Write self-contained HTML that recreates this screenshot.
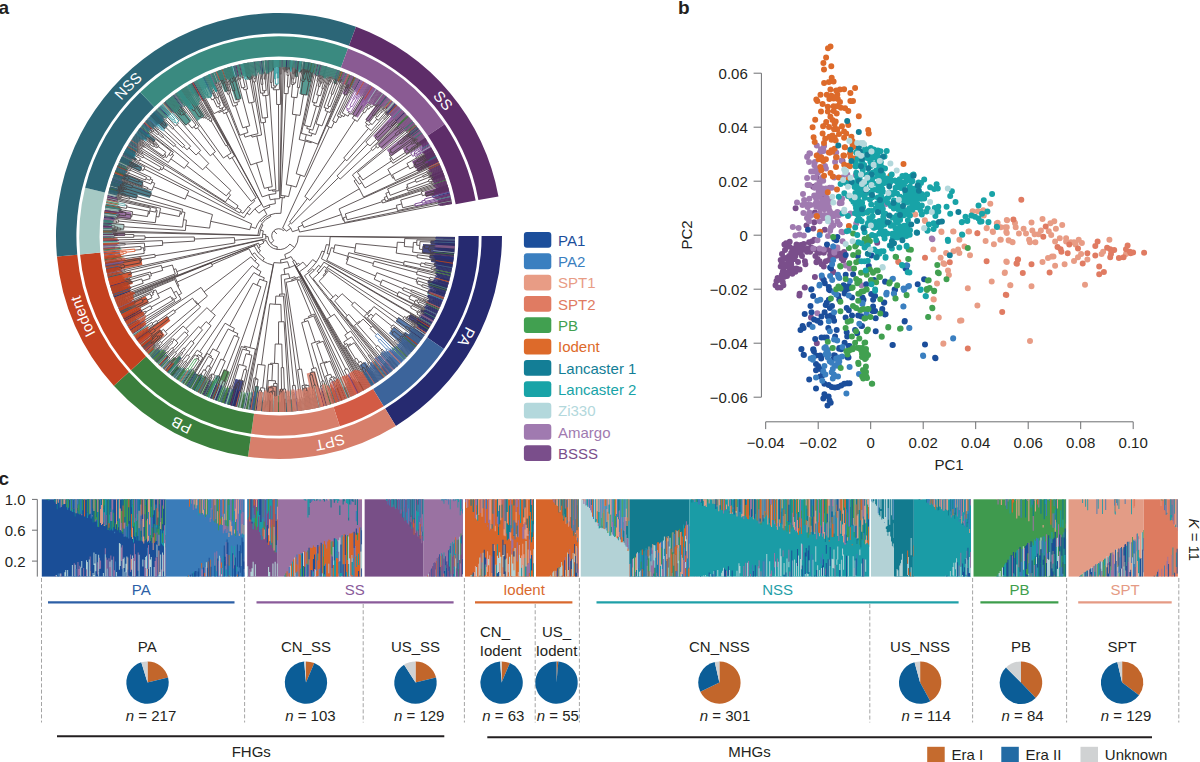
<!DOCTYPE html><html><head><meta charset="utf-8"><style>html,body{margin:0;padding:0;background:#fff;}svg{display:block;font-family:"Liberation Sans", sans-serif;}</style></head><body>
<svg width="1200" height="762" viewBox="0 0 1200 762">
<rect width="1200" height="762" fill="#fff"/>
<g font-weight="bold" font-size="19" fill="#231f20">
<text x="-1.5" y="13.8">a</text><text x="678" y="13.8">b</text><text x="-1.5" y="484.7">c</text></g>
<path d="M502 236A223 223 0 0 1 395.85 425.94L385.16 408.56A202.6 202.6 0 0 0 481.6 236Z" fill="#262a70"/>
<path d="M395.85 425.94A223 223 0 0 1 247.96 456.83L250.8 436.63A202.6 202.6 0 0 0 385.16 408.56Z" fill="#d77f6b"/>
<path d="M247.96 456.83A223 223 0 0 1 113.8 385.79L128.91 372.09A202.6 202.6 0 0 0 250.8 436.63Z" fill="#3b7f3d"/>
<path d="M113.8 385.79A223 223 0 0 1 56.95 256.6L77.27 254.71A202.6 202.6 0 0 0 128.91 372.09Z" fill="#c4411f"/>
<path d="M56.95 256.6A223 223 0 0 1 356 26.72L348.96 45.86A202.6 202.6 0 0 0 77.27 254.71Z" fill="#2c6677"/>
<path d="M356 26.72A223 223 0 0 1 498.48 196.51L478.4 200.12A202.6 202.6 0 0 0 348.96 45.86Z" fill="#5e2d69"/>
<path d="M478.8 236A199.8 199.8 0 0 1 443.86 348.88L427.11 337.41A179.5 179.5 0 0 0 458.5 236Z" fill="#262a70"/>
<path d="M443.86 348.88A199.8 199.8 0 0 1 383.69 406.18L373.06 388.88A179.5 179.5 0 0 0 427.11 337.41Z" fill="#3c649b"/>
<path d="M383.69 406.18A199.8 199.8 0 0 1 339.75 426.34L333.57 407A179.5 179.5 0 0 0 373.06 388.88Z" fill="#d35b45"/>
<path d="M339.75 426.34A199.8 199.8 0 0 1 251.19 433.86L254.02 413.75A179.5 179.5 0 0 0 333.57 407Z" fill="#d77f6b"/>
<path d="M251.19 433.86A199.8 199.8 0 0 1 130.99 370.21L146.03 356.57A179.5 179.5 0 0 0 254.02 413.75Z" fill="#3b7f3d"/>
<path d="M130.99 370.21A199.8 199.8 0 0 1 80.05 254.46L100.27 252.58A179.5 179.5 0 0 0 146.03 356.57Z" fill="#c4411f"/>
<path d="M80.05 254.46A199.8 199.8 0 0 1 85.13 187.66L104.83 192.58A179.5 179.5 0 0 0 100.27 252.58Z" fill="#a6c9c4"/>
<path d="M85.13 187.66A199.8 199.8 0 0 1 140.21 92.28L154.31 106.88A179.5 179.5 0 0 0 104.83 192.58Z" fill="#2c6677"/>
<path d="M140.21 92.28A199.8 199.8 0 0 1 347.99 48.49L340.98 67.54A179.5 179.5 0 0 0 154.31 106.88Z" fill="#3a8a80"/>
<path d="M347.99 48.49A199.8 199.8 0 0 1 444.64 124.27L427.81 135.62A179.5 179.5 0 0 0 340.98 67.54Z" fill="#8a5b93"/>
<path d="M444.64 124.27A199.8 199.8 0 0 1 475.64 200.62L455.66 204.21A179.5 179.5 0 0 0 427.81 135.62Z" fill="#5e2d69"/>
<defs><path id="circ" d="M486.6 236A207.6 207.6 0 1 1 71.4 236A207.6 207.6 0 1 1 486.6 236"/></defs>
<text font-size="15" fill="#fff" text-anchor="middle"><textPath href="#circ" startOffset="814.52">NSS</textPath></text>
<text font-size="15" fill="#fff" text-anchor="middle"><textPath href="#circ" startOffset="1160.91">SS</textPath></text>
<text font-size="15" fill="#fff" text-anchor="middle"><textPath href="#circ" startOffset="102.54">PA</textPath></text>
<text font-size="15" fill="#fff" text-anchor="middle"><textPath href="#circ" startOffset="275.73">SPT</textPath></text>
<text font-size="15" fill="#fff" text-anchor="middle"><textPath href="#circ" startOffset="425.01">PB</textPath></text>
<text font-size="15" fill="#fff" text-anchor="middle"><textPath href="#circ" startOffset="571.39">Iodent</textPath></text>
<path d="M454.9 241.4A176 176 0 0 1 454.7 245.9L430.6 244.5A151.8 151.8 0 0 0 430.8 240.7ZM454.8 244.1A176 176 0 0 1 454.7 245.9L441.7 245.2A162.9 162.9 0 0 0 441.8 243.5ZM454.7 245.9A176 176 0 0 1 453.8 256.6L422.3 252.9A144.3 144.3 0 0 0 423 244.1ZM454.6 247.7A176 176 0 0 1 453.9 255.7L428.4 252.9A150.4 150.4 0 0 0 429 246ZM454.6 247.7A176 176 0 0 1 454.5 249.5L440.1 248.4A161.6 161.6 0 0 0 440.3 246.7ZM454.5 249.5A176 176 0 0 1 454.2 253.1L438.3 251.5A160 160 0 0 0 438.6 248.3ZM453.7 257.5A176 176 0 0 1 453.1 262L429.5 258.4A152.1 152.1 0 0 0 430 254.6ZM453.7 257.5A176 176 0 0 1 453.5 259.3L441.2 257.7A163.6 163.6 0 0 0 441.4 256ZM453.1 262A176 176 0 0 1 452.5 265.5L431 261.9A154.2 154.2 0 0 0 431.5 258.7ZM452.9 262.8A176 176 0 0 1 452.5 265.5L435.1 262.5A158.3 158.3 0 0 0 435.5 260.2ZM452.5 265.5A176 176 0 0 1 451.9 269L433.9 265.6A157.7 157.7 0 0 0 434.5 262.4ZM452.5 265.5A176 176 0 0 1 452 268.2L441.3 266.2A165 165 0 0 0 441.7 263.7ZM449.5 279.6A176 176 0 0 1 449.1 281.3L440.3 279A166.9 166.9 0 0 0 440.8 277.3ZM448.6 283A176 176 0 0 1 448.1 284.7L438 281.8A165.4 165.4 0 0 0 438.4 280.2ZM447.9 285.6A176 176 0 0 1 446.8 289L427.5 282.9A155.7 155.7 0 0 0 428.4 279.9ZM447.6 286.5A176 176 0 0 1 446.8 289L433.6 284.9A162.1 162.1 0 0 0 434.3 282.5ZM446.8 289A176 176 0 0 1 446 291.6L428.1 285.6A157.1 157.1 0 0 0 428.8 283.4ZM445.4 293.3A176 176 0 0 1 444.8 295L435.8 291.8A166.5 166.5 0 0 0 436.4 290.2ZM444.5 295.8A176 176 0 0 1 443.3 299.2L427.6 293.2A159.2 159.2 0 0 0 428.7 290.1ZM444.5 295.8A176 176 0 0 1 443.6 298.4L432.1 294A163.7 163.7 0 0 0 432.9 291.7ZM435.6 316.4A176 176 0 0 1 434.3 318.8L420.4 311.4A160.2 160.2 0 0 0 421.5 309.2ZM435.1 317.2A176 176 0 0 1 434.3 318.8L424 313.3A164.3 164.3 0 0 0 424.8 311.8ZM433.9 319.6A176 176 0 0 1 433 321.2L421.6 314.8A162.9 162.9 0 0 0 422.4 313.4ZM430.3 325.8A176 176 0 0 1 427 331.2L407.9 318.8A153.2 153.2 0 0 0 410.7 314.2ZM237.2 407A176 176 0 0 1 227.7 404.3L235.5 378.7A149.2 149.2 0 0 0 243.6 380.9ZM235.4 406.5A176 176 0 0 1 232.8 405.8L235.8 395A164.8 164.8 0 0 0 238.2 395.7ZM219.1 401.5A176 176 0 0 1 217.5 400.9L221.8 389.3A163.7 163.7 0 0 0 223.3 389.9ZM211.6 398.6A176 176 0 0 1 210 397.9L215.3 385.3A162.3 162.3 0 0 0 216.9 386ZM195.4 390.9A176 176 0 0 1 193 389.6L199.1 378.8A163.6 163.6 0 0 0 201.3 380ZM175.7 378.5A176 176 0 0 1 174.2 377.4L180.7 368.7A165.1 165.1 0 0 0 182 369.7ZM169.2 373.6A176 176 0 0 1 166.5 371.3L179.2 355.9A156 156 0 0 0 181.7 357.9Z" fill="#262a70" opacity="0.85"/>
<path d="M424.6 334.9A176 176 0 0 1 420.9 340.1L395.7 321.5A144.7 144.7 0 0 0 398.7 317.3ZM420.9 340.1A176 176 0 0 1 419.3 342.2L409.4 334.7A163.6 163.6 0 0 0 410.9 332.7ZM419.3 342.2A176 176 0 0 1 417.1 345.1L403.4 334.2A158.5 158.5 0 0 0 405.4 331.7ZM417.1 345.1A176 176 0 0 1 410.8 352.6L388.9 333.2A146.7 146.7 0 0 0 394.1 326.9ZM416.6 345.8A176 176 0 0 1 410.8 352.6L390.9 335A149.4 149.4 0 0 0 395.8 329.2ZM416.6 345.8A176 176 0 0 1 413.2 349.9L399.3 338.2A157.8 157.8 0 0 0 402.4 334.4ZM414.3 348.5A176 176 0 0 1 413.2 349.9L405 343A165.2 165.2 0 0 0 406 341.7ZM413.2 349.9A176 176 0 0 1 410.8 352.6L397.1 340.5A157.7 157.7 0 0 0 399.2 338.1ZM412 351.3A176 176 0 0 1 410.8 352.6L401.5 344.4A163.6 163.6 0 0 0 402.6 343.1ZM398.2 365.4A176 176 0 0 1 396.9 366.7L388.5 357.3A163.4 163.4 0 0 0 389.7 356.2ZM395.6 367.8A176 176 0 0 1 394.2 369L386.3 359.8A163.8 163.8 0 0 0 387.5 358.7ZM391.5 371.4A176 176 0 0 1 390.1 372.5L383.2 364.1A165.1 165.1 0 0 0 384.5 363ZM389.4 373.1A176 176 0 0 1 388 374.2L381.8 366.3A166 166 0 0 0 383.1 365.3ZM388 374.2A176 176 0 0 1 386.6 375.3L381.1 368.1A167 167 0 0 0 382.4 367.1ZM384.4 376.9A176 176 0 0 1 382.3 378.5L373 365.7A160.2 160.2 0 0 0 375 364.3ZM383.7 377.4A176 176 0 0 1 382.3 378.5L374.1 367.2A162 162 0 0 0 375.4 366.2ZM378.6 381.1A176 176 0 0 1 371.9 385.5L359.4 365.5A152.5 152.5 0 0 0 365.3 361.7ZM378.6 381.1A176 176 0 0 1 375.6 383.1L365.3 367.3A157.1 157.1 0 0 0 367.9 365.5ZM377.1 382.1A176 176 0 0 1 375.6 383.1L368.4 372.2A162.9 162.9 0 0 0 369.8 371.2ZM375.6 383.1A176 176 0 0 1 372.6 385L364.1 371.5A160 160 0 0 0 366.8 369.7ZM225.1 403.5A176 176 0 0 1 223.4 403L226.8 392.7A165.2 165.2 0 0 0 228.4 393.3ZM177.1 379.5A176 176 0 0 1 175.7 378.5L183.4 367.9A162.9 162.9 0 0 0 184.7 368.8ZM156.4 362.3A176 176 0 0 1 155.2 361.1L161.9 354.3A166.5 166.5 0 0 0 163.1 355.5ZM152.6 358.5A176 176 0 0 1 151.4 357.2L158.9 350.1A165.7 165.7 0 0 0 160.1 351.3Z" fill="#3c649b" opacity="0.85"/>
<path d="M364.1 390.1A176 176 0 0 1 362.5 390.9L357.9 382.3A166.2 166.2 0 0 0 359.4 381.5ZM360.9 391.8A176 176 0 0 1 358.6 393L352.2 380.5A162 162 0 0 0 354.4 379.3ZM358.6 393A176 176 0 0 1 355.3 394.6L347.5 378.3A157.9 157.9 0 0 0 350.4 376.9ZM350.4 396.8A176 176 0 0 1 348 397.9L343.6 387.7A164.9 164.9 0 0 0 346 386.7ZM343 400A176 176 0 0 1 341.3 400.6L336.7 388.4A162.9 162.9 0 0 0 338.2 387.8ZM338.8 401.5A176 176 0 0 1 335.4 402.7L330.7 388.7A161.2 161.2 0 0 0 333.8 387.6Z" fill="#d35b45" opacity="0.85"/>
<path d="M331.1 404.1A176 176 0 0 1 329.4 404.6L325.7 392.1A162.9 162.9 0 0 0 327.3 391.6ZM326.8 405.4A176 176 0 0 1 324.2 406.1L320.4 391.8A161.2 161.2 0 0 0 322.8 391.2ZM324.2 406.1A176 176 0 0 1 313.7 408.5L306.7 373.5A140.3 140.3 0 0 0 315.1 371.6ZM321.6 406.8A176 176 0 0 1 319.9 407.2L317.8 398.4A167 167 0 0 0 319.4 398ZM318.1 407.6A176 176 0 0 1 313.7 408.5L310.2 390.8A157.9 157.9 0 0 0 314.1 390ZM317.3 407.8A176 176 0 0 1 313.7 408.5L311 394.7A161.9 161.9 0 0 0 314.2 394ZM312.9 408.7A176 176 0 0 1 306.7 409.8L303.2 388.2A154.1 154.1 0 0 0 308.7 387.3ZM306.7 409.8A176 176 0 0 1 304.9 410.1L303.2 398.4A164.2 164.2 0 0 0 304.8 398.2ZM302.2 410.5A176 176 0 0 1 299.6 410.8L298.2 399.4A164.6 164.6 0 0 0 300.7 399.1ZM299.6 410.8A176 176 0 0 1 297.8 411L296.8 402A166.9 166.9 0 0 0 298.5 401.8ZM293.3 411.4A176 176 0 0 1 290.6 411.6L289.8 399.8A164.2 164.2 0 0 0 292.4 399.6ZM283.5 411.9A176 176 0 0 1 279 412L279 389.2A153.2 153.2 0 0 0 282.9 389.1ZM282.6 412A176 176 0 0 1 280.8 412L280.7 401.4A165.4 165.4 0 0 0 282.3 401.4ZM276.3 412A176 176 0 0 1 266.4 411.5L268.2 386A150.4 150.4 0 0 0 276.7 386.4ZM265.5 411.5A176 176 0 0 1 263.7 411.3L264.6 401.2A165.9 165.9 0 0 0 266.3 401.4ZM262.8 411.3A176 176 0 0 1 261 411.1L262 401.8A166.7 166.7 0 0 0 263.7 402ZM255.7 410.5A176 176 0 0 1 253.9 410.2L255.8 397.3A163 163 0 0 0 257.4 397.6Z" fill="#d77f6b" opacity="0.85"/>
<path d="M255.7 410.5A176 176 0 0 1 251.3 409.8L255.1 386A151.9 151.9 0 0 0 258.9 386.5ZM253.9 410.2A176 176 0 0 1 251.3 409.8L253.4 396.1A162.1 162.1 0 0 0 255.9 396.5ZM230.2 405.1A176 176 0 0 1 227.7 404.3L231.8 390.8A161.8 161.8 0 0 0 234.2 391.5ZM211.6 398.6A176 176 0 0 1 206.7 396.5L216.4 375A152.4 152.4 0 0 0 220.6 376.8ZM201 393.8A176 176 0 0 1 199.4 393L205.3 381.2A162.9 162.9 0 0 0 206.8 382ZM195.4 390.9A176 176 0 0 1 191.5 388.7L200.1 373.7A158.7 158.7 0 0 0 203.6 375.7ZM189.9 387.8A176 176 0 0 1 188.4 386.9L194.3 377A164.4 164.4 0 0 0 195.8 377.8ZM103.6 221.6A176 176 0 0 1 103.7 219.8L111.4 220.5A168.3 168.3 0 0 0 111.3 222.2ZM105.2 208.2A176 176 0 0 1 105.6 205.6L121.4 208.4A160 160 0 0 0 121 210.8ZM163.8 103A176 176 0 0 1 165.1 101.8L172.9 110.9A164 164 0 0 0 171.6 112ZM165.1 101.8A176 176 0 0 1 172.8 95.6L191.6 120.5A144.8 144.8 0 0 0 185.3 125.6ZM165.1 101.8A176 176 0 0 1 166.5 100.6L175.4 111.3A162.2 162.2 0 0 0 174.1 112.3ZM166.5 100.6A176 176 0 0 1 172.1 96.2L184.8 112.7A155.2 155.2 0 0 0 179.8 116.6ZM166.5 100.6A176 176 0 0 1 168.6 98.9L176 108.1A164.2 164.2 0 0 0 174 109.7ZM167.2 100.1A176 176 0 0 1 168.6 98.9L175.3 107.2A165.3 165.3 0 0 0 174 108.3ZM169.3 98.4A176 176 0 0 1 171.4 96.7L179.6 107.3A162.6 162.6 0 0 0 177.6 108.8ZM170 97.8A176 176 0 0 1 171.4 96.7L178.4 105.8A164.5 164.5 0 0 0 177.1 106.8ZM175 94A176 176 0 0 1 176.5 93L183.4 102.7A164 164 0 0 0 182.1 103.7ZM177.2 92.4A176 176 0 0 1 186.2 86.5L204.5 116.1A141.2 141.2 0 0 0 197.3 120.9ZM177.2 92.4A176 176 0 0 1 183.1 88.4L196.3 108.7A151.8 151.8 0 0 0 191.2 112.2ZM180.9 89.9A176 176 0 0 1 183.1 88.4L190.1 99.1A163.3 163.3 0 0 0 188 100.4ZM180.9 89.9A176 176 0 0 1 182.4 88.9L188 97.4A165.8 165.8 0 0 0 186.5 98.3ZM184.6 87.4A176 176 0 0 1 186.2 86.5L191.1 94.4A166.7 166.7 0 0 0 189.6 95.3ZM187.7 85.5A176 176 0 0 1 189.2 84.6L194.5 93.4A165.8 165.8 0 0 0 193 94.3ZM190 84.2A176 176 0 0 1 192.3 82.8L199.6 95.6A161.3 161.3 0 0 0 197.5 96.9ZM207.6 75.1A176 176 0 0 1 210 74.1L217.3 91A157.6 157.6 0 0 0 215.1 92ZM211.7 73.4A176 176 0 0 1 213.4 72.7L217.6 83.2A164.6 164.6 0 0 0 216 83.9ZM216.7 71.4A176 176 0 0 1 220.9 69.9L228.2 90.8A153.8 153.8 0 0 0 224.6 92.2ZM216.7 71.4A176 176 0 0 1 219.2 70.5L223.9 83.3A162.3 162.3 0 0 0 221.5 84.2ZM223.5 69A176 176 0 0 1 225.2 68.4L228.3 78.1A165.8 165.8 0 0 0 226.7 78.6ZM225.2 68.4A176 176 0 0 1 232.9 66.1L241.7 98.6A142.4 142.4 0 0 0 235.4 100.4ZM226 68.2A176 176 0 0 1 230.3 66.9L234.5 81.3A161 161 0 0 0 230.5 82.4ZM232.9 66.1A176 176 0 0 1 234.7 65.7L237.5 76.6A164.7 164.7 0 0 0 235.9 77.1ZM243.4 63.6A176 176 0 0 1 248.7 62.6L251.6 79.1A159.3 159.3 0 0 0 246.8 80ZM243.4 63.6A176 176 0 0 1 246 63.1L248.4 75.8A163.1 163.1 0 0 0 246 76.3ZM264.7 60.6A176 176 0 0 1 266.5 60.4L267.2 70.2A166.2 166.2 0 0 0 265.5 70.4ZM268.3 60.3A176 176 0 0 1 270.1 60.2L270.5 69.5A166.7 166.7 0 0 0 268.9 69.6ZM271.9 60.1A176 176 0 0 1 273.7 60.1L274 70.3A165.7 165.7 0 0 0 272.3 70.4ZM286.2 60.1A176 176 0 0 1 288 60.2L287.5 70.3A165.9 165.9 0 0 0 285.8 70.2ZM288.9 60.3A176 176 0 0 1 290.7 60.4L290.1 69.3A167.1 167.1 0 0 0 288.4 69.2ZM296.1 60.8A176 176 0 0 1 299.6 61.2L297.8 77A160.1 160.1 0 0 0 294.5 76.6ZM301.4 61.4A176 176 0 0 1 303.2 61.7L301.7 72.3A165.3 165.3 0 0 0 300.1 72.1ZM304.1 61.8A176 176 0 0 1 314.7 63.7L308.1 95.4A143.6 143.6 0 0 0 299.5 93.9ZM304.1 61.8A176 176 0 0 1 309.4 62.6L306 81.9A156.5 156.5 0 0 0 301.3 81.1ZM306.8 62.2A176 176 0 0 1 308.5 62.5L306.9 72.2A166.2 166.2 0 0 0 305.2 71.9ZM309.4 62.6A176 176 0 0 1 314.7 63.7L311 81.8A157.5 157.5 0 0 0 306.2 80.9ZM320 64.8A176 176 0 0 1 321.7 65.3L318.9 76.5A164.4 164.4 0 0 0 317.3 76.1ZM325.2 66.2A176 176 0 0 1 326.9 66.6L323.8 77.6A164.6 164.6 0 0 0 322.2 77.2ZM338 70.2A176 176 0 0 1 340.6 71.1L335.8 84A162.3 162.3 0 0 0 333.4 83.1Z" fill="#3a8a80" opacity="0.85"/>
<path d="M243.3 408.3A176 176 0 0 1 241.6 408L243.6 398.5A166.3 166.3 0 0 0 245.3 398.8ZM227.7 404.3A176 176 0 0 1 225.9 403.8L229.6 392.3A163.9 163.9 0 0 0 231.2 392.8ZM219.1 401.5A176 176 0 0 1 211.6 398.6L223.7 369.5A144.6 144.6 0 0 0 229.8 371.9ZM205 395.7A176 176 0 0 1 203.4 394.9L207.9 385.5A165.5 165.5 0 0 0 209.5 386.2ZM198.6 392.6A176 176 0 0 1 196.2 391.3L204.2 376.2A158.9 158.9 0 0 0 206.4 377.4ZM191.5 388.7A176 176 0 0 1 187.6 386.4L195.6 373.3A160.6 160.6 0 0 0 199.1 375.4ZM190.7 388.3A176 176 0 0 1 188.4 386.9L195.1 375.7A162.9 162.9 0 0 0 197.3 376.9ZM172.8 376.3A176 176 0 0 1 171.4 375.2L177.6 367.1A165.7 165.7 0 0 0 179 368.1ZM171.4 375.2A176 176 0 0 1 169.9 374.1L176.1 366.3A166 166 0 0 0 177.4 367.4ZM165.8 370.7A176 176 0 0 1 163.7 369L174 357.2A160.4 160.4 0 0 0 175.8 358.8ZM159.7 365.4A176 176 0 0 1 158.4 364.2L167 355A163.4 163.4 0 0 0 168.2 356.1Z" fill="#3b7f3d" opacity="0.85"/>
<path d="M241.6 408A176 176 0 0 1 238.9 407.4L242 394A162.3 162.3 0 0 0 244.5 394.6ZM219.1 401.5A176 176 0 0 1 213.3 399.3L221 380A155.2 155.2 0 0 0 226.2 382ZM197.8 392.1A176 176 0 0 1 196.2 391.3L201.6 381.1A164.4 164.4 0 0 0 203.1 381.9ZM185.3 385A176 176 0 0 1 183.8 384L191.3 372.4A162.1 162.1 0 0 0 192.7 373.2ZM165.1 370.2A176 176 0 0 1 163.7 369L171.8 359.7A163.6 163.6 0 0 0 173.1 360.7ZM156.4 362.3A176 176 0 0 1 154.5 360.4L163.2 351.7A163.7 163.7 0 0 0 165 353.5ZM103.2 244A176 176 0 0 1 103.1 241.3L118 240.9A161 161 0 0 0 118.1 243.4ZM103 238.7A176 176 0 0 1 103 236L113.9 236A165.1 165.1 0 0 0 113.9 238.5ZM103.1 231.5A176 176 0 0 1 103.1 229.7L117 230.2A162.1 162.1 0 0 0 116.9 231.8ZM103.1 229.7A176 176 0 0 1 103.5 222.5L124 224.1A155.4 155.4 0 0 0 123.7 230.4ZM103.2 227A176 176 0 0 1 103.5 223.4L111.7 224A167.7 167.7 0 0 0 111.5 227.4ZM103.2 227A176 176 0 0 1 103.3 225.2L108.4 225.5A170.9 170.9 0 0 0 108.3 227.2Z" fill="#a6c9c4" opacity="0.85"/>
<path d="M146 351.2A176 176 0 0 1 140.3 344.3L159.7 329.2A151.4 151.4 0 0 0 164.6 335.1ZM146 351.2A176 176 0 0 1 141.4 345.7L159.7 331.1A152.6 152.6 0 0 0 163.7 335.9ZM145.4 350.5A176 176 0 0 1 141.9 346.4L157.1 334.2A156.5 156.5 0 0 0 160.2 337.9ZM140.3 344.3A176 176 0 0 1 136 338.5L167 316.3A137.8 137.8 0 0 0 170.4 320.8ZM140.3 344.3A176 176 0 0 1 136.5 339.3L152.9 327.4A155.7 155.7 0 0 0 156.3 331.8ZM140.3 344.3A176 176 0 0 1 138.1 341.4L150.5 332.1A160.5 160.5 0 0 0 152.5 334.7ZM139.7 343.6A176 176 0 0 1 138.1 341.4L148.6 333.6A162.9 162.9 0 0 0 150.1 335.6ZM130.4 330.4A176 176 0 0 1 129 328.1L139.3 321.8A163.9 163.9 0 0 0 140.6 323.9ZM129 328.1A176 176 0 0 1 127.6 325.8L138.2 319.5A163.7 163.7 0 0 0 139.5 321.6ZM125.4 321.9A176 176 0 0 1 122.8 317.1L140.2 308.1A156.4 156.4 0 0 0 142.5 312.3ZM125.4 321.9A176 176 0 0 1 124.5 320.3L134.7 314.7A164.4 164.4 0 0 0 135.5 316.2ZM124.5 320.3A176 176 0 0 1 123.7 318.7L134.6 312.9A163.6 163.6 0 0 0 135.4 314.4ZM123.7 318.7A176 176 0 0 1 122.8 317.1L133.5 311.6A164 164 0 0 0 134.3 313.1ZM122.4 316.3A176 176 0 0 1 118.5 308.3L145.5 296.1A146.4 146.4 0 0 0 148.7 302.8ZM120 311.5A176 176 0 0 1 118.5 308.3L134.4 301.1A158.6 158.6 0 0 0 135.8 304ZM120 311.5A176 176 0 0 1 119.3 309.9L128.1 305.8A166.3 166.3 0 0 0 128.8 307.4ZM114.1 297.5A176 176 0 0 1 113.2 294.9L129.6 289.1A158.5 158.5 0 0 0 130.5 291.4ZM113.2 294.9A176 176 0 0 1 111.7 290.7L129.7 284.8A157.1 157.1 0 0 0 131 288.6ZM111.7 290.7A176 176 0 0 1 110.6 287.3L131.9 280.8A153.8 153.8 0 0 0 132.8 283.8ZM111.7 290.7A176 176 0 0 1 111.2 289L121.9 285.6A164.8 164.8 0 0 0 122.4 287.2ZM110.6 287.3A176 176 0 0 1 109.6 283.8L129.9 278.1A155 155 0 0 0 130.7 281.1ZM110.6 287.3A176 176 0 0 1 110.1 285.5L119.9 282.7A165.8 165.8 0 0 0 120.3 284.3ZM109.4 283A176 176 0 0 1 107.8 276.9L130.8 271.4A152.4 152.4 0 0 0 132.2 276.6ZM109.4 283A176 176 0 0 1 108 277.7L127.3 273A156.2 156.2 0 0 0 128.5 277.7ZM106.8 272.5A176 176 0 0 1 105 262.8L141 257.3A139.7 139.7 0 0 0 142.4 265ZM106.6 271.6A176 176 0 0 1 106.1 269L117.8 266.8A164.2 164.2 0 0 0 118.2 269.2ZM106 268.1A176 176 0 0 1 105.6 266.3L117.9 264.2A163.5 163.5 0 0 0 118.2 265.8ZM105.6 266.3A176 176 0 0 1 105.3 264.6L118.3 262.4A162.9 162.9 0 0 0 118.5 264.1Z" fill="#c4411f" opacity="0.85"/>
<path d="M103.5 249.4A176 176 0 0 1 103.4 247.6L115 246.8A164.4 164.4 0 0 0 115.1 248.5ZM104.4 213.6A176 176 0 0 1 104.8 210.9L115.8 212.5A164.9 164.9 0 0 0 115.4 215ZM104.8 210.9A176 176 0 0 1 105.2 208.2L122.9 211.1A158 158 0 0 0 122.6 213.5ZM425.1 137.9A176 176 0 0 1 426.1 139.4L417.4 145.1A165.5 165.5 0 0 0 416.4 143.7ZM431.3 147.8A176 176 0 0 1 432.2 149.3L424.3 153.8A166.9 166.9 0 0 0 423.5 152.3ZM432.6 150.1A176 176 0 0 1 436.8 158.1L415.7 168.5A152.4 152.4 0 0 0 412.1 161.6ZM432.6 150.1A176 176 0 0 1 433.9 152.5L420.5 159.7A160.7 160.7 0 0 0 419.3 157.6ZM432.6 150.1A176 176 0 0 1 433.5 151.7L422.7 157.6A163.7 163.7 0 0 0 421.9 156.1ZM434.8 154.1A176 176 0 0 1 435.6 155.7L424.6 161.3A163.7 163.7 0 0 0 423.9 159.8ZM436.8 158.1A176 176 0 0 1 438.7 162.1L418.1 171.7A153.2 153.2 0 0 0 416.4 168.2ZM436.8 158.1A176 176 0 0 1 437.6 159.7L425.6 165.5A162.7 162.7 0 0 0 424.9 164ZM439.1 162.9A176 176 0 0 1 439.9 164.6L429 169.4A164.1 164.1 0 0 0 428.3 167.9ZM442.3 170.4A176 176 0 0 1 443 172L430.3 177A162.4 162.4 0 0 0 429.7 175.4ZM443.3 172.9A176 176 0 0 1 444.5 176.2L432.2 180.7A162.9 162.9 0 0 0 431.1 177.6ZM443.6 173.7A176 176 0 0 1 444.2 175.4L434.4 179A165.5 165.5 0 0 0 433.8 177.4ZM447.4 184.8A176 176 0 0 1 449.1 190.8L426.1 196.9A152.2 152.2 0 0 0 424.6 191.7ZM447.4 184.8A176 176 0 0 1 448.4 188.2L434.1 192.2A161.2 161.2 0 0 0 433.2 189.1ZM448.4 188.2A176 176 0 0 1 448.9 189.9L438.7 192.7A165.5 165.5 0 0 0 438.3 191Z" fill="#5e2d69" opacity="0.85"/>
<path d="M103 236A176 176 0 0 1 103 232.4L124.9 232.8A154.1 154.1 0 0 0 124.9 236ZM104.1 216.3A176 176 0 0 1 105.2 208.2L131.5 212.4A149.4 149.4 0 0 0 130.6 219.2ZM343.1 72.1A176 176 0 0 1 344.7 72.7L340.7 82.9A165.1 165.1 0 0 0 339.1 82.3ZM350.5 75.2A176 176 0 0 1 355.4 77.5L346.7 95.5A155.9 155.9 0 0 0 342.4 93.5ZM352.2 75.9A176 176 0 0 1 353.8 76.7L348.1 88.8A162.6 162.6 0 0 0 346.6 88.1ZM353.8 76.7A176 176 0 0 1 355.4 77.5L351.5 85.5A167 167 0 0 0 350 84.8ZM369.6 85.1A176 176 0 0 1 376.5 89.4L357.6 117.7A142 142 0 0 0 352.1 114.3ZM369.6 85.1A176 176 0 0 1 371.2 86.1L364.6 96.7A163.5 163.5 0 0 0 363.2 95.8ZM376.5 89.4A176 176 0 0 1 377.9 90.4L371.9 99.4A165.2 165.2 0 0 0 370.5 98.4ZM380.2 92A176 176 0 0 1 383.8 94.6L375.4 106A161.8 161.8 0 0 0 372 103.6ZM380.2 92A176 176 0 0 1 382.3 93.5L375.8 102.5A164.9 164.9 0 0 0 373.8 101.1ZM380.9 92.5A176 176 0 0 1 382.3 93.5L377.9 99.7A168.4 168.4 0 0 0 376.5 98.7ZM383.8 94.6A176 176 0 0 1 388.1 97.9L369 122.1A145.2 145.2 0 0 0 365.4 119.4ZM383.8 94.6A176 176 0 0 1 385.2 95.7L376.5 107.2A161.5 161.5 0 0 0 375.2 106.2ZM385.2 95.7A176 176 0 0 1 388.1 97.9L373.9 115.9A153.1 153.1 0 0 0 371.4 114ZM391.6 100.7A176 176 0 0 1 392.9 101.9L386.7 109.2A166.4 166.4 0 0 0 385.4 108.1ZM394.3 103A176 176 0 0 1 395.6 104.2L386.7 114.3A162.5 162.5 0 0 0 385.4 113.3ZM395.6 104.2A176 176 0 0 1 397 105.4L387.8 115.6A162.2 162.2 0 0 0 386.5 114.5ZM397.7 106A176 176 0 0 1 399.6 107.8L391.7 116.3A164.4 164.4 0 0 0 389.8 114.6ZM399.6 107.8A176 176 0 0 1 406 114.2L378 141A137.2 137.2 0 0 0 373.1 136.1ZM402.9 111A176 176 0 0 1 404.8 112.9L396.3 121.1A164.2 164.2 0 0 0 394.5 119.4ZM402.9 111A176 176 0 0 1 404.1 112.2L396.6 119.6A165.4 165.4 0 0 0 395.4 118.5ZM407.9 116.1A176 176 0 0 1 413.8 122.8L382.4 149.2A135 135 0 0 0 377.9 144ZM409.7 118.1A176 176 0 0 1 410.9 119.4L404 125.5A166.8 166.8 0 0 0 402.9 124.3ZM411.5 120.1A176 176 0 0 1 413.8 122.8L400.8 133.8A159 159 0 0 0 398.7 131.3ZM411.5 120.1A176 176 0 0 1 413.2 122.2L404.6 129.5A164.6 164.6 0 0 0 402.9 127.6ZM413.8 122.8A176 176 0 0 1 414.9 124.2L406.3 131.3A164.8 164.8 0 0 0 405.2 130ZM415.5 124.9A176 176 0 0 1 416.6 126.3L409.8 131.8A167.3 167.3 0 0 0 408.7 130.4ZM416.6 126.3A176 176 0 0 1 422.6 134.2L391.5 156.2A137.9 137.9 0 0 0 386.8 150.1ZM416.6 126.3A176 176 0 0 1 421.5 132.7L392.6 153.7A140.3 140.3 0 0 0 388.7 148.6ZM418.3 128.4A176 176 0 0 1 420.5 131.3L402.3 144.7A153.4 153.4 0 0 0 400.4 142.2ZM419.4 129.9A176 176 0 0 1 420.5 131.3L413.3 136.6A167.1 167.1 0 0 0 412.3 135.2ZM421.5 132.7A176 176 0 0 1 422.6 134.2L413.1 140.9A164.4 164.4 0 0 0 412.1 139.6ZM422.6 134.2A176 176 0 0 1 427.1 140.9L406.5 154.1A151.5 151.5 0 0 0 402.6 148.4ZM422.6 134.2A176 176 0 0 1 426.6 140.1L408.9 151.6A154.9 154.9 0 0 0 405.4 146.4ZM423.1 134.9A176 176 0 0 1 425.1 137.9L415.4 144.4A164.3 164.3 0 0 0 413.5 141.7ZM423.6 135.7A176 176 0 0 1 425.1 137.9L416.3 143.8A165.4 165.4 0 0 0 414.9 141.7ZM423.6 135.7A176 176 0 0 1 424.6 137.2L418 141.7A167.9 167.9 0 0 0 417 140.3Z" fill="#8a5b93" opacity="0.85"/>
<path d="M108.7 191.6A176 176 0 0 1 110.1 186.4L137.6 194.4A147.4 147.4 0 0 0 136.4 198.8ZM108.7 191.6A176 176 0 0 1 109.4 189L125.6 193.5A159.2 159.2 0 0 0 125 195.8ZM108.9 190.7A176 176 0 0 1 109.4 189L118.9 191.6A166.1 166.1 0 0 0 118.5 193.2ZM110.1 186.4A176 176 0 0 1 112.9 177.8L151.9 191.5A134.7 134.7 0 0 0 149.8 198ZM110.1 186.4A176 176 0 0 1 111.2 182.9L126.7 187.8A159.7 159.7 0 0 0 125.7 191ZM110.1 186.4A176 176 0 0 1 110.9 183.8L124.4 188A161.9 161.9 0 0 0 123.7 190.4ZM110.1 186.4A176 176 0 0 1 110.7 184.7L122.2 188.2A163.9 163.9 0 0 0 121.7 189.8ZM111.2 182.9A176 176 0 0 1 112 180.4L124.3 184.5A163 163 0 0 0 123.6 186.9ZM111.2 182.9A176 176 0 0 1 111.7 181.2L121.4 184.4A165.8 165.8 0 0 0 120.9 186ZM113.5 176.1A176 176 0 0 1 115.7 170.3L143.4 181.4A146.2 146.2 0 0 0 141.5 186.3ZM114.7 172.8A176 176 0 0 1 115.4 171.1L126.9 175.7A163.6 163.6 0 0 0 126.3 177.2ZM117.1 167A176 176 0 0 1 117.8 165.3L126.8 169.3A166.2 166.2 0 0 0 126.2 170.8ZM119.3 162A176 176 0 0 1 122 156.4L142.3 166.7A153.3 153.3 0 0 0 139.9 171.6ZM120.1 160.4A176 176 0 0 1 121.2 158L136 165.3A159.5 159.5 0 0 0 134.9 167.5ZM123.3 154A176 176 0 0 1 124.6 151.6L136.7 158.2A162.2 162.2 0 0 0 135.5 160.4ZM123.7 153.2A176 176 0 0 1 124.6 151.6L133 156.2A166.4 166.4 0 0 0 132.2 157.7ZM124.6 151.6A176 176 0 0 1 125.9 149.3L135.6 154.8A164.8 164.8 0 0 0 134.4 157ZM126.3 148.5A176 176 0 0 1 127.2 146.9L135.6 151.9A166.2 166.2 0 0 0 134.8 153.3ZM138.1 130.5A176 176 0 0 1 140.3 127.6L155.7 139.7A156.5 156.5 0 0 0 153.8 142.2ZM150.2 116A176 176 0 0 1 154.6 111.5L168.2 125.1A156.7 156.7 0 0 0 164.3 129.2Z" fill="#2c6677" opacity="0.85"/>
<path d="M298.4 236.2L455 237.4M330.2 236.7L455 238.3M443.6 239L455 239.2M443.5 239.8L455 240.1M443.6 239A164.6 164.6 0 0 1 443.5 239.8M404.7 238.6L443.6 239.4M416.9 239.9L454.9 241M430.8 241.1L454.9 241.9M445.1 242.4L454.9 242.8M445.1 243.2L454.8 243.7M445.1 242.4A166.3 166.3 0 0 1 445.1 243.2M438.3 242.5L445.1 242.8M441.7 243.9L454.8 244.5M441.7 244.7L454.7 245.4M441.7 243.9A162.9 162.9 0 0 1 441.7 244.7M438.2 244.2L441.7 244.3M438.3 242.5A159.5 159.5 0 0 1 438.2 244.2M430.7 243L438.3 243.3M430.8 241.1A151.8 151.8 0 0 1 430.7 243M420 241.6L430.7 242M442.7 245.6L454.7 246.3M442.6 246.5L454.6 247.2M442.7 245.6A164 164 0 0 1 442.6 246.5M424.8 245L442.6 246.1M440.2 247.1L454.6 248.1M440.2 248L454.5 249M440.2 247.1A161.6 161.6 0 0 1 440.2 248M429 246.7L440.2 247.6M438.5 248.7L454.4 249.9M445.9 250.1L454.4 250.8M445.8 251L454.3 251.7M445.9 250.1A167.5 167.5 0 0 1 445.8 251M442.9 250.3L445.9 250.5M442.8 251.5L454.2 252.6M442.9 250.3A164.6 164.6 0 0 1 442.8 251.5M438.4 250.5L442.9 250.9M438.5 248.7A160 160 0 0 1 438.4 250.5M430.5 248.9L438.5 249.6M442.3 252.3L454.1 253.5M442.3 253.2L454 254.4M442.3 252.3A164.2 164.2 0 0 1 442.3 253.2M439.9 252.5L442.3 252.7M439.8 253.7L453.9 255.3M439.9 252.5A161.8 161.8 0 0 1 439.8 253.7M430.2 252.1L439.9 253.1M430.5 248.9A152.1 152.1 0 0 1 430.2 252.1M428.7 250.3L430.4 250.5M429 246.7A150.4 150.4 0 0 1 428.7 250.3M424.6 248.2L428.8 248.5M424.8 245A146.1 146.1 0 0 1 424.6 248.2M422.9 246.4L424.7 246.6M422.3 252.5L453.8 256.2M422.9 246.4A144.3 144.3 0 0 1 422.3 252.5M419.5 249.2L422.6 249.5M420 241.6A141.1 141.1 0 0 1 419.5 249.2M416.7 245.2L419.8 245.4M416.9 239.9A138 138 0 0 1 416.7 245.2M413.4 242.4L416.8 242.5M412.6 252.1L453.7 257.1M413.4 242.4A134.5 134.5 0 0 1 412.6 252.1M404.3 246.5L413.1 247.2M404.7 238.6A125.8 125.8 0 0 1 404.3 246.5M397.3 242.2L404.6 242.6M429.9 255.4L441.3 256.8M440.9 258L453.4 259.7M440.7 258.9L453.3 260.6M440.9 258A163.4 163.4 0 0 1 440.7 258.9M437.2 257.9L440.8 258.4M437 259.2L453.1 261.5M437.2 257.9A159.7 159.7 0 0 1 437 259.2M429.6 257.5L437.1 258.5M429.9 255.4A152.1 152.1 0 0 1 429.6 257.5M417.4 254.8L429.7 256.4M431.5 259.1L453 262.4M435.4 260.6L452.9 263.3M442.8 262.6L452.7 264.2M442.6 263.4L452.6 265.1M442.8 262.6A165.9 165.9 0 0 1 442.6 263.4M435.2 261.7L442.7 263M435.4 260.6A158.3 158.3 0 0 1 435.2 261.7M431.3 260.5L435.3 261.1M431.5 259.1A154.2 154.2 0 0 1 431.3 260.5M417 257.6L431.4 259.8M417.4 254.8A139.7 139.7 0 0 1 417 257.6M396.2 253.1L417.2 256.2M397.3 242.2A118.4 118.4 0 0 1 396.2 253.1M355.9 243.6L396.9 247.6M441.6 264.1L452.4 265.9M444.1 265.4L452.3 266.8M444 266.2L452.1 267.7M444.1 265.4A167.7 167.7 0 0 1 444 266.2M441.4 265.3L444.1 265.8M441.6 264.1A165 165 0 0 1 441.4 265.3M434.3 263.4L441.5 264.7M434 265.2L452 268.6M434.3 263.4A157.7 157.7 0 0 1 434 265.2M425.1 262.7L434.2 264.3M438 266.8L451.8 269.5M437.9 267.6L451.6 270.4M438 266.8A162 162 0 0 1 437.9 267.6M424.7 264.6L438 267.2M425.1 262.7A148.5 148.5 0 0 1 424.7 264.6M421 262.9L424.9 263.6M437.5 268.4L451.4 271.2M437.3 269.2L451.3 272.1M437.5 268.4A161.8 161.8 0 0 1 437.3 269.2M431.5 267.6L437.4 268.8M434 269.3L451.1 273M439.2 271.3L450.9 273.9M439.1 272.1L450.7 274.8M439.2 271.3A164.1 164.1 0 0 1 439.1 272.1M433.8 270.5L439.1 271.7M434 269.3A158.6 158.6 0 0 1 433.8 270.5M431.2 269.3L433.9 269.9M431.5 267.6A155.8 155.8 0 0 1 431.2 269.3M420.3 266.1L431.4 268.5M421 262.9A144.5 144.5 0 0 1 420.3 266.1M404.3 261.2L420.6 264.5M403.5 264.8L450.5 275.6M404.3 261.2A127.8 127.8 0 0 1 403.5 264.8M354.5 252.3L403.9 263M355.9 243.6A77.3 77.3 0 0 1 354.5 252.3M334.9 244.8L355.3 248M436.6 273.3L450.3 276.5M436.4 274.1L450.1 277.4M436.6 273.3A161.9 161.9 0 0 1 436.4 274.1M348.8 252.7L436.5 273.7M435.8 274.8L449.9 278.2M438.7 276.3L449.6 279.1M440.6 277.7L449.4 280M440.4 278.5L449.2 280.9M440.6 277.7A166.9 166.9 0 0 1 440.4 278.5M438.4 277.6L440.5 278.1M438.7 276.3A164.7 164.7 0 0 1 438.4 277.6M435.5 276.2L438.5 277M435.8 274.8A161.5 161.5 0 0 1 435.5 276.2M417.4 270.9L435.6 275.5M438.1 278.8L449 281.7M437.9 279.6L448.7 282.6M438.1 278.8A164.8 164.8 0 0 1 437.9 279.6M430 277L438 279.2M438.3 280.6L448.5 283.5M438.1 281.4L448.2 284.3M438.3 280.6A165.4 165.4 0 0 1 438.1 281.4M436.9 280.7L438.2 281M436.6 281.9L448 285.2M436.9 280.7A164.1 164.1 0 0 1 436.6 281.9M429.4 279.1L436.8 281.3M430 277A156.4 156.4 0 0 1 429.4 279.1M416.5 274.4L429.7 278.1M417.4 270.9A142.7 142.7 0 0 1 416.5 274.4M374.1 261.2L416.9 272.6M428.3 280.3L447.7 286M434.2 282.9L447.5 286.9M436.4 284.4L447.2 287.8M436.1 285.2L447 288.6M436.4 284.4A164.6 164.6 0 0 1 436.1 285.2M433.8 284.1L436.2 284.8M434.2 282.9A162.1 162.1 0 0 1 433.8 284.1M427.9 281.6L434 283.5M428.3 280.3A155.7 155.7 0 0 1 427.9 281.6M417.5 277.7L428.1 280.9M428.7 283.7L446.7 289.5M432.9 285.9L446.4 290.3M432.6 286.7L446.1 291.2M432.9 285.9A161.8 161.8 0 0 1 432.6 286.7M428.3 284.9L432.8 286.3M428.7 283.7A157.1 157.1 0 0 1 428.3 284.9M418 280.9L428.5 284.3M434 288.1L445.8 292M433.8 288.9L445.6 292.9M434 288.1A163.5 163.5 0 0 1 433.8 288.9M422.5 284.6L433.9 288.5M436.3 290.6L445.3 293.7M436 291.4L445 294.6M436.3 290.6A166.5 166.5 0 0 1 436 291.4M431.2 289.3L436.1 291M430.8 290.4L444.7 295.4M431.2 289.3A161.3 161.3 0 0 1 430.8 290.4M421.8 286.6L431 289.9M422.5 284.6A151.5 151.5 0 0 1 421.8 286.6M417 283.8L422.2 285.6M418 280.9A146.1 146.1 0 0 1 417 283.8M416.1 281.9L417.5 282.4M417.5 277.7A144.6 144.6 0 0 1 416.1 281.9M372.7 265.8L416.8 279.8M374.1 261.2A98.4 98.4 0 0 1 372.7 265.8M348.8 256.4L373.4 263.5M432.8 292L444.4 296.3M435.7 294L444.1 297.1M435.4 294.8L443.7 298M435.7 294A167 167 0 0 1 435.4 294.8M432.3 293.2L435.5 294.4M432.8 292A163.7 163.7 0 0 1 432.3 293.2M428.4 291.1L432.6 292.6M427.7 292.8L443.4 298.8M428.4 291.1A159.2 159.2 0 0 1 427.7 292.8M376.9 272.7L428.1 292M429.2 295.3L430.9 296M428.6 296.7L442.1 302.1M429.2 295.3A161.5 161.5 0 0 1 428.6 296.7M428 295.7L428.9 296M427.5 297.1L441.8 303M428 295.7A160.5 160.5 0 0 1 427.5 297.1M411.6 289.8L427.7 296.4M433 300.3L441.4 303.8M432.6 301L441.1 304.6M433 300.3A166.8 166.8 0 0 1 432.6 301M410.9 291.5L432.8 300.7M411.6 289.8A143.1 143.1 0 0 1 410.9 291.5M403.7 287.5L411.3 290.6M428.3 300.1L440.7 305.4M428 300.9L440.4 306.3M428.3 300.1A162.5 162.5 0 0 1 428 300.9M423.9 298.7L428.2 300.5M423.4 299.8L440 307.1M423.9 298.7A157.9 157.9 0 0 1 423.4 299.8M402.6 290L423.7 299.2M403.7 287.5A134.9 134.9 0 0 1 402.6 290M382.3 279.9L403.2 288.8M410.8 295L439.6 307.9M426.5 302.9L439.3 308.7M426.2 303.7L438.9 309.5M426.5 302.9A162 162 0 0 1 426.2 303.7M418 299.5L426.3 303.3M429.9 306.3L438.5 310.4M429.5 307.1L438.1 311.2M429.9 306.3A166.5 166.5 0 0 1 429.5 307.1M419.2 301.8L429.7 306.7M427.9 307.3L437.8 312M427.5 308L437.4 312.8M427.9 307.3A165.1 165.1 0 0 1 427.5 308M424 305.8L427.7 307.6M423.4 306.9L437 313.6M424 305.8A160.9 160.9 0 0 1 423.4 306.9M418.3 303.8L423.7 306.4M419.2 301.8A154.9 154.9 0 0 1 418.3 303.8M416.9 301.9L418.8 302.8M418 299.5A152.9 152.9 0 0 1 416.9 301.9M415.8 299.9L417.5 300.7M414.2 303.2L436.6 314.4M415.8 299.9A151 151 0 0 1 414.2 303.2M409.1 298.8L415 301.6M410.8 295A144.4 144.4 0 0 1 409.1 298.8M398.8 291.7L410 296.9M397 295.5L436.2 315.2M398.8 291.7A132.1 132.1 0 0 1 397 295.5M380 284.9L397.9 293.6M382.3 279.9A112.2 112.2 0 0 1 380 284.9M374.2 279.2L381.2 282.4M376.9 272.7A104.6 104.6 0 0 1 374.2 279.2M346.2 263.8L375.6 276M348.8 256.4A72.7 72.7 0 0 1 346.2 263.8M346.7 259.8L347.6 260.1M348.8 252.7A71.8 71.8 0 0 1 346.7 259.8M333.3 252L347.9 256.3M334.9 244.8A56.6 56.6 0 0 1 333.3 252M331.2 247.7L334.2 248.4M326.7 260.3L435.8 316M331.2 247.7A53.5 53.5 0 0 1 326.7 260.3M327.1 253.4L329.3 254.2M330.2 236.7A51.2 51.2 0 0 1 327.1 253.4M326.3 244.6L329.4 245.1M421.4 309.6L435.4 316.8M424.6 312.2L434.9 317.6M424.2 312.9L434.5 318.4M424.6 312.2A164.3 164.3 0 0 1 424.2 312.9M420.8 310.7L424.4 312.5M421.4 309.6A160.2 160.2 0 0 1 420.8 310.7M412 305.4L421.1 310.1M418 310.6L434.1 319.2M422.2 313.7L433.7 320M421.8 314.5L433.2 320.8M422.2 313.7A162.9 162.9 0 0 1 421.8 314.5M418.3 312.1L422 314.1M421.4 315.2L432.8 321.6M421 315.9L432.4 322.3M421.4 315.2A163 163 0 0 1 421 315.9M420.2 315L421.2 315.6M423.3 318.2L431.9 323.1M422.9 318.9L431.5 323.9M423.3 318.2A166.1 166.1 0 0 1 422.9 318.9M419.3 316.4L423.1 318.6M420.2 315A161.7 161.7 0 0 1 419.3 316.4M417.1 314.2L419.7 315.7M418.3 312.1A158.8 158.8 0 0 1 417.1 314.2M416.8 312.7L417.7 313.2M418 310.6A157.7 157.7 0 0 1 416.8 312.7M410.7 307.9L417.4 311.6M412 305.4A150 150 0 0 1 410.7 307.9M321.4 258.7L411.3 306.7M326.3 244.6A48.1 48.1 0 0 1 321.4 258.7M322 251L324.4 251.8M323.9 262.2L431 324.7M328.8 265.4L430.6 325.4M410.5 314.5L430.1 326.2M420.4 321.4L429.7 327M419.9 322.1L429.2 327.8M420.4 321.4A165.2 165.2 0 0 1 419.9 322.1M417.8 320.3L420.2 321.7M417.2 321.4L428.7 328.5M417.8 320.3A162.4 162.4 0 0 1 417.2 321.4M410.4 316.5L417.5 320.9M417.3 322.4L428.2 329.3M416.9 323.1L427.8 330M417.3 322.4A163.1 163.1 0 0 1 416.9 323.1M413 320.2L417.1 322.8M412.4 321.3L427.3 330.8M413 320.2A158.3 158.3 0 0 1 412.4 321.3M409.1 318.5L412.7 320.7M410.4 316.5A154.1 154.1 0 0 1 409.1 318.5M409 317L409.8 317.5M410.5 314.5A153.2 153.2 0 0 1 409 317M409 315.3L409.8 315.8M406.8 318.6L426.8 331.6M409 315.3A152.2 152.2 0 0 1 406.8 318.6M407.2 316.5L407.9 317M405.7 318.8L426.3 332.3M407.2 316.5A151.4 151.4 0 0 1 405.7 318.8M404.5 316.4L406.4 317.7M411.8 323.8L425.8 333.1M413.8 326.1L425.3 333.8M413.3 326.8L424.8 334.5M413.8 326.1A162.1 162.1 0 0 1 413.3 326.8M411.1 324.8L413.5 326.4M411.8 323.8A159.2 159.2 0 0 1 411.1 324.8M403 318.7L411.5 324.3M404.5 316.4A149.1 149.1 0 0 1 403 318.7M328.5 268.4L403.8 317.6M398.5 317.6L424.3 335.3M415.2 330.1L423.8 336M414.8 330.8L423.3 336.8M415.2 330.1A165.6 165.6 0 0 1 414.8 330.8M413 329L415 330.5M412.3 330.1L422.8 337.5M413 329A163.1 163.1 0 0 1 412.3 330.1M409.8 327.6L412.6 329.6M412.9 331.5L422.3 338.2M412.4 332.2L421.7 339M412.9 331.5A164.4 164.4 0 0 1 412.4 332.2M408.8 329.1L412.6 331.9M409.8 327.6A159.7 159.7 0 0 1 408.8 329.1M406.6 326.4L409.3 328.4M405.4 328.1L421.2 339.7M406.6 326.4A156.4 156.4 0 0 1 405.4 328.1M396.5 320.5L406 327.3M398.5 317.6A144.7 144.7 0 0 1 396.5 320.5M328.5 270.7L397.5 319.1M410.7 333L420.7 340.4M411.9 335L420.1 341.1M411.4 335.7L419.6 341.9M411.9 335A165.7 165.7 0 0 1 411.4 335.7M409.9 334.1L411.6 335.3M410.7 333A163.6 163.6 0 0 1 409.9 334.1M373.9 306.5L410.3 333.6M410.3 335.9L419.1 342.6M409.8 336.6L418.5 343.3M410.3 335.9A165 165 0 0 1 409.8 336.6M407.8 334.5L410.1 336.2M407 335.5L418 344M407.8 334.5A162.1 162.1 0 0 1 407 335.5M404.6 332.8L407.4 335M403.7 333.9L417.4 344.7M404.6 332.8A158.5 158.5 0 0 1 403.7 333.9M393.1 324.8L404.1 333.4M393.9 327.2L416.9 345.4M405.9 337.8L416.3 346.1M405.4 338.4L415.7 346.8M405.9 337.8A162.7 162.7 0 0 1 405.4 338.4M402.8 335.8L405.6 338.1M407.5 341.2L415.2 347.5M406.9 341.9L414.6 348.2M407.5 341.2A166.1 166.1 0 0 1 406.9 341.9M401.8 337.1L407.2 341.5M402.8 335.8A159 159 0 0 1 401.8 337.1M401.4 335.7L402.3 336.4M405.8 342L414 348.9M405.2 342.6L413.5 349.6M405.8 342A165.2 165.2 0 0 1 405.2 342.6M399.8 337.5L405.5 342.3M401.4 335.7A157.8 157.8 0 0 1 399.8 337.5M394.1 331.2L400.6 336.6M403.9 342.6L412.9 350.3M403.4 343.2L412.3 350.9M403.9 342.6A164.2 164.2 0 0 1 403.4 343.2M398.7 338.7L403.6 342.9M402.3 343.5L411.7 351.6M401.8 344.1L411.1 352.3M402.3 343.5A163.6 163.6 0 0 1 401.8 344.1M397.6 339.9L402.1 343.8M398.7 338.7A157.7 157.7 0 0 1 397.6 339.9M391.9 333.9L398.2 339.3M394.1 331.2A149.4 149.4 0 0 1 391.9 333.9M390.9 330.8L393 332.6M393.9 327.2A146.7 146.7 0 0 1 390.9 330.8M390.8 327.7L392.4 329M393.1 324.8A144.6 144.6 0 0 1 390.8 327.7M375.8 313.3L392 326.3M403.3 346.6L410.5 353M402.7 347.2L409.9 353.6M403.3 346.6A166.4 166.4 0 0 1 402.7 347.2M395.4 340L403 346.9M401.6 347.3L409.3 354.3M401.1 348L408.7 355M401.6 347.3A165.6 165.6 0 0 1 401.1 348M394.3 341.2L401.4 347.6M395.4 340A156.1 156.1 0 0 1 394.3 341.2M370.9 319L394.8 340.6M375.8 313.3A123.8 123.8 0 0 1 370.9 319M370.9 314.1L373.4 316.2M367.4 317.9L408.1 355.6M370.9 314.1A120.6 120.6 0 0 1 367.4 317.9M367.5 314.5L369.2 316M373.9 306.5A118.3 118.3 0 0 1 367.5 314.5M370 309.9L370.8 310.6M400.5 349.7L407.5 356.3M399.9 350.4L406.9 356.9M400.5 349.7A166.4 166.4 0 0 1 399.9 350.4M364.4 316.3L400.2 350.1M370 309.9A117.2 117.2 0 0 1 364.4 316.3M354.4 302L367.2 313.2M351.5 305.2L406.3 357.6M354.4 302A100.2 100.2 0 0 1 351.5 305.2M342.1 293.7L353 303.6M372.4 326.1L405.6 358.2M370.2 328.4L376.4 334.7M372.4 326.1A129.8 129.8 0 0 1 370.2 328.4M363.1 319.1L371.3 327.3M389.4 356.5L397.9 365.7M388.8 357.1L397.3 366.4M389.4 356.5A163.4 163.4 0 0 1 388.8 357.1M382.1 349.1L389.1 356.8M390.2 359.8L396.6 367M389.5 360.4L395.9 367.6M390.2 359.8A166.4 166.4 0 0 1 389.5 360.4M380.9 350.1L389.9 360.1M382.1 349.1A153 153 0 0 1 380.9 350.1M377.8 345.4L381.5 349.6M387.2 359L395.2 368.1M386.6 359.5L394.6 368.7M387.2 359A163.8 163.8 0 0 1 386.6 359.5M381.6 353.2L386.9 359.3M386.3 360.5L393.9 369.3M385.6 361L393.2 369.9M386.3 360.5A164.3 164.3 0 0 1 385.6 361M380.4 354.3L385.9 360.7M381.6 353.2A155.8 155.8 0 0 1 380.4 354.3M375.5 347.4L381 353.7M377.8 345.4A147.4 147.4 0 0 1 375.5 347.4M357.3 324.6L376.6 346.4M363.1 319.1A118.2 118.2 0 0 1 357.3 324.6M359.4 321.1L360.2 321.9M385.7 362.4L392.5 370.5M385.1 363L391.8 371.1M385.7 362.4A165.5 165.5 0 0 1 385.1 363M354.3 325.6L385.4 362.7M359.4 321.1A117.1 117.1 0 0 1 354.3 325.6M348.8 314.3L356.9 323.4M384.2 363.3L391.2 371.6M383.6 363.8L390.5 372.2M384.2 363.3A165.1 165.1 0 0 1 383.6 363.8M345.6 317L383.9 363.5M348.8 314.3A104.8 104.8 0 0 1 345.6 317M334.6 300.9L347.2 315.6M342.1 293.7A85.4 85.4 0 0 1 334.6 300.9M335.8 294.7L338.4 297.4M330.4 299.4L389.8 372.8M335.8 294.7A81.6 81.6 0 0 1 330.4 299.4M319.1 281.2L333.1 297.1M328.5 270.7A60.4 60.4 0 0 1 319.1 281.2M323.2 275.4L324.1 276.2M328.5 268.4A59.2 59.2 0 0 1 323.2 275.4M324.9 271.1L326 272M328.8 265.4A57.8 57.8 0 0 1 324.9 271.1M324.2 266.5L326.9 268.3M382.8 365.5L389.1 373.3M382.1 366.1L388.4 373.9M382.8 365.5A166 166 0 0 1 382.1 366.1M313 278.6L382.5 365.8M324.2 266.5A54.5 54.5 0 0 1 313 278.6M317.2 271.2L319 273M323.9 262.2A51.9 51.9 0 0 1 317.2 271.2M318.6 265.3L320.8 266.9M382.1 367.3L387.7 374.5M381.4 367.9L386.9 375M382.1 367.3A167 167 0 0 1 381.4 367.9M380.1 365.5L381.7 367.6M379.1 366.3L386.2 375.6M380.1 365.5A164.3 164.3 0 0 1 379.1 366.3M309.2 274.9L379.6 365.9M318.6 265.3A49.3 49.3 0 0 1 309.2 274.9M312.7 269L314.2 270.4M369.4 354.9L385.5 376.1M374.4 362.8L384.8 376.6M374.7 364.5L384.1 377.2M375.1 366.5L383.4 377.7M374.4 367L382.6 378.2M375.1 366.5A162 162 0 0 1 374.4 367M373.7 365.2L374.8 366.7M374.7 364.5A160.2 160.2 0 0 1 373.7 365.2M373.3 363.7L374.2 364.9M374.4 362.8A158.7 158.7 0 0 1 373.3 363.7M368.2 355.7L373.9 363.3M369.4 354.9A149.3 149.3 0 0 1 368.2 355.7M350.5 331L368.8 355.3M351.6 336.8L381.9 378.8M369.2 362.5L381.2 379.3M374.8 371.9L380.5 379.8M374.2 372.4L379.7 380.3M374.8 371.9A166.3 166.3 0 0 1 374.2 372.4M371.5 367.9L374.5 372.1M370.5 368.6L379 380.8M371.5 367.9A161.1 161.1 0 0 1 370.5 368.6M367.7 363.5L371 368.3M369.2 362.5A155.3 155.3 0 0 1 367.7 363.5M354.2 342.7L368.5 363M371.7 371.7L378.2 381.4M371 372.2L377.5 381.9M371.7 371.7A164.4 164.4 0 0 1 371 372.2M367.3 366L371.3 372M369.5 371.5L376.8 382.4M368.8 371.9L376 382.9M369.5 371.5A162.9 162.9 0 0 1 368.8 371.9M365.9 366.9L369.1 371.7M367.3 366A157.1 157.1 0 0 1 365.9 366.9M364 362.6L366.6 366.4M366.5 369.9L375.3 383.3M365.3 370.7L366.2 372.1M366.5 369.9A160 160 0 0 1 365.3 370.7M364 367.4L365.9 370.3M361.9 368.8L372.2 385.3M364 367.4A156.5 156.5 0 0 1 361.9 368.8M360.8 364.7L363 368.1M364 362.6A152.5 152.5 0 0 1 360.8 364.7M360.9 361.3L362.4 363.6M357.6 363.3L371.5 385.8M360.9 361.3A149.6 149.6 0 0 1 357.6 363.3M356.7 358.3L359.2 362.3M354.5 359.7L370.7 386.2M356.7 358.3A144.9 144.9 0 0 1 354.5 359.7M348 346.8L355.6 359M354.2 342.7A130.5 130.5 0 0 1 348 346.8M350.4 343.7L351.1 344.8M362.8 374.8L369.9 386.7M362 375.2L369.2 387.1M362.8 374.8A162.1 162.1 0 0 1 362 375.2M345.5 346.9L362.4 375M350.4 343.7A129.3 129.3 0 0 1 345.5 346.9M346.8 343.5L348 345.3M343.6 345.5L368.4 387.6M346.8 343.5A127.1 127.1 0 0 1 343.6 345.5M343.7 342L345.2 344.5M351.6 336.8A124.2 124.2 0 0 1 343.7 342M344.8 335.1L347.7 339.5M350.5 331A118.9 118.9 0 0 1 344.8 335.1M334.3 314.2L347.7 333.1M327.3 318.8L367.6 388.1M334.3 314.2A95.8 95.8 0 0 1 327.3 318.8M304.5 275.7L330.8 316.6M312.7 269A47.2 47.2 0 0 1 304.5 275.7M307.8 271.3L308.8 272.6M322 251A45.5 45.5 0 0 1 307.8 271.3M312.7 259.6L316.3 262.1M360.2 377L366.8 388.5M359.5 377.4L366.1 389M360.2 377A162.7 162.7 0 0 1 359.5 377.4M299.5 271.7L359.8 377.2M312.7 259.6A41.2 41.2 0 0 1 299.5 271.7M302.9 262.1L306.8 266.4M296.4 266.9L365.3 389.4M302.9 262.1A35.4 35.4 0 0 1 296.4 266.9M298.7 263.2L299.7 264.7M295.3 265.3L364.5 389.8M298.7 263.2A33.5 33.5 0 0 1 295.3 265.3M294.4 260.2L297 264.3M359 381.7L363.7 390.3M358.3 382.1L362.9 390.7M359 381.7A166.2 166.2 0 0 1 358.3 382.1M292.7 261.2L358.6 381.9M294.4 260.2A28.7 28.7 0 0 1 292.7 261.2M291.1 256.6L293.6 260.7M357.2 381.9L362.1 391.1M356.5 382.3L361.3 391.5M357.2 381.9A165.6 165.6 0 0 1 356.5 382.3M294.7 265.4L356.8 382.1M355.2 381.7L360.6 392M354.4 382.1L359.8 392.4M355.2 381.7A164.4 164.4 0 0 1 354.4 382.1M353.7 379.7L354.8 381.9M352.6 380.3L359 392.8M353.7 379.7A162 162 0 0 1 352.6 380.3M347.2 368.6L353.1 380M348.3 375.6L349.2 377.5M346.2 376.6L354.9 394.8M348.3 375.6A155.8 155.8 0 0 1 346.2 376.6M344.3 370L347.2 376.1M347.2 368.6A149.1 149.1 0 0 1 344.3 370M299.4 276.6L345.8 369.3M348.1 382.4L354.1 395.2M347.3 382.7L353.3 395.5M348.1 382.4A161.8 161.8 0 0 1 347.3 382.7M299.5 279.7L347.7 382.5M348.2 386.5L352.5 395.9M347.4 386.9L351.7 396.3M348.2 386.5A165.7 165.7 0 0 1 347.4 386.9M346.4 383.7L347.8 386.7M345.3 384.2L350.9 396.7M346.4 383.7A162.4 162.4 0 0 1 345.3 384.2M314.2 314L345.9 384M346.1 388.1L350 397M345.3 388.4L349.2 397.4M346.1 388.1A166.2 166.2 0 0 1 345.3 388.4M345.2 387.1L345.7 388.3M344 387.6L348.4 397.7M345.2 387.1A164.9 164.9 0 0 1 344 387.6M313.7 315.9L344.6 387.3M343.1 387.5L347.6 398.1M342.3 387.8L346.7 398.4M343.1 387.5A164.4 164.4 0 0 1 342.3 387.8M323.2 341.2L342.7 387.6M340.6 385.9L345.9 398.8M339.9 386.3L345.1 399.1M340.6 385.9A162.1 162.1 0 0 1 339.9 386.3M330 361.1L340.2 386.1M335.5 377.7L344.2 399.5M337.4 384.6L343.4 399.8M337.9 387.9L342.6 400.1M337.1 388.2L341.7 400.4M337.9 387.9A162.9 162.9 0 0 1 337.1 388.2M336.3 385.1L337.5 388.1M337.4 384.6A159.7 159.7 0 0 1 336.3 385.1M335.3 380.8L336.9 384.8M333.6 381.4L340.9 400.8M335.3 380.8A155.3 155.3 0 0 1 333.6 381.4M333.5 378.5L334.5 381.1M335.5 377.7A152.5 152.5 0 0 1 333.5 378.5M333.9 376.6L334.5 378.1M335.7 389.3L340.1 401.1M334.9 389.6L339.2 401.4M335.7 389.3A163.5 163.5 0 0 1 334.9 389.6M331.6 379.4L335.3 389.5M334.5 390.9L338.4 401.7M334.8 394.3L337.5 402M334 394.6L336.7 402.3M334.8 394.3A167.8 167.8 0 0 1 334 394.6M333.3 391.3L334.4 394.4M334.5 390.9A164.5 164.5 0 0 1 333.3 391.3M332.8 387.9L333.9 391.1M331 388.5L335.8 402.6M332.8 387.9A161.2 161.2 0 0 1 331 388.5M329.2 380.3L331.9 388.2M331.6 379.4A152.8 152.8 0 0 1 329.2 380.3M329.8 378.2L330.4 379.9M333.9 376.6A151 151 0 0 1 329.8 378.2M330.7 374.2L331.9 377.4M331.6 392.9L335 402.9M330.8 393.2L334.1 403.1M331.6 392.9A165.5 165.5 0 0 1 330.8 393.2M325.6 376L331.2 393M330.7 374.2A147.6 147.6 0 0 1 325.6 376M324 363.4L328.1 375.1M330 361.1A135.1 135.1 0 0 1 324 363.4M326.7 361.5L327 362.3M330.5 394.8L333.3 403.4M329.7 395.1L332.4 403.7M330.5 394.8A167 167 0 0 1 329.7 395.1M320.1 363.8L330.1 395M326.7 361.5A134.3 134.3 0 0 1 320.1 363.8M316.7 343.7L323.4 362.7M323.2 341.2A114.1 114.1 0 0 1 316.7 343.7M319.3 340.8L320 342.5M326.7 388.4L331.6 404M326.9 391.8L330.7 404.2M326.1 392L329.8 404.5M326.9 391.8A162.9 162.9 0 0 1 326.1 392M325.5 388.8L326.5 391.9M326.7 388.4A159.7 159.7 0 0 1 325.5 388.8M323.7 380.8L326.1 388.6M325.5 393.2L329 404.8M324.7 393.4L328.1 405M325.5 393.2A163.9 163.9 0 0 1 324.7 393.4M321.7 381.4L325.1 393.3M323.7 380.8A151.5 151.5 0 0 1 321.7 381.4M311.4 343.5L322.7 381.1M319.3 340.8A112.3 112.3 0 0 1 311.4 343.5M308 320.7L315.4 342.2M321.6 385.5L327.3 405.3M322.4 391.3L326.4 405.5M322.3 394L325.5 405.7M321.5 394.2L324.7 406M322.3 394A163.8 163.8 0 0 1 321.5 394.2M321.2 391.6L321.9 394.1M322.4 391.3A161.2 161.2 0 0 1 321.2 391.6M320.3 385.9L321.8 391.5M321.6 385.5A155.4 155.4 0 0 1 320.3 385.9M315.9 367.7L321 385.7M314.2 371.8L320.3 395.3M319 398.1L321.2 406.9M318.2 398.3L320.3 407.1M319 398.1A167 167 0 0 1 318.2 398.3M315.3 384.8L318.6 398.2M316.5 395L319.4 407.3M315.7 395.2L318.6 407.5M316.5 395A163.4 163.4 0 0 1 315.7 395.2M313.8 385.1L316.1 395.1M315.3 384.8A153.1 153.1 0 0 1 313.8 385.1M312.1 374.6L314.6 384.9M313.7 390.1L317.7 407.7M313.8 394.1L316.8 407.9M313.9 398.4L315.9 408.1M313 398.6L315.1 408.3M313.9 398.4A166.1 166.1 0 0 1 313 398.6M313.2 397.5L313.5 398.5M312 397.7L314.2 408.4M313.2 397.5A165.1 165.1 0 0 1 312 397.7M312 394.5L312.6 397.6M313.8 394.1A161.9 161.9 0 0 1 312 394.5M312.1 390.4L312.9 394.3M313.7 390.1A157.9 157.9 0 0 1 312.1 390.4M309.6 375.2L312.9 390.3M312.1 374.6A142.5 142.5 0 0 1 309.6 375.2M310.3 372.7L310.8 374.9M314.2 371.8A140.3 140.3 0 0 1 310.3 372.7M311.4 368.9L312.3 372.3M315.9 367.7A136.8 136.8 0 0 1 311.4 368.9M301.7 322.6L313.7 368.3M308 320.7A89.5 89.5 0 0 1 301.7 322.6M304.2 319.4L304.9 321.7M313.7 315.9A87.1 87.1 0 0 1 304.2 319.4M308.4 316.4L309 317.8M314.2 314A85.6 85.6 0 0 1 308.4 316.4M297.2 280.7L311.4 315.2M299.5 279.7A48.3 48.3 0 0 1 297.2 280.7M297.8 278.9L298.4 280.2M308.7 385.2L313.3 408.6M310.2 397.5L312.4 408.8M309.4 397.6L311.5 409M310.2 397.5A164.5 164.5 0 0 1 309.4 397.6M308.6 391.1L309.8 397.6M307.4 391.3L310.7 409.1M308.6 391.1A157.9 157.9 0 0 1 307.4 391.3M307.8 390.3L308 391.2M306.9 393.3L309.8 409.3M306.6 396L308.9 409.4M305.8 396.1L308 409.6M306.6 396A162.4 162.4 0 0 1 305.8 396.1M305.7 393.5L306.2 396.1M306.9 393.3A159.7 159.7 0 0 1 305.7 393.5M305.9 390.6L306.3 393.4M307.8 390.3A156.9 156.9 0 0 1 305.9 390.6M306.3 387.7L306.8 390.5M303.6 388.2L307.1 409.7M306.3 387.7A154.1 154.1 0 0 1 303.6 388.2M304.7 386L305 387.9M308.7 385.2A152.2 152.2 0 0 1 304.7 386M306.5 384.8L306.7 385.6M304.4 398.3L306.2 409.9M303.6 398.4L305.3 410M304.4 398.3A164.2 164.2 0 0 1 303.6 398.4M302 385.6L304 398.3M306.5 384.8A151.3 151.3 0 0 1 302 385.6M301.5 369L304.3 385.2M303.1 400.8L304.5 410.1M302.2 400.9L303.6 410.3M303.1 400.8A166.5 166.5 0 0 1 302.2 400.9M302.2 397.5L302.7 400.8M300.9 397.6L302.7 410.4M302.2 397.5A163.1 163.1 0 0 1 300.9 397.6M297.7 369.6L301.6 397.6M301.5 369A134.9 134.9 0 0 1 297.7 369.6M286.2 282.3L299.6 369.3M297.8 278.9A46.8 46.8 0 0 1 286.2 282.3M291.7 279.6L292.1 281M299.4 276.6A45.4 45.4 0 0 1 291.7 279.6M294.9 276.7L295.6 278.3M300.3 399.2L301.8 410.5M299.8 402.2L300.9 410.6M299 402.3L300 410.7M299.8 402.2A167.5 167.5 0 0 1 299 402.3M299.1 399.3L299.4 402.3M300.3 399.2A164.6 164.6 0 0 1 299.1 399.3M284.5 279.3L299.7 399.2M294.9 276.7A43.7 43.7 0 0 1 284.5 279.3M288.6 273.7L289.8 278.3M298.1 401.8L299.1 410.8M297.2 401.9L298.2 410.9M298.1 401.8A166.9 166.9 0 0 1 297.2 401.9M297.3 398.5L297.7 401.9M296 398.7L297.3 411M297.3 398.5A163.6 163.6 0 0 1 296 398.7M295.2 385.3L296.7 398.6M294.7 393.8L296.4 411.1M294.4 398.8L295.5 411.2M293.5 398.9L294.7 411.3M294.4 398.8A163.5 163.5 0 0 1 293.5 398.9M293.5 394L294 398.9M294.7 393.8A158.6 158.6 0 0 1 293.5 394M294 392.6L294.1 393.9M292.2 392.7L293.8 411.4M294 392.6A157.3 157.3 0 0 1 292.2 392.7M292.5 385.6L293.1 392.7M295.2 385.3A150.2 150.2 0 0 1 292.5 385.6M284.7 293.9L293.8 385.5M292 401.1L292.9 411.5M291.2 401.1L292 411.5M292 401.1A165.6 165.6 0 0 1 291.2 401.1M291.5 399.7L291.6 401.1M290.3 399.8L291.1 411.6M291.5 399.7A164.2 164.2 0 0 1 290.3 399.8M283.4 296L290.9 399.8M289.2 396.1L290.2 411.6M288.6 399.8L289.3 411.7M287.7 399.8L288.4 411.7M288.6 399.8A164 164 0 0 1 287.7 399.8M288 396.1L288.2 399.8M289.2 396.1A160.4 160.4 0 0 1 288 396.1M284.1 321.7L288.6 396.1M286.6 392.4L287.5 411.8M286.2 403L286.6 411.8M285.4 403L285.7 411.9M286.2 403A167.1 167.1 0 0 1 285.4 403M285.6 399.2L285.8 403M284.4 399.3L284.8 411.9M285.6 399.2A163.4 163.4 0 0 1 284.4 399.3M284.8 392.5L285 399.3M286.6 392.4A156.6 156.6 0 0 1 284.8 392.5M285.5 389L285.7 392.4M283.3 389L283.9 411.9M285.5 389A153.1 153.1 0 0 1 283.3 389M283.6 367.6L284.4 389M282.5 389.1L283 412M281.9 401.4L282.1 412M281.1 401.4L281.2 412M281.9 401.4A165.4 165.4 0 0 1 281.1 401.4M281.3 391L281.5 401.4M280.2 402.6L280.3 412M279.4 402.6L279.4 412M280.2 402.6A166.6 166.6 0 0 1 279.4 402.6M279.8 391L279.8 402.6M281.3 391A155 155 0 0 1 279.8 391M280.5 389.2L280.6 391M282.5 389.1A153.2 153.2 0 0 1 280.5 389.2M281.2 367.7L281.5 389.2M283.6 367.6A131.7 131.7 0 0 1 281.2 367.7M281.8 344.1L282.4 367.7M278.5 402.4L278.5 412M277.7 402.3L277.6 412M278.5 402.4A166.4 166.4 0 0 1 277.7 402.3M278.3 363.5L278.1 402.3M277.1 383.5L276.7 412M276.3 386.4L275.8 412M275.2 398.2L274.9 412M274.3 401.2L274 411.9M273.5 401.2L273.1 411.9M274.3 401.2A165.3 165.3 0 0 1 273.5 401.2M274 398.2L273.9 401.2M275.2 398.2A162.3 162.3 0 0 1 274 398.2M274.8 391.2L274.6 398.2M272.7 400.2L272.2 411.9M271.8 401.7L271.3 411.8M270.9 401.7L270.4 411.8M271.8 401.7A165.9 165.9 0 0 1 270.9 401.7M271.4 400.1L271.4 401.7M272.7 400.2A164.3 164.3 0 0 1 271.4 400.1M272.4 392.1L272.1 400.1M270.1 400.8L269.5 411.7M269.3 400.7L268.7 411.7M270.1 400.8A165 165 0 0 1 269.3 400.7M270 394.8L269.7 400.8M268.8 394.8L267.8 411.6M270 394.8A159.1 159.1 0 0 1 268.8 394.8M269.6 391.9L269.4 394.8M272.4 392.1A156.2 156.2 0 0 1 269.6 391.9M271.1 391.1L271 392M274.8 391.2A155.3 155.3 0 0 1 271.1 391.1M273.1 387.9L272.9 391.2M268.5 387.7L266.9 411.6M273.1 387.9A152.1 152.1 0 0 1 268.5 387.7M270.9 386.2L270.8 387.8M276.3 386.4A150.4 150.4 0 0 1 270.9 386.2M273.7 383.4L273.6 386.3M277.1 383.5A147.5 147.5 0 0 1 273.7 383.4M275.5 380.8L275.4 383.5M268.3 380.4L266 411.5M275.5 380.8A144.8 144.8 0 0 1 268.3 380.4M272.7 364.5L271.9 380.6M265.9 401.3L265.1 411.4M265 401.3L264.2 411.4M265.9 401.3A165.9 165.9 0 0 1 265 401.3M268.5 364.3L265.4 401.3M272.7 364.5A128.7 128.7 0 0 1 268.5 364.3M270.6 363.2L270.6 364.4M278.3 363.5A127.5 127.5 0 0 1 270.6 363.2M275.2 344L274.5 363.4M281.8 344.1A108.1 108.1 0 0 1 275.2 344M278.6 321.8L278.5 344.1M284.1 321.7A85.8 85.8 0 0 1 278.6 321.8M280.9 304.4L281.4 321.8M264.3 400.4L263.3 411.3M263.3 401.9L262.4 411.2M262.4 401.8L261.5 411.1M263.3 401.9A166.7 166.7 0 0 1 262.4 401.8M263 400.3L262.8 401.9M264.3 400.4A165.1 165.1 0 0 1 263 400.3M264.8 388.2L263.6 400.4M262 397.3L260.6 411M261.2 397.2L259.7 410.9M262 397.3A162.2 162.2 0 0 1 261.2 397.2M262.2 392.3L261.6 397.3M259.9 401.2L258.8 410.8M259.1 401.1L257.9 410.7M259.9 401.2A166.3 166.3 0 0 1 259.1 401.1M260.6 392.1L259.5 401.1M262.2 392.3A157.2 157.2 0 0 1 260.6 392.1M261.6 390.5L261.4 392.2M258.3 400.7L257 410.6M257.4 400.6L256.1 410.5M258.3 400.7A166 166 0 0 1 257.4 400.6M259.2 390.2L257.9 400.6M261.6 390.5A155.4 155.4 0 0 1 259.2 390.2M260.7 387.7L260.4 390.3M264.8 388.2A152.8 152.8 0 0 1 260.7 387.7M265.2 365.3L262.7 387.9M257 397.5L255.3 410.4M256.2 397.4L254.4 410.3M257 397.5A163 163 0 0 1 256.2 397.4M258.1 386.4L256.6 397.4M255.2 398.6L253.5 410.1M254.3 398.5L252.6 410M255.2 398.6A164.4 164.4 0 0 1 254.3 398.5M255.1 396.3L254.7 398.6M253.9 396.1L251.7 409.9M255.1 396.3A162.1 162.1 0 0 1 253.9 396.1M256 386.1L254.5 396.2M258.1 386.4A151.9 151.9 0 0 1 256 386.1M258.1 379.4L257.1 386.3M253 396.2L250.8 409.7M252.2 396.1L249.9 409.6M253 396.2A162.3 162.3 0 0 1 252.2 396.1M255.4 379L252.6 396.2M258.1 379.4A144.9 144.9 0 0 1 255.4 379M256.9 378.4L256.7 379.2M250.9 398.8L249 409.4M250 398.7L248.2 409.3M250.9 398.8A165.2 165.2 0 0 1 250 398.7M254.1 377.9L250.5 398.8M256.9 378.4A144.1 144.1 0 0 1 254.1 377.9M257.8 364.3L255.5 378.2M265.2 365.3A130 130 0 0 1 257.8 364.3M269.8 303.8L261.5 364.8M280.9 304.4A68.4 68.4 0 0 1 269.8 303.8M275.8 296.1L275.3 304.3M283.4 296A60.2 60.2 0 0 1 275.8 296.1M279.5 294.2L279.6 296.2M284.7 293.9A58.2 58.2 0 0 1 279.5 294.2M281.1 274.9L282.1 294.1M288.6 273.7A38.9 38.9 0 0 1 281.1 274.9M284 268.9L284.9 274.5M294.7 265.4A33.3 33.3 0 0 1 284 268.9M287.5 261.7L289.5 267.6M249.1 399.3L247.3 409.1M248.2 399.2L246.4 409M249.1 399.3A166.1 166.1 0 0 1 248.2 399.2M249 397.6L248.7 399.3M247.7 397.3L245.5 408.8M249 397.6A164.3 164.3 0 0 1 247.7 397.3M273.9 262.6L248.3 397.5M287.5 261.7A27.1 27.1 0 0 1 273.9 262.6M280.6 259.8L280.8 263M291.1 256.6A23.9 23.9 0 0 1 280.6 259.8M284.7 254.6L286.1 258.8M298.4 236.2A19.4 19.4 0 0 1 284.7 254.6M289.9 244.1L294.6 247.6M273.2 265.1L244.6 408.6M246.4 395.7L243.8 408.4M244.9 398.7L242.9 408.3M244 398.5L242 408.1M244.9 398.7A166.3 166.3 0 0 1 244 398.5M245.1 395.4L244.5 398.6M246.4 395.7A163 163 0 0 1 245.1 395.4M255.5 349L245.8 395.5M243.6 396.6L241.1 407.9M242.8 396.4L240.2 407.7M243.6 396.6A164.4 164.4 0 0 1 242.8 396.4M243.7 394.4L243.2 396.5M242.5 394.1L239.4 407.5M243.7 394.4A162.3 162.3 0 0 1 242.5 394.1M251.9 355.2L243.1 394.3M241.3 395.4L238.5 407.3M240.5 395.2L237.6 407.1M241.3 395.4A163.8 163.8 0 0 1 240.5 395.2M246.9 370L240.9 395.3M243.2 380.8L236.7 406.9M239 394.1L235.9 406.6M237.5 396.9L235 406.4M236.6 396.7L234.1 406.2M237.5 396.9A166.2 166.2 0 0 1 236.6 396.7M237.4 395.5L237 396.8M236.2 395.1L233.3 406M237.4 395.5A164.8 164.8 0 0 1 236.2 395.1M237.2 393.7L236.8 395.3M239 394.1A163.1 163.1 0 0 1 237.2 393.7M238.6 392.2L238.1 393.9M236.3 391.6L232.4 405.7M238.6 392.2A161.4 161.4 0 0 1 236.3 391.6M239.8 383L237.4 391.9M237.3 384.9L231.5 405.5M235.8 387.3L230.7 405.2M233.8 391.4L229.8 405M232.4 393L229 404.7M231.6 392.7L228.1 404.5M232.4 393A163.7 163.7 0 0 1 231.6 392.7M232.6 391L232 392.9M233.8 391.4A161.8 161.8 0 0 1 232.6 391M234.4 386.9L233.2 391.2M235.8 387.3A157.3 157.3 0 0 1 234.4 386.9M235.9 384.4L235.1 387.1M237.3 384.9A154.6 154.6 0 0 1 235.9 384.4M237.3 382.3L236.6 384.7M239.8 383A152.2 152.2 0 0 1 237.3 382.3M239.3 379.8L238.5 382.7M243.2 380.8A149.2 149.2 0 0 1 239.3 379.8M244.1 369.3L241.2 380.3M246.9 370A137.8 137.8 0 0 1 244.1 369.3M246.3 366.4L245.5 369.7M239.1 364.4L230.4 392.6M246.3 366.4A134.5 134.5 0 0 1 239.1 364.4M246 353.7L242.7 365.5M251.9 355.2A122.2 122.2 0 0 1 246 353.7M249.8 351.1L249 354.5M231.1 386L225.5 403.7M228 393.1L224.7 403.4M227.2 392.9L223.8 403.1M228 393.1A165.2 165.2 0 0 1 227.2 392.9M230 385.7L227.6 393M231.1 386A157.5 157.5 0 0 1 230 385.7M242.5 349L230.6 385.9M249.8 351.1A118.8 118.8 0 0 1 242.5 349M246.7 348.2L246.1 350.1M227 390.7L223 402.8M225.3 393.1L222.1 402.6M224.5 392.8L221.3 402.3M225.3 393.1A166 166 0 0 1 224.5 392.8M225.8 390.3L224.9 392.9M227 390.7A163.2 163.2 0 0 1 225.8 390.3M241.4 346.5L226.4 390.5M246.7 348.2A116.8 116.8 0 0 1 241.4 346.5M244.4 346.1L244 347.4M255.5 349A115.4 115.4 0 0 1 244.4 346.1M267.1 281.7L249.9 347.7M224.4 390.7L220.4 402M223.6 390.4L219.6 401.7M224.4 390.7A164.1 164.1 0 0 1 223.6 390.4M260.9 286.7L224 390.6M225.5 381.7L222.6 389.6M220.9 390.5L217 400.7M220.1 390.2L216.2 400.4M220.9 390.5A165.1 165.1 0 0 1 220.1 390.2M222 386.4L220.5 390.4M220 388.1L215.4 400.1M218.1 390.8L214.5 399.8M217.3 390.4L213.7 399.4M218.1 390.8A166.3 166.3 0 0 1 217.3 390.4M218.9 387.6L217.7 390.6M220 388.1A163.1 163.1 0 0 1 218.9 387.6M220.3 385.8L219.4 387.9M222 386.4A160.9 160.9 0 0 1 220.3 385.8M223.2 380.8L221.1 386.1M225.5 381.7A155.2 155.2 0 0 1 223.2 380.8M228.1 371.3L224.3 381.3M217.7 387.1L212.9 399.1M217 386.8L212 398.8M217.7 387.1A163 163 0 0 1 217 386.8M224.3 369.8L217.4 386.9M228.1 371.3A144.6 144.6 0 0 1 224.3 369.8M239.2 337.5L226.2 370.6M216.5 385.8L211.2 398.4M215.7 385.5L210.4 398.1M216.5 385.8A162.3 162.3 0 0 1 215.7 385.5M219.9 376.5L216.1 385.6M217.8 375.6L216.1 379.5M219.9 376.5A152.4 152.4 0 0 1 217.8 375.6M225.3 361L218.8 376.1M212.1 383.4L206.3 396.3M211.4 383.1L205.4 395.9M212.1 383.4A161.9 161.9 0 0 1 211.4 383.1M215.3 375.5L211.7 383.2M209.1 386L204.6 395.5M208.3 385.6L203.8 395.1M209.1 386A165.5 165.5 0 0 1 208.3 385.6M211.1 380.6L208.7 385.8M210 380.1L203 394.7M211.1 380.6A159.7 159.7 0 0 1 210 380.1M212.1 377.2L210.6 380.3M210.8 376.6L202.2 394.4M212.1 377.2A156.2 156.2 0 0 1 210.8 376.6M212 375.7L211.5 376.9M209.4 377.6L201.4 394M206.4 381.8L200.6 393.6M205.7 381.4L199.8 393.2M206.4 381.8A162.9 162.9 0 0 1 205.7 381.4M208.3 377.1L206.1 381.6M209.4 377.6A157.8 157.8 0 0 1 208.3 377.1M210.1 374.8L208.9 377.4M212 375.7A154.9 154.9 0 0 1 210.1 374.8M211.8 373.8L211.1 375.3M215.3 375.5A153.3 153.3 0 0 1 211.8 373.8M220.9 359L213.5 374.7M225.3 361A136.1 136.1 0 0 1 220.9 359M234.2 335.4L223.1 360.1M239.2 337.5A109.1 109.1 0 0 1 234.2 335.4M237.9 333.6L236.7 336.5M219.6 352.4L199 392.8M206 377.2L198.2 392.3M202.7 381.7L197.4 391.9M202 381.3L196.6 391.5M202.7 381.7A164.4 164.4 0 0 1 202 381.3M204.9 376.6L202.4 381.5M206 377.2A158.9 158.9 0 0 1 204.9 376.6M210.6 367L205.5 376.9M206.5 371.1L195.8 391.1M200.5 379.6L199.4 381.7M199.4 379L193.4 389.8M200.5 379.6A163.6 163.6 0 0 1 199.4 379M201.1 377.3L200 379.3M199.8 376.6L192.7 389.4M201.1 377.3A161.4 161.4 0 0 1 199.8 376.6M201.7 374.7L200.5 377M200.4 373.9L191.9 388.9M201.7 374.7A158.7 158.7 0 0 1 200.4 373.9M203.7 369.6L201.1 374.3M206.5 371.1A153.3 153.3 0 0 1 203.7 369.6M207.8 365.5L205.1 370.4M210.6 367A147.8 147.8 0 0 1 207.8 365.5M213.2 358.9L209.2 366.3M198.8 375.2L191.1 388.5M196.9 376.7L190.3 388M195.4 377.6L189.5 387.6M194.7 377.2L188.8 387.1M195.4 377.6A164.4 164.4 0 0 1 194.7 377.2M195.8 376.1L195.1 377.4M196.9 376.7A162.9 162.9 0 0 1 195.8 376.1M197.1 375.1L196.4 376.4M195.5 374.2L188 386.7M197.1 375.1A161.4 161.4 0 0 1 195.5 374.2M196.7 374L196.3 374.7M198.8 375.2A160.6 160.6 0 0 1 196.7 374M208.5 356.3L197.7 374.6M213.2 358.9A139.4 139.4 0 0 1 208.5 356.3M211.6 356.2L210.8 357.6M207.2 353.5L187.2 386.2M211.6 356.2A137.8 137.8 0 0 1 207.2 353.5M212.9 348.8L209.4 354.9M219.6 352.4A130.7 130.7 0 0 1 212.9 348.8M228.2 328.9L216.2 350.7M237.9 333.6A105.9 105.9 0 0 1 228.2 328.9M234.4 328.4L233 331.3M225.1 323.2L186.5 385.7M234.4 328.4A102.6 102.6 0 0 1 225.1 323.2M253.1 283.2L229.7 325.9M260.9 286.7A53.8 53.8 0 0 1 253.1 283.2M259.7 279.1L257 285.1M267.1 281.7A47.2 47.2 0 0 1 259.7 279.1M264.3 277.8L263.3 280.6M202.9 357.7L185.7 385.2M192.4 373L185 384.8M191.7 372.6L184.2 384.3M192.4 373A162.1 162.1 0 0 1 191.7 372.6M194 369.7L192 372.8M190.3 373.2L183.4 383.8M189.6 372.8L182.7 383.3M190.3 373.2A163.4 163.4 0 0 1 189.6 372.8M192.7 368.8L189.9 373M194 369.7A158.4 158.4 0 0 1 192.7 368.8M199.3 360L193.3 369.2M196.6 358.2L195.8 359.4M199.3 360A147.4 147.4 0 0 1 196.6 358.2M199 357.5L197.9 359.1M195.1 354.8L177.5 379.8M199 357.5A145.5 145.5 0 0 1 195.1 354.8M198.1 354.6L197 356.2M202.9 357.7A143.5 143.5 0 0 1 198.1 354.6M202.2 353.5L200.5 356.2M184.4 368.6L176.8 379.3M183.7 368.1L176 378.7M184.4 368.6A162.9 162.9 0 0 1 183.7 368.1M197.2 350.1L184 368.3M202.2 353.5A140.4 140.4 0 0 1 197.2 350.1M253.9 272.6L199.7 351.8M264.3 277.8A44.3 44.3 0 0 1 253.9 272.6M261 271.6L258.9 275.5M181.7 369.4L175.3 378.2M181 368.9L174.6 377.7M181.7 369.4A165.1 165.1 0 0 1 181 368.9M186.6 362.1L181.4 369.2M180.4 368.4L173.9 377.1M179.7 367.9L173.1 376.6M180.4 368.4A165.1 165.1 0 0 1 179.7 367.9M185.3 361.1L180 368.1M186.6 362.1A156.3 156.3 0 0 1 185.3 361.1M189.6 356.6L185.9 361.6M178.7 367.9L172.4 376.1M178 367.4L171.7 375.5M178.7 367.9A165.7 165.7 0 0 1 178 367.4M183 361.5L178.3 367.6M181.7 360.5L176.8 366.8M183 361.5A158 158 0 0 1 181.7 360.5M187.2 354.8L182.4 361M189.6 356.6A150.2 150.2 0 0 1 187.2 354.8M211.1 325.7L188.4 355.7M194.1 343L169.6 373.9M182.8 353.3L180.1 356.6M181.7 352.3L166.1 371M182.8 353.3A151.6 151.6 0 0 1 181.7 352.3M185.3 349.1L182.3 352.8M175.5 358.5L165.4 370.4M172.8 360.5L164.7 369.9M172.1 359.9L164.1 369.3M172.8 360.5A163.6 163.6 0 0 1 172.1 359.9M174.6 357.7L172.4 360.2M175.5 358.5A160.4 160.4 0 0 1 174.6 357.7M183.8 347.8L175 358.1M185.3 349.1A146.9 146.9 0 0 1 183.8 347.8M191.2 340.6L184.6 348.5M194.1 343A136.6 136.6 0 0 1 191.2 340.6M202.5 329.8L192.6 341.8M170.2 360.9L163.4 368.7M169.5 360.3L162.7 368.1M170.2 360.9A165.7 165.7 0 0 1 169.5 360.3M176.5 353.1L169.9 360.6M167.8 361.1L162 367.5M167.1 360.5L161.4 366.9M167.8 361.1A167.4 167.4 0 0 1 167.1 360.5M169.5 358.4L167.4 360.8M168.6 357.6L160.7 366.3M169.5 358.4A164.2 164.2 0 0 1 168.6 357.6M174.8 351.6L169.1 358M176.5 353.1A155.6 155.6 0 0 1 174.8 351.6M198.6 326.5L175.7 352.3M202.5 329.8A121 121 0 0 1 198.6 326.5M206.1 321.6L200.5 328.1M211.1 325.7A112.5 112.5 0 0 1 206.1 321.6M215.3 315.2L208.6 323.7M188.2 335L160 365.7M167.9 355.9L159.4 365.1M167.3 355.3L158.7 364.5M167.9 355.9A163.4 163.4 0 0 1 167.3 355.3M173.7 349.1L167.6 355.6M164.2 357.4L158.1 363.9M163.6 356.8L157.4 363.2M164.2 357.4A167.1 167.1 0 0 1 163.6 356.8M168.2 352.5L163.9 357.1M167.3 351.7L156.8 362.6M168.2 352.5A160.8 160.8 0 0 1 167.3 351.7M172.1 347.6L167.8 352.1M173.7 349.1A154.5 154.5 0 0 1 172.1 347.6M178 342.9L172.9 348.3M162.8 355.2L156.1 362M162.2 354.6L155.5 361.4M162.8 355.2A166.5 166.5 0 0 1 162.2 354.6M164.4 352.9L162.5 354.9M163.5 352L154.8 360.7M164.4 352.9A163.7 163.7 0 0 1 163.5 352M168.7 347.7L164 352.5M167.7 346.7L154.2 360.1M168.7 347.7A156.9 156.9 0 0 1 167.7 346.7M173 342.4L168.2 347.2M160 353.1L153.6 359.5M159.4 352.5L152.9 358.8M160 353.1A167 167 0 0 1 159.4 352.5M171.7 341.1L159.7 352.8M173 342.4A150.2 150.2 0 0 1 171.7 341.1M173.8 340.3L172.4 341.7M159.8 351L152.3 358.2M159.2 350.4L151.7 357.5M159.8 351A165.7 165.7 0 0 1 159.2 350.4M172.1 338.6L159.5 350.7M173.8 340.3A148.1 148.1 0 0 1 172.1 338.6M173.8 338.7L173 339.4M178 342.9A147 147 0 0 1 173.8 338.7M184.7 331.8L175.9 340.8M188.2 335A134.4 134.4 0 0 1 184.7 331.8M188.5 331.3L186.4 333.4M160.3 348.1L151.1 356.9M159.8 347.5L150.5 356.2M160.3 348.1A163.2 163.2 0 0 1 159.8 347.5M183.2 326L160.1 347.8M188.5 331.3A131.5 131.5 0 0 1 183.2 326M206.9 307.7L185.8 328.7M215.3 315.2A101.6 101.6 0 0 1 206.9 307.7M252.3 265.7L211 311.6M261 271.6A39.9 39.9 0 0 1 252.3 265.7M259.2 264.9L256.4 268.9M160.1 346.1L149.9 355.6M156.3 348.5L149.2 354.9M155.7 347.8L148.6 354.2M156.3 348.5A166.5 166.5 0 0 1 155.7 347.8M159.2 345.2L156 348.2M160.1 346.1A162.1 162.1 0 0 1 159.2 345.2M162.3 343.2L159.7 345.6M158.6 344.1L148 353.6M158.1 343.5L147.4 352.9M158.6 344.1A161.8 161.8 0 0 1 158.1 343.5M160.8 341.6L158.3 343.8M162.3 343.2A158.5 158.5 0 0 1 160.8 341.6M200.6 307L161.6 342.4M155.1 345L146.8 352.2M154.6 344.3L146.3 351.6M155.1 345A165 165 0 0 1 154.6 344.3M167.2 333.8L154.8 344.7M161.9 336.9L145.7 350.9M159.9 337.6L145.1 350.2M153.6 341.8L144.5 349.5M152 342.1L143.9 348.8M151.4 341.5L143.4 348.1M152 342.1A165.5 165.5 0 0 1 151.4 341.5M152.8 340.9L151.7 341.8M153.6 341.8A164.1 164.1 0 0 1 152.8 340.9M158 337.3L153.2 341.3M153.7 338.5L142.8 347.4M153.2 337.9L142.2 346.8M153.7 338.5A161.9 161.9 0 0 1 153.2 337.9M156.6 335.6L153.4 338.2M158 337.3A157.8 157.8 0 0 1 156.6 335.6M158.3 335.6L157.3 336.5M159.9 337.6A156.5 156.5 0 0 1 158.3 335.6M160.6 335.4L159.1 336.6M161.9 336.9A154.6 154.6 0 0 1 160.6 335.4M162.8 334.8L161.2 336.1M159.9 331.4L141.7 346.1M162.8 334.8A152.6 152.6 0 0 1 159.9 331.4M162.3 332.4L161.3 333.1M148.5 339.4L141.1 345.4M148 338.8L140.5 344.6M148.5 339.4A166.5 166.5 0 0 1 148 338.8M160.1 329.8L148.3 339.1M162.3 332.4A151.4 151.4 0 0 1 160.1 329.8M163.4 329.3L161.2 331.1M167.2 333.8A148.6 148.6 0 0 1 163.4 329.3M197.4 304.6L165.3 331.6M152.2 334.4L140 343.9M151.1 333L149.2 334.4M152.2 334.4A160.5 160.5 0 0 1 151.1 333M155.5 330.8L151.7 333.7M150.6 331.5L137.8 341.1M147.6 332.7L137.3 340.4M147.1 332.1L136.7 339.6M147.6 332.7A163.1 163.1 0 0 1 147.1 332.1M149.9 330.6L147.4 332.4M150.6 331.5A160 160 0 0 1 149.9 330.6M153.7 328.5L150.3 331M155.5 330.8A155.7 155.7 0 0 1 153.7 328.5M168.9 318.8L154.6 329.6M167.2 316.5L136.2 338.9M168.9 318.8A137.8 137.8 0 0 1 167.2 316.5M175.5 312.3L168.1 317.7M157.8 322.4L135.7 338.2M146.4 329.5L135.2 337.4M145.7 328.5L143.8 329.8M146.4 329.5A162.3 162.3 0 0 1 145.7 328.5M153 324.2L146.1 329M143.2 328.7L133.6 335.2M142.7 328L133.1 334.5M143.2 328.7A164.4 164.4 0 0 1 142.7 328M151.8 322.4L143 328.4M153 324.2A153.8 153.8 0 0 1 151.8 322.4M156.4 320.5L152.4 323.3M157.8 322.4A148.9 148.9 0 0 1 156.4 320.5M173.7 309.8L157.1 321.5M175.5 312.3A128.6 128.6 0 0 1 173.7 309.8M192.5 298.2L174.6 311M197.4 304.6A106.6 106.6 0 0 1 192.5 298.2M195.5 300.9L194.9 301.4M200.6 307A105.7 105.7 0 0 1 195.5 300.9M207.4 296.1L198 304M141.8 327.7L132.6 333.7M141.3 327L132.1 333M141.8 327.7A165 165 0 0 1 141.3 327M143.8 325.8L141.5 327.3M143.1 324.8L131.7 332.2M143.8 325.8A162.3 162.3 0 0 1 143.1 324.8M201 287.4L143.4 325.3M207.4 296.1A93.4 93.4 0 0 1 201 287.4M250.9 256.9L204.1 291.8M259.2 264.9A35 35 0 0 1 250.9 256.9M256.4 259.6L254.7 261.3M143.2 323.7L131.2 331.5M142.7 323L130.7 330.7M143.2 323.7A161.7 161.7 0 0 1 142.7 323M181 299L143 323.4M174.8 301.3L140.1 323M139.3 321.3L128.8 327.7M136.1 322.2L128.3 326.9M135.6 321.5L127.8 326.2M136.1 322.2A166.9 166.9 0 0 1 135.6 321.5M138.7 320.2L135.9 321.9M139.3 321.3A163.7 163.7 0 0 1 138.7 320.2M172.8 300.3L139 320.7M136.4 320.1L127.4 325.4M136 319.3L126.9 324.6M136.4 320.1A165.5 165.5 0 0 1 136 319.3M144.3 315L136.2 319.7M135.5 318.7L126.5 323.8M135 317.9L126 323.1M135.5 318.7A165.6 165.6 0 0 1 135 317.9M143.5 313.6L135.3 318.3M144.3 315A156.2 156.2 0 0 1 143.5 313.6M146.2 312.9L143.8 314.3M145.3 311.2L125.6 322.3M146.2 312.9A153.4 153.4 0 0 1 145.3 311.2M152 308.5L145.7 312.1M135.3 315.8L125.2 321.5M134.9 315.1L124.7 320.7M135.3 315.8A164.4 164.4 0 0 1 134.9 315.1M142.1 311.6L135.1 315.5M135.2 314L124.3 319.9M134.8 313.3L123.9 319.1M135.2 314A163.6 163.6 0 0 1 134.8 313.3M137.6 312.3L135 313.7M134.1 312.7L123.4 318.3M133.7 312L123 317.5M134.1 312.7A164 164 0 0 1 133.7 312M136.8 310.8L133.9 312.3M137.6 312.3A160.7 160.7 0 0 1 136.8 310.8M141 309.5L137.2 311.5M142.1 311.6A156.4 156.4 0 0 1 141 309.5M150.4 305.7L141.5 310.6M152 308.5A146.3 146.3 0 0 1 150.4 305.7M170.5 296.4L151.2 307.1M172.8 300.3A124.2 124.2 0 0 1 170.5 296.4M172.6 297.8L171.6 298.3M174.8 301.3A123 123 0 0 1 172.6 297.8M176.6 297.8L173.7 299.5M159.4 297.7L122.6 316.7M148.2 301.7L135 308.3M131.7 308.3L121 313.5M129.1 308.6L120.6 312.7M128.7 307.9L120.2 311.9M129.1 308.6A166.6 166.6 0 0 1 128.7 307.9M131.1 307.2L128.9 308.2M131.7 308.3A164.1 164.1 0 0 1 131.1 307.2M143.2 302L131.4 307.7M128.6 307L119.8 311.1M128.2 306.2L119.5 310.3M128.6 307A166.3 166.3 0 0 1 128.2 306.2M133.2 304.3L128.4 306.6M132.7 303.2L119.1 309.5M133.2 304.3A161 161 0 0 1 132.7 303.2M135.2 302.8L133 303.8M134.6 301.5L118.7 308.7M135.2 302.8A158.6 158.6 0 0 1 134.6 301.5M141.8 298.9L134.9 302.1M143.2 302A151 151 0 0 1 141.8 298.9M146.6 298.5L142.5 300.5M148.2 301.7A146.4 146.4 0 0 1 146.6 298.5M152 297.8L147.4 300.1M150.1 293.7L118.3 307.8M152 297.8A141.2 141.2 0 0 1 150.1 293.7M153.3 294.7L151 295.8M131.1 301.2L118 307M128 301.7L117.6 306.2M127.6 300.9L117.3 305.4M128 301.7A164.7 164.7 0 0 1 127.6 300.9M130.6 300.1L127.8 301.3M131.1 301.2A161.6 161.6 0 0 1 130.6 300.1M151.9 291.5L130.9 300.7M153.3 294.7A138.7 138.7 0 0 1 151.9 291.5M154 292.4L152.6 293.1M152.7 289.4L116.9 304.6M154 292.4A137.1 137.1 0 0 1 152.7 289.4M155.7 289.9L153.4 290.9M159.4 297.7A134.6 134.6 0 0 1 155.7 289.9M171 287.4L157.5 293.9M176.6 297.8A119.6 119.6 0 0 1 171 287.4M176.4 291.2L173.7 292.7M181 299A116.5 116.5 0 0 1 176.4 291.2M181.6 293.4L178.6 295.1M174.7 279.5L116.6 303.7M181.6 293.4A113 113 0 0 1 174.7 279.5M179 286L177.9 286.5M124.8 299.4L116.2 302.9M124.5 298.6L115.9 302.1M124.8 299.4A166.7 166.7 0 0 1 124.5 298.6M175.5 278.2L124.6 299M179 286A111.8 111.8 0 0 1 175.5 278.2M212.5 266.1L177.2 282.1M211.2 263L115.5 301.2M212.5 266.1A73 73 0 0 1 211.2 263M248.9 248.8L211.9 264.6M256.4 259.6A32.7 32.7 0 0 1 248.9 248.8M254.6 252.8L252.1 254.6M273.2 265.1A29.6 29.6 0 0 1 254.6 252.8M264.3 258.3L262.7 260.8M254.2 245.8L115.2 300.4M264.3 258.3A26.7 26.7 0 0 1 254.2 245.8M260.5 251L258.3 252.8M256.8 244.6L114.9 299.6M260.5 251A23.8 23.8 0 0 1 256.8 244.6M260.2 246.9L258.4 247.9M125.3 294.6L114.6 298.7M125 293.8L114.2 297.9M125.3 294.6A164.5 164.5 0 0 1 125 293.8M177.8 274.3L125.2 294.2M130.3 291L113.9 297M123.2 292.7L113.6 296.2M122.9 291.9L113.3 295.4M123.2 292.7A165.8 165.8 0 0 1 122.9 291.9M129.9 289.8L123 292.3M130.3 291A158.5 158.5 0 0 1 129.9 289.8M175.3 273.9L130.1 290.4M130.9 288.2L113 294.5M127.7 288.5L112.7 293.7M124.6 288.7L112.4 292.8M122.4 288.5L112.1 292M122.2 287.7L111.9 291.1M122.4 288.5A165.1 165.1 0 0 1 122.2 287.7M124.2 287.5L122.3 288.1M124.6 288.7A163.1 163.1 0 0 1 124.2 287.5M127.3 287.1L124.4 288.1M127.7 288.5A160.1 160.1 0 0 1 127.3 287.1M130.4 286.8L127.5 287.8M130.9 288.2A157.1 157.1 0 0 1 130.4 286.8M143.2 283.2L130.6 287.5M122.3 286.8L111.6 290.3M122 286L111.3 289.4M122.3 286.8A164.8 164.8 0 0 1 122 286M127.9 284.5L122.1 286.4M127.6 283.4L111 288.6M127.9 284.5A158.7 158.7 0 0 1 127.6 283.4M132.4 282.5L127.7 284M132 281.2L110.8 287.7M132.4 282.5A153.8 153.8 0 0 1 132 281.2M141.7 278.9L132.2 281.8M143.2 283.2A143.8 143.8 0 0 1 141.7 278.9M150.1 278.5L142.4 281M120.2 283.9L110.5 286.8M120 283.1L110.2 286M120.2 283.9A165.8 165.8 0 0 1 120 283.1M130.5 280.4L120.1 283.5M130.1 278.9L120.6 281.6M130.5 280.4A155 155 0 0 1 130.1 278.9M148.7 274.2L130.3 279.6M150.1 278.5A135.7 135.7 0 0 1 148.7 274.2M151.5 275.7L149.4 276.4M150.3 272L109.5 283.4M151.5 275.7A133.6 133.6 0 0 1 150.3 272M162.7 270.4L150.9 273.8M131.5 274L127.8 275M130.9 271.8L107.9 277.3M131.5 274A152.4 152.4 0 0 1 130.9 271.8M161.3 265.4L131.2 272.9M162.7 270.4A121.3 121.3 0 0 1 161.3 265.4M172.4 265L161.9 267.9M175.3 273.9A110.4 110.4 0 0 1 172.4 265M175.9 268.8L173.8 269.5M177.8 274.3A108.2 108.2 0 0 1 175.9 268.8M258.5 243.1L176.8 271.6M260.2 246.9A21.7 21.7 0 0 1 258.5 243.1M263.7 243L259.3 245.1M119.3 273.7L107.7 276.4M119.1 272.9L107.5 275.6M119.3 273.7A164.1 164.1 0 0 1 119.1 272.9M125.2 271.9L119.2 273.3M124.9 270.7L107.3 274.7M125.2 271.9A157.9 157.9 0 0 1 124.9 270.7M262.6 239.8L125.1 271.3M263.7 243A16.8 16.8 0 0 1 262.6 239.8M266.2 240.4L263 241.4M289.9 244.1A13.6 13.6 0 0 1 266.2 240.4M277.3 246.9L276.9 249.4M116.6 271.7L107.1 273.8M116.4 270.9L106.9 272.9M116.6 271.7A166.3 166.3 0 0 1 116.4 270.9M266 238.8L116.5 271.3M121.6 268.9L106.7 272.1M117.2 269L106.6 271.2M117 268.2L106.4 270.3M117.2 269A165.2 165.2 0 0 1 117 268.2M118.1 268.4L117.1 268.6M117.8 267.2L106.2 269.4M118.1 268.4A164.2 164.2 0 0 1 117.8 267.2M121.2 267.1L118 267.8M121.6 268.9A160.8 160.8 0 0 1 121.2 267.1M124.6 267.4L121.4 268M121 265.7L106 268.5M118.2 265.4L105.9 267.7M118 264.6L105.7 266.8M118.2 265.4A163.5 163.5 0 0 1 118 264.6M120.7 264.5L118.1 265M121 265.7A160.8 160.8 0 0 1 120.7 264.5M124 264.5L120.8 265.1M124.6 267.4A157.6 157.6 0 0 1 124 264.5M140.4 262.9L124.3 266M118.5 263.7L105.6 265.9M118.3 262.8L105.4 265M118.5 263.7A162.9 162.9 0 0 1 118.3 262.8M139.8 259.6L118.4 263.3M140.4 262.9A141.2 141.2 0 0 1 139.8 259.6M141.6 261L140.1 261.2M117.7 262.1L105.3 264.1M117.6 261.3L105.1 263.2M117.7 262.1A163.4 163.4 0 0 1 117.6 261.3M141.1 258L117.6 261.7M141.6 261A139.7 139.7 0 0 1 141.1 258M155.3 257.1L141.3 259.5M121.6 259.8L105 262.3M116.1 259.8L104.8 261.5M116 259L104.7 260.6M116.1 259.8A164.6 164.6 0 0 1 116 259M121.4 258.6L116.1 259.4M121.6 259.8A159.2 159.2 0 0 1 121.4 258.6M154.8 254.3L121.5 259.2M155.3 257.1A125.5 125.5 0 0 1 154.8 254.3M234.9 243L155.1 255.7M117.1 258L104.6 259.7M117 257.1L104.5 258.8M117.1 258A163.4 163.4 0 0 1 117 257.1M120.6 257.1L117.1 257.6M120.5 255.9L104.4 257.9M120.6 257.1A159.8 159.8 0 0 1 120.5 255.9M144.2 253.4L120.6 256.5M141.1 249.5L134.8 250.2M119.8 248.6L103.5 249.9M115.1 248.1L103.5 249M115 247.3L103.4 248.1M115.1 248.1A164.4 164.4 0 0 1 115 247.3M119.8 247.4L115.1 247.7M119.8 248.6A159.7 159.7 0 0 1 119.8 247.4M140.9 246.4L119.8 248M141.1 249.5A138.5 138.5 0 0 1 140.9 246.4M143.6 247.7L141 248M144.2 253.4A135.9 135.9 0 0 1 143.6 247.7M145 250.5L143.9 250.6M115.4 246.4L103.4 247.2M115.4 245.6L103.3 246.3M115.4 246.4A163.9 163.9 0 0 1 115.4 245.6M117.2 245.9L115.4 246M117.1 244.6L103.3 245.4M117.2 245.9A162.1 162.1 0 0 1 117.1 244.6M125.2 244.8L117.2 245.3M125.1 243.4L103.2 244.5M125.2 244.8A154.1 154.1 0 0 1 125.1 243.4M144.4 243.1L125.1 244.1M145 250.5A134.8 134.8 0 0 1 144.4 243.1M162.7 245.3L144.7 246.8M162.4 240.6L118.1 242.3M162.7 245.3A116.7 116.7 0 0 1 162.4 240.6M194.5 241.1L162.5 243M116.8 240.5L103.1 240.9M115.4 239.7L103 240M115.4 238.9L103 239.1M115.4 239.7A163.7 163.7 0 0 1 115.4 238.9M116.8 239.3L115.4 239.3M116.8 240.5A162.3 162.3 0 0 1 116.8 239.3M145 239.2L116.8 239.9M113.9 238.1L103 238.2M111 237.2L103 237.3M111 236.4L103 236.4M111 237.2A168 168 0 0 1 111 236.4M113.9 236.8L111 236.8M113.9 238.1A165.1 165.1 0 0 1 113.9 236.8M133.8 237.3L113.9 237.4M117.5 235.5L103 235.5M117.5 234.7L103 234.6M117.5 235.5A161.5 161.5 0 0 1 117.5 234.7M124.9 235.2L117.5 235.1M115.9 233.9L103 233.7M115.9 233L103 232.8M115.9 233.9A163.1 163.1 0 0 1 115.9 233M124.9 233.6L115.9 233.5M124.9 235.2A154.1 154.1 0 0 1 124.9 233.6M133.8 234.5L124.9 234.4M133.8 237.3A145.2 145.2 0 0 1 133.8 234.5M145 235.9L133.8 235.9M145 239.2A134 134 0 0 1 145 235.9M194.3 237L145 237.5M194.5 241.1A84.7 84.7 0 0 1 194.3 237M234.4 237.6L194.4 239M234.9 243A44.6 44.6 0 0 1 234.4 237.6M262.6 237.6L234.6 240.3M259.5 235.5L103 231.9M116.9 231.4L103.1 231M117 230.6L103.1 230.1M116.9 231.4A162.1 162.1 0 0 1 117 230.6M257.9 235.3L116.9 231M120.6 229.9L103.1 229.2M117.6 229L103.2 228.3M114.9 228L103.2 227.4M108.3 226.8L103.3 226.5M108.4 225.9L103.3 225.6M108.3 226.8A170.9 170.9 0 0 1 108.4 225.9M111.5 226.6L108.4 226.4M109.3 225.1L103.4 224.7M109.4 224.3L103.4 223.8M109.3 225.1A170 170 0 0 1 109.4 224.3M111.6 224.8L109.3 224.7M111.5 226.6A167.7 167.7 0 0 1 111.6 224.8M115 225.9L111.6 225.7M114.9 228A164.3 164.3 0 0 1 115 225.9M117.7 227.1L115 227M117.6 229A161.5 161.5 0 0 1 117.7 227.1M120.7 228.2L117.7 228M120.6 229.9A158.5 158.5 0 0 1 120.7 228.2M123.7 229.2L120.6 229M124 224.5L103.5 223M123.7 229.2A155.4 155.4 0 0 1 124 224.5M185.4 230.5L123.9 226.8M116.4 223.1L103.6 222.1M111.3 221.8L103.6 221.2M111.4 221L103.7 220.3M111.3 221.8A168.3 168.3 0 0 1 111.4 221M113.3 221.6L111.3 221.4M113.4 220.3L103.8 219.4M113.3 221.6A166.3 166.3 0 0 1 113.4 220.3M116.6 221.2L113.4 220.9M116.4 223.1A163.1 163.1 0 0 1 116.6 221.2M118.5 222.3L116.5 222.1M118.7 220L103.9 218.5M118.5 222.3A161.1 161.1 0 0 1 118.7 220M182.5 227.1L118.6 221.1M113.1 218.6L104 217.6M113.2 217.7L104.1 216.7M113.1 218.6A166.8 166.8 0 0 1 113.2 217.7M155.3 222.7L113.1 218.1M117.6 217.4L104.2 215.8M117.7 216.5L104.3 214.9M117.6 217.4A162.4 162.4 0 0 1 117.7 216.5M130.7 218.5L117.7 217M119.1 215.9L104.4 214M114.4 214.4L104.5 213.1M114.5 213.6L104.6 212.2M114.4 214.4A166 166 0 0 1 114.5 213.6M115.5 214.2L114.4 214M115.7 212.9L104.7 211.4M115.5 214.2A164.9 164.9 0 0 1 115.7 212.9M119.3 214L115.6 213.5M119.1 215.9A161.2 161.2 0 0 1 119.3 214M125.5 215.8L119.2 215M116.9 212.2L104.9 210.5M117 211.4L105 209.6M116.9 212.2A163.8 163.8 0 0 1 117 211.4M122.7 212.7L117 211.8M122.9 211.5L105.1 208.7M122.7 212.7A158 158 0 0 1 122.9 211.5M126 212.6L122.8 212.1M125.5 215.8A154.8 154.8 0 0 1 126 212.6M131.1 214.9L125.7 214.2M130.7 218.5A149.4 149.4 0 0 1 131.1 214.9M131.8 216.8L130.9 216.7M121.1 210.4L105.3 207.8M118.7 209.1L105.4 206.9M118.8 208.3L105.6 206M118.7 209.1A162.6 162.6 0 0 1 118.8 208.3M121.3 209.2L118.7 208.7M121.1 210.4A160 160 0 0 1 121.3 209.2M132.6 211.7L121.2 209.8M131.8 216.8A148.4 148.4 0 0 1 132.6 211.7M147.5 216.5L132.2 214.2M119.7 207.6L105.7 205.1M119.8 206.8L105.9 204.3M119.7 207.6A161.8 161.8 0 0 1 119.8 206.8M126.4 208.4L119.8 207.2M127 205.4L125 205M126.4 208.4A155.1 155.1 0 0 1 127 205.4M148.5 211.1L126.7 206.9M147.5 216.5A132.9 132.9 0 0 1 148.5 211.1M149.2 214L148 213.8M117.1 201.2L106.9 199M117.3 200.4L107.1 198.1M117.1 201.2A165.6 165.6 0 0 1 117.3 200.4M150.4 208L117.2 200.8M149.2 214A131.7 131.7 0 0 1 150.4 208M155.6 212.1L149.7 211M156.4 208.3L107.3 197.2M155.6 212.1A125.6 125.6 0 0 1 156.4 208.3M157.2 210.5L156 210.2M155.3 222.7A124.5 124.5 0 0 1 157.2 210.5M158.9 217L156.1 216.5M120.3 199.3L107.5 196.4M120.5 198.5L107.7 195.5M120.3 199.3A162.9 162.9 0 0 1 120.5 198.5M160.6 208.3L120.4 198.9M158.9 217A121.6 121.6 0 0 1 160.6 208.3M179.3 216.5L159.7 212.6M121.5 197.9L107.9 194.6M118.9 196.4L108.1 193.7M119.1 195.6L108.4 192.9M118.9 196.4A164.9 164.9 0 0 1 119.1 195.6M121.8 196.7L119 196M121.5 197.9A162 162 0 0 1 121.8 196.7M129.4 199.2L121.6 197.3M129.8 197.5L108.6 192M129.4 199.2A154.1 154.1 0 0 1 129.8 197.5M180.5 211.2L129.6 198.3M179.3 216.5A101.5 101.5 0 0 1 180.5 211.2M181.4 214.2L179.9 213.8M125.1 195.4L108.8 191.1M118.6 192.8L109 190.3M118.8 192L109.3 189.4M118.6 192.8A166.1 166.1 0 0 1 118.8 192M125.4 194.2L118.7 192.4M125.1 195.4A159.2 159.2 0 0 1 125.4 194.2M136.6 197.9L125.3 194.8M120.1 191.5L109.5 188.5M120.3 190.7L109.8 187.7M120.1 191.5A165 165 0 0 1 120.3 190.7M123.6 192L120.2 191.1M123.9 190.9L110 186.8M123.6 192A161.5 161.5 0 0 1 123.9 190.9M137.3 195.3L123.8 191.4M136.6 197.9A147.4 147.4 0 0 1 137.3 195.3M182.6 209.3L137 196.6M181.4 214.2A100 100 0 0 1 182.6 209.3M185 212.5L182 211.7M182.5 227.1A96.9 96.9 0 0 1 185 212.5M186.5 220.2L183.5 219.7M185.4 230.5A93.8 93.8 0 0 1 186.5 220.2M209.6 228.1L185.8 225.3M121.8 189.4L110.3 185.9M122.1 188.6L110.5 185.1M121.8 189.4A163.9 163.9 0 0 1 122.1 188.6M123.9 189.6L121.9 189M124.3 188.4L110.8 184.2M123.9 189.6A161.9 161.9 0 0 1 124.3 188.4M126.2 189.6L124.1 189M126.6 188.2L111.1 183.4M126.2 189.6A159.7 159.7 0 0 1 126.6 188.2M150.3 196.3L126.4 188.9M121 185.6L111.3 182.5M121.3 184.8L111.6 181.7M121 185.6A165.8 165.8 0 0 1 121.3 184.8M123.8 186.1L121.2 185.2M124.2 184.9L111.9 180.8M123.8 186.1A163 163 0 0 1 124.2 184.9M131.8 188L124 185.5M123.1 183.6L112.2 180M123.3 182.8L112.5 179.1M123.1 183.6A164.5 164.5 0 0 1 123.3 182.8M126.6 184.4L123.2 183.2M127 183.2L112.7 178.3M126.6 184.4A160.9 160.9 0 0 1 127 183.2M132.6 185.8L126.8 183.8M131.8 188A154.8 154.8 0 0 1 132.6 185.8M151.3 193.3L132.2 186.9M150.3 196.3A134.7 134.7 0 0 1 151.3 193.3M212.5 214.6L150.8 194.8M209.6 228.1A69.9 69.9 0 0 1 212.5 214.6M249.8 229.7L210.7 221.3M147.2 189.4L113 177.4M142.2 186.9L113.3 176.6M141.7 185.9L113.6 175.7M125.1 179L114 174.9M122.7 177.2L114.3 174M123 176.4L114.6 173.2M122.7 177.2A167 167 0 0 1 123 176.4M125.5 177.8L122.8 176.8M125.1 179A164.2 164.2 0 0 1 125.5 177.8M128.2 179.5L125.3 178.4M126.5 176.8L114.9 172.4M126.8 176.1L115.2 171.5M126.5 176.8A163.6 163.6 0 0 1 126.8 176.1M129 177.4L126.6 176.5M128.2 179.5A161 161 0 0 1 129 177.4M138.4 182.2L128.6 178.4M139.2 180.1L115.6 170.7M138.4 182.2A150.6 150.6 0 0 1 139.2 180.1M142.9 182.7L138.8 181.2M141.7 185.9A146.2 146.2 0 0 1 142.9 182.7M143 184.6L142.3 184.3M142.2 186.9A145.3 145.3 0 0 1 143 184.6M147.8 187.7L142.6 185.8M147.2 189.4A139.8 139.8 0 0 1 147.8 187.7M152.1 190.2L147.5 188.6M150.9 184.1L115.9 169.9M126.1 173.1L116.2 169M126.5 172.3L116.6 168.2M126.1 173.1A165.3 165.3 0 0 1 126.5 172.3M128.8 173.7L126.3 172.7M129.3 172.6L116.9 167.4M128.8 173.7A162.6 162.6 0 0 1 129.3 172.6M145.4 180L129.1 173.2M126.3 170.4L117.3 166.5M126.7 169.6L117.6 165.7M126.3 170.4A166.2 166.2 0 0 1 126.7 169.6M127.3 170.4L126.5 170M127.8 169.2L118 164.9M127.3 170.4A165.2 165.2 0 0 1 127.8 169.2M130.2 170.9L127.6 169.8M130.8 169.6L118.4 164.1M130.2 170.9A162.4 162.4 0 0 1 130.8 169.6M146.5 177.4L130.5 170.3M145.4 180A144.9 144.9 0 0 1 146.5 177.4M149.7 180.3L146 178.7M128 167.5L118.7 163.3M128.4 166.7L119.1 162.4M128 167.5A165.8 165.8 0 0 1 128.4 166.7M151 177.5L128.2 167.1M149.7 180.3A140.8 140.8 0 0 1 151 177.5M152.7 179.9L150.3 178.9M150.9 184.1A138.2 138.2 0 0 1 152.7 179.9M154.8 183.3L151.8 182M152.1 190.2A134.9 134.9 0 0 1 154.8 183.3M185.2 199.2L153.4 186.7M132.1 167.5L119.5 161.6M132.5 166.8L119.9 160.8M132.1 167.5A162.1 162.1 0 0 1 132.5 166.8M140.3 170.9L132.3 167.1M128.4 163.9L120.3 160M128.7 163.1L120.6 159.2M128.4 163.9A167 167 0 0 1 128.7 163.1M135.3 166.7L128.5 163.5M135.8 165.6L121 158.4M135.3 166.7A159.5 159.5 0 0 1 135.8 165.6M137.1 166.9L135.5 166.2M132.8 163.2L121.4 157.6M133.2 162.5L121.8 156.8M132.8 163.2A163.3 163.3 0 0 1 133.2 162.5M137.9 165.3L133 162.9M137.1 166.9A157.8 157.8 0 0 1 137.9 165.3M141.6 168.1L137.5 166.1M140.3 170.9A153.3 153.3 0 0 1 141.6 168.1M143.2 170.6L140.9 169.5M131.3 160.6L122.2 156M131.7 159.9L122.7 155.2M131.3 160.6A165.8 165.8 0 0 1 131.7 159.9M144.9 167.1L131.5 160.2M143.2 170.6A150.8 150.8 0 0 1 144.9 167.1M188.8 191.1L144 168.9M185.2 199.2A100.8 100.8 0 0 1 188.8 191.1M251.7 223.9L186.9 195.1M249.8 229.7A29.8 29.8 0 0 1 251.7 223.9M255.7 228.4L250.6 226.8M244.1 217.7L123.1 154.4M135.7 160.1L123.5 153.6M132.4 157.4L123.9 152.8M132.8 156.6L124.3 152M132.4 157.4A166.4 166.4 0 0 1 132.8 156.6M136.3 159L132.6 157M135.7 160.1A162.2 162.2 0 0 1 136.3 159M139.1 161.2L136 159.5M140.5 158.7L135.1 155.7M139.1 161.2A158.6 158.6 0 0 1 140.5 158.7M159.4 170.6L139.8 159.9M138.3 155.8L126.1 148.9M135 153L126.5 148.1M135.4 152.2L127 147.3M135 153A166.2 166.2 0 0 1 135.4 152.2M138.9 154.8L135.2 152.6M138.3 155.8A161.9 161.9 0 0 1 138.9 154.8M142.9 157.8L138.6 155.3M143.8 156.2L127.4 146.5M142.9 157.8A157 157 0 0 1 143.8 156.2M161.2 167.4L143.3 157M159.4 170.6A136.3 136.3 0 0 1 161.2 167.4M162 170L160.3 169M139.3 152.6L127.9 145.8M139.7 151.9L128.4 145M139.3 152.6A162.7 162.7 0 0 1 139.7 151.9M142.3 153.9L139.5 152.2M143 152.9L128.8 144.2M142.3 153.9A159.4 159.4 0 0 1 143 152.9M164.1 166.4L142.6 153.4M162 170A134.3 134.3 0 0 1 164.1 166.4M239.7 213L163.1 168.2M139.2 149.6L129.3 143.5M139.6 148.9L129.8 142.7M139.2 149.6A164.4 164.4 0 0 1 139.6 148.9M235.9 209.2L139.4 149.2M141.5 149.1L130.2 141.9M139.2 146.6L130.7 141.2M139.7 145.9L131.2 140.4M139.2 146.6A165.9 165.9 0 0 1 139.7 145.9M142.2 148L139.5 146.3M141.5 149.1A162.6 162.6 0 0 1 142.2 148M225.5 201.9L141.9 148.6M143 147.1L131.7 139.7M143.5 146.4L132.2 138.9M143 147.1A162.5 162.5 0 0 1 143.5 146.4M144.3 147.4L143.2 146.7M145 146.4L132.7 138.2M144.3 147.4A161.2 161.2 0 0 1 145 146.4M168.3 162.6L144.6 146.9M142.8 143.9L133.2 137.4M143.3 143.2L133.7 136.7M142.8 143.9A164.4 164.4 0 0 1 143.3 143.2M163.9 157.8L143 143.6M163.2 156L134.2 136M142.8 140.8L134.7 135.2M143.3 140.2L135.2 134.5M142.8 140.8A166.2 166.2 0 0 1 143.3 140.2M149.7 145.2L143 140.5M150.7 143.9L146.1 140.6M149.7 145.2A158 158 0 0 1 150.7 143.9M153.3 146.7L150.2 144.6M154.4 145.1L136.8 132.3M153.3 146.7A154.2 154.2 0 0 1 154.4 145.1M156.3 147.7L153.8 145.9M157.3 146.3L137.3 131.6M156.3 147.7A151.1 151.1 0 0 1 157.3 146.3M157.7 147.6L156.8 147M156.3 144.5L137.9 130.8M154 141.9L138.4 130.1M154.9 140.8L149.3 136.5M154 141.9A156.5 156.5 0 0 1 154.9 140.8M157.1 143.4L154.4 141.3M156.3 144.5A153.1 153.1 0 0 1 157.1 143.4M159.1 145.8L156.7 144M157.7 147.6A150.1 150.1 0 0 1 159.1 145.8M165.9 152.3L158.4 146.7M163.2 156A140.7 140.7 0 0 1 165.9 152.3M165.8 155L164.5 154.1M163.9 157.8A139.1 139.1 0 0 1 165.8 155M166.5 157.6L164.9 156.4M171.2 151.3L140.6 127.3M166.5 157.6A137.1 137.1 0 0 1 171.2 151.3M170.6 155.8L168.8 154.4M173.4 152.2L141.1 126.6M170.6 155.8A134.8 134.8 0 0 1 173.4 152.2M173.6 155.1L172 153.9M168.3 162.6A132.9 132.9 0 0 1 173.6 155.1M184.3 168.4L170.8 158.8M151.3 133.1L148.7 130.9M152.1 132.1L142.8 124.5M151.3 133.1A164 164 0 0 1 152.1 132.1M188.7 162.6L151.7 132.6M184.3 168.4A116.4 116.4 0 0 1 188.7 162.6M226.3 195.9L186.4 165.5M153.2 131.9L143.4 123.8M151.2 129.1L144 123.1M151.7 128.4L144.6 122.4M151.2 129.1A166.7 166.7 0 0 1 151.7 128.4M154 130.9L151.4 128.8M153.2 131.9A163.3 163.3 0 0 1 154 130.9M157.4 134.6L153.6 131.4M158.6 133.2L145.1 121.7M157.4 134.6A158.3 158.3 0 0 1 158.6 133.2M162.3 137.5L158 133.9M163.3 136.2L145.7 121M162.3 137.5A152.7 152.7 0 0 1 163.3 136.2M174 146.5L162.8 136.9M153.6 126.7L146.3 120.4M154.2 126.1L146.9 119.7M153.6 126.7A166.3 166.3 0 0 1 154.2 126.1M157.8 129.8L153.9 126.4M158.6 128.9L147.5 119M157.8 129.8A161.1 161.1 0 0 1 158.6 128.9M175.6 144.7L158.2 129.4M174 146.5A138 138 0 0 1 175.6 144.7M202.7 169.8L174.8 145.6M182.8 147.6L163.8 130.2M158.5 123.2L150.5 115.7M159.1 122.6L151.1 115.1M158.5 123.2A165.1 165.1 0 0 1 159.1 122.6M164.9 128.6L158.8 122.9M162.2 124.3L151.8 114.4M159.1 120.3L152.4 113.8M159.7 119.7L153 113.1M159.1 120.3A166.6 166.6 0 0 1 159.7 119.7M163 123.4L159.4 120M162.2 124.3A161.6 161.6 0 0 1 163 123.4M164.4 125.6L162.6 123.9M165.9 124L162.4 120.5M164.4 125.6A159.2 159.2 0 0 1 165.9 124M166.9 126.5L165.1 124.8M164.9 128.6A156.7 156.7 0 0 1 166.9 126.5M184.7 145.6L165.9 127.5M182.8 147.6A130.7 130.7 0 0 1 184.7 145.6M187.1 149.8L183.7 146.6M172.8 129.2L154.9 111.2M165.1 120.3L155.5 110.6M163.1 117L156.2 109.9M163.7 116.5L156.8 109.3M163.1 117A166.1 166.1 0 0 1 163.7 116.5M164.1 117.5L163.4 116.7M165 116.6L157.5 108.7M164.1 117.5A165 165 0 0 1 165 116.6M166.4 119L164.6 117.1M165.1 120.3A162.4 162.4 0 0 1 166.4 119M174 128.1L165.7 119.6M172.8 129.2A150.6 150.6 0 0 1 174 128.1M190.6 146.2L173.4 128.6M187.1 149.8A126 126 0 0 1 190.6 146.2M196.1 155L188.9 148M164.7 115L158.1 108.1M165.3 114.4L158.8 107.5M164.7 115A166.5 166.5 0 0 1 165.3 114.4M175.5 126L165 114.7M178.5 123.3L177.5 122.2M175.5 126A151 151 0 0 1 178.5 123.3M200.7 150.5L177 124.6M196.1 155A115.9 115.9 0 0 1 200.7 150.5M208.8 163.5L198.4 152.7M202.7 169.8A101 101 0 0 1 208.8 163.5M230.9 190.5L205.7 166.6M226.3 195.9A66.2 66.2 0 0 1 230.9 190.5M230.6 194.9L228.6 193.1M225.5 201.9A63.5 63.5 0 0 1 230.6 194.9M238.1 205.8L227.9 198.3M235.9 209.2A50.8 50.8 0 0 1 238.1 205.8M241.3 210.4L237 207.5M239.7 213A45.5 45.5 0 0 1 241.3 210.4M243 213.3L240.5 211.7M171.9 111.7L164.1 102.7M172.6 111.2L164.8 102.1M171.9 111.7A164 164 0 0 1 172.6 111.2M210.3 155.8L172.3 111.5M174.4 112.1L165.5 101.5M175 111.5L166.2 100.9M174.4 112.1A162.2 162.2 0 0 1 175 111.5M185.9 125.1L174.7 111.8M174.4 109.4L166.9 100.3M174.3 108L167.6 99.8M175 107.5L168.3 99.2M174.3 108A165.3 165.3 0 0 1 175 107.5M175.3 108.6L174.6 107.8M174.4 109.4A164.2 164.2 0 0 1 175.3 108.6M179.3 114.4L174.9 109M180.7 113.3L169 98.6M179.3 114.4A157.2 157.2 0 0 1 180.7 113.3M181.3 115.4L180 113.8M178 108.6L169.7 98.1M177.5 106.6L170.4 97.5M178.1 106.1L171.1 97M177.5 106.6A164.5 164.5 0 0 1 178.1 106.1M178.9 107.8L177.8 106.3M178 108.6A162.6 162.6 0 0 1 178.9 107.8M181.1 111.6L178.4 108.2M182.5 110.4L171.8 96.4M181.1 111.6A158.3 158.3 0 0 1 182.5 110.4M183.7 113.5L181.8 111M181.3 115.4A155.2 155.2 0 0 1 183.7 113.5M183 115.1L182.5 114.4M185.6 113.1L172.5 95.9M183 115.1A154.4 154.4 0 0 1 185.6 113.1M190.1 121.6L184.3 114.1M185.9 125.1A144.8 144.8 0 0 1 190.1 121.6M192 128.2L188 123.3M178.8 102.8L173.2 95.3M179.5 102.3L173.9 94.8M178.8 102.8A166.6 166.6 0 0 1 179.5 102.3M196 125.1L179.2 102.6M192 128.2A138.5 138.5 0 0 1 196 125.1M195.8 129L194 126.7M183.5 106.3L174.6 94.3M182.4 103.4L175.4 93.7M183.1 102.9L176.1 93.2M182.4 103.4A164 164 0 0 1 183.1 102.9M184.5 105.6L182.7 103.2M183.5 106.3A161.1 161.1 0 0 1 184.5 105.6M199.1 126.5L184 105.9M195.8 129A135.5 135.5 0 0 1 199.1 126.5M215.4 151.7L197.4 127.8M210.3 155.8A105.6 105.6 0 0 1 215.4 151.7M251.2 201.4L212.8 153.7M223.4 158.1L176.8 92.7M193.3 110.8L191.8 108.6M186.9 98.1L181.3 89.6M187.6 97.6L182 89.1M186.9 98.1A165.8 165.8 0 0 1 187.6 97.6M188.7 100L187.3 97.8M189.7 99.3L182.8 88.6M188.7 100A163.3 163.3 0 0 1 189.7 99.3M195.5 109.2L189.2 99.6M193.3 110.8A151.8 151.8 0 0 1 195.5 109.2M199.1 117L194.4 110M188.7 96.1L183.5 88.2M189.4 95.7L184.3 87.7M188.7 96.1A166.5 166.5 0 0 1 189.4 95.7M201.5 115.4L189 95.9M199.1 117A143.3 143.3 0 0 1 201.5 115.4M201.5 118L200.3 116.2M190 95.1L185 87.2M190.7 94.6L185.8 86.7M190 95.1A166.7 166.7 0 0 1 190.7 94.6M203.9 116.5L190.3 94.8M201.5 118A141.2 141.2 0 0 1 203.9 116.5M203.3 118.1L202.7 117.2M192.5 95.9L186.5 86.2M193.3 95.5L187.3 85.8M192.5 95.9A164.6 164.6 0 0 1 193.3 95.5M205.7 116.6L192.9 95.7M203.3 118.1A140.1 140.1 0 0 1 205.7 116.6M205.1 118.3L204.5 117.3M207.5 116.8L193.7 93.8M205.1 118.3A139 139 0 0 1 207.5 116.8M207.6 119.6L206.3 117.5M209.7 118.4L189.6 84.4M207.6 119.6A136.5 136.5 0 0 1 209.7 118.4M210 121.4L208.6 119M197.8 96.7L190.4 83.9M196.9 93.4L191.2 83.5M197.6 92.9L192 83M196.9 93.4A164.6 164.6 0 0 1 197.6 92.9M198.9 96L197.2 93.2M197.8 96.7A161.3 161.3 0 0 1 198.9 96M212.1 120.2L198.3 96.4M210 121.4A133.8 133.8 0 0 1 212.1 120.2M225.9 145.9L211.1 120.8M227.8 144.9L192.7 82.6M225.9 145.9A104.5 104.5 0 0 1 227.8 144.9M231.2 153.1L226.8 145.4M223.4 158.1A95.7 95.7 0 0 1 231.2 153.1M229.6 159.1L227.3 155.5M234.6 156.1L193.5 82.2M229.6 159.1A91.4 91.4 0 0 1 234.6 156.1M256.2 197.9L232.1 157.6M251.2 201.4A44.4 44.4 0 0 1 256.2 197.9M254.7 201.1L253.6 199.6M243 213.3A42.5 42.5 0 0 1 254.7 201.1M250.5 208.8L248.3 206.6M244.1 217.7A39.4 39.4 0 0 1 250.5 208.8M249.5 214.8L247 213M261.5 204.1L194.3 81.7M249.5 214.8A36.3 36.3 0 0 1 261.5 204.1M258.8 213.2L254.9 208.8M263.5 207.3L195.1 81.3M201.2 90.7L195.9 80.9M201.9 90.3L196.7 80.4M201.2 90.7A164.8 164.8 0 0 1 201.9 90.3M213.9 113.7L201.5 90.5M211.8 99.9L210.3 96.8M214.9 98.4L204.7 76.4M211.8 99.9A151.8 151.8 0 0 1 214.9 98.4M217.2 107.1L213.3 99.1M218.3 104L205.5 76.1M211.3 86.7L206.3 75.7M212.1 86.4L207.2 75.3M211.3 86.7A163.9 163.9 0 0 1 212.1 86.4M216.9 98L211.7 86.5M218.8 97.2L216.3 91.4M216.9 98A151.3 151.3 0 0 1 218.8 97.2M220.3 103.1L217.9 97.6M218.3 104A145.3 145.3 0 0 1 220.3 103.1M220.3 105.7L219.3 103.5M217.2 107.1A142.9 142.9 0 0 1 220.3 105.7M219.9 108.9L218.7 106.4M224.4 106.9L210.5 73.9M219.9 108.9A140.1 140.1 0 0 1 224.4 106.9M222.8 109.4L222.2 107.9M213.9 113.7A138.5 138.5 0 0 1 222.8 109.4M218.9 112.6L218.3 111.5M226.2 109.3L211.3 73.6M218.9 112.6A137.2 137.2 0 0 1 226.2 109.3M223.8 113.7L222.5 110.9M216.4 83.7L212.1 73.2M217.2 83.4L212.9 72.9M216.4 83.7A164.6 164.6 0 0 1 217.2 83.4M228.3 111.8L216.8 83.6M223.8 113.7A134.2 134.2 0 0 1 228.3 111.8M262.2 196.9L226 112.7M250.7 165L213.8 72.5M220.9 88.2L214.6 72.2M218.8 80.4L215.4 71.9M219.5 80.1L216.3 71.6M218.8 80.4A166.8 166.8 0 0 1 219.5 80.1M222 87.8L219.2 80.3M220.9 88.2A158.8 158.8 0 0 1 222 87.8M239.9 135.3L221.5 88M220.7 80.9L217.1 71.2M221.5 80.6L218 70.9M220.7 80.9A165.7 165.7 0 0 1 221.5 80.6M222.3 83.9L221.1 80.7M223.5 83.4L218.8 70.6M222.3 83.9A162.3 162.3 0 0 1 223.5 83.4M225.8 91.7L222.9 83.7M223 79.5L219.6 70.3M223.8 79.3L220.5 70M223 79.5A166.2 166.2 0 0 1 223.8 79.3M227.5 91.1L223.4 79.4M225.8 91.7A153.8 153.8 0 0 1 227.5 91.1M227.7 94.3L226.7 91.4M229.6 93.7L221.3 69.7M227.7 94.3A150.6 150.6 0 0 1 229.6 93.7M233.1 106.3L228.7 94M229.5 90.9L222.2 69.4M228.3 84.9L223 69.1M227.1 78.5L223.9 68.8M227.9 78.2L224.7 68.6M227.1 78.5A165.8 165.8 0 0 1 227.9 78.2M229.5 84.5L227.5 78.4M228.3 84.9A159.4 159.4 0 0 1 229.5 84.5M230.8 90.5L228.9 84.7M229.5 90.9A153.3 153.3 0 0 1 230.8 90.5M234.3 103.1L230.2 90.7M232.9 91.1L225.6 68.3M229.1 76.6L226.5 68M229.9 76.3L227.3 67.8M229.1 76.6A167 167 0 0 1 229.9 76.3M231.3 82.2L229.5 76.4M230.7 75.9L228.2 67.5M231.5 75.7L229 67.2M230.7 75.9A167.2 167.2 0 0 1 231.5 75.7M231.9 78.6L231.1 75.8M233.2 78.2L229.9 67M231.9 78.6A164.3 164.3 0 0 1 233.2 78.2M233.5 81.6L232.6 78.4M231.3 82.2A161 161 0 0 1 233.5 81.6M235 90.4L232.4 81.9M232.9 91.1A152.1 152.1 0 0 1 235 90.4M236.8 100L233.9 90.7M235 81.6L230.8 66.7M236.2 81.3L234.8 76.1M235 81.6A160.5 160.5 0 0 1 236.2 81.3M240.5 98.9L235.6 81.4M236.8 100A142.4 142.4 0 0 1 240.5 98.9M239.3 101.5L238.6 99.4M234.3 103.1A140.2 140.2 0 0 1 239.3 101.5M237.6 104.8L236.8 102.3M233.1 106.3A137.6 137.6 0 0 1 237.6 104.8M242.8 127.9L235.3 105.5M236.3 77L233.4 66M237.1 76.7L234.2 65.8M236.3 77A164.7 164.7 0 0 1 237.1 76.7M249.7 125.8L236.7 76.8M242.8 127.9A114 114 0 0 1 249.7 125.8M248 132.5L246.2 126.8M239.9 135.3A108 108 0 0 1 248 132.5M245 137.2L243.9 133.9M238.8 80.1L235.1 65.6M239.3 78.7L236 65.3M238.9 73.6L236.8 65.1M239.8 73.4L237.7 64.9M238.9 73.6A167.2 167.2 0 0 1 239.8 73.4M239.8 75.4L239.3 73.5M241 75.1L238.6 64.7M239.8 75.4A165.3 165.3 0 0 1 241 75.1M241.1 78.2L240.4 75.2M239.3 78.7A162.3 162.3 0 0 1 241.1 78.2M240.5 79.6L240.2 78.4M238.8 80.1A161 161 0 0 1 240.5 79.6M241.7 88L239.7 79.9M242.6 78.1L239.4 64.5M243.4 77.9L240.3 64.3M242.6 78.1A162.1 162.1 0 0 1 243.4 77.9M245.1 87.2L243 78M241.7 88A152.6 152.6 0 0 1 245.1 87.2M243.9 89.8L243.4 87.6M247.6 89L245.6 79.1M243.9 89.8A150.3 150.3 0 0 1 247.6 89M248.9 103.1L245.8 89.4M246.1 74.7L243.8 63.5M246.9 74.5L244.7 63.4M246.1 74.7A164.6 164.6 0 0 1 246.9 74.5M246.8 76.1L246.5 74.6M248 75.9L245.6 63.2M246.8 76.1A163.1 163.1 0 0 1 248 75.9M247.8 78L247.4 76M248.5 73.8L246.5 63M249.3 73.7L247.4 62.9M248.5 73.8A165 165 0 0 1 249.3 73.7M249.6 77.6L248.9 73.7M247.8 78A161.1 161.1 0 0 1 249.6 77.6M249.1 79.5L248.7 77.8M251.2 79.2L248.2 62.7M249.1 79.5A159.3 159.3 0 0 1 251.2 79.2M254.3 102L250.1 79.3M248.9 103.1A136.3 136.3 0 0 1 254.3 102M258 133.7L251.6 102.5M245 137.2A104.5 104.5 0 0 1 258 133.7M252 137.1L251.4 135.2M261.6 135L249.1 62.6M252 137.1A102.5 102.5 0 0 1 261.6 135M262.4 161.3L256.8 135.9M250.7 165A76.5 76.5 0 0 1 262.4 161.3M264.3 188.4L256.5 162.9M253.3 82L250 62.4M253.1 75.9L250.9 62.3M253.5 72.8L251.8 62.1M254.3 72.6L252.7 62M253.5 72.8A165.2 165.2 0 0 1 254.3 72.6M254.3 75.7L253.9 72.7M253.1 75.9A162.1 162.1 0 0 1 254.3 75.7M254.1 78.5L253.7 75.8M255.9 78.2L253.6 61.8M254.1 78.5A159.5 159.5 0 0 1 255.9 78.2M255.5 81.7L255 78.3M253.3 82A156.1 156.1 0 0 1 255.5 81.7M261 122.9L254.4 81.9M262.4 118.1L254.4 61.7M256.5 70.1L255.3 61.6M257.3 70L256.2 61.5M256.5 70.1A167.4 167.4 0 0 1 257.3 70M257.2 72.3L256.9 70.1M258.5 72.2L257.1 61.4M257.2 72.3A165.1 165.1 0 0 1 258.5 72.2M260.6 93.2L257.8 72.2M259.1 70.5L258 61.3M260 70.4L258.9 61.2M259.1 70.5A166.7 166.7 0 0 1 260 70.4M261.2 84.4L259.5 70.4M261.8 79.2L259.8 61.1M262.1 74.6L260.7 61M262.9 74.6L261.6 60.9M262.1 74.6A162.2 162.2 0 0 1 262.9 74.6M263 79.1L262.5 74.6M261.8 79.2A157.7 157.7 0 0 1 263 79.1M262.9 84.3L262.4 79.1M261.2 84.4A152.6 152.6 0 0 1 262.9 84.3M262.8 90.9L262.1 84.3M263.7 73.4L262.5 60.8M264.5 73.3L263.4 60.7M263.7 73.4A163.3 163.3 0 0 1 264.5 73.3M264.6 79.3L264.1 73.3M265.8 79.2L264.3 60.6M264.6 79.3A157.3 157.3 0 0 1 265.8 79.2M266.2 90.5L265.2 79.3M262.8 90.9A146 146 0 0 1 266.2 90.5M264.7 92.8L264.5 90.7M260.6 93.2A143.9 143.9 0 0 1 264.7 92.8M262.9 95.8L262.6 93M265.9 70.3L265.2 60.5M266.8 70.3L266 60.5M265.9 70.3A166.2 166.2 0 0 1 266.8 70.3M268.3 95.3L266.3 70.3M262.9 95.8A141.1 141.1 0 0 1 268.3 95.3M267.7 117.5L265.6 95.5M262.4 118.1A119 119 0 0 1 267.7 117.5M265.6 122.3L265 117.8M261 122.9A114.5 114.5 0 0 1 265.6 122.3M272.2 186.7L263.3 122.6M264.3 188.4A49.8 49.8 0 0 1 272.2 186.7M268.9 190.6L268.2 187.4M267.9 74.1L266.9 60.4M268.7 74.1L267.8 60.4M267.9 74.1A162.2 162.2 0 0 1 268.7 74.1M275.9 189.6L268.3 74.1M268.9 190.6A46.6 46.6 0 0 1 275.9 189.6M272.6 191.2L272.4 189.9M269.3 69.6L268.7 60.3M270.1 69.5L269.6 60.2M269.3 69.6A166.7 166.7 0 0 1 270.1 69.5M270.4 82.6L269.7 69.5M271.1 72.2L270.5 60.2M271.9 72.1L271.4 60.2M271.1 72.2A164 164 0 0 1 271.9 72.1M272 82.5L271.5 72.2M270.4 82.6A153.6 153.6 0 0 1 272 82.5M271.5 87.9L271.2 82.6M272.7 70.4L272.3 60.1M273.6 70.3L273.2 60.1M272.7 70.4A165.7 165.7 0 0 1 273.6 70.3M273.7 86.1L273.1 70.4M276.7 86L276.7 84.1M273.7 86.1A150 150 0 0 1 276.7 86M275.3 87.8L275.2 86M271.5 87.9A148.3 148.3 0 0 1 275.3 87.8M273.4 89.8L273.4 87.8M279.4 89.7L279.5 60M273.4 89.8A146.3 146.3 0 0 1 279.4 89.7M276.7 104.5L276.4 89.7M280.3 74.2L280.4 60M281.1 74.2L281.3 60M280.3 74.2A161.8 161.8 0 0 1 281.1 74.2M280.4 104.5L280.7 74.2M276.7 104.5A131.5 131.5 0 0 1 280.4 104.5M278.8 190.8L278.5 104.5M272.6 191.2A45.2 45.2 0 0 1 278.8 190.8M275.9 193.6L275.7 190.9M262.2 196.9A42.5 42.5 0 0 1 275.9 193.6M270.2 199.8L268.9 194.7M279.7 198.7L282.2 60M270.2 199.8A37.3 37.3 0 0 1 279.7 198.7M275.4 203.6L274.9 198.9M263.5 207.3A32.6 32.6 0 0 1 275.4 203.6M269.9 206.9L269.2 204.9M258.8 213.2A30.5 30.5 0 0 1 269.9 206.9M266.9 214.6L264 209.4M255.7 228.4A24.6 24.6 0 0 1 266.9 214.6M261.4 221.6L260 220.4M282.9 69.3L283.1 60M283.7 69.3L284 60.1M282.9 69.3A166.7 166.7 0 0 1 283.7 69.3M280 197.5L283.3 69.3M284.5 71.8L284.9 60.1M285.3 71.8L285.8 60.1M284.5 71.8A164.3 164.3 0 0 1 285.3 71.8M284.1 93.5L284.9 71.8M286.2 70.3L286.7 60.2M287.1 70.3L287.6 60.2M286.2 70.3A165.9 165.9 0 0 1 287.1 70.3M286.6 72.4L286.7 70.3M287.8 72.5L288.5 60.3M286.6 72.4A163.7 163.7 0 0 1 287.8 72.5M287 75.3L287.2 72.5M288.8 69.2L289.4 60.3M289.7 69.2L290.3 60.4M288.8 69.2A167.1 167.1 0 0 1 289.7 69.2M288.9 75.4L289.3 69.2M287 75.3A160.9 160.9 0 0 1 288.9 75.4M287.3 86.9L288 75.3M289.7 87L290.8 71.5M287.3 86.9A149.4 149.4 0 0 1 289.7 87M288.1 93.7L288.5 86.9M284.1 93.5A142.6 142.6 0 0 1 288.1 93.7M281 195.5L286.1 93.6M291.1 84.2L293 60.6M292.7 73.7L293.8 60.6M293.6 73.8L294.7 60.7M292.7 73.7A162.9 162.9 0 0 1 293.6 73.8M292.7 78.8L293.2 73.7M293.9 78.9L295.6 60.8M292.7 78.8A157.8 157.8 0 0 1 293.9 78.9M292.9 82.9L293.3 78.8M295.3 73.1L296.5 60.9M296.1 73.2L297.4 61M295.3 73.1A163.7 163.7 0 0 1 296.1 73.2M295.4 76.7L295.7 73.1M297.2 71.3L298.3 61.1M298 71.4L299.2 61.2M297.2 71.3A165.7 165.7 0 0 1 298 71.4M297 76.9L297.6 71.4M295.4 76.7A160.1 160.1 0 0 1 297 76.9M295.5 83.1L296.2 76.8M292.9 82.9A153.8 153.8 0 0 1 295.5 83.1M294.1 84.5L294.2 83M291.1 84.2A152.3 152.3 0 0 1 294.1 84.5M291.4 97.1L292.6 84.3M297.3 87.4L299.3 71.6M300.5 72.1L301.9 61.5M301.3 72.3L302.8 61.6M300.5 72.1A165.3 165.3 0 0 1 301.3 72.3M300.8 73.1L300.9 72.2M302 73.3L303.7 61.7M300.8 73.1A164.4 164.4 0 0 1 302 73.3M299.4 87.7L301.4 73.2M297.3 87.4A149.7 149.7 0 0 1 299.4 87.7M297 97.7L298.4 87.5M291.4 97.1A139.5 139.5 0 0 1 297 97.7M292.4 114.3L294.2 97.3M301.7 81.2L304.5 61.9M303.6 74.2L305.4 62M304.4 74.3L306.3 62.1M303.6 74.2A163.7 163.7 0 0 1 304.4 74.3M303.3 79L304 74.2M305.6 72L307.2 62.3M306.5 72.1L308.1 62.4M305.6 72A166.2 166.2 0 0 1 306.5 72.1M305.9 73.1L306 72.1M307.1 73.4L309 62.6M305.9 73.1A165.1 165.1 0 0 1 307.1 73.4M305.5 79.3L306.5 73.2M303.3 79A158.9 158.9 0 0 1 305.5 79.3M304 81.6L304.4 79.1M301.7 81.2A156.5 156.5 0 0 1 304 81.6M300.9 94.1L302.8 81.4M308.2 72L309.9 62.7M309 72.1L310.7 62.9M308.2 72A166.6 166.6 0 0 1 309 72.1M307.2 79.7L308.6 72.1M309.8 72.5L311.6 63.1M310.7 72.7L312.5 63.2M309.8 72.5A166.4 166.4 0 0 1 310.7 72.7M308.8 80L310.3 72.6M307.2 79.7A158.8 158.8 0 0 1 308.8 80M307.8 81.2L308 79.9M310.8 76.5L313.4 63.4M311.6 76.7L314.3 63.6M310.8 76.5A162.6 162.6 0 0 1 311.6 76.7M310.2 81.6L311.2 76.6M307.8 81.2A157.5 157.5 0 0 1 310.2 81.6M306.3 95.1L309 81.4M300.9 94.1A143.6 143.6 0 0 1 306.3 95.1M300 115.4L303.6 94.6M292.4 114.3A122.4 122.4 0 0 1 300 115.4M286.3 184.7L296.2 114.8M299.2 139.5L315.1 63.8M314 73.3L316 63.9M314.8 73.5L316.9 64.1M314 73.3A166.4 166.4 0 0 1 314.8 73.5M301.4 133.4L314.4 73.4M315.2 75.7L317.8 64.3M316.6 73.3L318.7 64.5M317.5 73.5L319.5 64.7M316.6 73.3A167 167 0 0 1 317.5 73.5M316.4 76L317 73.4M315.2 75.7A164.4 164.4 0 0 1 316.4 76M304.4 125.4L315.8 75.8M317.7 76.2L320.4 64.9M318.5 76.4L321.3 65.2M317.7 76.2A164.4 164.4 0 0 1 318.5 76.4M316.9 81.2L318.1 76.3M318.1 81.5L322.1 65.4M316.9 81.2A159.4 159.4 0 0 1 318.1 81.5M312.3 102.1L317.5 81.4M319.6 78.8L323 65.6M320.4 79L323.9 65.8M319.6 78.8A162.4 162.4 0 0 1 320.4 79M318.1 86.1L320 78.9M320.1 83.5L324.7 66M322.6 77.3L325.6 66.3M323.4 77.5L326.5 66.5M322.6 77.3A164.6 164.6 0 0 1 323.4 77.5M321.2 83.8L323 77.4M320.1 83.5A158 158 0 0 1 321.2 83.8M319.8 86.6L320.6 83.6M318.1 86.1A154.9 154.9 0 0 1 319.8 86.6M316.7 94.8L319 86.3M322.8 82.6L327.3 66.8M325.4 76.5L328.2 67M326.3 76.7L329.1 67.3M325.4 76.5A166.1 166.1 0 0 1 326.3 76.7M324 82.9L325.8 76.6M322.8 82.6A159.6 159.6 0 0 1 324 82.9M321.8 88.4L323.4 82.7M323.5 88.9L329.9 67.5M321.8 88.4A153.7 153.7 0 0 1 323.5 88.9M320.5 95.8L322.6 88.6M316.7 94.8A146.2 146.2 0 0 1 320.5 95.8M316.4 103.1L318.6 95.3M312.3 102.1A138 138 0 0 1 316.4 103.1M313.7 105.3L314.4 102.6M327.6 78.3L330.8 67.8M328.4 78.5L331.6 68.1M327.6 78.3A165 165 0 0 1 328.4 78.5M319.1 106.9L328 78.4M313.7 105.3A135.2 135.2 0 0 1 319.1 106.9M310.4 126.9L316.4 106M304.4 125.4A113.5 113.5 0 0 1 310.4 126.9M306.8 128.5L307.4 126.1M312.7 130.2L332.5 68.3M306.8 128.5A111 111 0 0 1 312.7 130.2M308.9 132.4L309.8 129.3M328.3 84.2L333.4 68.6M329.9 82L334.2 68.9M331.8 78.9L335.1 69.2M332.6 79.1L335.9 69.5M331.8 78.9A165.8 165.8 0 0 1 332.6 79.1M331 82.4L332.2 79M329.9 82A162.2 162.2 0 0 1 331 82.4M329.6 84.7L330.5 82.2M328.3 84.2A159.6 159.6 0 0 1 329.6 84.7M316 123.8L329 84.4M333.6 79L336.8 69.7M334.4 79.3L337.6 70M333.6 79A166.2 166.2 0 0 1 334.4 79.3M324 107.4L334 79.1M334.9 80.2L338.4 70.3M335.7 80.5L339.3 70.6M334.9 80.2A165.5 165.5 0 0 1 335.7 80.5M334.2 83.4L335.3 80.4M335.4 83.8L340.1 71M334.2 83.4A162.3 162.3 0 0 1 335.4 83.8M331.1 93.8L334.8 83.6M336.2 83.9L341 71.3M338.4 80.6L341.8 71.6M339.2 80.9L342.7 71.9M338.4 80.6A166.4 166.4 0 0 1 339.2 80.9M337.4 84.4L338.8 80.7M336.2 83.9A162.5 162.5 0 0 1 337.4 84.4M332.9 94.4L336.8 84.2M331.1 93.8A151.5 151.5 0 0 1 332.9 94.4M327.6 105.8L332 94.1M339.5 82.4L343.5 72.2M340.3 82.7L344.3 72.6M339.5 82.4A165.1 165.1 0 0 1 340.3 82.7M330.2 106.8L339.9 82.6M327.6 105.8A139 139 0 0 1 330.2 106.8M328 108.8L328.9 106.3M324 107.4A136.3 136.3 0 0 1 328 108.8M325.1 110.6L326 108.1M341.7 81.5L345.2 72.9M342.4 81.8L346 73.2M341.7 81.5A166.7 166.7 0 0 1 342.4 81.8M339.6 87.8L342.1 81.7M340.7 88.3L346.8 73.6M339.6 87.8A160.1 160.1 0 0 1 340.7 88.3M330 112.5L340.1 88M325.1 110.6A133.6 133.6 0 0 1 330 112.5M322 125.9L327.6 111.6M316 123.8A118.2 118.2 0 0 1 322 125.9M315.5 134.5L319 124.8M308.9 132.4A107.8 107.8 0 0 1 315.5 134.5M311.3 136.1L312.2 133.4M301.4 133.4A105 105 0 0 1 311.3 136.1M305 139.8L306.4 134.6M317.9 144.2L347.6 73.9M305 139.8A99.7 99.7 0 0 1 317.9 144.2M311.2 142.8L311.5 141.8M299.2 139.5A98.6 98.6 0 0 1 311.2 142.8M296.2 173.7L305.3 141M304.5 176.6L348.5 74.3M296.2 173.7A64.6 64.6 0 0 1 304.5 176.6M296.2 187.1L300.4 175M286.3 184.7A51.9 51.9 0 0 1 296.2 187.1M288.6 196.6L291.3 185.6M281 195.5A40.6 40.6 0 0 1 288.6 196.6M284.5 197.9L284.8 195.8M280 197.5A38.5 38.5 0 0 1 284.5 197.9M280.9 213.3L282.3 197.7M261.4 221.6A22.8 22.8 0 0 1 280.9 213.3M270.8 216.5L270.1 215M257.9 235.3A21.1 21.1 0 0 1 270.8 216.5M262.9 225L261.6 224.1M259.5 235.5A19.5 19.5 0 0 1 262.9 225M263.3 230.9L260.5 230M262.6 237.6A16.5 16.5 0 0 1 263.3 230.9M265.8 234.6L262.6 234.2M266 238.8A13.3 13.3 0 0 1 265.8 234.6M268 236.6L265.7 236.7M277.3 246.9A11 11 0 0 1 268 236.6M273.8 240.7L270.8 243.4M345.2 84.1L349.3 74.6M345.9 84.4L350.1 75M345.2 84.1A165.7 165.7 0 0 1 345.9 84.4M327.2 126.1L345.6 84.3M345.2 88.1L350.9 75.4M346 88.4L351.8 75.7M345.2 88.1A162.1 162.1 0 0 1 346 88.4M344.5 90.8L345.6 88.2M347 88.3L352.6 76.1M347.7 88.6L353.4 76.5M347 88.3A162.6 162.6 0 0 1 347.7 88.6M345.9 91.5L347.3 88.5M344.5 90.8A159.2 159.2 0 0 1 345.9 91.5M343.8 94.2L345.2 91.2M350.4 85L354.2 76.9M351.1 85.4L355 77.3M350.4 85A167 167 0 0 1 351.1 85.4M346 95.2L350.7 85.2M343.8 94.2A155.9 155.9 0 0 1 346 95.2M332.6 121L344.9 94.7M337.3 115.9L355.8 77.6M352.2 87L356.6 78M353 87.4L357.4 78.4M352.2 87A166 166 0 0 1 353 87.4M349.7 93L352.6 87.2M350.8 93.5L358.2 78.8M349.7 93A159.5 159.5 0 0 1 350.8 93.5M339.7 114.5L350.3 93.3M354.2 88.6L359 79.2M355 89L359.8 79.7M354.2 88.6A165.4 165.4 0 0 1 355 89M342.2 113L354.6 88.8M348.1 112.5L348.8 111.2M363.7 92.5L368.5 84.4M364.4 93L369.2 84.9M363.7 92.5A166.6 166.6 0 0 1 364.4 93M351.2 114.3L364 92.8M348.1 112.5A141.5 141.5 0 0 1 351.2 114.3M348.1 116.2L349.7 113.4M342.2 113A138.3 138.3 0 0 1 348.1 116.2M344 116.7L345.1 114.6M339.7 114.5A135.8 135.8 0 0 1 344 116.7M340.8 117.6L341.8 115.6M337.3 115.9A133.5 133.5 0 0 1 340.8 117.6M336 122.7L339 116.7M332.6 121A126.9 126.9 0 0 1 336 122.7M331.4 128L334.3 121.8M327.2 126.1A120 120 0 0 1 331.4 128M282.6 228.1L329.3 127M363.6 96L370 85.4M364.3 96.5L370.8 85.8M363.6 96A163.5 163.5 0 0 1 364.3 96.5M352.7 114.6L363.9 96.3M355.4 116.3L362.5 105.2M352.7 114.6A142 142 0 0 1 355.4 116.3M352.3 118.2L354.1 115.5M370.8 98.7L376.8 89.7M371.5 99.1L377.6 90.2M370.8 98.7A165.2 165.2 0 0 1 371.5 99.1M362.7 111.5L371.2 98.9M366.7 107.7L378.3 90.7M373.9 98.7L379.1 91.2M374.6 99.2L379.8 91.7M373.9 98.7A166.9 166.9 0 0 1 374.6 99.2M369.6 105.6L374.2 98.9M374.1 101.3L380.5 92.2M376.8 99L381.3 92.8M377.5 99.5L382 93.3M376.8 99A168.4 168.4 0 0 1 377.5 99.5M375.2 102L377.2 99.2M374.1 101.3A164.9 164.9 0 0 1 375.2 102M372.9 104.2L374.6 101.7M375.9 103.1L382.7 93.8M376.6 103.6L383.4 94.3M375.9 103.1A164.4 164.4 0 0 1 376.6 103.6M374.7 105.5L376.2 103.4M372.9 104.2A161.8 161.8 0 0 1 374.7 105.5M372 107.3L373.8 104.8M369.6 105.6A158.8 158.8 0 0 1 372 107.3M368.8 109.2L370.8 106.5M366.7 107.7A155.3 155.3 0 0 1 368.8 109.2M364.7 112.9L367.7 108.5M362.7 111.5A150 150 0 0 1 364.7 112.9M357.3 121.5L363.7 112.2M352.3 118.2A138.7 138.7 0 0 1 357.3 121.5M304.8 196.5L354.9 119.8M375.5 106.5L384.2 94.9M376.2 107L384.9 95.4M375.5 106.5A161.5 161.5 0 0 1 376.2 107M366 119.8L375.8 106.7M378.6 105.2L385.6 95.9M380.5 104.1L386.3 96.5M381.1 104.6L387 97M380.5 104.1A166.4 166.4 0 0 1 381.1 104.6M379.6 105.9L380.8 104.3M378.6 105.2A164.4 164.4 0 0 1 379.6 105.9M372.2 114.5L379.1 105.5M373.6 115.6L387.7 97.6M372.2 114.5A153.1 153.1 0 0 1 373.6 115.6M368 121.3L372.9 115.1M366 119.8A145.2 145.2 0 0 1 368 121.3M365.4 122.7L367 120.6M369.2 122.3L388.4 98.2M381.7 107.9L389.1 98.7M382.4 108.5L389.8 99.3M381.7 107.9A164.2 164.2 0 0 1 382.4 108.5M375.9 115.8L382.1 108.2M380.9 111.6L390.5 99.8M383.4 109.9L391.2 100.4M385.8 108.3L391.9 101M386.4 108.9L392.6 101.6M385.8 108.3A166.4 166.4 0 0 1 386.4 108.9M384.3 110.7L386.1 108.6M383.4 109.9A163.7 163.7 0 0 1 384.3 110.7M382 112.5L383.8 110.3M380.9 111.6A160.8 160.8 0 0 1 382 112.5M377.4 117L381.5 112M375.9 115.8A154.4 154.4 0 0 1 377.4 117M375.4 117.9L376.6 116.4M384.6 112.3L393.3 102.1M385.2 112.8L394 102.7M384.6 112.3A162.7 162.7 0 0 1 385.2 112.8M378.3 120.3L384.9 112.6M375.4 117.9A152.4 152.4 0 0 1 378.3 120.3M372.1 124.7L376.8 119.1M369.2 122.3A145.1 145.1 0 0 1 372.1 124.7M369 125.5L370.7 123.5M365.4 122.7A142.5 142.5 0 0 1 369 125.5M365.7 126.1L367.2 124.1M385.7 113.5L394.6 103.3M386.4 114.1L395.3 103.9M385.7 113.5A162.5 162.5 0 0 1 386.4 114.1M371.2 130.7L386.1 113.8M365.7 126.1A140 140 0 0 1 371.2 130.7M343.7 158.1L368.5 128.4M386.8 114.8L396 104.5M387.4 115.3L396.7 105.1M386.8 114.8A162.2 162.2 0 0 1 387.4 115.3M383.8 118.8L387.1 115.1M384.7 119.6L397.3 105.7M383.8 118.8A157.3 157.3 0 0 1 384.7 119.6M346.8 160.8L384.3 119.2M343.7 158.1A101.3 101.3 0 0 1 346.8 160.8M309.8 200.4L345.3 159.4M304.8 196.5A47.1 47.1 0 0 1 309.8 200.4M289.6 222L307.4 198.4M390.2 114.8L398 106.3M391.5 114.6L398.6 106.9M392.1 115.2L399.3 107.5M391.5 114.6A165.5 165.5 0 0 1 392.1 115.2M391.1 115.7L391.8 114.9M390.2 114.8A164.4 164.4 0 0 1 391.1 115.7M365.8 142.1L390.6 115.3M375.6 135.5L388.6 121.9M387.9 125.5L402.5 110.6M395.7 118.8L403.2 111.3M396.3 119.3L403.8 111.9M395.7 118.8A165.4 165.4 0 0 1 396.3 119.3M395.1 119.9L396 119.1M396 120.8L404.4 112.5M395.1 119.9A164.2 164.2 0 0 1 396 120.8M391 124.9L395.6 120.4M392 125.9L405.1 113.2M391 124.9A157.8 157.8 0 0 1 392 125.9M389.6 127.3L391.5 125.4M387.9 125.5A155.1 155.1 0 0 1 389.6 127.3M377.6 137.5L388.7 126.4M375.6 135.5A139.4 139.4 0 0 1 377.6 137.5M375.1 138L376.6 136.5M377.8 140.7L405.7 113.8M375.1 138A137.2 137.2 0 0 1 377.8 140.7M369.8 146L376.4 139.4M365.8 142.1A127.9 127.9 0 0 1 369.8 146M337 175.9L367.8 144M397.1 123.3L406.3 114.5M397.7 123.9L406.9 115.1M397.1 123.3A163.3 163.3 0 0 1 397.7 123.9M370.9 148.7L397.4 123.6M375.5 145.8L407.5 115.8M394.6 129L408.2 116.4M397.1 127.8L408.8 117.1M400 126.2L409.4 117.8M403.1 124.6L410 118.4M403.7 125.2L410.6 119.1M403.1 124.6A166.8 166.8 0 0 1 403.7 125.2M400.9 127.2L403.4 124.9M400 126.2A163.4 163.4 0 0 1 400.9 127.2M398.1 128.8L400.4 126.7M397.1 127.8A160.2 160.2 0 0 1 398.1 128.8M395.6 130.1L397.6 128.3M394.6 129A157.5 157.5 0 0 1 395.6 130.1M378.5 144.8L395.1 129.6M395.2 133.8L411.2 119.8M403.2 127.9L411.8 120.4M405.3 127.2L412.3 121.1M405.9 127.8L412.9 121.8M405.3 127.2A166.7 166.7 0 0 1 405.9 127.8M404 128.9L405.6 127.5M403.2 127.9A164.6 164.6 0 0 1 404 128.9M399.3 132.1L403.6 128.4M400.5 133.4L413.5 122.5M399.3 132.1A159 159 0 0 1 400.5 133.4M396.7 135.5L399.9 132.8M395.2 133.8A154.8 154.8 0 0 1 396.7 135.5M381 147.6L396 134.6M378.5 144.8A135 135 0 0 1 381 147.6M377.6 148.1L379.8 146.2M375.5 145.8A132.1 132.1 0 0 1 377.6 148.1M372.6 150.5L376.5 146.9M370.9 148.7A126.8 126.8 0 0 1 372.6 150.5M340.2 179.1L371.8 149.6M337 175.9A83.6 83.6 0 0 1 340.2 179.1M291.5 223.7L338.6 177.5M289.6 222A17.5 17.5 0 0 1 291.5 223.7M288.3 225.4L290.6 222.8M405.5 130.4L414.1 123.2M406 131L414.7 123.9M405.5 130.4A164.8 164.8 0 0 1 406 131M352.4 175L405.8 130.7M406.7 131.6L415.2 124.6M409 130.8L415.8 125.3M409.5 131.4L416.4 126M409 130.8A167.3 167.3 0 0 1 409.5 131.4M407.5 132.5L409.3 131.1M406.7 131.6A164.9 164.9 0 0 1 407.5 132.5M357.4 172.4L407.1 132.1M402.5 138.1L416.9 126.7M406.6 135.9L417.5 127.4M407.2 136.5L418 128.1M406.6 135.9A162.2 162.2 0 0 1 407.2 136.5M403.2 139.1L406.9 136.2M402.5 138.1A157.6 157.6 0 0 1 403.2 139.1M397.7 142.6L402.8 138.6M400.7 142.5L418.6 128.8M409.2 137L419.1 129.5M412.6 135.5L419.7 130.2M413.1 136.2L420.2 130.9M412.6 135.5A167.1 167.1 0 0 1 413.1 136.2M409.9 138L412.8 135.9M409.2 137A163.5 163.5 0 0 1 409.9 138M401.5 143.6L409.6 137.5M400.7 142.5A153.4 153.4 0 0 1 401.5 143.6M399.2 144.5L401.1 143.1M397.7 142.6A151.1 151.1 0 0 1 399.2 144.5M390 150.1L398.5 143.6M411.4 138.5L420.7 131.7M411.9 139.2L421.3 132.4M411.4 138.5A164.4 164.4 0 0 1 411.9 139.2M392.2 153.1L411.7 138.8M390 150.1A140.3 140.3 0 0 1 392.2 153.1M389.2 153.1L391.1 151.6M412.4 139.9L421.8 133.1M412.9 140.6L422.3 133.8M412.4 139.9A164.4 164.4 0 0 1 412.9 140.6M391.1 155.7L412.6 140.2M389.2 153.1A137.9 137.9 0 0 1 391.1 155.7M389.4 154.9L390.1 154.4M410.9 143L422.8 134.6M413.7 142L423.3 135.3M417.2 140.6L423.9 136M417.7 141.3L424.4 136.8M417.2 140.6A167.9 167.9 0 0 1 417.7 141.3M415.4 142.4L417.5 141M416.1 143.5L424.9 137.5M415.4 142.4A165.4 165.4 0 0 1 416.1 143.5M414.8 143.6L415.7 142.9M413.7 142A164.3 164.3 0 0 1 414.8 143.6M411.9 144.4L414.2 142.8M410.9 143A161.4 161.4 0 0 1 411.9 144.4M406.1 147.4L411.4 143.7M416.7 144.1L425.4 138.3M417.1 144.8L425.9 139M416.7 144.1A165.5 165.5 0 0 1 417.1 144.8M411.1 148.2L416.9 144.4M411.8 149.3L426.4 139.8M411.1 148.2A158.6 158.6 0 0 1 411.8 149.3M408.4 150.8L411.5 148.8M406.1 147.4A154.9 154.9 0 0 1 408.4 150.8M404.4 151L407.3 149.1M406.3 153.8L426.8 140.5M404.4 151A151.5 151.5 0 0 1 406.3 153.8M393.2 160.4L405.4 152.4M389.4 154.9A137 137 0 0 1 393.2 160.4M389.8 158.7L391.4 157.6M392.9 163.3L427.3 141.3M389.8 158.7A135.1 135.1 0 0 1 392.9 163.3M362.9 180L391.3 161M357.4 172.4A100.9 100.9 0 0 1 362.9 180M358.3 177.5L360.2 176.1M387.8 169.3L411.7 154.6M423.7 152.7L431.5 148.2M424.1 153.4L432 149M423.7 152.7A166.9 166.9 0 0 1 424.1 153.4M415.9 157.7L423.9 153.1M416.5 158.7L432.4 149.7M415.9 157.7A157.7 157.7 0 0 1 416.5 158.7M406.9 163.5L416.2 158.2M422.1 156.5L432.8 150.5M422.5 157.2L433.3 151.3M422.1 156.5A163.7 163.7 0 0 1 422.5 157.2M419.7 158.3L422.3 156.9M420.3 159.4L433.7 152.1M419.7 158.3A160.7 160.7 0 0 1 420.3 159.4M417.3 160.3L420 158.8M425.5 157.5L434.1 152.9M425.9 158.3L434.6 153.7M425.5 157.5A166.2 166.2 0 0 1 425.9 158.3M418.2 161.9L425.7 157.9M417.3 160.3A157.7 157.7 0 0 1 418.2 161.9M414.7 162.7L417.8 161.1M424 160.2L435 154.5M424.4 160.9L435.4 155.3M424 160.2A163.7 163.7 0 0 1 424.4 160.9M422.6 161.4L424.2 160.6M423.2 162.5L435.8 156.1M422.6 161.4A161.8 161.8 0 0 1 423.2 162.5M416.1 165.4L422.9 162M414.7 162.7A154.2 154.2 0 0 1 416.1 165.4M413.8 164.9L415.4 164.1M415.3 167.8L425.6 162.7M413.8 164.9A152.4 152.4 0 0 1 415.3 167.8M409.8 168.8L414.6 166.4M406.9 163.5A147 147 0 0 1 409.8 168.8M392.4 174.7L408.4 166.1M425.1 164.3L437 158.5M425.4 165.1L437.4 159.3M425.1 164.3A162.7 162.7 0 0 1 425.4 165.1M420.5 167L425.2 164.7M421 168.1L437.8 160.1M420.5 167A157.4 157.4 0 0 1 421 168.1M417 169.4L420.8 167.6M427.3 166.1L438.2 160.9M427.6 166.8L438.6 161.7M427.3 166.1A163.9 163.9 0 0 1 427.6 166.8M417.7 171L427.4 166.4M417 169.4A153.2 153.2 0 0 1 417.7 171M395.4 180.6L417.3 170.2M392.4 174.7A128.9 128.9 0 0 1 395.4 180.6M392.8 178.3L394 177.7M387.8 169.3A127.6 127.6 0 0 1 392.8 178.3M365 187.9L390.4 173.7M358.3 177.5A98.5 98.5 0 0 1 365 187.9M359.2 184.3L361.8 182.6M352.4 175A95.4 95.4 0 0 1 359.2 184.3M354.1 180.9L355.9 179.6M363.6 197.1L438.9 162.5M354.1 180.9A93.1 93.1 0 0 1 363.6 197.1M301.6 222.7L359.3 188.8M428.5 168.3L439.3 163.3M428.8 169L439.7 164.2M428.5 168.3A164.1 164.1 0 0 1 428.8 169M339.1 208.9L428.6 168.6M430.1 169.4L440 165M430.4 170.1L440.4 165.8M430.1 169.4A165.1 165.1 0 0 1 430.4 170.1M426.5 171.4L430.3 169.8M427 172.5L440.8 166.6M426.5 171.4A161 161 0 0 1 427 172.5M387.6 188.9L426.7 172M427.8 173.1L441.1 167.5M428.1 173.9L441.5 168.3M427.8 173.1A161.5 161.5 0 0 1 428.1 173.9M422.5 175.8L427.9 173.5M428.6 174.5L441.8 169.1M428.9 175.3L442.1 169.9M428.6 174.5A161.8 161.8 0 0 1 428.9 175.3M423.1 177.2L428.8 174.9M422.5 175.8A155.6 155.6 0 0 1 423.1 177.2M415.2 179.6L422.8 176.5M429.9 175.8L442.5 170.8M430.2 176.6L442.8 171.6M429.9 175.8A162.4 162.4 0 0 1 430.2 176.6M428.5 176.8L430 176.2M428.9 177.9L443.1 172.5M428.5 176.8A160.8 160.8 0 0 1 428.9 177.9M416.2 182.3L428.7 177.4M415.2 179.6A147.4 147.4 0 0 1 416.2 182.3M406.9 184.5L415.7 180.9M431.2 178L443.4 173.3M434 177.8L443.8 174.1M434.2 178.6L444.1 175M434 177.8A165.5 165.5 0 0 1 434.2 178.6M433.2 178.6L434.1 178.2M433.6 179.7L444.4 175.8M433.2 178.6A164.5 164.5 0 0 1 433.6 179.7M431.9 179.7L433.4 179.1M431.2 178A162.9 162.9 0 0 1 431.9 179.7M428.4 180L431.5 178.8M429.2 182.2L444.7 176.7M428.4 180A159.6 159.6 0 0 1 429.2 182.2M408.4 188.6L428.8 181.1M406.9 184.5A137.8 137.8 0 0 1 408.4 188.6M406.5 187L407.6 186.5M431.1 182.4L445 177.5M436.3 181.5L445.3 178.4M436.6 182.3L445.6 179.2M436.3 181.5A166.5 166.5 0 0 1 436.6 182.3M431.5 183.6L436.4 181.9M431.1 182.4A161.3 161.3 0 0 1 431.5 183.6M408 191.1L431.3 183M406.5 187A136.6 136.6 0 0 1 408 191.1M390.2 195.3L407.2 189M387.6 188.9A118.4 118.4 0 0 1 390.2 195.3M385.8 193.3L389 192.1M388.1 199.4L445.9 180M385.8 193.3A115 115 0 0 1 388.1 199.4M384.3 197.4L387 196.4M436.4 184.1L446.2 180.9M436.6 184.9L446.4 181.8M436.4 184.1A165.7 165.7 0 0 1 436.6 184.9M385.6 201.2L436.5 184.5M384.3 197.4A112.1 112.1 0 0 1 385.6 201.2M381.7 200.4L384.9 199.3M382.6 203L446.7 182.6M381.7 200.4A108.7 108.7 0 0 1 382.6 203M345.3 213.9L382.1 201.7M438.2 186.2L447 183.5M438.4 187L447.2 184.3M438.2 186.2A166.8 166.8 0 0 1 438.4 187M421.3 191.9L438.3 186.6M438.9 187.8L447.5 185.2M439.1 188.6L447.8 186M438.9 187.8A167 167 0 0 1 439.1 188.6M436.7 188.9L439 188.2M437.1 190.1L448 186.9M436.7 188.9A164.6 164.6 0 0 1 437.1 190.1M433.6 190.5L436.9 189.5M434 191.8L448.3 187.8M433.6 190.5A161.2 161.2 0 0 1 434 191.8M425.1 193.6L433.8 191.1M438.4 191.5L448.5 188.6M438.6 192.3L448.7 189.5M438.4 191.5A165.5 165.5 0 0 1 438.6 192.3M430.5 194.1L438.5 191.9M430.8 195.2L449 190.4M430.5 194.1A157.2 157.2 0 0 1 430.8 195.2M425.8 196L430.7 194.7M425.1 193.6A152.2 152.2 0 0 1 425.8 196M422.4 195.7L425.5 194.8M421.3 191.9A149 149 0 0 1 422.4 195.7M400.7 200L421.9 193.8M402.7 207.8L415.1 204.9M400.7 200A126.9 126.9 0 0 1 402.7 207.8M396.4 205.3L401.8 203.9M397.6 210.6L451.1 199.1M396.4 205.3A121.3 121.3 0 0 1 397.6 210.6M347 219.8L397 207.9M345.3 213.9A69.9 69.9 0 0 1 347 219.8M343.4 217.7L346.2 216.9M437.8 202.8L451.3 200M438 203.6L451.5 200.8M437.8 202.8A162.3 162.3 0 0 1 438 203.6M344.6 222.5L437.9 203.2M343.4 217.7A67 67 0 0 1 344.6 222.5M343.1 220.3L344 220.1M339.1 208.9A66 66 0 0 1 343.1 220.3M303.8 227.5L341.4 214.5M301.6 222.7A26.2 26.2 0 0 1 303.8 227.5M298 227.2L302.8 225M440.3 204L451.6 201.7M441.9 204.5L451.8 202.6M442.1 205.3L452 203.5M441.9 204.5A166 166 0 0 1 442.1 205.3M440.5 205.2L442 204.9M440.3 204A164.4 164.4 0 0 1 440.5 205.2M299.5 232L440.4 204.6M298 227.2A20.9 20.9 0 0 1 299.5 232M292.4 231.7L298.9 229.6M288.3 225.4A14.1 14.1 0 0 1 292.4 231.7M286.3 231.2L290.8 228.3M282.6 228.1A8.7 8.7 0 0 1 286.3 231.2M283.6 230.7L284.7 229.4M273.8 240.7A7 7 0 0 1 283.6 230.7M276.9 233.9L274 231.1" fill="none" stroke="#473d3e" stroke-width="0.85"/>
<path d="M441.4 256.4L453.6 258M441.3 257.2L453.5 258.8M441.4 256.4A163.6 163.6 0 0 1 441.3 257.2M433.6 295.9L443.1 299.6M433.3 296.7L442.8 300.5M433.6 295.9A165.8 165.8 0 0 1 433.3 296.7M431.1 295.4L433.4 296.3M430.7 296.6L442.4 301.3M431.1 295.4A163.3 163.3 0 0 1 430.7 296.6" fill="none" stroke="#2b3a9a" stroke-width="0.85"/>
<path d="M396.2 350.3L405 358.9M395.6 350.9L404.4 359.5M396.2 350.3A163.7 163.7 0 0 1 395.6 350.9M394.5 349.2L395.9 350.6M395.7 352.1L403.7 360.2M395.1 352.7L403.1 360.8M395.7 352.1A164.6 164.6 0 0 1 395.1 352.7M393.4 350.4L395.4 352.4M394.5 349.2A161.7 161.7 0 0 1 393.4 350.4M377.6 333.6L393.9 349.8M392.5 351.3L402.5 361.4M391.9 351.9L401.8 362M392.5 351.3A161.8 161.8 0 0 1 391.9 351.9M379.8 338.9L392.2 351.6M393.3 354.5L401.2 362.7M392.7 355.1L400.5 363.3M393.3 354.5A164.7 164.7 0 0 1 392.7 355.1M387.2 348.7L393 354.8M388.1 351.4L399.9 363.9M392.2 357L399.2 364.5M391.6 357.6L398.6 365.1M392.2 357A165.8 165.8 0 0 1 391.6 357.6M387.2 352.2L391.9 357.3M388.1 351.4A158.8 158.8 0 0 1 387.2 352.2M385.9 349.9L387.6 351.8M387.2 348.7A156.2 156.2 0 0 1 385.9 349.9M378.2 340.5L386.5 349.3M379.8 338.9A144.1 144.1 0 0 1 378.2 340.5M375.3 335.9L379 339.7M377.6 333.6A138.7 138.7 0 0 1 375.3 335.9M366.7 371.7L374.5 383.8M366.9 373.6L373.7 384.3M366.2 374.1L373 384.8M366.9 373.6A163.3 163.3 0 0 1 366.2 374.1M365.7 372.4L366.6 373.9M366.7 371.7A161.6 161.6 0 0 1 365.7 372.4" fill="none" stroke="#3a6fb0" stroke-width="0.85"/>
<path d="M350 377.1L358.2 393.2M351.7 382.2L357.4 393.6M351 382.6L356.5 394M351.7 382.2A163.3 163.3 0 0 1 351 382.6M349.9 379.5L351.3 382.4M348.8 380.1L355.7 394.4M349.9 379.5A160.1 160.1 0 0 1 348.8 380.1M348.4 377.9L349.3 379.8M350 377.1A157.9 157.9 0 0 1 348.4 377.9M320.9 395.1L323.8 406.2M320.4 396.6L322.9 406.4M319.6 396.9L322.1 406.7M320.4 396.6A165.9 165.9 0 0 1 319.6 396.9M319.7 395.4L320 396.8M320.9 395.1A164.5 164.5 0 0 1 319.7 395.4" fill="none" stroke="#d8553c" stroke-width="0.85"/>
<path d="M230.8 392.7L227.2 404.2M230 392.4L226.4 403.9M230.8 392.7A163.9 163.9 0 0 1 230 392.4M223 389.8L218.7 401.4M222.2 389.5L217.9 401M223 389.8A163.7 163.7 0 0 1 222.2 389.5M213.9 387.5L209.5 397.7M213.2 387.2L208.7 397.4M213.9 387.5A164.9 164.9 0 0 1 213.2 387.2M216.8 379.8L213.6 387.3M212.9 385.6L207.9 397M212.2 385.3L207.1 396.6M212.9 385.6A163.5 163.5 0 0 1 212.2 385.3M215.3 379.2L212.6 385.4M216.8 379.8A156.7 156.7 0 0 1 215.3 379.2M199.8 381.9L195 390.7M199 381.5L194.2 390.2M199.8 381.9A166 166 0 0 1 199 381.5M189.2 371.8L181.9 382.8M188.5 371.3L181.2 382.3M189.2 371.8A162.8 162.8 0 0 1 188.5 371.3M196.6 359.9L188.9 371.6M188.9 369.4L180.4 381.8M185.1 373.5L179.7 381.3M184.4 373L179 380.8M185.1 373.5A166.5 166.5 0 0 1 184.4 373M185.8 371.7L184.7 373.2M184.7 371L178.2 380.3M185.8 371.7A164.7 164.7 0 0 1 184.7 371M187.3 368.3L185.2 371.3M188.9 369.4A161 161 0 0 1 187.3 368.3M194.9 358.8L188.1 368.8M196.6 359.9A148.8 148.8 0 0 1 194.9 358.8M177.1 367.1L171 375M176.4 366.6L170.3 374.4M177.1 367.1A166 166 0 0 1 176.4 366.6M177.4 362.7L168.9 373.3M176.7 362.2L168.2 372.7M177.4 362.7A162.4 162.4 0 0 1 176.7 362.2M178.7 360.4L177.1 362.4M177.8 359.6L167.5 372.2M178.7 360.4A159.8 159.8 0 0 1 177.8 359.6M180.6 357.1L178.2 360M179.5 356.2L166.8 371.6M180.6 357.1A156 156 0 0 1 179.5 356.2" fill="none" stroke="#3f9a4e" stroke-width="0.85"/>
<path d="M147.9 336.7L139.4 343.2M147.4 336L138.9 342.5M147.9 336.7A165.3 165.3 0 0 1 147.4 336M149.6 334.9L147.7 336.4M148.8 333.9L138.4 341.8M149.6 334.9A162.9 162.9 0 0 1 148.8 333.9M144.1 330.2L134.7 336.7M143.6 329.5L134.2 336M144.1 330.2A164.5 164.5 0 0 1 143.6 329.5M140.4 323.5L130.2 330M137.2 324.5L129.7 329.2M136.8 323.8L129.2 328.5M137.2 324.5A167.1 167.1 0 0 1 136.8 323.8M139.7 322.5L137 324.2M140.4 323.5A163.9 163.9 0 0 1 139.7 322.5M133.1 310.4L122.2 315.9M132.8 309.6L121.8 315.1M133.1 310.4A163.7 163.7 0 0 1 132.8 309.6M135.2 308.8L132.9 310M134.7 307.7L121.4 314.3M135.2 308.8A161.2 161.2 0 0 1 134.7 307.7M120.7 282L110 285.1M120.5 281.2L109.7 284.3M120.7 282A164.9 164.9 0 0 1 120.5 281.2M119.9 279.6L109.3 282.5M119.7 278.8L109 281.7M119.9 279.6A164.9 164.9 0 0 1 119.7 278.8M123.1 278.3L119.8 279.2M121 277.6L108.8 280.8M120.8 276.8L108.6 279.9M121 277.6A163.4 163.4 0 0 1 120.8 276.8M122.7 276.7L120.9 277.2M123.1 278.3A161.6 161.6 0 0 1 122.7 276.7M128.1 276.1L122.9 277.5M117.7 276.7L108.3 279.1M117.5 275.9L108.1 278.2M117.7 276.7A166.3 166.3 0 0 1 117.5 275.9M127.5 273.8L117.6 276.3M128.1 276.1A156.2 156.2 0 0 1 127.5 273.8M114.9 255.7L104.3 257M114.8 254.9L104.2 256.1M114.9 255.7A165.3 165.3 0 0 1 114.8 254.9M123.5 254.3L114.8 255.3M115.1 254L104.1 255.2M115 253.2L104 254.3M115.1 254A164.9 164.9 0 0 1 115 253.2M123.3 252.7L115 253.6M123.5 254.3A156.6 156.6 0 0 1 123.3 252.7M126.3 253.2L123.4 253.5M126.1 251.2L103.9 253.4M126.3 253.2A153.7 153.7 0 0 1 126.1 251.2M135 251.3L126.2 252.2M115.4 251.4L103.8 252.5M113.1 250.8L103.7 251.6M113.1 250L103.6 250.8M113.1 250.8A166.5 166.5 0 0 1 113.1 250M115.3 250.2L113.1 250.4M115.4 251.4A164.4 164.4 0 0 1 115.3 250.2M134.7 249.1L115.3 250.8M135 251.3A144.9 144.9 0 0 1 134.7 249.1" fill="none" stroke="#d8552a" stroke-width="0.85"/>
<path d="M118.1 242.9L103.2 243.6M113 242.3L103.1 242.7M112.9 241.5L103.1 241.8M113 242.3A166.2 166.2 0 0 1 112.9 241.5M118.1 241.7L112.9 241.9M118.1 242.9A161 161 0 0 1 118.1 241.7M115.2 205.1L106 203.4M115.4 204.3L106.2 202.5M115.2 205.1A166.6 166.6 0 0 1 115.4 204.3M118.2 205.3L115.3 204.7M118.5 204L106.4 201.6M118.2 205.3A163.7 163.7 0 0 1 118.5 204M124.8 205.9L118.3 204.6M118.1 203.1L106.6 200.7M118.2 202.3L106.7 199.9M118.1 203.1A164.3 164.3 0 0 1 118.2 202.3M125.1 204.1L118.2 202.7M124.8 205.9A157.1 157.1 0 0 1 125.1 204.1" fill="none" stroke="#5fa8a8" stroke-width="0.85"/>
<path d="M132.6 155.6L124.8 151.2M133.1 154.8L125.2 150.4M132.6 155.6A167 167 0 0 1 133.1 154.8M134.8 156.3L132.9 155.2M135.4 155.2L125.6 149.6M134.8 156.3A164.8 164.8 0 0 1 135.4 155.2M145.8 140.9L135.7 133.8M146.3 140.3L136.3 133M145.8 140.9A163.6 163.6 0 0 1 146.3 140.3M148.9 137L138.9 129.4M148.4 135.5L139.5 128.7M148.9 134.9L140 128M148.4 135.5A164.8 164.8 0 0 1 148.9 134.9M149.7 136L148.6 135.2M148.9 137A163.4 163.4 0 0 1 149.7 136M148.4 131.3L141.7 125.9M149 130.6L142.3 125.2M148.4 131.3A167.4 167.4 0 0 1 149 130.6M157.3 126.6L148.1 118.4M157.8 126L148.7 117.7M157.3 126.6A163.7 163.7 0 0 1 157.8 126M161.4 129.8L157.5 126.3M162.2 128.9L149.3 117M161.4 129.8A158.5 158.5 0 0 1 162.2 128.9M163.3 130.7L161.8 129.3M164.3 129.7L149.9 116.4M163.3 130.7A156.4 156.4 0 0 1 164.3 129.7M162.1 120.8L153.6 112.5M162.7 120.2L154.3 111.8M162.1 120.8A164.1 164.1 0 0 1 162.7 120.2" fill="none" stroke="#137e96" stroke-width="0.85"/>
<path d="M174 122.6L159.4 106.8M166.6 113.4L160.1 106.2M167.2 112.8L160.8 105.6M166.6 113.4A166.3 166.3 0 0 1 167.2 112.8M173.3 120L166.9 113.1M169.8 114.4L161.4 105M169.1 112.3L162.1 104.4M169.7 111.7L162.8 103.8M169.1 112.3A165.5 165.5 0 0 1 169.7 111.7M170.8 113.6L169.4 112M169.8 114.4A163.4 163.4 0 0 1 170.8 113.6M174.6 118.8L170.3 114M173.3 120A157 157 0 0 1 174.6 118.8M175.5 121.2L173.9 119.4M174 122.6A154.6 154.6 0 0 1 175.5 121.2M176.2 123.4L174.8 121.9M178.9 121L163.4 103.3M176.2 123.4A152.5 152.5 0 0 1 178.9 121M183.3 100.3L177.6 92.2M184 99.8L178.3 91.7M183.3 100.3A166.1 166.1 0 0 1 184 99.8M189.7 108.8L183.6 100.1M186.8 102.4L179 91.1M187.5 101.9L179.8 90.6M186.8 102.4A162.3 162.3 0 0 1 187.5 101.9M191 107.9L187.1 102.1M189.7 108.8A155.4 155.4 0 0 1 191 107.9M191 109.1L190.4 108.3M192.6 108L180.5 90.1M191 109.1A154.4 154.4 0 0 1 192.6 108M193.4 94.1L188.1 85.3M194.1 93.6L188.8 84.8M193.4 94.1A165.8 165.8 0 0 1 194.1 93.6M204.5 93.5L197.5 80M203.2 89.1L198.3 79.6M203.9 88.7L199.1 79.2M203.2 89.1A165.3 165.3 0 0 1 203.9 88.7M205.6 92.9L203.5 88.9M204.5 93.5A160.8 160.8 0 0 1 205.6 92.9M206.1 95.2L205 93.2M204.8 88.5L199.9 78.8M205.1 87.3L200.7 78.4M205.8 86.9L201.5 78M205.1 87.3A166.1 166.1 0 0 1 205.8 86.9M205.9 88L205.5 87.1M204.8 88.5A165.1 165.1 0 0 1 205.9 88M208.2 94.1L205.3 88.2M206.1 95.2A158.6 158.6 0 0 1 208.2 94.1M208.7 97.6L207.2 94.6M207.3 88.1L202.3 77.6M207.3 86.1L203.1 77.2M208.1 85.7L203.9 76.8M207.3 86.1A166.2 166.2 0 0 1 208.1 85.7M208.5 87.5L207.7 85.9M207.3 88.1A164.4 164.4 0 0 1 208.5 87.5M211.9 96L207.9 87.8M208.7 97.6A155.3 155.3 0 0 1 211.9 96M213.3 87.1L208 75M214.1 86.8L208.8 74.6M213.3 87.1A162.7 162.7 0 0 1 214.1 86.8M215.8 91.7L213.7 87M216.9 91.2L209.6 74.2M215.8 91.7A157.6 157.6 0 0 1 216.9 91.2M234.4 76.3L231.6 66.5M235.2 76L232.5 66.3M234.4 76.3A165.9 165.9 0 0 1 235.2 76M243.4 74L241.2 64.1M244.2 73.9L242.1 63.9M243.4 74A165.8 165.8 0 0 1 244.2 73.9M245 79.3L243.8 74M246.2 79L243 63.7M245 79.3A160.4 160.4 0 0 1 246.2 79M274.6 78.8L274.1 60.1M275.3 73.7L275 60M276.1 73.7L275.9 60M275.3 73.7A162.3 162.3 0 0 1 276.1 73.7M275.8 78.8L275.7 73.7M274.6 78.8A157.2 157.2 0 0 1 275.8 78.8M275.4 84.1L275.2 78.8M277 73.1L276.8 60M277.8 73.1L277.7 60M277 73.1A162.9 162.9 0 0 1 277.8 73.1M277.4 77.9L277.4 73.1M278.6 77.9L278.6 60M277.4 77.9A158.1 158.1 0 0 1 278.6 77.9M278.1 84.1L278 77.9M275.4 84.1A151.9 151.9 0 0 1 278.1 84.1M290.4 71.4L291.2 60.4M291.2 71.5L292.1 60.5M290.4 71.4A165 165 0 0 1 291.2 71.5M298.9 71.6L300.1 61.3M299.7 71.7L301 61.4M298.9 71.6A165.6 165.6 0 0 1 299.7 71.7" fill="none" stroke="#168f94" stroke-width="0.85"/>
<path d="M346.1 107.8L360.6 80.1M357 88.9L361.4 80.5M357.7 89.3L362.2 80.9M357 88.9A166.5 166.5 0 0 1 357.7 89.3M356.6 90.5L357.3 89.1M357.7 91.1L363 81.3M356.6 90.5A164.9 164.9 0 0 1 357.7 91.1M352.7 99.1L357.2 90.8M353.9 99.7L363.8 81.8M352.7 99.1A155.5 155.5 0 0 1 353.9 99.7M349.9 105.6L353.3 99.4M359.7 90.9L364.6 82.2M360.5 91.3L365.4 82.6M359.7 90.9A166 166 0 0 1 360.5 91.3M356.2 98.1L360.1 91.1M357.2 98.7L366.1 83.1M356.2 98.1A158 158 0 0 1 357.2 98.7M352 106.8L356.7 98.4M349.9 105.6A148.4 148.4 0 0 1 352 106.8M349.2 109.4L351 106.2M346.1 107.8A144.7 144.7 0 0 1 349.2 109.4M346.8 110.1L347.7 108.6M361.6 92.8L366.9 83.5M362.3 93.2L367.7 84M361.6 92.8A165.3 165.3 0 0 1 362.3 93.2M350.7 112.3L361.9 93M346.8 110.1A143 143 0 0 1 350.7 112.3M362.2 101.5L371.5 86.3M365.1 98.4L372.3 86.8M365.8 98.8L373.1 87.2M365.1 98.4A162.3 162.3 0 0 1 365.8 98.8M363.2 102.1L365.4 98.6M362.2 101.5A158.2 158.2 0 0 1 363.2 102.1M361.1 104.3L362.7 101.8M367.2 98.1L373.8 87.7M369.8 95.7L374.6 88.2M370.5 96.1L375.3 88.7M369.8 95.7A167.1 167.1 0 0 1 370.5 96.1M368.3 98.8L370.1 95.9M367.2 98.1A163.7 163.7 0 0 1 368.3 98.8M364.7 103.1L367.7 98.4M366.2 104.1L376.1 89.2M364.7 103.1A158.1 158.1 0 0 1 366.2 104.1M363.9 106.1L365.4 103.6M361.1 104.3A155.2 155.2 0 0 1 363.9 106.1M390.3 118.4L400 108.1M390.9 119L400.6 108.8M390.3 118.4A161.9 161.9 0 0 1 390.9 119M388 121.4L390.6 118.7M393.2 117.8L401.3 109.4M393.8 118.4L401.9 110M393.2 117.8A164.4 164.4 0 0 1 393.8 118.4M389.1 122.5L393.5 118.1M388 121.4A158.2 158.2 0 0 1 389.1 122.5" fill="none" stroke="#8a52a0" stroke-width="0.85"/>
<path d="M410.7 152.9L427.8 142M420.1 147.9L428.3 142.8M420.5 148.7L428.8 143.6M420.1 147.9A166.3 166.3 0 0 1 420.5 148.7M414.3 152L420.3 148.3M418.3 151L429.2 144.3M421.1 150.3L429.7 145.1M421.5 151L430.2 145.9M421.1 150.3A166 166 0 0 1 421.5 151M418.9 152.1L421.3 150.6M418.3 151A163.2 163.2 0 0 1 418.9 152.1M416.4 152.9L418.6 151.5M417.3 154.5L430.6 146.6M416.4 152.9A160.6 160.6 0 0 1 417.3 154.5M415.8 154.3L416.9 153.7M414.3 152A159.3 159.3 0 0 1 415.8 154.3M413.9 153.8L415.1 153.2M415.5 156.5L431.1 147.4M413.9 153.8A158 158 0 0 1 415.5 156.5M412.8 156.3L414.7 155.2M410.7 152.9A155.7 155.7 0 0 1 412.8 156.3M425.4 162.3L436.2 156.9M425.8 163.1L436.6 157.7M425.4 162.3A163.9 163.9 0 0 1 425.8 163.1M440.2 193.6L449.2 191.2M440.4 194.4L449.4 192.1M440.2 193.6A166.7 166.7 0 0 1 440.4 194.4M432.5 196L440.3 194M438.1 195.9L449.7 193M440.8 196.1L449.9 193.8M441 196.9L450.1 194.7M440.8 196.1A166.6 166.6 0 0 1 441 196.9M438.4 197.1L440.9 196.5M438.1 195.9A164.1 164.1 0 0 1 438.4 197.1M433 197.8L438.2 196.5M432.5 196A158.6 158.6 0 0 1 433 197.8M424.6 199L432.7 196.9M425.2 201.5L450.3 195.6M424.6 199A150.2 150.2 0 0 1 425.2 201.5M421.8 201L424.9 200.2M441.1 198.6L450.5 196.5M441.3 199.5L450.7 197.3M441.1 198.6A166.3 166.3 0 0 1 441.3 199.5M422.4 203.3L441.2 199M421.8 201A147.1 147.1 0 0 1 422.4 203.3M414.9 203.9L422.1 202.2M415.3 206L450.9 198.2M414.9 203.9A139.6 139.6 0 0 1 415.3 206" fill="none" stroke="#6a3585" stroke-width="0.85"/>
<g opacity="0.8">
<path d="M455 236.9A176 176 0 0 1 455 237.8L436 237.6A157 157 0 0 0 436 236.8ZM455 237.8A176 176 0 0 1 455 238.7L435 238.4A156 156 0 0 0 435 237.6ZM455 238.7A176 176 0 0 1 455 239.6L436 239.2A157 157 0 0 0 436 238.4ZM454.9 240.5A176 176 0 0 1 454.9 241.4L434.9 240.8A156 156 0 0 0 434.9 240ZM454.9 241.4A176 176 0 0 1 454.9 242.3L433.9 241.6A155 155 0 0 0 433.9 240.8ZM454.9 243.2A176 176 0 0 1 454.8 244.1L435.8 243.2A157 157 0 0 0 435.9 242.4ZM454.8 244.1A176 176 0 0 1 454.7 245.9L434.8 244.8A156 156 0 0 0 434.8 243.2ZM454.5 248.6A176 176 0 0 1 454.4 250.4L434.5 248.7A156 156 0 0 0 434.6 247.2ZM454.4 250.4A176 176 0 0 1 454.3 251.3L436.4 249.7A158 158 0 0 0 436.5 248.9ZM454.3 251.3A176 176 0 0 1 454.3 252.2L434.3 250.3A156 156 0 0 0 434.4 249.5ZM454.2 253.1A176 176 0 0 1 454.1 253.9L433.2 251.8A155 155 0 0 0 433.3 251ZM454 254.8A176 176 0 0 1 453.9 255.7L435 253.6A157 157 0 0 0 435.1 252.8ZM453.8 256.6A176 176 0 0 1 453.7 257.5L434.8 255.2A157 157 0 0 0 434.9 254.4ZM453.7 257.5A176 176 0 0 1 453.6 258.4L432.7 255.7A155 155 0 0 0 432.8 254.9ZM453.6 258.4A176 176 0 0 1 453.3 260.2L433.5 257.4A156 156 0 0 0 433.7 255.9ZM453.3 260.2A176 176 0 0 1 453.2 261.1L434.4 258.4A157 157 0 0 0 434.5 257.6ZM453.2 261.1A176 176 0 0 1 452.9 262.8L435.2 260.1A158 158 0 0 0 435.4 258.5ZM452.8 263.7A176 176 0 0 1 452.5 265.5L435.7 262.7A159 159 0 0 0 436 261.1ZM452.5 265.5A176 176 0 0 1 452.2 267.3L436.5 264.4A160 160 0 0 0 436.7 262.8ZM452 268.2A176 176 0 0 1 451.9 269L436.2 266A160 160 0 0 0 436.3 265.2ZM451.9 269A176 176 0 0 1 451.7 269.9L435 266.6A159 159 0 0 0 435.2 265.8ZM451.7 269.9A176 176 0 0 1 451.2 272.6L435.5 269.2A160 160 0 0 0 436 266.8ZM451 273.4A176 176 0 0 1 450.8 274.3L435.2 270.8A160 160 0 0 0 435.3 270ZM450.8 274.3A176 176 0 0 1 450.6 275.2L436 271.8A161 161 0 0 0 436.1 271ZM450.4 276.1A176 176 0 0 1 450.2 276.9L435.6 273.4A161 161 0 0 0 435.8 272.6ZM450.2 276.9A176 176 0 0 1 449.7 278.7L436.2 275.3A162 162 0 0 0 436.6 273.7ZM449.7 278.7A176 176 0 0 1 449.5 279.6L436.9 276.3A163 163 0 0 0 437.1 275.5ZM449.5 279.6A176 176 0 0 1 449.3 280.4L435.8 276.9A162 162 0 0 0 436 276.1ZM449.3 280.4A176 176 0 0 1 449.1 281.3L434.6 277.4A161 161 0 0 0 434.8 276.6ZM448.8 282.2A176 176 0 0 1 448.4 283.9L433.9 279.8A161 161 0 0 0 434.4 278.2ZM448.4 283.9A176 176 0 0 1 448.1 284.7L432.7 280.3A160 160 0 0 0 433 279.5ZM448.1 284.7A176 176 0 0 1 447.9 285.6L433.5 281.4A161 161 0 0 0 433.7 280.6ZM447.9 285.6A176 176 0 0 1 447.3 287.3L432 282.7A160 160 0 0 0 432.5 281.1ZM447.3 287.3A176 176 0 0 1 447.1 288.2L430.8 283.1A159 159 0 0 0 431.1 282.4ZM446.8 289A176 176 0 0 1 446.5 289.9L430.4 284.7A159 159 0 0 0 430.6 283.9ZM446.3 290.8A176 176 0 0 1 446 291.6L429.9 286.2A159 159 0 0 0 430.1 285.5ZM446 291.6A176 176 0 0 1 445.7 292.5L428.7 286.7A158 158 0 0 0 428.9 285.9ZM445.7 292.5A176 176 0 0 1 445.4 293.3L427.4 287.1A157 157 0 0 0 427.7 286.4ZM445.4 293.3A176 176 0 0 1 445.1 294.2L429.1 288.5A159 159 0 0 0 429.3 287.8ZM445.1 294.2A176 176 0 0 1 444.5 295.8L429.5 290.4A160 160 0 0 0 430 288.9ZM444.5 295.8A176 176 0 0 1 444.2 296.7L428.2 290.8A159 159 0 0 0 428.5 290.1ZM442.9 300A176 176 0 0 1 441.9 302.5L427.1 296.5A160 160 0 0 0 428 294.2ZM441.9 302.5A176 176 0 0 1 441.6 303.4L427.7 297.6A161 161 0 0 0 428 296.9ZM441.6 303.4A176 176 0 0 1 441.2 304.2L428.3 298.8A162 162 0 0 0 428.7 298ZM441.2 304.2A176 176 0 0 1 440.5 305.9L428.6 300.7A163 163 0 0 0 429.3 299.2ZM440.5 305.9A176 176 0 0 1 440.2 306.7L427.4 301.1A162 162 0 0 0 427.7 300.3ZM440.2 306.7A176 176 0 0 1 439.8 307.5L427.9 302.2A163 163 0 0 0 428.3 301.5ZM439.5 308.3A176 176 0 0 1 439.1 309.1L425.4 302.9A161 161 0 0 0 425.8 302.2ZM438.7 310A176 176 0 0 1 437.9 311.6L425.3 305.6A162 162 0 0 0 426 304.1ZM437.9 311.6A176 176 0 0 1 437.6 312.4L425.8 306.7A163 163 0 0 0 426.2 306ZM437.6 312.4A176 176 0 0 1 436.8 314L424.2 307.8A162 162 0 0 0 424.9 306.3ZM436.4 314.8A176 176 0 0 1 436 315.6L425.3 310.2A164 164 0 0 0 425.6 309.4ZM436 315.6A176 176 0 0 1 435.1 317.2L423.6 311.2A163 163 0 0 0 424.4 309.7ZM434.7 318A176 176 0 0 1 434.3 318.8L423.7 313.1A164 164 0 0 0 424.1 312.4ZM434.3 318.8A176 176 0 0 1 433.9 319.6L424.2 314.4A165 165 0 0 0 424.6 313.6ZM433.9 319.6A176 176 0 0 1 433.5 320.4L422.9 314.6A164 164 0 0 0 423.3 313.9ZM432.6 321.9A176 176 0 0 1 431.7 323.5L420.4 317A163 163 0 0 0 421.2 315.6ZM431.7 323.5A176 176 0 0 1 431.3 324.3L419.1 317.3A162 162 0 0 0 419.6 316.5ZM430.3 325.8A176 176 0 0 1 429.9 326.6L417.9 319.4A162 162 0 0 0 418.3 318.7ZM429.4 327.4A176 176 0 0 1 429 328.1L417 320.8A162 162 0 0 0 417.5 320.1ZM429 328.1A176 176 0 0 1 428.5 328.9L417.4 322A163 163 0 0 0 417.9 321.3ZM428 329.7A176 176 0 0 1 427 331.2L417 324.7A164 164 0 0 0 417.8 323.3ZM427 331.2A176 176 0 0 1 426.1 332.7L417.7 327.2A166 166 0 0 0 418.6 325.8ZM425.6 333.4A176 176 0 0 1 425.1 334.2L415.1 327.5A164 164 0 0 0 415.6 326.8ZM424.6 334.9A176 176 0 0 1 424.1 335.7L415 329.4A165 165 0 0 0 415.5 328.7ZM422 338.6A176 176 0 0 1 421.5 339.3L410.1 331.1A162 162 0 0 0 410.6 330.4ZM401.5 362.4A176 176 0 0 1 400.9 363L389.1 350.7A159 159 0 0 0 389.7 350.2ZM256.6 410.6A176 176 0 0 1 255.7 410.5L258.2 391.6A157 157 0 0 0 259 391.7ZM250.4 409.7A176 176 0 0 1 249.5 409.5L252.5 391.8A158 158 0 0 0 253.3 391.9ZM245.1 408.7A176 176 0 0 1 244.2 408.5L247.4 392.8A160 160 0 0 0 248.2 393ZM235.4 406.5A176 176 0 0 1 234.6 406.3L238.9 389.9A159 159 0 0 0 239.6 390.1ZM234.6 406.3A176 176 0 0 1 233.7 406.1L237.8 390.6A160 160 0 0 0 238.6 390.8ZM233.7 406.1A176 176 0 0 1 232.8 405.8L237.3 389.4A159 159 0 0 0 238.1 389.6ZM232 405.6A176 176 0 0 1 231.1 405.4L236 388A158 158 0 0 0 236.8 388.3ZM230.2 405.1A176 176 0 0 1 229.4 404.9L233.9 389.5A160 160 0 0 0 234.7 389.7ZM225.1 403.5A176 176 0 0 1 224.2 403.3L229.2 388.1A160 160 0 0 0 230 388.3ZM216.6 400.6A176 176 0 0 1 214.9 399.9L220.8 385A160 160 0 0 0 222.3 385.6ZM214.1 399.6A176 176 0 0 1 213.3 399.3L219.6 383.5A159 159 0 0 0 220.4 383.8ZM210.8 398.2A176 176 0 0 1 210 397.9L216.2 383.2A160 160 0 0 0 217 383.5ZM205.9 396.1A176 176 0 0 1 205 395.7L211.8 381.2A160 160 0 0 0 212.5 381.5ZM203.4 394.9A176 176 0 0 1 202.6 394.6L209.5 380.1A160 160 0 0 0 210.3 380.5ZM194.6 390.5A176 176 0 0 1 193.8 390L201.1 376.9A161 161 0 0 0 201.8 377.3ZM187.6 386.4A176 176 0 0 1 186.9 386L195.2 372.3A160 160 0 0 0 195.9 372.7ZM183.1 383.6A176 176 0 0 1 182.3 383.1L191.7 368.9A159 159 0 0 0 192.3 369.3ZM172.1 375.8A176 176 0 0 1 171.4 375.2L178.1 366.5A165 165 0 0 0 178.7 367.1ZM170.6 374.7A176 176 0 0 1 169.9 374.1L177.4 364.7A164 164 0 0 0 178 365.2ZM167.8 372.5A176 176 0 0 1 167.1 371.9L174.1 363.4A165 165 0 0 0 174.8 363.9ZM160.4 366A176 176 0 0 1 159.7 365.4L167.2 357.3A165 165 0 0 0 167.8 357.9ZM157.1 362.9A176 176 0 0 1 156.4 362.3L165.5 353A163 163 0 0 0 166.1 353.6ZM155.2 361.1A176 176 0 0 1 154.5 360.4L165.1 349.8A161 161 0 0 0 165.7 350.4ZM130.4 330.4A176 176 0 0 1 130 329.6L144.4 320.6A159 159 0 0 0 144.8 321.2ZM124.9 321.1A176 176 0 0 1 124.5 320.3L142.1 310.7A156 156 0 0 0 142.4 311.4ZM124.1 319.5A176 176 0 0 1 123.7 318.7L140.4 309.8A157 157 0 0 0 140.8 310.5ZM114.1 297.5A176 176 0 0 1 113.8 296.6L129.7 290.8A159 159 0 0 0 130 291.5ZM103.9 218A176 176 0 0 1 104 217.1L114.9 218.3A165 165 0 0 0 114.9 219.2ZM107.6 195.9A176 176 0 0 1 107.8 195L116.6 197.1A167 167 0 0 0 116.4 198ZM159.1 107.2A176 176 0 0 1 159.8 106.5L167.9 115.4A164 164 0 0 0 167.3 115.9ZM172.8 95.6A176 176 0 0 1 173.6 95.1L182.6 107.1A161 161 0 0 0 181.9 107.6ZM193.1 82.4A176 176 0 0 1 193.9 81.9L204.1 100.3A155 155 0 0 0 203.4 100.7ZM261.1 60.9A176 176 0 0 1 262 60.8L263.3 73.8A163 163 0 0 0 262.4 73.8ZM281.7 60A176 176 0 0 1 282.6 60L282.5 67A169 169 0 0 0 281.6 67ZM286.2 60.1A176 176 0 0 1 287.1 60.2L286.8 67.2A169 169 0 0 0 285.9 67.1ZM359.4 79.5A176 176 0 0 1 360.2 79.9L354.7 90.5A164 164 0 0 0 353.9 90.1ZM395 103.6A176 176 0 0 1 395.6 104.2L387.7 113.2A164 164 0 0 0 387.1 112.6ZM404.1 112.2A176 176 0 0 1 404.8 112.9L396.2 121.3A164 164 0 0 0 395.6 120.7ZM449.5 192.5A176 176 0 0 1 449.8 193.4L433.3 197.5A159 159 0 0 0 433.1 196.7Z" fill="#262a70"/>
<path d="M455 239.6A176 176 0 0 1 454.9 240.5L435.9 240A157 157 0 0 0 436 239.2ZM454.9 242.3A176 176 0 0 1 454.9 243.2L433.9 242.3A155 155 0 0 0 433.9 241.6ZM452.2 267.3A176 176 0 0 1 452 268.2L436.3 265.2A160 160 0 0 0 436.5 264.4ZM436.8 314A176 176 0 0 1 436.4 314.8L424.7 309A163 163 0 0 0 425.1 308.2ZM424.1 335.7A176 176 0 0 1 423.6 336.4L412.9 329A163 163 0 0 0 413.3 328.3ZM423.6 336.4A176 176 0 0 1 423 337.1L411.6 329.1A162 162 0 0 0 412.1 328.4ZM423 337.1A176 176 0 0 1 422.5 337.9L410.3 329.2A161 161 0 0 0 410.8 328.5ZM422.5 337.9A176 176 0 0 1 422 338.6L410.6 330.4A162 162 0 0 0 411.1 329.8ZM421.5 339.3A176 176 0 0 1 420.9 340.1L409.7 331.8A162 162 0 0 0 410.1 331.1ZM420.9 340.1A176 176 0 0 1 420.4 340.8L410 333A163 163 0 0 0 410.5 332.4ZM420.4 340.8A176 176 0 0 1 419.9 341.5L408.7 333.1A162 162 0 0 0 409.2 332.4ZM419.9 341.5A176 176 0 0 1 418.8 342.9L408.5 335A163 163 0 0 0 409.5 333.7ZM418.8 342.9A176 176 0 0 1 417.7 344.3L406.7 335.7A162 162 0 0 0 407.7 334.4ZM417.1 345.1A176 176 0 0 1 416.6 345.8L405.6 337A162 162 0 0 0 406.2 336.4ZM416.6 345.8A176 176 0 0 1 416 346.5L404.3 337A161 161 0 0 0 404.9 336.4ZM415.5 347.2A176 176 0 0 1 414.9 347.8L403.3 338.3A161 161 0 0 0 403.8 337.7ZM414.9 347.8A176 176 0 0 1 413.7 349.2L401.5 338.9A160 160 0 0 0 402.5 337.7ZM413.7 349.2A176 176 0 0 1 412.6 350.6L401.2 340.8A161 161 0 0 0 402.3 339.6ZM412.6 350.6A176 176 0 0 1 411.4 352L400.9 342.7A162 162 0 0 0 402 341.5ZM411.4 352A176 176 0 0 1 410.8 352.6L398.8 342A160 160 0 0 0 399.4 341.4ZM410.8 352.6A176 176 0 0 1 409 354.6L397.9 344.5A161 161 0 0 0 399.6 342.7ZM409 354.6A176 176 0 0 1 408.4 355.3L396.6 344.4A160 160 0 0 0 397.2 343.8ZM408.4 355.3A176 176 0 0 1 407.8 356L397.5 346.4A162 162 0 0 0 398.1 345.8ZM407.8 356A176 176 0 0 1 407.2 356.6L396.3 346.3A161 161 0 0 0 396.8 345.7ZM405.9 357.9A176 176 0 0 1 404.7 359.2L393.3 348A160 160 0 0 0 394.4 346.8ZM404.1 359.8A176 176 0 0 1 403.4 360.5L391.4 348.4A159 159 0 0 0 392 347.9ZM403.4 360.5A176 176 0 0 1 402.8 361.1L391.5 349.7A160 160 0 0 0 392.1 349.2ZM402.8 361.1A176 176 0 0 1 402.2 361.7L389.6 348.9A158 158 0 0 0 390.1 348.3ZM402.2 361.7A176 176 0 0 1 401.5 362.4L389.7 350.2A159 159 0 0 0 390.3 349.6ZM400.2 363.6A176 176 0 0 1 399.6 364.2L387.9 351.8A159 159 0 0 0 388.5 351.3ZM399.6 364.2A176 176 0 0 1 398.9 364.8L386.6 351.7A158 158 0 0 0 387.2 351.1ZM398.9 364.8A176 176 0 0 1 398.2 365.4L385.4 351.5A157 157 0 0 0 386 350.9ZM398.2 365.4A176 176 0 0 1 397.6 366L384.1 351.3A156 156 0 0 0 384.7 350.7ZM397.6 366A176 176 0 0 1 396.9 366.7L382.9 351.1A155 155 0 0 0 383.4 350.5ZM396.9 366.7A176 176 0 0 1 396.3 367.3L383.6 353.1A157 157 0 0 0 384.2 352.5ZM396.3 367.3A176 176 0 0 1 394.9 368.4L381.1 352.6A155 155 0 0 0 382.3 351.6ZM394.9 368.4A176 176 0 0 1 393.6 369.6L380.5 354.4A156 156 0 0 0 381.7 353.4ZM392.9 370.2A176 176 0 0 1 392.2 370.8L380 356.2A157 157 0 0 0 380.6 355.7ZM392.2 370.8A176 176 0 0 1 391.5 371.4L378.7 356A156 156 0 0 0 379.3 355.5ZM391.5 371.4A176 176 0 0 1 390.8 371.9L377.5 355.7A155 155 0 0 0 378.1 355.2ZM390.8 371.9A176 176 0 0 1 389.4 373.1L376.9 357.5A156 156 0 0 0 378.1 356.5ZM388.7 373.6A176 176 0 0 1 387.3 374.7L374.4 358.2A155 155 0 0 0 375.6 357.2ZM386.6 375.3A176 176 0 0 1 385.9 375.8L374.3 360.7A157 157 0 0 0 375 360.2ZM385.9 375.8A176 176 0 0 1 385.2 376.4L374.3 362A158 158 0 0 0 375 361.5ZM383.7 377.4A176 176 0 0 1 382.3 378.5L370.5 362.3A156 156 0 0 0 371.8 361.4ZM382.3 378.5A176 176 0 0 1 380.8 379.6L369.8 364.1A157 157 0 0 0 371.1 363.1ZM380.8 379.6A176 176 0 0 1 380.1 380.1L369.7 365.3A158 158 0 0 0 370.4 364.9ZM380.1 380.1A176 176 0 0 1 378.6 381.1L369 367.1A159 159 0 0 0 370.3 366.2ZM378.6 381.1A176 176 0 0 1 377.1 382.1L368.2 368.8A160 160 0 0 0 369.6 367.9ZM377.1 382.1A176 176 0 0 1 376.4 382.6L368.1 370.1A161 161 0 0 0 368.8 369.7ZM376.4 382.6A176 176 0 0 1 374.9 383.6L366.2 370.2A160 160 0 0 0 367.5 369.3ZM374.1 384.1A176 176 0 0 1 373.4 384.6L365.3 371.9A161 161 0 0 0 366 371.5ZM372.6 385A176 176 0 0 1 371.9 385.5L364.5 373.6A162 162 0 0 0 365.2 373.2ZM371.9 385.5A176 176 0 0 1 371.1 386L363.2 373.2A161 161 0 0 0 363.9 372.8ZM253.9 410.2A176 176 0 0 1 252.1 409.9L254.9 392.1A158 158 0 0 0 256.5 392.4ZM252.1 409.9A176 176 0 0 1 251.3 409.8L254.3 391A157 157 0 0 0 255 391.2ZM237.2 407A176 176 0 0 1 236.3 406.7L239.9 392.2A161 161 0 0 0 240.7 392.4ZM232.8 405.8A176 176 0 0 1 232 405.6L236.8 388.3A158 158 0 0 0 237.6 388.5ZM227.7 404.3A176 176 0 0 1 226.8 404.1L231.3 389.8A161 161 0 0 0 232 390ZM225.9 403.8A176 176 0 0 1 225.1 403.5L230 388.3A160 160 0 0 0 230.8 388.6ZM192.3 389.1A176 176 0 0 1 191.5 388.7L198.9 375.7A161 161 0 0 0 199.7 376.1ZM189.2 387.3A176 176 0 0 1 188.4 386.9L196.1 374A161 161 0 0 0 196.8 374.4ZM181.6 382.6A176 176 0 0 1 180.8 382.1L189.2 369.6A161 161 0 0 0 189.9 370.1ZM180.1 381.6A176 176 0 0 1 179.3 381.1L186.7 370.3A163 163 0 0 0 187.4 370.8ZM173.5 376.9A176 176 0 0 1 172.8 376.3L179.4 367.6A165 165 0 0 0 180.1 368.1ZM163 368.4A176 176 0 0 1 162.4 367.8L169.7 359.6A165 165 0 0 0 170.3 360.1ZM150.8 356.6A176 176 0 0 1 150.2 355.9L157.5 349.1A166 166 0 0 0 158.1 349.7ZM144.2 349.2A176 176 0 0 1 143.6 348.5L150.6 342.7A167 167 0 0 0 151.1 343.4ZM127.6 325.8A176 176 0 0 1 127.2 325L144.4 314.9A156 156 0 0 0 144.8 315.6ZM113.8 296.6A176 176 0 0 1 113.5 295.8L129.5 290A159 159 0 0 0 129.7 290.8ZM113.2 294.9A176 176 0 0 1 112.9 294.1L130.8 287.8A157 157 0 0 0 131.1 288.6ZM106.1 269A176 176 0 0 1 106 268.1L119.7 265.5A162 162 0 0 0 119.9 266.4ZM105.6 266.3A176 176 0 0 1 105.5 265.4L123.2 262.4A158 158 0 0 0 123.4 263.2ZM104.1 255.7A176 176 0 0 1 104 254.8L119.9 253.1A160 160 0 0 0 120 253.9ZM103.8 253A176 176 0 0 1 103.7 252.1L119.7 250.6A160 160 0 0 0 119.7 251.4ZM111.7 181.2A176 176 0 0 1 112 180.4L121.5 183.5A166 166 0 0 0 121.2 184.3ZM112.6 178.7A176 176 0 0 1 112.9 177.8L122.3 181.1A166 166 0 0 0 122.1 181.9ZM147.8 118.7A176 176 0 0 1 148.4 118L156.6 125.4A165 165 0 0 0 156 126ZM232.9 66.1A176 176 0 0 1 233.8 65.9L236.9 77.5A164 164 0 0 0 236.1 77.7ZM234.7 65.7A176 176 0 0 1 235.5 65.5L238 75.1A166 166 0 0 0 237.2 75.4ZM259.3 61.1A176 176 0 0 1 260.2 61L261.6 73.9A163 163 0 0 0 260.8 74ZM288 60.2A176 176 0 0 1 288.9 60.3L288.5 67.3A169 169 0 0 0 287.7 67.2ZM295.2 60.7A176 176 0 0 1 296.1 60.8L295.4 67.8A169 169 0 0 0 294.5 67.7ZM337.2 69.9A176 176 0 0 1 338 70.2L335 78.7A167 167 0 0 0 334.2 78.4ZM395.6 104.2A176 176 0 0 1 396.3 104.8L389 113A165 165 0 0 0 388.4 112.4ZM439.1 162.9A176 176 0 0 1 439.5 163.8L429.5 168.3A165 165 0 0 0 429.1 167.5ZM449.3 191.7A176 176 0 0 1 449.5 192.5L432.1 197A158 158 0 0 0 431.9 196.2Z" fill="#3c649b"/>
<path d="M454.7 245.9A176 176 0 0 1 454.7 246.8L434.7 245.6A156 156 0 0 0 434.8 244.8ZM454.7 246.8A176 176 0 0 1 454.6 247.7L435.7 246.4A157 157 0 0 0 435.7 245.6ZM454.6 247.7A176 176 0 0 1 454.5 248.6L434.6 247.2A156 156 0 0 0 434.7 246.4ZM444.2 296.7A176 176 0 0 1 443.9 297.5L428.9 291.9A160 160 0 0 0 429.2 291.2ZM433.5 320.4A176 176 0 0 1 433 321.2L421.6 314.9A163 163 0 0 0 422 314.1ZM433 321.2A176 176 0 0 1 432.6 321.9L419.5 314.6A161 161 0 0 0 419.9 313.9ZM393.6 369.6A176 176 0 0 1 392.9 370.2L380.6 355.7A157 157 0 0 0 381.2 355.2ZM389.4 373.1A176 176 0 0 1 388.7 373.6L375.6 357.2A155 155 0 0 0 376.2 356.7ZM357.8 393.4A176 176 0 0 1 356.9 393.8L347.6 375A155 155 0 0 0 348.4 374.6ZM339.6 401.2A176 176 0 0 1 338.8 401.5L331.3 380.8A154 154 0 0 0 332.1 380.6ZM297.8 411A176 176 0 0 1 296.9 411.1L294.7 389.2A154 154 0 0 0 295.4 389.1ZM200.2 393.4A176 176 0 0 1 199.4 393L206.6 378.7A160 160 0 0 0 207.4 379.1ZM139.7 343.6A176 176 0 0 1 139.2 342.9L150.3 334.4A162 162 0 0 0 150.8 335ZM118.5 308.3A176 176 0 0 1 118.2 307.4L133.7 300.5A159 159 0 0 0 134 301.3ZM107.2 274.2A176 176 0 0 1 107 273.4L122.6 270A160 160 0 0 0 122.8 270.8ZM105.5 265.4A176 176 0 0 1 105.3 264.6L123.1 261.6A158 158 0 0 0 123.2 262.4ZM105.3 264.6A176 176 0 0 1 105.2 263.7L124 260.7A157 157 0 0 0 124.1 261.5ZM103.4 248.5A176 176 0 0 1 103.4 247.6L120.3 246.5A159 159 0 0 0 120.4 247.3ZM103.3 246.7A176 176 0 0 1 103.3 245.8L119.2 244.9A160 160 0 0 0 119.3 245.7ZM103.3 245.8A176 176 0 0 1 103.2 244.9L117.2 244.2A162 162 0 0 0 117.3 245ZM103 239.5A176 176 0 0 1 103 238.7L118 238.4A161 161 0 0 0 118 239.2ZM103 236.9A176 176 0 0 1 103 236L115 236A164 164 0 0 0 115 236.8ZM103.1 230.6A176 176 0 0 1 103.1 229.7L111.1 230A168 168 0 0 0 111.1 230.8ZM103.2 227.9A176 176 0 0 1 103.2 227L111.2 227.4A168 168 0 0 0 111.2 228.3ZM103.7 219.8A176 176 0 0 1 103.8 218.9L113.8 219.9A166 166 0 0 0 113.7 220.7ZM103.8 218.9A176 176 0 0 1 103.9 218L114.9 219.2A165 165 0 0 0 114.8 220ZM104.7 211.8A176 176 0 0 1 104.8 210.9L118.7 212.9A162 162 0 0 0 118.5 213.7ZM107.4 196.8A176 176 0 0 1 107.6 195.9L117.4 198.2A166 166 0 0 0 117.2 199ZM161.1 105.3A176 176 0 0 1 161.8 104.7L170.4 114.4A163 163 0 0 0 169.8 115ZM174.3 94.5A176 176 0 0 1 175 94L183.3 105.3A162 162 0 0 0 182.6 105.8ZM210 74.1A176 176 0 0 1 210.9 73.7L215.5 84.8A164 164 0 0 0 214.7 85.1ZM320.8 65A176 176 0 0 1 321.7 65.3L319 75.9A165 165 0 0 0 318.2 75.7ZM339.7 70.8A176 176 0 0 1 340.6 71.1L337.1 80.5A166 166 0 0 0 336.3 80.2ZM343.1 72.1A176 176 0 0 1 343.9 72.4L341 79.8A168 168 0 0 0 340.2 79.5ZM343.9 72.4A176 176 0 0 1 344.7 72.7L342.1 79.2A169 169 0 0 0 341.3 78.9ZM344.7 72.7A176 176 0 0 1 345.6 73.1L342.5 80.5A168 168 0 0 0 341.8 80.2ZM346.4 73.4A176 176 0 0 1 347.2 73.8L343 83.9A165 165 0 0 0 342.2 83.6ZM347.2 73.8A176 176 0 0 1 348.1 74.1L343.3 85.2A164 164 0 0 0 342.6 84.8ZM348.9 74.5A176 176 0 0 1 349.7 74.8L345.7 84A166 166 0 0 0 344.9 83.6ZM350.5 75.2A176 176 0 0 1 351.3 75.6L347.2 84.7A166 166 0 0 0 346.5 84.3ZM351.3 75.6A176 176 0 0 1 353 76.3L349.2 84.5A167 167 0 0 0 347.6 83.8ZM353 76.3A176 176 0 0 1 353.8 76.7L349.5 85.7A166 166 0 0 0 348.8 85.4ZM356.2 77.8A176 176 0 0 1 357.8 78.6L352.9 88.5A165 165 0 0 0 351.4 87.7ZM357.8 78.6A176 176 0 0 1 358.6 79L352.7 90.6A163 163 0 0 0 352 90.3ZM358.6 79A176 176 0 0 1 359.4 79.5L354.4 89.2A165 165 0 0 0 353.7 88.9ZM360.2 79.9A176 176 0 0 1 361 80.3L355.4 90.9A164 164 0 0 0 354.7 90.5ZM361 80.3A176 176 0 0 1 362.6 81.1L356.4 92.6A163 163 0 0 0 355 91.8ZM362.6 81.1A176 176 0 0 1 363.4 81.6L356.7 93.8A162 162 0 0 0 356 93.4ZM364.2 82A176 176 0 0 1 365 82.4L357.6 95.5A161 161 0 0 0 356.9 95.1ZM365 82.4A176 176 0 0 1 366.5 83.3L360.1 94.6A163 163 0 0 0 358.6 93.8ZM366.5 83.3A176 176 0 0 1 367.3 83.8L360.3 95.9A162 162 0 0 0 359.6 95.5ZM367.3 83.8A176 176 0 0 1 368.1 84.2L360.5 97.1A161 161 0 0 0 359.8 96.7ZM368.1 84.2A176 176 0 0 1 368.9 84.7L361.7 96.7A162 162 0 0 0 361 96.3ZM368.9 84.7A176 176 0 0 1 369.6 85.1L362.9 96.3A163 163 0 0 0 362.2 95.8ZM369.6 85.1A176 176 0 0 1 370.4 85.6L364.2 95.8A164 164 0 0 0 363.4 95.4ZM370.4 85.6A176 176 0 0 1 371.2 86.1L364.4 97.1A163 163 0 0 0 363.6 96.7ZM371.2 86.1A176 176 0 0 1 371.9 86.5L364 99.3A161 161 0 0 0 363.3 98.8ZM372.7 87A176 176 0 0 1 374.2 88L365.5 101.4A160 160 0 0 0 364.2 100.6ZM374.2 88A176 176 0 0 1 375.7 88.9L368 100.6A162 162 0 0 0 366.6 99.7ZM376.5 89.4A176 176 0 0 1 379.4 91.5L370.3 104.6A160 160 0 0 0 367.6 102.8ZM379.4 91.5A176 176 0 0 1 380.2 92L371.5 104.3A161 161 0 0 0 370.9 103.8ZM380.2 92A176 176 0 0 1 380.9 92.5L371.6 105.5A160 160 0 0 0 371 105.1ZM380.9 92.5A176 176 0 0 1 381.6 93L372.9 105.2A161 161 0 0 0 372.2 104.7ZM381.6 93A176 176 0 0 1 382.3 93.5L374.1 104.9A162 162 0 0 0 373.5 104.4ZM383.1 94.1A176 176 0 0 1 383.8 94.6L376.1 105A163 163 0 0 0 375.4 104.6ZM383.8 94.6A176 176 0 0 1 384.5 95.1L377.3 104.7A164 164 0 0 0 376.7 104.2ZM384.5 95.1A176 176 0 0 1 385.9 96.2L379.3 105A165 165 0 0 0 377.9 103.9ZM386.7 96.8A176 176 0 0 1 387.4 97.3L380 106.8A164 164 0 0 0 379.3 106.3ZM387.4 97.3A176 176 0 0 1 388.1 97.9L381.3 106.5A165 165 0 0 0 380.6 106ZM388.1 97.9A176 176 0 0 1 389.5 99L383.2 106.8A166 166 0 0 0 381.9 105.7ZM389.5 99A176 176 0 0 1 390.2 99.6L383.2 108.1A165 165 0 0 0 382.6 107.6ZM391.6 100.7A176 176 0 0 1 392.2 101.3L387.1 107.4A168 168 0 0 0 386.4 106.9ZM392.2 101.3A176 176 0 0 1 392.9 101.9L387.1 108.7A167 167 0 0 0 386.5 108.2ZM394.3 103A176 176 0 0 1 395 103.6L387.7 111.9A165 165 0 0 0 387.1 111.3ZM397 105.4A176 176 0 0 1 397.7 106L389.6 114.9A164 164 0 0 0 388.9 114.3ZM397.7 106A176 176 0 0 1 398.3 106.6L390.9 114.7A165 165 0 0 0 390.2 114.1ZM398.3 106.6A176 176 0 0 1 399.6 107.8L391.4 116.6A164 164 0 0 0 390.2 115.4ZM399.6 107.8A176 176 0 0 1 400.3 108.5L391.3 117.9A163 163 0 0 0 390.7 117.3ZM400.3 108.5A176 176 0 0 1 400.9 109.1L391.2 119.2A162 162 0 0 0 390.6 118.6ZM401.6 109.7A176 176 0 0 1 402.2 110.3L393.8 118.9A164 164 0 0 0 393.2 118.3ZM402.2 110.3A176 176 0 0 1 402.9 111L393.7 120.2A163 163 0 0 0 393.1 119.6ZM402.9 111A176 176 0 0 1 403.5 111.6L395 120.1A164 164 0 0 0 394.4 119.5ZM403.5 111.6A176 176 0 0 1 404.1 112.2L396.3 120A165 165 0 0 0 395.7 119.4ZM404.8 112.9A176 176 0 0 1 407.2 115.5L398.5 123.7A164 164 0 0 0 396.2 121.3ZM408.5 116.8A176 176 0 0 1 409.1 117.4L398.7 126.9A162 162 0 0 0 398.2 126.3ZM409.1 117.4A176 176 0 0 1 409.7 118.1L400 126.8A163 163 0 0 0 399.5 126.2ZM409.7 118.1A176 176 0 0 1 410.3 118.8L399.8 128.1A162 162 0 0 0 399.3 127.5ZM410.3 118.8A176 176 0 0 1 411.5 120.1L402.4 128A164 164 0 0 0 401.3 126.8ZM411.5 120.1A176 176 0 0 1 412 120.8L403.7 128A165 165 0 0 0 403.2 127.4ZM412 120.8A176 176 0 0 1 412.6 121.5L403.5 129.3A164 164 0 0 0 403 128.6ZM413.2 122.2A176 176 0 0 1 413.8 122.8L404.6 130.6A164 164 0 0 0 404.1 129.9ZM413.8 122.8A176 176 0 0 1 414.4 123.5L405.9 130.6A165 165 0 0 0 405.4 129.9ZM414.4 123.5A176 176 0 0 1 414.9 124.2L405.7 131.8A164 164 0 0 0 405.1 131.2ZM415.5 124.9A176 176 0 0 1 416.1 125.6L407.5 132.5A165 165 0 0 0 407 131.9ZM417.2 127A176 176 0 0 1 417.7 127.7L410.7 133.3A167 167 0 0 0 410.1 132.6ZM418.8 129.1A176 176 0 0 1 419.4 129.9L411.4 135.9A166 166 0 0 0 410.9 135.2ZM419.9 130.6A176 176 0 0 1 420.5 131.3L413.2 136.6A167 167 0 0 0 412.7 136ZM420.5 131.3A176 176 0 0 1 421 132L412.9 137.9A166 166 0 0 0 412.4 137.2ZM421 132A176 176 0 0 1 421.5 132.7L414.2 138A167 167 0 0 0 413.7 137.3ZM422.1 133.5A176 176 0 0 1 422.6 134.2L416 138.8A168 168 0 0 0 415.5 138.1ZM422.6 134.2A176 176 0 0 1 423.6 135.7L417.9 139.7A169 169 0 0 0 416.9 138.2ZM423.6 135.7A176 176 0 0 1 424.1 136.4L417.5 140.9A168 168 0 0 0 417 140.2ZM424.1 136.4A176 176 0 0 1 424.6 137.2L417.2 142.2A167 167 0 0 0 416.7 141.5ZM424.6 137.2A176 176 0 0 1 425.1 137.9L418.5 142.4A168 168 0 0 0 418 141.6ZM429.9 145.5A176 176 0 0 1 430.4 146.2L421.8 151.3A166 166 0 0 0 421.4 150.6Z" fill="#8a5b93"/>
<path d="M454.3 252.2A176 176 0 0 1 454.2 253.1L433.3 251A155 155 0 0 0 433.3 250.2ZM425.1 334.2A176 176 0 0 1 424.6 334.9L414.6 328.2A164 164 0 0 0 415.1 327.5ZM350.4 396.8A176 176 0 0 1 349.6 397.2L340.8 377.1A154 154 0 0 0 341.5 376.7ZM348 397.9A176 176 0 0 1 347.2 398.3L339 378.9A155 155 0 0 0 339.7 378.6ZM319.9 407.2A176 176 0 0 1 319 407.4L314 386A154 154 0 0 0 314.8 385.8ZM273.6 411.9A176 176 0 0 1 272.7 411.9L273.3 394.9A159 159 0 0 0 274.1 394.9ZM248.6 409.4A176 176 0 0 1 247.7 409.2L250.9 391.5A158 158 0 0 0 251.7 391.6ZM246 408.9A176 176 0 0 1 245.1 408.7L248.3 392A159 159 0 0 0 249.1 392.2ZM244.2 408.5A176 176 0 0 1 243.3 408.3L246.8 391.7A159 159 0 0 0 247.6 391.9ZM240.7 407.8A176 176 0 0 1 238.9 407.4L242.6 391.8A160 160 0 0 0 244.2 392.2ZM238.1 407.2A176 176 0 0 1 237.2 407L240.7 392.4A161 161 0 0 0 241.5 392.6ZM226.8 404.1A176 176 0 0 1 225.9 403.8L230.8 388.6A160 160 0 0 0 231.5 388.8ZM219.1 401.5A176 176 0 0 1 218.3 401.2L223.8 386.2A160 160 0 0 0 224.6 386.5ZM214.9 399.9A176 176 0 0 1 214.1 399.6L220.4 383.8A159 159 0 0 0 221.1 384.1ZM210 397.9A176 176 0 0 1 209.1 397.5L215.5 382.9A160 160 0 0 0 216.2 383.2ZM201.8 394.2A176 176 0 0 1 201 393.8L208.1 379.4A160 160 0 0 0 208.8 379.8ZM191.5 388.7A176 176 0 0 1 190.7 388.3L197.7 376.1A162 162 0 0 0 198.4 376.6ZM184.6 384.5A176 176 0 0 1 183.8 384L193.6 368.9A158 158 0 0 0 194.2 369.3ZM175.7 378.5A176 176 0 0 1 174.9 377.9L182.6 367.5A163 163 0 0 0 183.3 367.9ZM169.9 374.1A176 176 0 0 1 169.2 373.6L176.1 365A165 165 0 0 0 176.8 365.5ZM165.1 370.2A176 176 0 0 1 164.4 369.6L170.3 362.7A167 167 0 0 0 170.9 363.3ZM162.4 367.8A176 176 0 0 1 161.7 367.2L169 359A165 165 0 0 0 169.7 359.6ZM159 364.8A176 176 0 0 1 158.4 364.2L165.9 356.2A165 165 0 0 0 166.5 356.7ZM140.8 345A176 176 0 0 1 140.3 344.3L150.5 336.3A163 163 0 0 0 151 336.9ZM133.4 334.9A176 176 0 0 1 132.9 334.1L147 324.6A159 159 0 0 0 147.5 325.3ZM103.4 247.6A176 176 0 0 1 103.3 246.7L120.3 245.7A159 159 0 0 0 120.3 246.5ZM103.1 243.1A176 176 0 0 1 103.1 242.2L118.1 241.7A161 161 0 0 0 118.1 242.5ZM103 236A176 176 0 0 1 103 235.1L114 235.1A165 165 0 0 0 114 236ZM103 234.2A176 176 0 0 1 103 233.3L113 233.4A166 166 0 0 0 113 234.3ZM103.1 229.7A176 176 0 0 1 103.1 228.8L112.1 229.1A167 167 0 0 0 112.1 230ZM104.2 215.4A176 176 0 0 1 104.3 214.5L117.2 216.1A163 163 0 0 0 117.1 216.9ZM104.3 214.5A176 176 0 0 1 104.4 213.6L116.3 215.1A164 164 0 0 0 116.2 215.9ZM104.9 210A176 176 0 0 1 105.1 209.1L118.9 211.3A162 162 0 0 0 118.8 212.1ZM105.1 209.1A176 176 0 0 1 105.2 208.2L118 210.3A163 163 0 0 0 117.9 211.1ZM105.2 208.2A176 176 0 0 1 105.3 207.4L119.2 209.6A162 162 0 0 0 119 210.5ZM106 203.8A176 176 0 0 1 106.1 202.9L116.9 205A165 165 0 0 0 116.8 205.8ZM106.5 201.2A176 176 0 0 1 106.7 200.3L119.4 202.9A163 163 0 0 0 119.2 203.8ZM107 198.5A176 176 0 0 1 107.2 197.7L117 199.8A166 166 0 0 0 116.8 200.7ZM107.8 195A176 176 0 0 1 108 194.2L115.8 196.1A168 168 0 0 0 115.6 196.9ZM108 194.2A176 176 0 0 1 108.3 193.3L117 195.5A167 167 0 0 0 116.8 196.3ZM110.1 186.4A176 176 0 0 1 110.4 185.5L118.1 187.8A168 168 0 0 0 117.8 188.6ZM118.9 162.8A176 176 0 0 1 119.3 162L127.5 165.8A167 167 0 0 0 127.1 166.6ZM162.4 104.1A176 176 0 0 1 163.1 103.5L171.7 113.3A163 163 0 0 0 171 113.9ZM213.4 72.7A176 176 0 0 1 214.2 72.4L218.2 82.6A165 165 0 0 0 217.5 82.9ZM232.1 66.4A176 176 0 0 1 232.9 66.1L235.8 76.8A165 165 0 0 0 235 77ZM263.8 60.7A176 176 0 0 1 264.7 60.6L265.7 72.5A164 164 0 0 0 264.8 72.6ZM302.3 61.6A176 176 0 0 1 303.2 61.7L302.1 69.6A168 168 0 0 0 301.3 69.5ZM375.7 88.9A176 176 0 0 1 376.5 89.4L368.1 101.9A161 161 0 0 0 367.5 101.5ZM382.3 93.5A176 176 0 0 1 383.1 94.1L375.4 104.6A163 163 0 0 0 374.7 104.1ZM392.9 101.9A176 176 0 0 1 393.6 102.4L387.1 110A166 166 0 0 0 386.5 109.5ZM393.6 102.4A176 176 0 0 1 394.3 103L387.1 111.3A165 165 0 0 0 386.5 110.8ZM430.4 146.2A176 176 0 0 1 430.8 147L421.4 152.6A165 165 0 0 0 420.9 151.9ZM451.4 200.4A176 176 0 0 1 451.5 201.3L436.8 204.2A161 161 0 0 0 436.7 203.4Z" fill="#a6c9c4"/>
<path d="M454.1 253.9A176 176 0 0 1 454 254.8L434.1 252.7A156 156 0 0 0 434.2 251.9ZM451.2 272.6A176 176 0 0 1 451 273.4L435.3 270A160 160 0 0 0 435.5 269.2ZM450.6 275.2A176 176 0 0 1 450.4 276.1L434.8 272.4A160 160 0 0 0 435 271.6ZM446.5 289.9A176 176 0 0 1 446.3 290.8L429.2 285.2A158 158 0 0 0 429.4 284.4ZM439.1 309.1A176 176 0 0 1 438.7 310L426 304.1A162 162 0 0 0 426.4 303.3ZM428.5 328.9A176 176 0 0 1 428 329.7L417.8 323.3A164 164 0 0 0 418.3 322.6ZM416 346.5A176 176 0 0 1 415.5 347.2L403.8 337.7A161 161 0 0 0 404.3 337ZM407.2 356.6A176 176 0 0 1 406.6 357.3L395.7 346.9A161 161 0 0 0 396.3 346.3ZM404.7 359.2A176 176 0 0 1 404.1 359.8L392 347.9A159 159 0 0 0 392.6 347.3ZM331.1 404.1A176 176 0 0 1 330.3 404.4L323.9 383.3A154 154 0 0 0 324.6 383.1ZM279 412A176 176 0 0 1 278.1 412L278.2 396A160 160 0 0 0 279 396ZM254.8 410.3A176 176 0 0 1 253.9 410.2L256.6 391.4A157 157 0 0 0 257.4 391.5ZM247.7 409.2A176 176 0 0 1 246 408.9L249.1 392.2A159 159 0 0 0 250.7 392.5ZM242.4 408.2A176 176 0 0 1 241.6 408L244.7 393.3A161 161 0 0 0 245.5 393.5ZM241.6 408A176 176 0 0 1 240.7 407.8L244.2 392.2A160 160 0 0 0 245 392.3ZM238.9 407.4A176 176 0 0 1 238.1 407.2L241.8 391.6A160 160 0 0 0 242.6 391.8ZM229.4 404.9A176 176 0 0 1 228.5 404.6L232.8 390.2A161 161 0 0 0 233.6 390.5ZM224.2 403.3A176 176 0 0 1 222.5 402.7L227.7 387.5A160 160 0 0 0 229.2 388.1ZM222.5 402.7A176 176 0 0 1 221.7 402.4L227.2 386.3A159 159 0 0 0 228 386.6ZM220 401.8A176 176 0 0 1 219.1 401.5L224.6 386.5A160 160 0 0 0 225.4 386.7ZM218.3 401.2A176 176 0 0 1 217.5 400.9L222.7 386.8A161 161 0 0 0 223.5 387.1ZM207.5 396.8A176 176 0 0 1 206.7 396.5L214.1 380A158 158 0 0 0 214.8 380.4ZM206.7 396.5A176 176 0 0 1 205.9 396.1L212.9 380.6A159 159 0 0 0 213.7 381ZM202.6 394.6A176 176 0 0 1 201.8 394.2L208.4 380.7A161 161 0 0 0 209.1 381ZM201 393.8A176 176 0 0 1 200.2 393.4L207.4 379.1A160 160 0 0 0 208.1 379.4ZM196.2 391.3A176 176 0 0 1 195.4 390.9L202.5 377.7A161 161 0 0 0 203.3 378.1ZM193.8 390A176 176 0 0 1 193 389.6L200.9 375.6A160 160 0 0 0 201.6 376ZM193 389.6A176 176 0 0 1 192.3 389.1L199.7 376.1A161 161 0 0 0 200.4 376.5ZM190.7 388.3A176 176 0 0 1 189.9 387.8L197 375.7A162 162 0 0 0 197.7 376.1ZM186.1 385.5A176 176 0 0 1 185.3 385L193.8 371.5A160 160 0 0 0 194.5 371.9ZM185.3 385A176 176 0 0 1 184.6 384.5L193.7 370.2A159 159 0 0 0 194.4 370.6ZM183.8 384A176 176 0 0 1 183.1 383.6L192.3 369.3A159 159 0 0 0 193 369.7ZM178.6 380.5A176 176 0 0 1 177.9 380L184.8 370.2A164 164 0 0 0 185.4 370.7ZM177.9 380A176 176 0 0 1 177.1 379.5L184.6 368.9A163 163 0 0 0 185.3 369.4ZM177.1 379.5A176 176 0 0 1 176.4 379L183.4 369.2A164 164 0 0 0 184.1 369.7ZM172.8 376.3A176 176 0 0 1 172.1 375.8L180 365.5A163 163 0 0 0 180.6 366ZM171.4 375.2A176 176 0 0 1 170.6 374.7L178 365.2A164 164 0 0 0 178.7 365.7ZM161.7 367.2A176 176 0 0 1 161 366.6L167.7 359.2A166 166 0 0 0 168.4 359.8ZM157.7 363.6A176 176 0 0 1 157.1 362.9L164.7 355A165 165 0 0 0 165.3 355.6ZM156.4 362.3A176 176 0 0 1 155.2 361.1L165 351.1A162 162 0 0 0 166.2 352.3ZM154.5 360.4A176 176 0 0 1 153.3 359.1L163.3 349.4A162 162 0 0 0 164.4 350.5ZM153.3 359.1A176 176 0 0 1 152.6 358.5L162 349.5A163 163 0 0 0 162.5 350.1ZM151.4 357.2A176 176 0 0 1 150.8 356.6L158.8 349A165 165 0 0 0 159.4 349.6ZM150.2 355.9A176 176 0 0 1 149.6 355.2L155.4 349.8A168 168 0 0 0 156 350.5ZM148.9 354.6A176 176 0 0 1 148.3 353.9L154.3 348.6A168 168 0 0 0 154.9 349.2ZM147.1 352.6A176 176 0 0 1 146.6 351.9L153.3 346A167 167 0 0 0 153.9 346.6ZM104.7 260.1A176 176 0 0 1 104.5 259.2L123.4 256.7A157 157 0 0 0 123.5 257.5ZM103.6 250.3A176 176 0 0 1 103.5 249.4L120.5 248.1A159 159 0 0 0 120.5 248.9ZM103.1 231.5A176 176 0 0 1 103.1 230.6L111.1 230.8A168 168 0 0 0 111.1 231.7ZM106.3 202.1A176 176 0 0 1 106.5 201.2L119.2 203.8A163 163 0 0 0 119.1 204.6ZM109.4 189A176 176 0 0 1 109.6 188.1L116.4 190A169 169 0 0 0 116.1 190.8ZM115.1 171.9A176 176 0 0 1 115.4 171.1L123.8 174.4A167 167 0 0 0 123.5 175.2ZM117.8 165.3A176 176 0 0 1 118.2 164.5L127.3 168.5A166 166 0 0 0 127 169.3ZM140.9 126.9A176 176 0 0 1 141.4 126.2L150 133.1A165 165 0 0 0 149.5 133.7ZM311.2 63A176 176 0 0 1 312.1 63.1L310.6 71A168 168 0 0 0 309.7 70.8ZM314.7 63.7A176 176 0 0 1 315.6 63.8L313.7 72.6A167 167 0 0 0 312.9 72.5ZM340.6 71.1A176 176 0 0 1 341.4 71.4L338.2 79.8A167 167 0 0 0 337.4 79.5ZM342.2 71.8A176 176 0 0 1 343.1 72.1L339.8 80.5A167 167 0 0 0 339 80.2ZM349.7 74.8A176 176 0 0 1 350.5 75.2L346.5 84.3A166 166 0 0 0 345.7 84ZM353.8 76.7A176 176 0 0 1 354.6 77.1L350.3 86.1A166 166 0 0 0 349.5 85.7ZM407.2 115.5A176 176 0 0 1 407.9 116.1L398.3 125A163 163 0 0 0 397.8 124.4ZM407.9 116.1A176 176 0 0 1 408.5 116.8L397.4 126.9A161 161 0 0 0 396.9 126.3ZM414.9 124.2A176 176 0 0 1 415.5 124.9L407 131.9A165 165 0 0 0 406.4 131.2ZM445.7 179.6A176 176 0 0 1 446 180.5L433.7 184.6A163 163 0 0 0 433.4 183.8Z" fill="#3b7f3d"/>
<path d="M453.9 255.7A176 176 0 0 1 453.8 256.6L433.9 254.3A156 156 0 0 0 434 253.5ZM430.8 325.1A176 176 0 0 1 430.3 325.8L417.4 318.2A161 161 0 0 0 417.9 317.5ZM358.6 393A176 176 0 0 1 357.8 393.4L347.9 373.7A154 154 0 0 0 348.6 373.4ZM326.8 405.4A176 176 0 0 1 326 405.6L321.2 388.3A158 158 0 0 0 321.9 388.1ZM324.2 406.1A176 176 0 0 1 323.4 406.3L318.6 387.9A157 157 0 0 0 319.3 387.7ZM231.1 405.4A176 176 0 0 1 230.2 405.1L234.7 389.7A160 160 0 0 0 235.5 390ZM211.6 398.6A176 176 0 0 1 210.8 398.2L216.6 384.4A161 161 0 0 0 217.4 384.7ZM204.2 395.3A176 176 0 0 1 203.4 394.9L209.9 381.4A161 161 0 0 0 210.6 381.7ZM165.8 370.7A176 176 0 0 1 165.1 370.2L171.6 362.5A166 166 0 0 0 172.2 363.1ZM146 351.2A176 176 0 0 1 145.4 350.5L153 344A166 166 0 0 0 153.5 344.7ZM137 340A176 176 0 0 1 136.5 339.3L148.6 330.5A161 161 0 0 0 149.1 331.1ZM132.9 334.1A176 176 0 0 1 132.4 333.4L145.7 324.5A160 160 0 0 0 146.2 325.2ZM110.4 286.4A176 176 0 0 1 110.1 285.5L125.5 281A160 160 0 0 0 125.7 281.8ZM103.1 241.3A176 176 0 0 1 103.1 240.4L119.1 240A160 160 0 0 0 119.1 240.9ZM103 235.1A176 176 0 0 1 103 234.2L113 234.3A166 166 0 0 0 113 235.1ZM103.2 227A176 176 0 0 1 103.3 226.1L112.3 226.6A167 167 0 0 0 112.2 227.4ZM103.3 226.1A176 176 0 0 1 103.3 225.2L111.3 225.7A168 168 0 0 0 111.3 226.5ZM103.5 223.4A176 176 0 0 1 103.5 222.5L112.5 223.2A167 167 0 0 0 112.4 224ZM104 217.1A176 176 0 0 1 104.1 216.3L114 217.4A166 166 0 0 0 114 218.2ZM104.8 210.9A176 176 0 0 1 104.9 210L119.8 212.2A161 161 0 0 0 119.6 213ZM106.8 199.4A176 176 0 0 1 107 198.5L117.8 200.9A165 165 0 0 0 117.6 201.7ZM107.2 197.7A176 176 0 0 1 107.4 196.8L117.2 199A166 166 0 0 0 117 199.8ZM122.4 155.6A176 176 0 0 1 122.9 154.8L131.7 159.4A166 166 0 0 0 131.3 160.1ZM129.1 143.8A176 176 0 0 1 129.5 143.1L137.2 147.8A167 167 0 0 0 136.7 148.6ZM139.8 128.3A176 176 0 0 1 140.3 127.6L148.2 133.8A166 166 0 0 0 147.7 134.5ZM143.7 123.4A176 176 0 0 1 144.3 122.8L151.9 129.2A166 166 0 0 0 151.4 129.8ZM164.5 102.4A176 176 0 0 1 165.1 101.8L174.2 112.5A162 162 0 0 0 173.6 113ZM191.6 83.3A176 176 0 0 1 192.3 82.8L202.2 100.2A156 156 0 0 0 201.5 100.6ZM235.5 65.5A176 176 0 0 1 236.4 65.2L239.1 75.9A165 165 0 0 0 238.2 76.1ZM239 64.6A176 176 0 0 1 239.9 64.4L242.3 75.1A165 165 0 0 0 241.5 75.3ZM297.9 61A176 176 0 0 1 298.8 61.1L297.7 70.1A167 167 0 0 0 296.9 70ZM317.3 64.2A176 176 0 0 1 318.2 64.4L315.8 75.1A165 165 0 0 0 314.9 75ZM418.3 128.4A176 176 0 0 1 418.8 129.1L410.9 135.2A166 166 0 0 0 410.4 134.5ZM425.1 137.9A176 176 0 0 1 425.6 138.6L419.8 142.5A169 169 0 0 0 419.3 141.8ZM425.6 138.6A176 176 0 0 1 426.1 139.4L419.4 143.8A168 168 0 0 0 419 143.1ZM426.1 139.4A176 176 0 0 1 429 143.9L423 147.6A169 169 0 0 0 420.3 143.2ZM429.5 144.7A176 176 0 0 1 429.9 145.5L422.2 150.1A167 167 0 0 0 421.8 149.4ZM430.8 147A176 176 0 0 1 431.7 148.6L423.1 153.5A166 166 0 0 0 422.2 152.1ZM431.7 148.6A176 176 0 0 1 433.9 152.5L426 156.8A167 167 0 0 0 423.9 153ZM433.9 152.5A176 176 0 0 1 434.4 153.3L425.5 158A166 166 0 0 0 425.1 157.2ZM434.4 153.3A176 176 0 0 1 434.8 154.1L426.8 158.3A167 167 0 0 0 426.4 157.5ZM434.8 154.1A176 176 0 0 1 435.2 154.9L426.3 159.5A166 166 0 0 0 425.9 158.7ZM435.2 154.9A176 176 0 0 1 435.6 155.7L427.6 159.8A167 167 0 0 0 427.2 159ZM436.4 157.3A176 176 0 0 1 437.2 158.9L428.2 163.3A166 166 0 0 0 427.5 161.7ZM437.2 158.9A176 176 0 0 1 437.6 159.7L427.7 164.5A165 165 0 0 0 427.3 163.7ZM437.6 159.7A176 176 0 0 1 438 160.5L428.9 164.8A166 166 0 0 0 428.6 164ZM438 160.5A176 176 0 0 1 438.4 161.3L427.5 166.4A164 164 0 0 0 427.1 165.6ZM438.4 161.3A176 176 0 0 1 438.7 162.1L428.8 166.7A165 165 0 0 0 428.4 166ZM439.9 164.6A176 176 0 0 1 440.2 165.4L428.3 170.6A163 163 0 0 0 428 169.9ZM440.2 165.4A176 176 0 0 1 440.6 166.2L429.6 171A164 164 0 0 0 429.2 170.2ZM440.6 166.2A176 176 0 0 1 440.9 167L429 172.1A163 163 0 0 0 428.6 171.4ZM440.9 167A176 176 0 0 1 441.3 167.9L430.2 172.5A164 164 0 0 0 429.9 171.7ZM441.3 167.9A176 176 0 0 1 441.6 168.7L432.4 172.5A166 166 0 0 0 432.1 171.7ZM441.6 168.7A176 176 0 0 1 442.3 170.4L432.1 174.5A165 165 0 0 0 431.5 172.9ZM442.3 170.4A176 176 0 0 1 442.6 171.2L430.5 176A163 163 0 0 0 430.2 175.2ZM442.6 171.2A176 176 0 0 1 443 172L432.7 176A165 165 0 0 0 432.4 175.2ZM443 172A176 176 0 0 1 443.3 172.9L432.1 177.2A164 164 0 0 0 431.8 176.4ZM443.3 172.9A176 176 0 0 1 443.6 173.7L433.3 177.6A165 165 0 0 0 433 176.8ZM443.6 173.7A176 176 0 0 1 443.9 174.5L434.6 178A166 166 0 0 0 434.3 177.2ZM443.9 174.5A176 176 0 0 1 444.8 177.1L433.5 181.1A164 164 0 0 0 432.7 178.7ZM444.8 177.1A176 176 0 0 1 445.1 177.9L432.9 182.2A163 163 0 0 0 432.6 181.4ZM445.1 177.9A176 176 0 0 1 445.4 178.8L434.1 182.7A164 164 0 0 0 433.8 181.9ZM445.4 178.8A176 176 0 0 1 445.7 179.6L433.4 183.8A163 163 0 0 0 433.1 183ZM446 180.5A176 176 0 0 1 446.3 181.3L433.9 185.4A163 163 0 0 0 433.7 184.6ZM446.3 181.3A176 176 0 0 1 446.6 182.2L433.2 186.5A162 162 0 0 0 433 185.7ZM446.6 182.2A176 176 0 0 1 446.8 183L434.4 186.9A163 163 0 0 0 434.2 186.2ZM446.8 183A176 176 0 0 1 447.6 185.6L436.1 189A164 164 0 0 0 435.4 186.6ZM447.6 185.6A176 176 0 0 1 447.9 186.5L435.4 190.1A163 163 0 0 0 435.2 189.3ZM447.9 186.5A176 176 0 0 1 448.1 187.3L434.7 191.2A162 162 0 0 0 434.5 190.4ZM448.1 187.3A176 176 0 0 1 448.9 189.9L434.4 193.9A161 161 0 0 0 433.7 191.5ZM448.9 189.9A176 176 0 0 1 449.1 190.8L432.7 195.2A159 159 0 0 0 432.5 194.4ZM449.1 190.8A176 176 0 0 1 449.3 191.7L431.9 196.2A158 158 0 0 0 431.7 195.4ZM449.8 193.4A176 176 0 0 1 450 194.3L433.5 198.3A159 159 0 0 0 433.3 197.5ZM450 194.3A176 176 0 0 1 450.2 195.1L434.6 198.9A160 160 0 0 0 434.4 198.1ZM450.2 195.1A176 176 0 0 1 450.4 196L435.8 199.4A161 161 0 0 0 435.6 198.6ZM450.6 196.9A176 176 0 0 1 450.8 197.8L438.1 200.6A163 163 0 0 0 437.9 199.8ZM450.8 197.8A176 176 0 0 1 451 198.6L437.3 201.6A162 162 0 0 0 437.1 200.8ZM451 198.6A176 176 0 0 1 451.2 199.5L438.5 202.2A163 163 0 0 0 438.3 201.4ZM451.2 199.5A176 176 0 0 1 451.4 200.4L437.7 203.2A162 162 0 0 0 437.5 202.4ZM451.5 201.3A176 176 0 0 1 451.7 202.2L438 204.9A162 162 0 0 0 437.8 204ZM451.7 202.2A176 176 0 0 1 451.9 203L439.1 205.5A163 163 0 0 0 439 204.7ZM451.9 203A176 176 0 0 1 452.1 203.9L440.3 206.1A164 164 0 0 0 440.1 205.3Z" fill="#5e2d69"/>
<path d="M452.9 262.8A176 176 0 0 1 452.8 263.7L436 261.1A159 159 0 0 0 436.1 260.3ZM449.1 281.3A176 176 0 0 1 448.8 282.2L435.3 278.5A162 162 0 0 0 435.5 277.7ZM443.6 298.4A176 176 0 0 1 443.3 299.2L428.3 293.5A160 160 0 0 0 428.6 292.7ZM429.9 326.6A176 176 0 0 1 429.4 327.4L416.6 319.6A161 161 0 0 0 417 318.9ZM417.7 344.3A176 176 0 0 1 417.1 345.1L406.2 336.4A162 162 0 0 0 406.7 335.7ZM364.1 390.1A176 176 0 0 1 363.3 390.5L352.8 371.2A154 154 0 0 0 353.5 370.8ZM345.5 399A176 176 0 0 1 344.7 399.3L336.5 378.9A154 154 0 0 0 337.2 378.6ZM342.2 400.3A176 176 0 0 1 341.3 400.6L334.2 381.9A156 156 0 0 0 335 381.6ZM213.3 399.3A176 176 0 0 1 212.4 398.9L218.5 384.1A160 160 0 0 0 219.3 384.4ZM198.6 392.6A176 176 0 0 1 197.8 392.1L205.2 377.9A160 160 0 0 0 205.9 378.3ZM167.1 371.9A176 176 0 0 1 166.5 371.3L173.5 362.9A165 165 0 0 0 174.1 363.4ZM166.5 371.3A176 176 0 0 1 165.8 370.7L172.2 363.1A166 166 0 0 0 172.8 363.6ZM164.4 369.6A176 176 0 0 1 163.7 369L170.3 361.4A166 166 0 0 0 170.9 362ZM159.7 365.4A176 176 0 0 1 159 364.8L166.5 356.7A165 165 0 0 0 167.2 357.3ZM148.3 353.9A176 176 0 0 1 147.7 353.2L153 348.6A169 169 0 0 0 153.5 349.2ZM147.7 353.2A176 176 0 0 1 147.1 352.6L153.1 347.3A168 168 0 0 0 153.7 347.9ZM144.8 349.9A176 176 0 0 1 144.2 349.2L151.1 343.4A167 167 0 0 0 151.7 344ZM143.6 348.5A176 176 0 0 1 143.1 347.8L151.6 340.8A165 165 0 0 0 152.1 341.5ZM142.5 347.1A176 176 0 0 1 141.4 345.7L151.5 337.6A163 163 0 0 0 152.6 338.9ZM141.4 345.7A176 176 0 0 1 140.8 345L151.8 336.3A162 162 0 0 0 152.3 337ZM140.3 344.3A176 176 0 0 1 139.7 343.6L150.8 335A162 162 0 0 0 151.3 335.7ZM139.2 342.9A176 176 0 0 1 138.1 341.4L150.1 332.5A161 161 0 0 0 151.1 333.8ZM138.1 341.4A176 176 0 0 1 137.5 340.7L148 333A163 163 0 0 0 148.5 333.7ZM137.5 340.7A176 176 0 0 1 137 340L148.3 331.7A162 162 0 0 0 148.8 332.4ZM136.5 339.3A176 176 0 0 1 136 338.5L149 329.2A160 160 0 0 0 149.4 329.9ZM136 338.5A176 176 0 0 1 135.4 337.8L147.7 329.1A161 161 0 0 0 148.2 329.8ZM135.4 337.8A176 176 0 0 1 134.9 337.1L148 327.9A160 160 0 0 0 148.5 328.6ZM134.9 337.1A176 176 0 0 1 133.9 335.6L147.9 326A159 159 0 0 0 148.8 327.3ZM132.4 333.4A176 176 0 0 1 130.9 331.1L145.2 321.9A159 159 0 0 0 146.6 324ZM130.9 331.1A176 176 0 0 1 130.4 330.4L145.6 320.7A158 158 0 0 0 146.1 321.4ZM130 329.6A176 176 0 0 1 129.5 328.8L144.8 319.3A158 158 0 0 0 145.2 320ZM129.5 328.8A176 176 0 0 1 129 328.1L145.2 318.1A157 157 0 0 0 145.6 318.8ZM129 328.1A176 176 0 0 1 128.5 327.3L145.6 316.9A156 156 0 0 0 146.1 317.6ZM128.1 326.5A176 176 0 0 1 127.6 325.8L145.7 315.1A155 155 0 0 0 146.1 315.7ZM127.2 325A176 176 0 0 1 126.7 324.2L144 314.2A156 156 0 0 0 144.4 314.9ZM126.7 324.2A176 176 0 0 1 126.3 323.4L144.5 313A155 155 0 0 0 144.9 313.7ZM126.3 323.4A176 176 0 0 1 125.8 322.7L143.2 312.8A156 156 0 0 0 143.6 313.5ZM125.8 322.7A176 176 0 0 1 125.4 321.9L143.7 311.6A155 155 0 0 0 144.1 312.3ZM125.4 321.9A176 176 0 0 1 124.9 321.1L142.4 311.4A156 156 0 0 0 142.8 312.1ZM124.5 320.3A176 176 0 0 1 124.1 319.5L140.8 310.5A157 157 0 0 0 141.2 311.2ZM123.7 318.7A176 176 0 0 1 122.8 317.1L140.6 307.9A156 156 0 0 0 141.3 309.3ZM122.8 317.1A176 176 0 0 1 122.4 316.3L139.3 307.7A157 157 0 0 0 139.7 308.4ZM122.4 316.3A176 176 0 0 1 122 315.5L138.1 307.4A158 158 0 0 0 138.4 308.1ZM122 315.5A176 176 0 0 1 121.6 314.7L136.8 307.1A159 159 0 0 0 137.2 307.9ZM121.6 314.7A176 176 0 0 1 121.2 313.9L135.5 306.9A160 160 0 0 0 135.9 307.6ZM120.8 313.1A176 176 0 0 1 120.4 312.3L135.7 305A159 159 0 0 0 136.1 305.7ZM120 311.5A176 176 0 0 1 119.6 310.7L135 303.5A159 159 0 0 0 135.4 304.2ZM119.6 310.7A176 176 0 0 1 118.9 309.1L133.4 302.4A160 160 0 0 0 134.1 303.9ZM118.9 309.1A176 176 0 0 1 118.5 308.3L134 301.3A159 159 0 0 0 134.4 302ZM118.2 307.4A176 176 0 0 1 117.8 306.6L131.5 300.6A161 161 0 0 0 131.9 301.4ZM117.8 306.6A176 176 0 0 1 117.4 305.8L133 299.1A159 159 0 0 0 133.4 299.8ZM117.4 305.8A176 176 0 0 1 116 302.5L132.7 295.7A158 158 0 0 0 134 298.7ZM116 302.5A176 176 0 0 1 115.7 301.7L133.3 294.6A157 157 0 0 0 133.6 295.3ZM115.7 301.7A176 176 0 0 1 115 300L134.6 292.3A155 155 0 0 0 135.2 293.8ZM115 300A176 176 0 0 1 114.7 299.1L133.4 292A156 156 0 0 0 133.7 292.7ZM114.7 299.1A176 176 0 0 1 114.4 298.3L132.2 291.6A157 157 0 0 0 132.5 292.3ZM114.4 298.3A176 176 0 0 1 114.1 297.5L130.9 291.2A158 158 0 0 0 131.2 291.9ZM113.5 295.8A176 176 0 0 1 113.2 294.9L130.1 288.9A158 158 0 0 0 130.4 289.7ZM112.9 294.1A176 176 0 0 1 112.6 293.2L131.5 286.7A156 156 0 0 0 131.7 287.5ZM112.6 293.2A176 176 0 0 1 112.3 292.4L129.3 286.6A158 158 0 0 0 129.6 287.4ZM112.3 292.4A176 176 0 0 1 111.4 289.8L127.6 284.6A159 159 0 0 0 128.4 286.9ZM111.4 289.8A176 176 0 0 1 111.2 289L128.3 283.6A158 158 0 0 0 128.6 284.3ZM111.2 289A176 176 0 0 1 110.9 288.1L129 282.5A157 157 0 0 0 129.3 283.3ZM110.9 288.1A176 176 0 0 1 110.6 287.3L127.9 282A158 158 0 0 0 128.1 282.8ZM110.6 287.3A176 176 0 0 1 110.4 286.4L125.7 281.8A160 160 0 0 0 125.9 282.6ZM110.1 285.5A176 176 0 0 1 109.4 283L124.8 278.7A160 160 0 0 0 125.5 281ZM109.4 283A176 176 0 0 1 109.1 282.1L123.6 278.2A161 161 0 0 0 123.8 279ZM109.1 282.1A176 176 0 0 1 108.9 281.2L124.4 277.1A160 160 0 0 0 124.6 277.9ZM108.9 281.2A176 176 0 0 1 108.7 280.4L122.2 276.8A162 162 0 0 0 122.4 277.6ZM108.7 280.4A176 176 0 0 1 108.5 279.5L123 275.8A161 161 0 0 0 123.2 276.6ZM108.5 279.5A176 176 0 0 1 108.2 278.6L121.8 275.2A162 162 0 0 0 122 276ZM108.2 278.6A176 176 0 0 1 108 277.7L122.6 274.2A161 161 0 0 0 122.8 275ZM107.8 276.9A176 176 0 0 1 107.6 276L123.2 272.4A160 160 0 0 0 123.4 273.2ZM107.6 276A176 176 0 0 1 107.4 275.1L122 271.8A161 161 0 0 0 122.2 272.6ZM107.4 275.1A176 176 0 0 1 107.2 274.2L120.9 271.2A162 162 0 0 0 121.1 272ZM107 273.4A176 176 0 0 1 106.8 272.5L121.5 269.4A161 161 0 0 0 121.7 270.2ZM106.8 272.5A176 176 0 0 1 106.5 270.7L120.2 268A162 162 0 0 0 120.5 269.6ZM106.5 270.7A176 176 0 0 1 106.3 269.9L119 267.4A163 163 0 0 0 119.2 268.2ZM106.3 269.9A176 176 0 0 1 106.1 269L119.9 266.4A162 162 0 0 0 120 267.2ZM105.8 267.2A176 176 0 0 1 105.6 266.3L122.4 263.4A159 159 0 0 0 122.5 264.2ZM105.2 263.7A176 176 0 0 1 105 262.8L124.8 259.7A156 156 0 0 0 124.9 260.5ZM105 262.8A176 176 0 0 1 104.9 261.9L125.7 258.8A155 155 0 0 0 125.8 259.6ZM104.8 261A176 176 0 0 1 104.7 260.1L124.5 257.4A156 156 0 0 0 124.6 258.2ZM104.5 259.2A176 176 0 0 1 104.4 258.3L122.3 256.1A158 158 0 0 0 122.4 256.9ZM104.4 258.3A176 176 0 0 1 104.2 256.6L121.1 254.6A159 159 0 0 0 121.3 256.2ZM104.2 256.6A176 176 0 0 1 104.1 255.7L120 253.9A160 160 0 0 0 120.1 254.7ZM104 254.8A176 176 0 0 1 103.8 253L119.7 251.4A160 160 0 0 0 119.9 253.1ZM103.2 244.9A176 176 0 0 1 103.1 243.1L119.1 242.5A160 160 0 0 0 119.2 244.1ZM103.1 240.4A176 176 0 0 1 103 239.5L118 239.2A161 161 0 0 0 118.1 240.1ZM103 238.7A176 176 0 0 1 103 237.8L117 237.6A162 162 0 0 0 117 238.4ZM103 232.4A176 176 0 0 1 103.1 231.5L112.1 231.7A167 167 0 0 0 112 232.6ZM104.6 212.7A176 176 0 0 1 104.7 211.8L116.6 213.4A164 164 0 0 0 116.4 214.3ZM105.6 205.6A176 176 0 0 1 105.8 204.7L119.6 207.2A162 162 0 0 0 119.4 208ZM106.1 202.9A176 176 0 0 1 106.3 202.1L118.1 204.4A164 164 0 0 0 117.9 205.2ZM106.7 200.3A176 176 0 0 1 106.8 199.4L118.6 201.9A164 164 0 0 0 118.4 202.7ZM114.7 172.8A176 176 0 0 1 115.1 171.9L123.5 175.2A167 167 0 0 0 123.1 176ZM117.1 167A176 176 0 0 1 117.5 166.1L127.6 170.5A165 165 0 0 0 127.2 171.3ZM127.2 146.9A176 176 0 0 1 127.7 146.2L136.3 151.3A166 166 0 0 0 135.8 152ZM144.3 122.8A176 176 0 0 1 144.8 122.1L152.5 128.5A166 166 0 0 0 151.9 129.2ZM192.3 82.8A176 176 0 0 1 193.1 82.4L203.4 100.7A155 155 0 0 0 202.7 101.1ZM221.8 69.6A176 176 0 0 1 222.6 69.3L226.1 79.7A165 165 0 0 0 225.3 80ZM341.4 71.4A176 176 0 0 1 342.2 71.8L338.6 81.1A166 166 0 0 0 337.9 80.8ZM354.6 77.1A176 176 0 0 1 355.4 77.5L350.2 88.3A164 164 0 0 0 349.4 87.9ZM363.4 81.6A176 176 0 0 1 364.2 82L356.9 95.1A161 161 0 0 0 356.2 94.7ZM371.9 86.5A176 176 0 0 1 372.7 87L364.7 99.7A161 161 0 0 0 364 99.3ZM396.3 104.8A176 176 0 0 1 397 105.4L389.6 113.6A165 165 0 0 0 389 113ZM439.5 163.8A176 176 0 0 1 439.9 164.6L428.9 169.4A164 164 0 0 0 428.5 168.7Z" fill="#c4411f"/>
<path d="M447.1 288.2A176 176 0 0 1 446.8 289L429.7 283.6A158 158 0 0 0 429.9 282.8ZM443.3 299.2A176 176 0 0 1 442.9 300L427.1 293.9A159 159 0 0 0 427.4 293.1ZM435.1 317.2A176 176 0 0 1 434.7 318L424.1 312.4A164 164 0 0 0 424.5 311.7ZM431.3 324.3A176 176 0 0 1 430.8 325.1L418.7 318A162 162 0 0 0 419.1 317.3ZM385.2 376.4A176 176 0 0 1 384.4 376.9L373.1 361.7A157 157 0 0 0 373.7 361.2ZM348.8 397.6A176 176 0 0 1 348 397.9L339.4 377.7A154 154 0 0 0 340.1 377.4ZM335.4 402.7A176 176 0 0 1 334.6 403L328.6 385A157 157 0 0 0 329.3 384.7ZM292.4 411.5A176 176 0 0 1 291.5 411.6L290 389.6A154 154 0 0 0 290.7 389.6ZM249.5 409.5A176 176 0 0 1 248.6 409.4L251.7 391.6A158 158 0 0 0 252.5 391.8ZM243.3 408.3A176 176 0 0 1 242.4 408.2L245.8 392.5A160 160 0 0 0 246.6 392.7ZM220.8 402.1A176 176 0 0 1 220 401.8L225 387.7A161 161 0 0 0 225.8 388ZM217.5 400.9A176 176 0 0 1 216.6 400.6L221.9 386.5A161 161 0 0 0 222.7 386.8ZM212.4 398.9A176 176 0 0 1 211.6 398.6L217.4 384.7A161 161 0 0 0 218.1 385ZM209.1 397.5A176 176 0 0 1 208.3 397.2L214.7 382.5A160 160 0 0 0 215.5 382.9ZM208.3 397.2A176 176 0 0 1 207.5 396.8L214.4 381.3A159 159 0 0 0 215.1 381.6ZM205 395.7A176 176 0 0 1 204.2 395.3L211 380.8A160 160 0 0 0 211.8 381.2ZM199.4 393A176 176 0 0 1 198.6 392.6L206.4 377.4A159 159 0 0 0 207.1 377.8ZM197.8 392.1A176 176 0 0 1 197 391.7L204.4 377.6A160 160 0 0 0 205.2 377.9ZM197 391.7A176 176 0 0 1 196.2 391.3L203.3 378.1A161 161 0 0 0 204 378.5ZM195.4 390.9A176 176 0 0 1 194.6 390.5L201.8 377.3A161 161 0 0 0 202.5 377.7ZM189.9 387.8A176 176 0 0 1 189.2 387.3L196.3 375.3A162 162 0 0 0 197 375.7ZM188.4 386.9A176 176 0 0 1 187.6 386.4L195.4 373.6A161 161 0 0 0 196.1 374ZM182.3 383.1A176 176 0 0 1 181.6 382.6L190.4 369.2A160 160 0 0 0 191.1 369.7ZM179.3 381.1A176 176 0 0 1 178.6 380.5L186 369.9A163 163 0 0 0 186.7 370.3ZM176.4 379A176 176 0 0 1 175.7 378.5L183.3 367.9A163 163 0 0 0 184 368.4ZM174.9 377.9A176 176 0 0 1 174.2 377.4L182 367A163 163 0 0 0 182.6 367.5ZM174.2 377.4A176 176 0 0 1 173.5 376.9L180.1 368.1A165 165 0 0 0 180.8 368.6ZM169.2 373.6A176 176 0 0 1 168.5 373L175.4 364.5A165 165 0 0 0 176.1 365ZM168.5 373A176 176 0 0 1 167.8 372.5L175.4 363.1A164 164 0 0 0 176.1 363.7ZM163.7 369A176 176 0 0 1 163 368.4L170.3 360.1A165 165 0 0 0 170.9 360.7ZM161 366.6A176 176 0 0 1 160.4 366L167.1 358.6A166 166 0 0 0 167.7 359.2ZM158.4 364.2A176 176 0 0 1 157.7 363.6L166.7 354.1A163 163 0 0 0 167.3 354.7ZM152 357.9A176 176 0 0 1 151.4 357.2L159.4 349.6A165 165 0 0 0 159.9 350.2ZM149.6 355.2A176 176 0 0 1 148.9 354.6L154.9 349.2A168 168 0 0 0 155.4 349.8ZM133.9 335.6A176 176 0 0 1 133.4 334.9L148.3 324.8A158 158 0 0 0 148.7 325.4ZM103.7 251.2A176 176 0 0 1 103.6 250.3L121.5 248.8A158 158 0 0 0 121.6 249.6ZM103.1 242.2A176 176 0 0 1 103.1 241.3L117.1 240.9A162 162 0 0 0 117.1 241.7ZM103 237.8A176 176 0 0 1 103 236.9L116 236.8A163 163 0 0 0 116 237.6ZM103 233.3A176 176 0 0 1 103 232.4L112 232.6A167 167 0 0 0 112 233.4ZM103.1 228.8A176 176 0 0 1 103.2 227.9L112.2 228.3A167 167 0 0 0 112.1 229.1ZM103.3 225.2A176 176 0 0 1 103.4 224.3L112.4 224.9A167 167 0 0 0 112.3 225.7ZM103.5 222.5A176 176 0 0 1 103.6 221.6L112.6 222.3A167 167 0 0 0 112.5 223.2ZM103.6 221.6A176 176 0 0 1 103.7 220.7L113.6 221.6A166 166 0 0 0 113.6 222.4ZM103.7 220.7A176 176 0 0 1 103.7 219.8L112.7 220.7A167 167 0 0 0 112.6 221.5ZM104.1 216.3A176 176 0 0 1 104.2 215.4L116.1 216.8A164 164 0 0 0 116 217.6ZM104.4 213.6A176 176 0 0 1 104.6 212.7L118.4 214.5A162 162 0 0 0 118.3 215.4ZM105.3 207.4A176 176 0 0 1 105.6 205.6L119.4 208A162 162 0 0 0 119.2 209.6ZM105.8 204.7A176 176 0 0 1 106 203.8L117.8 206A164 164 0 0 0 117.6 206.8ZM119.3 162A176 176 0 0 1 119.7 161.2L127.8 165A167 167 0 0 0 127.5 165.8ZM122 156.4A176 176 0 0 1 122.4 155.6L132.2 160.6A165 165 0 0 0 131.9 161.4ZM128.6 144.6A176 176 0 0 1 129.1 143.8L137.6 149.1A166 166 0 0 0 137.1 149.8ZM156.5 109.6A176 176 0 0 1 157.1 109L165.5 117.7A164 164 0 0 0 164.9 118.2ZM157.1 109A176 176 0 0 1 158.4 107.8L167.4 117.2A163 163 0 0 0 166.1 118.4ZM159.8 106.5A176 176 0 0 1 161.1 105.3L169.8 115A163 163 0 0 0 168.6 116.1ZM161.8 104.7A176 176 0 0 1 162.4 104.1L171 113.9A163 163 0 0 0 170.4 114.4ZM163.8 103A176 176 0 0 1 164.5 102.4L172.9 112.2A163 163 0 0 0 172.3 112.8ZM165.1 101.8A176 176 0 0 1 165.8 101.2L175.5 112.7A161 161 0 0 0 174.8 113.2ZM165.8 101.2A176 176 0 0 1 166.5 100.6L175.5 111.4A162 162 0 0 0 174.8 111.9ZM166.5 100.6A176 176 0 0 1 167.9 99.5L177.4 111.1A161 161 0 0 0 176.1 112.2ZM167.9 99.5A176 176 0 0 1 168.6 98.9L178.6 111.4A160 160 0 0 0 178 111.9ZM168.6 98.9A176 176 0 0 1 170 97.8L179.3 109.6A161 161 0 0 0 178 110.6ZM170 97.8A176 176 0 0 1 170.7 97.3L179.3 108.3A162 162 0 0 0 178.7 108.8ZM170.7 97.3A176 176 0 0 1 172.1 96.2L180 106.5A163 163 0 0 0 178.7 107.5ZM172.1 96.2A176 176 0 0 1 172.8 95.6L181.3 106.8A162 162 0 0 0 180.6 107.3ZM173.6 95.1A176 176 0 0 1 174.3 94.5L183.2 106.6A161 161 0 0 0 182.6 107.1ZM175 94A176 176 0 0 1 175.7 93.5L184.5 105.6A161 161 0 0 0 183.9 106.1ZM175.7 93.5A176 176 0 0 1 177.2 92.4L186.4 105.5A160 160 0 0 0 185.1 106.4ZM177.2 92.4A176 176 0 0 1 177.9 91.9L187.7 105.8A159 159 0 0 0 187 106.3ZM177.9 91.9A176 176 0 0 1 178.7 91.4L188.9 106.2A158 158 0 0 0 188.3 106.7ZM178.7 91.4A176 176 0 0 1 179.4 90.9L189 104.9A159 159 0 0 0 188.4 105.4ZM179.4 90.9A176 176 0 0 1 180.1 90.4L190.3 105.3A158 158 0 0 0 189.6 105.7ZM180.1 90.4A176 176 0 0 1 181.6 89.4L191 103.5A159 159 0 0 0 189.7 104.5ZM181.6 89.4A176 176 0 0 1 182.4 88.9L192.3 103.9A158 158 0 0 0 191.6 104.4ZM182.4 88.9A176 176 0 0 1 183.1 88.4L193.5 104.3A157 157 0 0 0 192.8 104.8ZM183.1 88.4A176 176 0 0 1 183.9 87.9L194.7 104.7A156 156 0 0 0 194 105.2ZM183.9 87.9A176 176 0 0 1 188.5 85.1L199.8 103.9A154 154 0 0 0 195.8 106.4ZM188.5 85.1A176 176 0 0 1 189.2 84.6L199.4 101.8A156 156 0 0 0 198.8 102.2ZM189.2 84.6A176 176 0 0 1 191.6 83.3L201 99.7A157 157 0 0 0 198.9 101ZM193.9 81.9A176 176 0 0 1 194.7 81.5L204.3 99.1A156 156 0 0 0 203.6 99.4ZM194.7 81.5A176 176 0 0 1 195.5 81.1L204.5 97.8A157 157 0 0 0 203.8 98.2ZM195.5 81.1A176 176 0 0 1 197.9 79.8L207.1 97.6A156 156 0 0 0 205 98.7ZM197.9 79.8A176 176 0 0 1 200.3 78.6L209.7 97.4A155 155 0 0 0 207.5 98.5ZM200.3 78.6A176 176 0 0 1 201.1 78.2L210.8 97.9A154 154 0 0 0 210.1 98.3ZM201.1 78.2A176 176 0 0 1 202.7 77.4L211.8 96.3A155 155 0 0 0 210.4 97ZM204.3 76.6A176 176 0 0 1 205.1 76.3L212.7 92.6A158 158 0 0 0 211.9 92.9ZM205.1 76.3A176 176 0 0 1 205.9 75.9L213 91.4A159 159 0 0 0 212.3 91.7ZM205.9 75.9A176 176 0 0 1 207.6 75.1L213.7 88.9A161 161 0 0 0 212.2 89.5ZM207.6 75.1A176 176 0 0 1 208.4 74.8L213.6 86.7A163 163 0 0 0 212.8 87ZM208.4 74.8A176 176 0 0 1 209.2 74.4L214 85.4A164 164 0 0 0 213.2 85.8ZM209.2 74.4A176 176 0 0 1 210 74.1L215.1 86A163 163 0 0 0 214.4 86.4ZM210.9 73.7A176 176 0 0 1 211.7 73.4L215.9 83.5A165 165 0 0 0 215.1 83.9ZM211.7 73.4A176 176 0 0 1 213.4 72.7L217.1 82A166 166 0 0 0 215.5 82.6ZM214.2 72.4A176 176 0 0 1 215 72L218.7 81.4A166 166 0 0 0 217.9 81.7ZM215 72A176 176 0 0 1 215.9 71.7L219.8 82A165 165 0 0 0 219 82.3ZM216.7 71.4A176 176 0 0 1 217.5 71.1L220.7 79.5A167 167 0 0 0 219.9 79.8ZM217.5 71.1A176 176 0 0 1 220.1 70.2L223.4 79.6A166 166 0 0 0 221 80.5ZM220.1 70.2A176 176 0 0 1 220.9 69.9L224.5 80.2A165 165 0 0 0 223.8 80.5ZM220.9 69.9A176 176 0 0 1 221.8 69.6L225.7 80.9A164 164 0 0 0 224.9 81.2ZM222.6 69.3A176 176 0 0 1 223.5 69L226.6 78.5A166 166 0 0 0 225.8 78.7ZM223.5 69A176 176 0 0 1 224.3 68.7L227.7 79.2A165 165 0 0 0 226.9 79.4ZM224.3 68.7A176 176 0 0 1 226.9 67.9L230.4 79.4A164 164 0 0 0 228 80.1ZM226.9 67.9A176 176 0 0 1 227.7 67.6L230.7 77.2A166 166 0 0 0 229.8 77.4ZM227.7 67.6A176 176 0 0 1 228.6 67.4L232 78.9A164 164 0 0 0 231.2 79.1ZM228.6 67.4A176 176 0 0 1 230.3 66.9L233.4 77.4A165 165 0 0 0 231.8 77.9ZM230.3 66.9A176 176 0 0 1 232.1 66.4L234.7 76A166 166 0 0 0 233.1 76.5ZM233.8 65.9A176 176 0 0 1 234.7 65.7L237.4 76.3A165 165 0 0 0 236.6 76.5ZM236.4 65.2A176 176 0 0 1 238.1 64.8L240.9 76.5A164 164 0 0 0 239.3 76.9ZM238.1 64.8A176 176 0 0 1 239 64.6L242 77.3A163 163 0 0 0 241.2 77.5ZM239.9 64.4A176 176 0 0 1 241.6 64L244.2 75.7A164 164 0 0 0 242.6 76.1ZM241.6 64A176 176 0 0 1 246 63.1L248.5 75.9A163 163 0 0 0 244.4 76.7ZM246 63.1A176 176 0 0 1 247.8 62.8L250.5 77.5A161 161 0 0 0 248.8 77.8ZM247.8 62.8A176 176 0 0 1 249.6 62.5L251.9 76.3A162 162 0 0 0 250.3 76.6ZM249.6 62.5A176 176 0 0 1 250.5 62.3L252.4 74.2A164 164 0 0 0 251.6 74.3ZM250.5 62.3A176 176 0 0 1 251.3 62.2L253.5 76A162 162 0 0 0 252.7 76.1ZM251.3 62.2A176 176 0 0 1 252.2 62L254.2 74.9A163 163 0 0 0 253.4 75ZM252.2 62A176 176 0 0 1 253.1 61.9L255.3 76.8A161 161 0 0 0 254.5 76.9ZM253.1 61.9A176 176 0 0 1 254 61.8L256 75.6A162 162 0 0 0 255.2 75.8ZM254.9 61.7A176 176 0 0 1 255.8 61.5L257.6 75.4A162 162 0 0 0 256.8 75.5ZM255.8 61.5A176 176 0 0 1 256.7 61.4L258.2 73.3A164 164 0 0 0 257.4 73.4ZM256.7 61.4A176 176 0 0 1 257.6 61.3L258.9 72.2A165 165 0 0 0 258.1 72.3ZM257.6 61.3A176 176 0 0 1 259.3 61.1L260.8 74A163 163 0 0 0 259.1 74.2ZM260.2 61A176 176 0 0 1 261.1 60.9L262.6 74.8A162 162 0 0 0 261.7 74.9ZM262 60.8A176 176 0 0 1 262.9 60.7L264.1 73.7A163 163 0 0 0 263.3 73.8ZM262.9 60.7A176 176 0 0 1 263.8 60.7L264.8 71.6A165 165 0 0 0 263.9 71.7ZM264.7 60.6A176 176 0 0 1 267.4 60.4L268.2 73.4A163 163 0 0 0 265.8 73.5ZM268.3 60.3A176 176 0 0 1 270.1 60.2L270.7 72.2A164 164 0 0 0 269 72.3ZM270.1 60.2A176 176 0 0 1 271.9 60.1L272.3 71.1A165 165 0 0 0 270.6 71.2ZM271.9 60.1A176 176 0 0 1 272.8 60.1L273.1 70.1A166 166 0 0 0 272.3 70.1ZM272.8 60.1A176 176 0 0 1 275.5 60L275.6 68A168 168 0 0 0 273.1 68.1ZM275.5 60A176 176 0 0 1 278.2 60L278.2 67A169 169 0 0 0 275.6 67ZM278.2 60A176 176 0 0 1 279.1 60L279 68A168 168 0 0 0 278.2 68ZM279.1 60A176 176 0 0 1 280.8 60L280.8 67A169 169 0 0 0 279 67ZM280.8 60A176 176 0 0 1 281.7 60L281.6 68A168 168 0 0 0 280.8 68ZM282.6 60A176 176 0 0 1 286.2 60.1L285.9 67.1A169 169 0 0 0 282.5 67ZM287.1 60.2A176 176 0 0 1 288 60.2L287.7 67.2A169 169 0 0 0 286.8 67.2ZM288.9 60.3A176 176 0 0 1 291.6 60.5L291.1 67.4A169 169 0 0 0 288.5 67.3ZM291.6 60.5A176 176 0 0 1 292.5 60.5L291.8 69.5A167 167 0 0 0 291 69.4ZM292.5 60.5A176 176 0 0 1 295.2 60.7L294.5 67.7A169 169 0 0 0 292 67.5ZM296.1 60.8A176 176 0 0 1 297 60.9L296.2 68.9A168 168 0 0 0 295.3 68.8ZM297 60.9A176 176 0 0 1 297.9 61L296.9 70A167 167 0 0 0 296.1 69.9ZM298.8 61.1A176 176 0 0 1 300.5 61.3L299.4 70.3A167 167 0 0 0 297.7 70.1ZM300.5 61.3A176 176 0 0 1 301.4 61.4L300.4 69.4A168 168 0 0 0 299.6 69.3ZM301.4 61.4A176 176 0 0 1 302.3 61.6L301.1 70.5A167 167 0 0 0 300.3 70.4ZM303.2 61.7A176 176 0 0 1 304.1 61.8L303.1 68.7A169 169 0 0 0 302.2 68.6ZM305 61.9A176 176 0 0 1 306.8 62.2L305.7 69.1A169 169 0 0 0 304 68.9ZM306.8 62.2A176 176 0 0 1 307.6 62.3L306.3 70.2A168 168 0 0 0 305.5 70.1ZM307.6 62.3A176 176 0 0 1 308.5 62.5L307.4 69.4A169 169 0 0 0 306.5 69.3ZM309.4 62.6A176 176 0 0 1 310.3 62.8L308.9 70.7A168 168 0 0 0 308 70.5ZM310.3 62.8A176 176 0 0 1 311.2 63L309.9 69.8A169 169 0 0 0 309.1 69.7ZM312.1 63.1A176 176 0 0 1 312.9 63.3L311.2 72.1A167 167 0 0 0 310.4 72ZM312.9 63.3A176 176 0 0 1 313.8 63.5L311.8 73.3A166 166 0 0 0 311 73.1ZM313.8 63.5A176 176 0 0 1 314.7 63.7L312.9 72.5A167 167 0 0 0 312 72.3ZM315.6 63.8A176 176 0 0 1 316.5 64L314.1 74.8A165 165 0 0 0 313.3 74.6ZM316.5 64A176 176 0 0 1 317.3 64.2L315.2 74A166 166 0 0 0 314.3 73.8ZM318.2 64.4A176 176 0 0 1 320 64.8L317.4 75.5A165 165 0 0 0 315.8 75.1ZM321.7 65.3A176 176 0 0 1 326 66.4L323.4 76A166 166 0 0 0 319.3 75ZM326 66.4A176 176 0 0 1 326.9 66.6L323.9 77.2A165 165 0 0 0 323.1 77ZM326.9 66.6A176 176 0 0 1 328.6 67.1L325.3 78.7A164 164 0 0 0 323.6 78.2ZM328.6 67.1A176 176 0 0 1 329.5 67.4L326.3 77.9A165 165 0 0 0 325.5 77.7ZM329.5 67.4A176 176 0 0 1 330.4 67.7L327.7 76.3A167 167 0 0 0 326.9 76ZM330.4 67.7A176 176 0 0 1 331.2 67.9L328 78.4A165 165 0 0 0 327.1 78.2ZM331.2 67.9A176 176 0 0 1 332.1 68.2L329.4 76.8A167 167 0 0 0 328.5 76.5ZM332.1 68.2A176 176 0 0 1 332.9 68.5L330.5 76.1A168 168 0 0 0 329.7 75.8ZM332.9 68.5A176 176 0 0 1 333.8 68.7L331 77.3A167 167 0 0 0 330.2 77ZM333.8 68.7A176 176 0 0 1 335.5 69.3L332.9 76.9A168 168 0 0 0 331.3 76.3ZM335.5 69.3A176 176 0 0 1 336.3 69.6L333.1 79.1A166 166 0 0 0 332.3 78.8ZM336.3 69.6A176 176 0 0 1 337.2 69.9L334.2 78.4A167 167 0 0 0 333.4 78.1ZM338 70.2A176 176 0 0 1 339.7 70.8L336.6 79.3A167 167 0 0 0 335 78.7ZM345.6 73.1A176 176 0 0 1 346.4 73.4L343 81.7A167 167 0 0 0 342.2 81.4ZM355.4 77.5A176 176 0 0 1 356.2 77.8L351 88.6A164 164 0 0 0 350.2 88.3ZM390.2 99.6A176 176 0 0 1 390.9 100.1L385.1 107.1A167 167 0 0 0 384.5 106.5ZM400.9 109.1A176 176 0 0 1 401.6 109.7L393.2 118.3A164 164 0 0 0 392.6 117.7ZM412.6 121.5A176 176 0 0 1 413.2 122.2L404.1 129.9A164 164 0 0 0 403.5 129.3ZM421.5 132.7A176 176 0 0 1 422.1 133.5L414.7 138.7A167 167 0 0 0 414.2 138ZM450.4 196A176 176 0 0 1 450.6 196.9L436 200.2A161 161 0 0 0 435.8 199.4Z" fill="#3a8a80"/>
<path d="M443.9 297.5A176 176 0 0 1 443.6 298.4L429.6 293.1A161 161 0 0 0 429.8 292.3ZM439.8 307.5A176 176 0 0 1 439.5 308.3L425.8 302.2A161 161 0 0 0 426.1 301.4ZM426.1 332.7A176 176 0 0 1 425.6 333.4L416.4 327.3A165 165 0 0 0 416.9 326.6ZM400.9 363A176 176 0 0 1 400.2 363.6L388.5 351.3A159 159 0 0 0 389.1 350.7ZM387.3 374.7A176 176 0 0 1 386.6 375.3L374.4 359.5A156 156 0 0 0 375 359ZM384.4 376.9A176 176 0 0 1 383.7 377.4L371.8 361.4A156 156 0 0 0 372.5 360.9ZM374.9 383.6A176 176 0 0 1 374.1 384.1L365.5 370.6A160 160 0 0 0 366.2 370.2ZM371.1 386A176 176 0 0 1 369.6 386.9L360.8 372.3A159 159 0 0 0 362.2 371.5ZM369.6 386.9A176 176 0 0 1 368.8 387.4L359.1 371A157 157 0 0 0 359.8 370.6ZM368.8 387.4A176 176 0 0 1 368 387.8L357.9 370.6A156 156 0 0 0 358.6 370.2ZM368 387.8A176 176 0 0 1 366.5 388.7L356 370.5A155 155 0 0 0 357.4 369.7ZM366.5 388.7A176 176 0 0 1 364.1 390.1L353.5 370.8A154 154 0 0 0 355.5 369.6ZM363.3 390.5A176 176 0 0 1 359.4 392.6L349.3 373A154 154 0 0 0 352.8 371.2ZM359.4 392.6A176 176 0 0 1 358.6 393L349.1 374.3A155 155 0 0 0 349.8 373.9ZM356.9 393.8A176 176 0 0 1 356.1 394.2L346.5 374.4A154 154 0 0 0 347.2 374.1ZM356.1 394.2A176 176 0 0 1 355.3 394.6L346.2 375.7A155 155 0 0 0 346.9 375.3ZM355.3 394.6A176 176 0 0 1 354.5 395L345.1 375.1A154 154 0 0 0 345.8 374.8ZM354.5 395A176 176 0 0 1 353.7 395.4L344.8 376.3A155 155 0 0 0 345.5 376ZM353.7 395.4A176 176 0 0 1 350.4 396.8L341.5 376.7A154 154 0 0 0 344.4 375.4ZM349.6 397.2A176 176 0 0 1 348.8 397.6L340.1 377.4A154 154 0 0 0 340.8 377.1ZM347.2 398.3A176 176 0 0 1 346.3 398.6L338.3 379.2A155 155 0 0 0 339 378.9ZM346.3 398.6A176 176 0 0 1 345.5 399L337.2 378.6A154 154 0 0 0 337.9 378.3ZM344.7 399.3A176 176 0 0 1 343.8 399.6L335.7 379.2A154 154 0 0 0 336.5 378.9ZM343.8 399.6A176 176 0 0 1 343 400L335.4 380.4A155 155 0 0 0 336.1 380.1ZM343 400A176 176 0 0 1 342.2 400.3L335 381.6A156 156 0 0 0 335.7 381.3ZM341.3 400.6A176 176 0 0 1 339.6 401.2L332.4 381.5A155 155 0 0 0 333.9 381ZM338.8 401.5A176 176 0 0 1 337.9 401.8L330.9 382A155 155 0 0 0 331.7 381.8ZM337.9 401.8A176 176 0 0 1 337.1 402.1L330.8 384.2A157 157 0 0 0 331.6 383.9ZM337.1 402.1A176 176 0 0 1 336.3 402.4L329.7 383.5A156 156 0 0 0 330.5 383.3ZM336.3 402.4A176 176 0 0 1 335.4 402.7L329.3 384.7A157 157 0 0 0 330.1 384.5ZM334.6 403A176 176 0 0 1 333.7 403.3L328.1 386.2A158 158 0 0 0 328.9 385.9ZM333.7 403.3A176 176 0 0 1 332.8 403.6L327 385.5A157 157 0 0 0 327.8 385.2ZM285.2 411.9A176 176 0 0 1 284.4 411.9L283.7 390.9A155 155 0 0 0 284.5 390.9ZM270 411.8A176 176 0 0 1 269.1 411.7L270.2 392.8A157 157 0 0 0 271 392.8ZM251.3 409.8A176 176 0 0 1 250.4 409.7L253.5 390.9A157 157 0 0 0 254.3 391ZM236.3 406.7A176 176 0 0 1 235.4 406.5L239.4 391A160 160 0 0 0 240.2 391.2ZM180.8 382.1A176 176 0 0 1 180.1 381.6L187.9 370A162 162 0 0 0 188.6 370.4ZM146.6 351.9A176 176 0 0 1 146 351.2L152.8 345.3A167 167 0 0 0 153.3 346ZM145.4 350.5A176 176 0 0 1 144.8 349.9L152.4 343.4A166 166 0 0 0 153 344ZM128.5 327.3A176 176 0 0 1 128.1 326.5L145.2 316.3A156 156 0 0 0 145.6 316.9ZM106 268.1A176 176 0 0 1 105.8 267.2L121.5 264.4A160 160 0 0 0 121.7 265.2ZM104.9 261.9A176 176 0 0 1 104.8 261L125.6 258A155 155 0 0 0 125.7 258.8ZM103.7 252.1A176 176 0 0 1 103.7 251.2L120.6 249.7A159 159 0 0 0 120.7 250.5ZM103.5 249.4A176 176 0 0 1 103.4 248.5L118.4 247.4A161 161 0 0 0 118.5 248.3ZM114.4 173.6A176 176 0 0 1 114.7 172.8L123.1 176A167 167 0 0 0 122.8 176.8ZM131 140.8A176 176 0 0 1 131.5 140.1L137.3 143.9A169 169 0 0 0 136.9 144.6ZM163.1 103.5A176 176 0 0 1 163.8 103L172.3 112.8A163 163 0 0 0 171.7 113.3ZM215.9 71.7A176 176 0 0 1 216.7 71.4L219.9 79.8A167 167 0 0 0 219.1 80.1ZM348.1 74.1A176 176 0 0 1 348.9 74.5L344.5 84.6A165 165 0 0 0 343.7 84.2ZM390.9 100.1A176 176 0 0 1 391.6 100.7L385.2 108.4A166 166 0 0 0 384.5 107.8ZM416.1 125.6A176 176 0 0 1 416.6 126.3L408.8 132.5A166 166 0 0 0 408.3 131.9ZM438.7 162.1A176 176 0 0 1 439.1 162.9L429.1 167.5A165 165 0 0 0 428.8 166.7Z" fill="#d35b45"/>
<path d="M406.6 357.3A176 176 0 0 1 405.9 357.9L394.4 346.8A160 160 0 0 0 395 346.2ZM373.4 384.6A176 176 0 0 1 372.6 385L365.2 373.2A162 162 0 0 0 365.9 372.7ZM287 411.8A176 176 0 0 1 286.1 411.9L285.3 390.9A155 155 0 0 0 286.1 390.8ZM261.9 411.2A176 176 0 0 1 261 411.1L263 392.2A157 157 0 0 0 263.8 392.3ZM228.5 404.6A176 176 0 0 1 227.7 404.3L232.3 389A160 160 0 0 0 233.1 389.3ZM221.7 402.4A176 176 0 0 1 220.8 402.1L225.8 388A161 161 0 0 0 226.6 388.2ZM186.9 386A176 176 0 0 1 186.1 385.5L194.5 371.9A160 160 0 0 0 195.2 372.3ZM152.6 358.5A176 176 0 0 1 152 357.9L161.4 348.9A163 163 0 0 0 162 349.5ZM143.1 347.8A176 176 0 0 1 142.5 347.1L151 340.2A165 165 0 0 0 151.6 340.8ZM121.2 313.9A176 176 0 0 1 120.8 313.1L136.1 305.7A159 159 0 0 0 136.4 306.4ZM120.4 312.3A176 176 0 0 1 120 311.5L135.4 304.2A159 159 0 0 0 135.7 305ZM108 277.7A176 176 0 0 1 107.8 276.9L122.4 273.4A161 161 0 0 0 122.6 274.2ZM103.4 224.3A176 176 0 0 1 103.5 223.4L111.4 224A168 168 0 0 0 111.4 224.8ZM108.3 193.3A176 176 0 0 1 108.9 190.7L117.6 193A167 167 0 0 0 117 195.5ZM108.9 190.7A176 176 0 0 1 109.2 189.8L118.8 192.5A166 166 0 0 0 118.6 193.3ZM109.2 189.8A176 176 0 0 1 109.4 189L118.1 191.4A167 167 0 0 0 117.8 192.2ZM109.6 188.1A176 176 0 0 1 110.1 186.4L117.8 188.6A168 168 0 0 0 117.3 190.3ZM110.4 185.5A176 176 0 0 1 110.7 184.7L118.3 187A168 168 0 0 0 118.1 187.8ZM110.7 184.7A176 176 0 0 1 110.9 183.8L117.6 185.9A169 169 0 0 0 117.4 186.7ZM110.9 183.8A176 176 0 0 1 111.7 181.2L120.3 184A167 167 0 0 0 119.5 186.5ZM112 180.4A176 176 0 0 1 112.3 179.5L121.8 182.7A166 166 0 0 0 121.5 183.5ZM112.3 179.5A176 176 0 0 1 112.6 178.7L123 182.3A165 165 0 0 0 122.7 183.1ZM112.9 177.8A176 176 0 0 1 113.2 177L121.7 180A167 167 0 0 0 121.4 180.8ZM113.2 177A176 176 0 0 1 113.5 176.1L121 178.9A168 168 0 0 0 120.7 179.7ZM113.5 176.1A176 176 0 0 1 114.1 174.5L122.5 177.6A167 167 0 0 0 122 179.2ZM114.1 174.5A176 176 0 0 1 114.4 173.6L123.8 177.2A166 166 0 0 0 123.5 177.9ZM115.4 171.1A176 176 0 0 1 116.4 168.6L125.7 172.4A166 166 0 0 0 124.7 174.8ZM116.4 168.6A176 176 0 0 1 117.1 167L127.2 171.3A165 165 0 0 0 126.6 172.8ZM117.5 166.1A176 176 0 0 1 117.8 165.3L127.9 169.7A165 165 0 0 0 127.6 170.5ZM118.2 164.5A176 176 0 0 1 118.6 163.7L126.8 167.4A167 167 0 0 0 126.4 168.1ZM118.6 163.7A176 176 0 0 1 118.9 162.8L126.2 166.2A168 168 0 0 0 125.8 167ZM119.7 161.2A176 176 0 0 1 120.8 158.8L129.8 163.2A166 166 0 0 0 128.7 165.5ZM120.8 158.8A176 176 0 0 1 121.6 157.2L129.7 161.2A167 167 0 0 0 128.9 162.7ZM121.6 157.2A176 176 0 0 1 122 156.4L131 160.9A166 166 0 0 0 130.6 161.7ZM122.9 154.8A176 176 0 0 1 123.7 153.2L132.5 157.9A166 166 0 0 0 131.7 159.4ZM123.7 153.2A176 176 0 0 1 124.1 152.4L134.7 158.1A164 164 0 0 0 134.3 158.8ZM124.1 152.4A176 176 0 0 1 124.6 151.6L134.2 156.9A165 165 0 0 0 133.8 157.6ZM124.6 151.6A176 176 0 0 1 125.4 150L134.1 154.9A166 166 0 0 0 133.3 156.4ZM125.4 150A176 176 0 0 1 125.9 149.3L135.4 154.7A165 165 0 0 0 135 155.4ZM125.9 149.3A176 176 0 0 1 126.3 148.5L135 153.5A166 166 0 0 0 134.6 154.2ZM126.3 148.5A176 176 0 0 1 126.8 147.7L136.3 153.2A165 165 0 0 0 135.8 153.9ZM126.8 147.7A176 176 0 0 1 127.2 146.9L135.8 152A166 166 0 0 0 135.4 152.7ZM127.7 146.2A176 176 0 0 1 128.1 145.4L137.6 151A165 165 0 0 0 137.1 151.8ZM128.1 145.4A176 176 0 0 1 128.6 144.6L137.1 149.8A166 166 0 0 0 136.7 150.5ZM129.5 143.1A176 176 0 0 1 130.5 141.6L137.2 145.9A168 168 0 0 0 136.3 147.3ZM130.5 141.6A176 176 0 0 1 131 140.8L136.9 144.6A169 169 0 0 0 136.4 145.3ZM131.5 140.1A176 176 0 0 1 133.4 137.1L139.2 141A169 169 0 0 0 137.3 143.9ZM133.4 137.1A176 176 0 0 1 133.9 136.3L140.5 140.9A168 168 0 0 0 140.1 141.6ZM133.9 136.3A176 176 0 0 1 134.5 135.6L140.2 139.6A169 169 0 0 0 139.7 140.3ZM134.5 135.6A176 176 0 0 1 135 134.8L141.5 139.4A168 168 0 0 0 141 140.1ZM135 134.8A176 176 0 0 1 135.5 134.1L142.8 139.3A167 167 0 0 0 142.3 140ZM135.5 134.1A176 176 0 0 1 136 133.4L144.1 139.2A166 166 0 0 0 143.6 139.9ZM136 133.4A176 176 0 0 1 136.5 132.7L145.4 139.1A165 165 0 0 0 144.9 139.8ZM136.5 132.7A176 176 0 0 1 137.6 131.2L147.2 138.4A164 164 0 0 0 146.2 139.7ZM137.6 131.2A176 176 0 0 1 138.1 130.5L146.9 137.1A165 165 0 0 0 146.4 137.8ZM138.1 130.5A176 176 0 0 1 138.7 129.8L148.2 137A164 164 0 0 0 147.7 137.7ZM138.7 129.8A176 176 0 0 1 139.8 128.3L147.7 134.5A166 166 0 0 0 146.6 135.8ZM140.3 127.6A176 176 0 0 1 140.9 126.9L149.5 133.7A165 165 0 0 0 149 134.4ZM141.4 126.2A176 176 0 0 1 142.6 124.8L149.5 130.5A167 167 0 0 0 148.5 131.8ZM142.6 124.8A176 176 0 0 1 143.1 124.1L150.8 130.5A166 166 0 0 0 150.3 131.1ZM143.1 124.1A176 176 0 0 1 143.7 123.4L150.6 129.2A167 167 0 0 0 150.1 129.9ZM144.8 122.1A176 176 0 0 1 146 120.7L154.3 127.9A165 165 0 0 0 153.2 129.2ZM146 120.7A176 176 0 0 1 146.6 120L154.1 126.6A166 166 0 0 0 153.6 127.3ZM146.6 120A176 176 0 0 1 147.2 119.4L156.2 127.3A164 164 0 0 0 155.6 127.9ZM147.2 119.4A176 176 0 0 1 147.8 118.7L156 126A165 165 0 0 0 155.4 126.6ZM148.4 118A176 176 0 0 1 150.2 116L158.3 123.5A165 165 0 0 0 156.6 125.4ZM150.2 116A176 176 0 0 1 150.8 115.4L159.6 123.6A164 164 0 0 0 159 124.2ZM150.8 115.4A176 176 0 0 1 151.4 114.7L160.9 123.7A163 163 0 0 0 160.3 124.3ZM151.4 114.7A176 176 0 0 1 152.1 114.1L160.7 122.4A164 164 0 0 0 160.1 123ZM152.1 114.1A176 176 0 0 1 153.9 112.2L163.2 121.3A163 163 0 0 0 161.4 123.1ZM153.9 112.2A176 176 0 0 1 154.6 111.5L162.4 119.3A165 165 0 0 0 161.8 119.9ZM154.6 111.5A176 176 0 0 1 155.2 110.9L164.4 120.1A163 163 0 0 0 163.8 120.7ZM155.2 110.9A176 176 0 0 1 155.9 110.3L163.6 118.1A165 165 0 0 0 163 118.7ZM155.9 110.3A176 176 0 0 1 156.5 109.6L164.9 118.2A164 164 0 0 0 164.3 118.8ZM158.4 107.8A176 176 0 0 1 159.1 107.2L168 116.7A163 163 0 0 0 167.4 117.2ZM202.7 77.4A176 176 0 0 1 203.5 77L212.1 95.1A156 156 0 0 0 211.4 95.4ZM203.5 77A176 176 0 0 1 204.3 76.6L212.4 93.8A157 157 0 0 0 211.6 94.2ZM254 61.8A176 176 0 0 1 254.9 61.7L256.8 75.5A162 162 0 0 0 256 75.6ZM267.4 60.4A176 176 0 0 1 268.3 60.3L269.1 73.3A163 163 0 0 0 268.2 73.4ZM304.1 61.8A176 176 0 0 1 305 61.9L304 68.9A169 169 0 0 0 303.1 68.7ZM308.5 62.5A176 176 0 0 1 309.4 62.6L308.2 69.5A169 169 0 0 0 307.4 69.4ZM320 64.8A176 176 0 0 1 320.8 65L318.5 74.8A166 166 0 0 0 317.6 74.6ZM385.9 96.2A176 176 0 0 1 386.7 96.8L379.9 105.5A165 165 0 0 0 379.3 105ZM416.6 126.3A176 176 0 0 1 417.2 127L410.1 132.6A167 167 0 0 0 409.6 131.9ZM417.7 127.7A176 176 0 0 1 418.3 128.4L409.6 135.2A165 165 0 0 0 409.1 134.5ZM419.4 129.9A176 176 0 0 1 419.9 130.6L412.7 136A167 167 0 0 0 412.2 135.3ZM429 143.9A176 176 0 0 1 429.5 144.7L422.6 148.9A168 168 0 0 0 422.2 148.1ZM435.6 155.7A176 176 0 0 1 436 156.5L429.8 159.6A169 169 0 0 0 429.4 158.9ZM436 156.5A176 176 0 0 1 436.4 157.3L428.4 161.3A167 167 0 0 0 428 160.5Z" fill="#2c6677"/>
<path d="M332.8 403.6A176 176 0 0 1 332 403.8L326.3 385.7A157 157 0 0 0 327 385.5ZM332 403.8A176 176 0 0 1 331.1 404.1L324.9 384A155 155 0 0 0 325.7 383.8ZM330.3 404.4A176 176 0 0 1 329.4 404.6L323.1 383.5A154 154 0 0 0 323.9 383.3ZM329.4 404.6A176 176 0 0 1 327.7 405.1L321.9 384.9A155 155 0 0 0 323.4 384.5ZM327.7 405.1A176 176 0 0 1 326.8 405.4L321.7 387.1A157 157 0 0 0 322.4 386.9ZM326 405.6A176 176 0 0 1 325.1 405.9L320.6 389.4A159 159 0 0 0 321.4 389.2ZM325.1 405.9A176 176 0 0 1 324.2 406.1L319.6 388.7A158 158 0 0 0 320.4 388.5ZM323.4 406.3A176 176 0 0 1 322.5 406.5L317.6 387.2A156 156 0 0 0 318.3 387ZM322.5 406.5A176 176 0 0 1 320.8 407L315.8 386.6A155 155 0 0 0 317.3 386.2ZM320.8 407A176 176 0 0 1 319.9 407.2L314.8 385.8A154 154 0 0 0 315.5 385.6ZM319 407.4A176 176 0 0 1 318.1 407.6L313.2 386.1A154 154 0 0 0 314 386ZM318.1 407.6A176 176 0 0 1 317.3 407.8L312.7 387.3A155 155 0 0 0 313.5 387.1ZM317.3 407.8A176 176 0 0 1 316.4 408L312.1 388.4A156 156 0 0 0 312.9 388.3ZM316.4 408A176 176 0 0 1 315.5 408.2L311.1 387.6A155 155 0 0 0 311.9 387.5ZM315.5 408.2A176 176 0 0 1 312.9 408.7L308.6 387.1A154 154 0 0 0 310.9 386.7ZM312.9 408.7A176 176 0 0 1 312 408.9L308 388.3A155 155 0 0 0 308.8 388.1ZM312 408.9A176 176 0 0 1 311.1 409L307.5 389.4A156 156 0 0 0 308.2 389.2ZM311.1 409A176 176 0 0 1 308.4 409.5L305.3 390.8A157 157 0 0 0 307.6 390.4ZM308.4 409.5A176 176 0 0 1 307.6 409.7L304.3 389.9A156 156 0 0 0 305.1 389.8ZM307.6 409.7A176 176 0 0 1 306.7 409.8L303.4 389.1A155 155 0 0 0 304.2 388.9ZM306.7 409.8A176 176 0 0 1 305.8 409.9L302.7 390.2A156 156 0 0 0 303.5 390.1ZM305.8 409.9A176 176 0 0 1 304.9 410.1L302.1 391.3A157 157 0 0 0 302.9 391.2ZM304.9 410.1A176 176 0 0 1 304 410.2L301 389.4A155 155 0 0 0 301.8 389.3ZM304 410.2A176 176 0 0 1 301.3 410.6L298.6 388.8A154 154 0 0 0 300.9 388.4ZM301.3 410.6A176 176 0 0 1 300.5 410.7L297.9 389.8A155 155 0 0 0 298.7 389.7ZM300.5 410.7A176 176 0 0 1 299.6 410.8L297 388.9A154 154 0 0 0 297.8 388.9ZM299.6 410.8A176 176 0 0 1 298.7 410.9L296.4 391A156 156 0 0 0 297.2 390.9ZM298.7 410.9A176 176 0 0 1 297.8 411L295.5 390.1A155 155 0 0 0 296.3 390ZM296.9 411.1A176 176 0 0 1 296 411.2L294 390.3A155 155 0 0 0 294.8 390.2ZM296 411.2A176 176 0 0 1 294.2 411.3L292.3 389.4A154 154 0 0 0 293.9 389.3ZM294.2 411.3A176 176 0 0 1 293.3 411.4L291.6 390.5A155 155 0 0 0 292.4 390.4ZM293.3 411.4A176 176 0 0 1 292.4 411.5L290.7 389.6A154 154 0 0 0 291.5 389.5ZM291.5 411.6A176 176 0 0 1 290.6 411.6L289.2 390.7A155 155 0 0 0 290 390.6ZM290.6 411.6A176 176 0 0 1 289.7 411.7L288.5 391.7A156 156 0 0 0 289.3 391.7ZM289.7 411.7A176 176 0 0 1 288.8 411.7L287.7 390.8A155 155 0 0 0 288.5 390.7ZM288.8 411.7A176 176 0 0 1 287.9 411.8L286.8 389.8A154 154 0 0 0 287.6 389.8ZM287.9 411.8A176 176 0 0 1 287 411.8L286.1 390.8A155 155 0 0 0 286.9 390.8ZM286.1 411.9A176 176 0 0 1 285.2 411.9L284.5 389.9A154 154 0 0 0 285.3 389.9ZM284.4 411.9A176 176 0 0 1 283.5 411.9L282.9 390A154 154 0 0 0 283.7 389.9ZM283.5 411.9A176 176 0 0 1 282.6 412L282.1 391A155 155 0 0 0 282.9 391ZM282.6 412A176 176 0 0 1 281.7 412L281.4 392A156 156 0 0 0 282.2 392ZM281.7 412A176 176 0 0 1 280.8 412L280.6 393A157 157 0 0 0 281.4 393ZM280.8 412A176 176 0 0 1 279.9 412L279.8 394A158 158 0 0 0 280.6 394ZM279.9 412A176 176 0 0 1 279 412L279 395A159 159 0 0 0 279.8 395ZM278.1 412A176 176 0 0 1 277.2 412L277.3 395A159 159 0 0 0 278.2 395ZM277.2 412A176 176 0 0 1 275.4 412L275.7 396A160 160 0 0 0 277.3 396ZM275.4 412A176 176 0 0 1 274.5 411.9L274.9 396.9A161 161 0 0 0 275.7 397ZM274.5 411.9A176 176 0 0 1 273.6 411.9L274.1 395.9A160 160 0 0 0 274.9 395.9ZM272.7 411.9A176 176 0 0 1 271.8 411.9L272.5 394.9A159 159 0 0 0 273.3 394.9ZM271.8 411.9A176 176 0 0 1 270 411.8L270.9 393.8A158 158 0 0 0 272.5 393.9ZM269.1 411.7A176 176 0 0 1 267.3 411.6L268.6 392.7A157 157 0 0 0 270.2 392.8ZM267.3 411.6A176 176 0 0 1 266.4 411.5L267.8 391.6A156 156 0 0 0 268.6 391.7ZM266.4 411.5A176 176 0 0 1 265.5 411.5L267 392.5A157 157 0 0 0 267.8 392.6ZM265.5 411.5A176 176 0 0 1 264.6 411.4L266.3 391.5A156 156 0 0 0 267 391.5ZM264.6 411.4A176 176 0 0 1 262.8 411.3L264.8 390.3A155 155 0 0 0 266.3 390.5ZM262.8 411.3A176 176 0 0 1 261.9 411.2L263.9 391.3A156 156 0 0 0 264.7 391.3ZM261 411.1A176 176 0 0 1 258.4 410.8L260.6 391.9A157 157 0 0 0 263 392.2ZM258.4 410.8A176 176 0 0 1 256.6 410.6L259.1 390.7A156 156 0 0 0 260.7 390.9ZM255.7 410.5A176 176 0 0 1 254.8 410.3L257.3 392.5A158 158 0 0 0 258.1 392.6Z" fill="#d77f6b"/>
</g>
<rect x="523.9" y="232" width="27.4" height="15.8" rx="3" fill="#1b4e9b"/>
<text x="558" y="245.6" font-size="15" fill="#1b4e9b">PA1</text>
<rect x="523.9" y="253.33" width="27.4" height="15.8" rx="3" fill="#3a7fc0"/>
<text x="558" y="266.93" font-size="15" fill="#3a7fc0">PA2</text>
<rect x="523.9" y="274.66" width="27.4" height="15.8" rx="3" fill="#e89c85"/>
<text x="558" y="288.26" font-size="15" fill="#e89c85">SPT1</text>
<rect x="523.9" y="295.99" width="27.4" height="15.8" rx="3" fill="#e07b62"/>
<text x="558" y="309.59" font-size="15" fill="#e07b62">SPT2</text>
<rect x="523.9" y="317.32" width="27.4" height="15.8" rx="3" fill="#41a050"/>
<text x="558" y="330.92" font-size="15" fill="#41a050">PB</text>
<rect x="523.9" y="338.65" width="27.4" height="15.8" rx="3" fill="#dd6a2a"/>
<text x="558" y="352.25" font-size="15" fill="#dd6a2a">Iodent</text>
<rect x="523.9" y="359.98" width="27.4" height="15.8" rx="3" fill="#137e96"/>
<text x="558" y="373.58" font-size="15" fill="#137e96">Lancaster 1</text>
<rect x="523.9" y="381.31" width="27.4" height="15.8" rx="3" fill="#18a3a7"/>
<text x="558" y="394.91" font-size="15" fill="#18a3a7">Lancaster 2</text>
<rect x="523.9" y="402.64" width="27.4" height="15.8" rx="3" fill="#b3d8dc"/>
<text x="558" y="416.24" font-size="15" fill="#b3d8dc">Zi330</text>
<rect x="523.9" y="423.97" width="27.4" height="15.8" rx="3" fill="#a07ab0"/>
<text x="558" y="437.57" font-size="15" fill="#a07ab0">Amargo</text>
<rect x="523.9" y="445.3" width="27.4" height="15.8" rx="3" fill="#7a4e8b"/>
<text x="558" y="458.9" font-size="15" fill="#7a4e8b">BSSS</text>
<g stroke="#6d6e71" stroke-width="1" fill="none">
<path d="M761.4 73.2V397.2"/>
<path d="M753.6 73.2H761.4"/>
<path d="M753.6 127.2H761.4"/>
<path d="M753.6 181.2H761.4"/>
<path d="M753.6 235.2H761.4"/>
<path d="M753.6 289.2H761.4"/>
<path d="M753.6 343.2H761.4"/>
<path d="M753.6 397.2H761.4"/>
<path d="M765.7 421.8H1133.2"/>
<path d="M765.7 421.8V429.1"/>
<path d="M818.2 421.8V429.1"/>
<path d="M870.7 421.8V429.1"/>
<path d="M923.2 421.8V429.1"/>
<path d="M975.7 421.8V429.1"/>
<path d="M1028.2 421.8V429.1"/>
<path d="M1080.7 421.8V429.1"/>
<path d="M1133.2 421.8V429.1"/>
</g>
<g font-size="15" fill="#231f20">
<text x="747.8" y="78.6" text-anchor="end">0.06</text>
<text x="747.8" y="132.6" text-anchor="end">0.04</text>
<text x="747.8" y="186.6" text-anchor="end">0.02</text>
<text x="747.8" y="240.6" text-anchor="end">0</text>
<text x="747.8" y="294.6" text-anchor="end">−0.02</text>
<text x="747.8" y="348.6" text-anchor="end">−0.04</text>
<text x="747.8" y="402.6" text-anchor="end">−0.06</text>
<text x="765.7" y="447.6" text-anchor="middle">−0.04</text>
<text x="818.2" y="447.6" text-anchor="middle">−0.02</text>
<text x="870.7" y="447.6" text-anchor="middle">0</text>
<text x="923.2" y="447.6" text-anchor="middle">0.02</text>
<text x="975.7" y="447.6" text-anchor="middle">0.04</text>
<text x="1028.2" y="447.6" text-anchor="middle">0.06</text>
<text x="1080.7" y="447.6" text-anchor="middle">0.08</text>
<text x="1133.2" y="447.6" text-anchor="middle">0.10</text>
<text x="949" y="470" text-anchor="middle">PC1</text>
<text transform="translate(692.3 235) rotate(-90)" text-anchor="middle">PC2</text>
</g>
<path d="M1007.1 220.2h0M1015.0 223.3h0M1015.7 227.2h0M1005.5 227.2h0M1006.3 232.0h0M1000.8 227.2h0M1000.8 239.8h0M1008.7 240.6h0M1012.6 242.2h0M1018.9 233.5h0M1023.6 228.8h0M1026.0 233.5h0M1031.5 222.5h0M1032.3 230.4h0M1034.6 234.3h0M1029.1 239.8h0M1029.9 242.2h0M1035.4 242.2h0M1038.6 234.3h0M1040.9 230.4h0M1042.5 219.1h0M1048.8 231.2h0M1051.2 235.1h0M1050.4 223.3h0M1054.3 221.3h0M1055.9 228.8h0M1062.2 224.9h0M1055.1 241.4h0M1059.8 238.3h0M1066.1 238.3h0M1066.1 241.4h0M1070.9 242.2h0M1074.0 242.2h0M1075.6 244.6h0M1078.7 239.8h0M1081.9 243.0h0M1081.1 254.0h0M1078.0 257.2h0M1074.0 261.1h0M1087.4 259.5h0M1101.6 254.0h0M1103.1 251.7h0M1109.4 239.8h0M1126.0 254.0h0M1085.0 284.7h0M1006.3 261.6h0M1042.5 261.9h0M1048.0 258.0h0M1052.0 256.4h0M1053.5 256.4h0M1055.1 265.8h0M1064.6 264.3h0M1004.7 272.9h0M1010.2 285.2h0M1031.5 286.3h0M1030.0 341.1h0M925.0 221.0h0M941.5 232.0h0M953.5 231.4h0M969.1 231.4h0M959.4 239.8h0M933.3 249.4h0M940.6 257.7h0M943.4 263.2h0M944.3 264.1h0M946.1 253.1h0M953.5 251.2h0M958.1 249.4h0M959.4 253.1h0M964.5 246.6h0M970.0 255.3h0M948.0 270.5h0M948.9 275.1h0M937.0 283.4h0M933.8 299.4h0M938.8 317.4h0M967.8 288.3h0M977.4 305.4h0M961.4 320.5h0M943.4 343.6h0M985.6 241.1h0M993.9 244.3h0M986.6 228.3h0M993.0 231.9h0M1000.3 239.8h0M1006.8 220.0h0M1015.0 222.8h0M1006.8 227.3h0M1006.8 232.9h0M1008.6 240.2h0M1012.3 242.0h0M1006.8 261.9h0M1004.9 272.4h0M991.7 281.5h0M1010.4 285.2h0M997.6 222.8h0M915.3 214.4h0M924.8 220.3h0M941.3 231.5h0M953.1 231.5h0M968.5 231.5h0M972.6 211.2h0M977.9 211.2h0M983.2 210.2h0M983.8 215.5h0M990.3 203.7h0M986.8 228.0h0M992.7 231.5h0M996.8 223.2h0M915.1 214.5h0M933.5 299.2h0M938.7 317.6h0M943.3 343.8h0M960.0 320.8h0" stroke="#e89c85" stroke-width="6" stroke-linecap="round" fill="none"/><path d="M1021.3 199.7h0M1013.4 219.4h0M1045.7 226.5h0M1043.3 236.7h0M1057.5 246.9h0M1060.6 249.3h0M1061.4 251.7h0M1069.3 244.6h0M1078.0 248.5h0M1067.7 253.2h0M1087.4 253.2h0M1082.7 263.5h0M1095.3 246.1h0M1097.6 241.4h0M1095.3 255.6h0M1107.1 247.7h0M1110.2 249.3h0M1111.0 254.0h0M1114.2 250.1h0M1110.2 257.2h0M1118.9 258.0h0M1123.6 257.2h0M1127.6 245.4h0M1126.0 249.3h0M1129.9 251.7h0M1133.1 252.4h0M1130.7 253.2h0M1144.1 252.8h0M1099.2 266.6h0M1099.2 274.2h0M1103.9 272.1h0M1018.1 259.5h0M1016.5 263.5h0M1031.5 264.3h0M1022.8 272.9h0M1049.6 272.4h0M1006.3 295.0h0M977.4 233.2h0M925.0 257.7h0M898.4 261.9h0M949.8 262.3h0M986.6 261.3h0M1017.8 259.5h0M1016.9 263.7h0M1005.8 294.8h0M1002.2 311.9h0M967.8 348.6h0M977.3 233.3h0M898.2 261.7h0" stroke="#e07b62" stroke-width="6" stroke-linecap="round" fill="none"/><path d="M786.0 243.3h0M789.7 241.8h0M796.5 244.4h0M800.7 244.9h0M803.8 243.9h0M809.1 242.3h0M812.2 241.2h0M814.3 239.7h0M784.4 244.4h0M789.1 246.5h0M792.3 248.6h0M796.5 248.6h0M799.6 248.6h0M803.8 249.6h0M808.0 248.6h0M811.2 247.5h0M791.2 252.8h0M794.4 251.7h0M797.5 252.8h0M800.7 252.8h0M807.0 251.7h0M810.1 251.7h0M789.1 256.0h0M792.3 257.0h0M795.4 256.0h0M786.0 258.0h0M782.8 259.1h0M780.7 260.1h0M788.1 260.1h0M791.2 261.2h0M794.4 259.1h0M781.8 263.3h0M785.0 264.3h0M788.1 263.3h0M791.2 264.3h0M780.7 266.4h0M783.9 267.5h0M787.0 266.4h0M790.2 267.5h0M793.3 268.5h0M796.5 268.5h0M799.6 269.6h0M782.8 271.7h0M786.0 272.7h0M789.1 271.7h0M792.3 273.8h0M795.4 271.7h0M781.8 274.8h0M783.9 276.9h0M787.0 275.9h0M777.6 278.0h0M776.5 281.1h0M780.7 280.1h0M782.8 282.2h0M775.5 285.3h0M777.6 287.4h0M780.7 287.4h0M783.4 285.3h0M815.4 256.0h0M817.5 259.1h0M816.4 262.2h0M819.6 261.2h0M821.7 264.3h0M823.8 266.4h0M825.9 261.2h0M829.0 260.1h0M815.4 249.6h0M817.5 251.7h0M819.6 252.8h0M823.8 252.8h0M826.9 249.6h0M830.1 250.7h0M830.1 254.9h0M832.2 257.0h0M785.0 250.0h0M782.0 254.0h0M802.0 256.0h0M798.0 262.0h0M841.6 258.4h0M843.2 260.4h0M836.3 255.7h0M844.5 257.5h0M844.1 252.1h0M840.2 253.5h0M804.9 261.2h0M805.4 264.3h0M804.9 287.4h0M799.6 293.7h0M814.9 277.0h0M822.2 278.0h0M814.3 222.3h0M813.3 228.6h0M806.5 225.5h0M824.8 229.7h0M839.5 224.4h0M838.5 253.8h0M841.6 254.9h0M833.2 271.7h0M816.7 177.6h0M813.1 186.7h0M795.6 208.3h0M814.9 212.5h0M842.5 161.0h0M822.3 197.8h0M833.1 272.2h0M877.2 242.8h0M804.7 287.6h0M799.4 295.5h0M811.0 317.5h0M816.8 343.3h0" stroke="#7a4e8b" stroke-width="6" stroke-linecap="round" fill="none"/><path d="M809.4 153.2h0M807.1 156.9h0M814.9 161.9h0M814.4 165.2h0M823.6 150.9h0M825.9 168.4h0M814.0 171.1h0M816.3 170.7h0M807.1 178.0h0M813.5 177.6h0M819.5 181.7h0M823.2 180.8h0M809.4 184.9h0M816.7 184.9h0M819.5 188.6h0M822.3 188.6h0M825.9 188.6h0M829.6 187.7h0M803.0 194.1h0M818.6 192.3h0M822.3 193.2h0M824.1 193.2h0M809.4 198.7h0M815.8 197.8h0M819.5 196.8h0M824.1 199.6h0M827.8 198.7h0M797.0 202.4h0M802.5 205.1h0M807.6 207.0h0M815.8 203.3h0M819.5 204.2h0M823.2 201.4h0M827.8 203.3h0M820.4 208.8h0M823.2 207.0h0M828.7 207.0h0M803.4 212.9h0M809.4 212.5h0M810.3 216.1h0M819.5 213.4h0M821.3 215.2h0M830.5 212.5h0M835.1 213.4h0M838.8 215.2h0M840.6 200.5h0M839.7 203.3h0M834.2 216.1h0M834.2 177.6h0M835.1 161.9h0M836.0 152.8h0M842.5 177.6h0M846.1 173.9h0M792.8 227.1h0M798.6 228.1h0M795.4 235.5h0M799.6 234.4h0M803.8 235.5h0M809.1 215.0h0M809.1 221.3h0M807.0 218.1h0M819.6 221.3h0M823.8 218.1h0M829.0 215.0h0M817.5 240.2h0M819.6 248.6h0M823.8 249.6h0M813.3 248.6h0M834.3 252.8h0M837.4 248.6h0M842.7 232.3h0M828.0 236.0h0M830.1 230.7h0M833.2 225.5h0M837.4 221.3h0M816.8 145.6h0M824.1 146.1h0M823.1 148.2h0M810.0 153.5h0M807.3 156.6h0M820.0 152.4h0M821.0 149.3h0M836.2 152.4h0M831.0 217.0h0M831.0 222.0h0M831.0 227.6h0M839.4 224.4h0M856.2 223.4h0M841.5 231.8h0M837.3 247.5h0M834.2 251.7h0M845.7 265.4h0M849.9 268.5h0M874.1 227.6h0M861.5 285.3h0M842.6 241.2h0M841.6 160.5h0M847.3 174.6h0M855.7 175.2h0M842.1 198.8h0M841.6 203.0h0M841.0 213.5h0M850.5 213.5h0M886.2 204.0h0M932.4 239.3h0M931.8 238.6h0M817.3 313.3h0M822.5 193.6h0M825.0 165.9h0M811.1 171.4h0M837.4 212.1h0M822.3 200.0h0M827.5 217.9h0M816.3 168.3h0M809.0 162.0h0M814.2 195.4h0M804.1 200.0h0M815.5 177.2h0M831.8 187.8h0M814.7 187.8h0M829.5 210.4h0M810.7 204.9h0M821.8 206.1h0M807.7 204.4h0M824.8 214.9h0M815.6 215.3h0M822.5 177.4h0M817.8 172.7h0M824.2 209.2h0M819.5 184.1h0M807.6 184.9h0M820.6 203.2h0M816.3 206.7h0M830.3 201.1h0M826.6 205.1h0M816.4 201.7h0M826.1 194.0h0" stroke="#a07ab0" stroke-width="6" stroke-linecap="round" fill="none"/><path d="M828.0 48.3h0M830.5 46.5h0M826.1 57.5h0M823.4 63.0h0M831.3 66.3h0M824.0 69.4h0M831.7 77.7h0M824.1 83.1h0M828.9 82.1h0M833.6 81.6h0M830.4 89.4h0M836.2 90.5h0M839.9 89.4h0M844.1 89.2h0M855.1 87.9h0M850.4 93.1h0M820.5 94.7h0M826.8 94.7h0M831.5 95.7h0M837.3 94.7h0M816.3 99.4h0M817.3 101.0h0M829.4 98.9h0M833.6 98.4h0M837.8 98.9h0M850.4 101.0h0M853.0 101.0h0M822.6 104.1h0M827.8 106.8h0M833.6 106.2h0M836.7 106.2h0M840.9 107.8h0M845.1 108.3h0M821.0 111.5h0M827.8 111.5h0M833.6 111.0h0M836.7 113.6h0M848.3 111.0h0M858.8 116.2h0M815.2 119.7h0M830.4 116.7h0M832.5 119.9h0M835.7 121.5h0M834.6 124.1h0M826.2 122.0h0M812.6 127.2h0M823.1 126.2h0M842.0 126.2h0M848.3 125.1h0M834.1 129.3h0M837.3 129.3h0M868.2 129.9h0M868.8 133.5h0M822.6 133.5h0M844.1 131.4h0M846.2 133.5h0M844.1 137.7h0M813.6 137.2h0M814.7 141.9h0M825.2 138.8h0M829.4 136.7h0M832.5 135.6h0M834.6 137.7h0M831.5 139.8h0M835.7 140.4h0M851.4 136.7h0M852.5 140.9h0M845.1 147.2h0M834.6 148.8h0M828.9 152.4h0M831.5 150.3h0M844.1 155.6h0M850.4 152.4h0M852.5 147.2h0M816.8 155.6h0M821.0 157.7h0M836.7 157.2h0M856.7 146.1h0M816.7 155.5h0M818.6 159.2h0M821.3 157.3h0M823.2 161.0h0M825.9 159.2h0M829.6 152.8h0M832.4 151.8h0M836.0 157.3h0M843.4 155.5h0M844.3 164.7h0M848.9 165.6h0M836.0 167.0h0M820.4 167.0h0M821.3 170.2h0M824.1 175.7h0M830.5 173.0h0M832.8 176.6h0M838.8 177.6h0M837.0 189.5h0M827.8 192.3h0M816.7 216.1h0M848.4 179.4h0M844.7 147.3h0M843.7 155.7h0M850.0 153.6h0M850.5 156.8h0M854.7 158.4h0M853.6 160.5h0M844.2 164.7h0M850.0 166.2h0M852.6 144.2h0M854.7 146.3h0M856.8 146.3h0M858.9 201.9h0M857.3 210.9h0M903.5 164.1h0M890.4 175.7h0M817.0 216.6h0M820.1 231.8h0M848.9 226.0h0M840.0 102.0h0M829.0 127.0h0M839.0 134.0h0M824.0 143.0h0" stroke="#dd6a2a" stroke-width="6" stroke-linecap="round" fill="none"/><path d="M808.0 229.7h0M827.0 244.4h0M834.3 239.1h0M837.4 237.0h0M830.1 267.5h0M823.8 280.1h0M824.8 283.2h0M811.2 289.5h0M829.0 289.5h0M835.2 238.1h0M836.3 240.2h0M845.7 254.9h0M857.8 256.0h0M871.5 255.4h0M868.8 265.9h0M845.7 274.8h0M853.1 274.3h0M874.1 280.1h0M885.1 281.7h0M866.2 284.3h0M843.6 285.3h0M841.5 288.5h0M848.9 288.5h0M905.6 268.5h0M906.6 265.4h0M894.6 289.5h0M831.0 268.5h0M811.5 289.2h0M813.1 296.0h0M810.5 306.0h0M804.7 313.9h0M811.5 312.3h0M802.6 326.0h0M800.5 330.1h0M803.6 328.0h0M809.4 324.4h0M814.1 319.6h0M817.3 320.7h0M820.4 322.8h0M821.5 316.5h0M824.6 312.3h0M826.7 302.8h0M828.8 299.7h0M825.7 305.0h0M829.9 308.1h0M832.0 306.0h0M827.8 316.5h0M830.9 315.4h0M833.0 317.5h0M834.1 320.7h0M829.9 290.2h0M828.8 287.1h0M838.3 295.5h0M839.3 299.7h0M844.6 293.4h0M846.7 289.2h0M848.8 286.0h0M852.0 297.6h0M846.7 308.1h0M848.8 310.2h0M845.6 317.5h0M852.0 315.4h0M858.2 315.4h0M861.4 316.5h0M862.4 297.6h0M863.5 299.7h0M861.4 326.0h0M828.3 328.0h0M836.7 330.1h0M846.7 332.2h0M847.2 336.4h0M855.1 330.1h0M857.2 333.3h0M821.5 337.5h0M824.6 337.5h0M826.7 337.5h0M815.2 339.1h0M835.1 336.4h0M844.6 342.7h0M848.8 345.9h0M839.3 348.0h0M801.5 349.0h0M803.6 354.8h0M813.1 349.6h0M821.5 356.4h0M847.7 357.4h0M834.1 355.3h0M801.3 349.2h0M803.9 355.0h0M813.4 349.2h0M813.9 351.3h0M816.0 355.5h0M820.2 355.5h0M821.2 358.6h0M816.0 363.9h0M818.1 366.0h0M816.0 370.2h0M809.2 379.6h0M820.2 376.5h0M822.3 375.4h0M824.4 383.8h0M828.6 384.9h0M831.7 387.0h0M834.9 387.5h0M838.0 387.0h0M841.2 385.4h0M844.3 383.8h0M847.5 383.3h0M849.6 383.3h0M816.0 388.6h0M824.4 394.3h0M828.6 396.4h0M823.3 398.5h0M829.6 400.6h0M830.7 402.7h0M827.5 405.4h0M834.9 355.5h0M833.8 358.6h0M839.1 348.7h0M841.2 349.2h0M848.5 357.6h0M849.6 346.0h0M820.2 369.1h0M822.3 370.2h0M871.2 293.9h0M875.1 295.9h0M873.1 299.8h0M884.3 302.5h0M873.1 306.4h0M872.5 311.0h0M875.1 311.0h0M882.3 309.0h0M885.6 314.3h0M875.7 318.2h0M861.3 316.2h0M862.0 326.1h0M862.6 297.9h0M875.7 331.3h0M904.6 321.5h0M892.8 345.1h0M925.0 344.5h0M935.5 358.2h0M894.8 290.0h0M906.1 268.7h0M885.1 281.5h0M895.1 289.8h0M917.7 284.3h0M924.1 279.2h0M884.0 302.7h0M882.2 309.7h0M885.1 314.6h0M904.8 321.0h0M892.5 344.9h0M925.0 344.4h0M935.1 357.8h0" stroke="#1b4e9b" stroke-width="6" stroke-linecap="round" fill="none"/><path d="M819.6 235.0h0M833.2 246.5h0M833.2 260.1h0M821.7 275.4h0M830.1 275.9h0M832.2 280.1h0M838.5 277.0h0M819.6 284.8h0M833.1 246.5h0M837.9 274.8h0M839.4 278.0h0M849.9 281.1h0M892.5 279.0h0M903.5 288.5h0M908.2 286.4h0M886.7 292.7h0M833.1 260.1h0M832.1 264.3h0M819.4 285.5h0M817.3 300.7h0M820.4 299.7h0M834.1 292.3h0M836.2 294.4h0M848.8 295.5h0M862.4 303.9h0M866.6 313.3h0M834.1 312.3h0M828.8 321.2h0M812.6 327.0h0M829.9 331.2h0M859.3 323.8h0M834.1 339.6h0M837.2 340.6h0M825.7 346.9h0M827.8 350.1h0M842.5 346.9h0M811.0 358.5h0M813.1 357.4h0M825.7 354.3h0M827.8 357.4h0M836.2 358.5h0M839.3 361.6h0M829.9 361.6h0M810.7 358.6h0M812.8 359.7h0M824.4 348.1h0M826.5 351.3h0M828.6 354.4h0M829.6 360.7h0M831.7 362.8h0M834.9 366.0h0M832.8 369.1h0M831.7 372.3h0M833.8 374.4h0M832.8 378.6h0M824.4 366.0h0M823.3 371.2h0M825.4 374.4h0M839.1 357.6h0M842.2 356.5h0M838.0 361.8h0M839.1 366.0h0M838.0 376.5h0M816.0 377.5h0M849.6 367.0h0M859.0 373.9h0M846.4 393.5h0M822.3 380.7h0M886.2 293.9h0M894.1 293.9h0M903.3 306.4h0M866.6 313.6h0M862.6 303.1h0M909.2 328.1h0M953.2 338.3h0M923.0 355.6h0M904.0 290.0h0M892.9 278.8h0M909.0 286.1h0M904.3 289.4h0M886.4 294.4h0M893.8 293.5h0M903.5 306.4h0M909.4 328.0h0M953.1 338.5h0M923.2 356.0h0M907.2 265.6h0" stroke="#3a7fc0" stroke-width="6" stroke-linecap="round" fill="none"/><path d="M833.2 237.0h0M840.1 265.9h0M838.5 287.4h0M853.1 233.4h0M833.1 237.0h0M848.9 248.1h0M856.2 244.9h0M855.2 246.5h0M864.6 239.1h0M866.7 242.8h0M868.8 237.0h0M869.9 241.2h0M858.3 252.3h0M853.1 254.9h0M856.2 262.2h0M858.3 261.2h0M849.4 263.3h0M840.5 266.4h0M854.1 268.5h0M861.0 272.7h0M866.7 274.8h0M869.9 269.6h0M873.0 272.7h0M876.2 270.6h0M877.8 270.6h0M879.3 276.9h0M870.9 280.1h0M876.2 282.2h0M845.7 279.0h0M856.2 279.0h0M859.4 281.1h0M857.3 283.2h0M866.7 289.5h0M852.6 287.4h0M838.4 286.4h0M840.5 288.5h0M889.8 282.2h0M897.2 285.3h0M896.1 257.0h0M908.2 259.1h0M908.7 249.6h0M861.5 291.6h0M858.3 293.7h0M830.9 298.6h0M836.2 289.2h0M839.3 287.1h0M840.4 301.8h0M840.4 311.2h0M852.0 288.1h0M859.3 293.4h0M863.5 291.3h0M866.6 289.2h0M858.2 300.7h0M853.0 306.0h0M856.1 308.1h0M860.3 310.2h0M863.5 309.1h0M867.7 309.1h0M847.7 321.7h0M850.9 320.7h0M864.5 318.6h0M845.6 328.0h0M856.1 331.2h0M867.7 330.1h0M851.9 336.4h0M859.3 338.5h0M855.1 342.7h0M864.5 342.7h0M827.8 341.7h0M832.5 348.0h0M846.7 351.1h0M853.0 348.0h0M859.3 348.0h0M863.0 351.0h0M866.0 352.0h0M864.0 356.0h0M867.0 356.0h0M865.0 359.0h0M862.0 354.0h0M858.2 362.7h0M832.8 348.1h0M846.4 351.3h0M849.6 350.2h0M852.7 349.2h0M858.0 348.1h0M861.1 350.2h0M840.7 368.1h0M858.5 363.9h0M865.9 366.5h0M863.2 370.2h0M864.3 373.3h0M862.2 376.5h0M866.4 376.5h0M863.2 378.6h0M872.2 383.8h0M847.5 354.4h0M880.3 299.2h0M895.4 298.5h0M906.6 295.2h0M934.1 291.3h0M926.9 290.0h0M932.2 307.7h0M928.2 316.9h0M861.3 309.7h0M868.5 309.0h0M870.5 316.9h0M865.2 318.2h0M880.3 313.6h0M888.2 327.4h0M900.0 328.7h0M867.9 329.4h0M866.6 331.3h0M881.7 336.6h0M865.2 342.5h0M862.0 348.0h0M866.0 349.0h0M864.0 353.0h0M868.0 355.0h0M862.0 357.0h0M866.0 358.0h0M865.9 366.8h0M863.0 370.0h0M866.0 372.0h0M864.0 376.0h0M867.0 378.0h0M871.8 383.8h0M910.9 249.8h0M895.6 256.7h0M908.5 259.1h0M937.3 265.0h0M937.9 272.4h0M938.8 273.3h0M946.5 279.2h0M927.8 280.6h0M928.7 280.3h0M926.8 288.9h0M929.6 288.0h0M934.2 290.7h0M897.1 285.6h0M906.6 295.0h0M895.6 298.6h0M932.4 308.2h0M928.1 317.0h0M888.3 326.9h0M900.6 328.4h0M881.8 336.7h0M880.0 277.0h0M889.2 283.4h0M967.8 247.9h0M851.5 198.8h0M867.3 212.4h0" stroke="#41a050" stroke-width="6" stroke-linecap="round" fill="none"/><path d="M851.8 199.0h0M869.0 210.8h0M884.3 224.6h0M897.6 222.8h0M876.0 208.2h0M904.1 225.7h0M876.2 227.1h0M888.3 197.3h0M918.5 192.3h0M900.8 215.4h0M907.2 202.2h0M898.9 187.0h0M895.9 220.6h0M896.9 215.4h0M882.8 208.8h0M866.8 212.2h0M885.0 168.5h0M873.8 164.2h0M864.9 150.4h0M884.5 183.1h0M895.0 203.1h0M871.1 186.0h0M877.9 150.4h0M890.3 179.2h0M892.8 238.0h0M909.9 186.8h0M909.5 208.0h0M877.6 160.5h0M893.9 200.6h0M894.8 180.4h0M858.8 200.8h0M896.3 231.7h0M878.1 188.0h0M867.3 174.7h0M921.0 183.1h0M921.6 194.1h0M880.9 177.3h0M871.6 192.3h0M859.8 206.1h0M882.9 174.8h0M907.3 225.5h0M870.3 161.7h0M894.8 192.1h0M897.4 204.4h0M905.7 175.6h0M872.4 197.3h0M904.6 203.1h0M883.8 234.1h0M914.9 198.8h0M881.8 201.7h0M902.0 207.1h0M878.8 184.2h0M872.3 225.9h0M901.0 188.1h0M871.6 221.2h0M885.4 199.2h0M886.8 178.4h0M862.1 202.7h0M867.6 224.9h0M908.0 210.0h0M897.5 237.5h0M880.8 162.3h0M858.8 183.0h0M856.2 152.5h0M892.4 217.5h0M918.6 182.5h0M855.0 213.2h0M887.4 233.5h0M891.0 206.0h0M870.0 199.4h0M869.3 218.3h0M867.9 182.3h0M857.1 210.5h0M857.6 158.9h0M914.1 192.6h0M874.3 222.7h0M867.1 158.0h0M867.9 178.7h0M912.3 196.2h0M904.3 184.6h0M858.0 150.2h0M884.9 231.5h0M895.6 187.7h0M884.5 156.5h0M862.1 162.1h0M869.3 173.4h0M862.6 174.3h0M867.9 192.8h0M900.5 211.0h0M859.5 210.5h0M872.0 211.1h0M867.6 154.4h0M877.2 176.6h0M903.7 215.2h0M862.8 169.9h0M880.5 151.3h0M868.5 151.8h0M873.0 151.9h0M863.9 195.3h0M880.0 197.5h0M857.1 176.8h0M917.3 203.8h0M878.1 206.4h0M903.2 233.7h0M873.1 189.7h0M857.3 220.4h0M910.0 176.7h0M860.3 154.8h0M877.9 156.4h0M905.2 199.8h0M870.3 224.1h0M855.7 163.1h0M860.4 180.9h0M881.9 181.4h0M893.1 225.6h0M859.5 177.1h0M882.3 188.9h0M906.3 235.9h0M853.4 201.8h0M879.3 167.5h0M870.9 166.1h0M876.3 170.6h0M912.2 205.7h0M910.9 193.6h0M858.1 215.2h0M900.2 229.0h0M887.8 202.7h0M864.3 184.0h0M873.8 149.6h0M873.5 183.4h0M885.3 213.8h0M909.7 234.8h0M889.6 222.9h0M877.1 203.4h0M899.9 196.6h0M871.5 154.4h0M857.3 180.8h0M902.4 176.1h0M905.2 210.6h0M900.5 226.6h0M921.2 198.7h0M879.1 163.9h0M900.6 199.6h0M902.5 182.5h0M873.0 172.4h0M863.1 207.1h0M855.5 200.8h0M871.2 204.5h0M864.2 165.1h0M893.8 208.4h0M855.4 193.0h0M873.9 227.8h0M897.5 235.0h0M858.3 165.4h0M908.9 214.7h0M855.6 166.6h0M878.0 190.6h0M900.0 217.6h0M857.0 185.3h0M890.1 182.6h0M859.5 203.7h0M878.0 212.0h0M872.3 158.1h0M885.5 180.6h0M878.5 174.6h0M872.3 179.0h0M854.6 187.0h0M856.3 172.7h0M857.9 192.4h0M906.1 181.3h0M882.9 191.8h0M879.3 221.0h0M880.8 230.0h0M905.4 231.7h0M861.7 221.2h0M881.3 172.7h0M863.2 190.5h0M864.3 187.8h0M897.3 182.6h0M881.2 194.9h0M853.8 183.6h0M877.7 197.4h0M902.3 236.0h0M883.3 216.9h0M890.7 225.8h0M865.9 190.1h0M914.1 188.7h0M860.9 151.9h0M856.0 208.1h0M905.6 196.0h0M862.2 167.6h0M876.4 154.5h0M881.6 206.1h0M861.0 193.7h0M892.3 233.7h0M896.3 207.9h0M906.4 179.0h0M911.8 202.3h0M915.5 195.1h0M867.3 149.6h0M891.7 174.5h0M858.8 195.6h0M881.8 166.9h0M909.4 197.3h0M892.3 194.5h0M857.5 189.4h0M895.6 228.4h0M862.7 213.4h0M859.8 219.6h0M897.0 193.4h0M881.2 186.4h0M912.4 209.8h0M881.3 226.6h0M899.7 179.3h0M907.9 220.3h0M889.5 192.5h0M870.7 148.0h0M883.0 212.2h0M908.8 192.3h0M872.6 216.2h0M883.8 219.9h0M898.5 209.5h0M900.1 220.1h0M864.8 197.7h0M911.5 181.7h0M861.7 187.4h0M855.2 204.2h0M905.5 192.4h0M908.8 189.9h0M856.1 198.0h0M913.0 174.8h0M924.2 179.5h0M912.4 181.3h0M930.1 187.2h0M934.2 189.0h0M936.6 184.3h0M937.8 188.4h0M927.1 194.3h0M924.2 198.4h0M951.9 191.3h0M950.2 196.1h0M955.5 202.0h0M917.1 207.3h0M921.8 205.5h0M920.6 210.2h0M921.8 214.4h0M927.7 208.5h0M926.5 211.4h0M934.8 207.9h0M938.3 206.7h0M936.6 210.8h0M938.3 211.4h0M935.4 216.1h0M946.6 206.7h0M950.2 213.8h0M910.0 215.5h0M928.9 224.4h0M933.6 223.2h0M936.0 225.6h0M933.6 229.1h0M927.7 230.3h0M910.0 230.3h0M962.0 222.0h0M965.5 216.7h0M967.3 220.3h0M971.4 215.5h0M975.0 216.7h0M978.5 205.5h0M978.5 218.5h0M981.5 221.5h0M982.0 213.8h0M987.4 211.4h0M983.8 200.2h0M992.1 193.9h0M988.5 222.0h0M996.8 226.8h0M962.0 234.4h0M947.8 239.8h0M916.0 190.0h0M914.0 195.0h0M918.0 198.0h0M913.0 202.0h0M919.0 186.0h0M846.8 231.3h0M848.4 230.7h0M857.3 235.0h0M864.6 232.3h0M863.6 227.6h0M855.2 227.6h0M872.0 235.0h0M875.1 236.0h0M876.2 240.2h0M879.3 233.4h0M883.5 235.0h0M884.6 238.6h0M858.3 242.3h0M861.5 243.3h0M864.6 247.5h0M867.8 245.4h0M874.1 249.6h0M877.2 251.7h0M881.4 251.2h0M883.5 251.2h0M879.3 253.8h0M861.5 261.2h0M864.6 261.2h0M867.8 260.7h0M868.3 253.8h0M885.6 257.0h0M876.2 257.5h0M902.4 265.4h0M906.6 246.5h0M899.3 247.5h0M891.9 248.6h0M889.8 245.4h0M865.7 270.6h0M907.7 272.2h0M875.1 289.5h0M871.5 284.3h0M870.0 218.0h0M875.0 222.0h0M880.0 224.0h0M868.0 223.0h0M898.0 232.0h0M902.0 236.0h0M905.0 230.0h0M948.0 241.1h0M962.3 234.7h0M961.8 222.2h0M967.3 220.9h0M980.1 221.8h0M988.4 222.2h0M997.0 227.0h0M885.5 257.7h0M909.4 272.4h0M902.0 265.0h0M906.6 245.7h0M909.4 230.1h0M916.7 232.5h0M927.4 230.7h0M920.8 289.4h0M925.9 296.2h0M875.1 290.7h0M925.6 295.9h0M920.4 290.0h0M865.1 148.8h0M886.7 151.0h0M913.5 174.6h0M912.4 181.0h0M840.6 184.0h0M846.1 183.1h0M838.8 196.8h0M844.3 193.2h0M848.0 195.9h0M842.5 213.4h0M848.0 216.1h0" stroke="#18a3a7" stroke-width="6" stroke-linecap="round" fill="none"/><path d="M917.7 185.4h0M918.9 190.7h0M917.1 220.9h0M958.4 212.0h0M917.1 232.7h0M911.2 224.4h0M938.9 222.0h0M941.9 221.5h0M891.9 241.2h0M894.0 243.3h0M890.9 245.4h0M902.4 240.2h0M887.7 222.3h0M863.6 228.6h0M876.7 257.0h0M867.8 253.8h0M949.8 255.3h0M851.5 161.0h0M858.9 147.3h0M859.9 151.5h0M867.3 154.7h0M862.0 158.9h0M861.0 166.2h0M868.3 168.3h0M883.0 156.8h0M871.5 174.6h0M880.9 170.4h0M858.9 180.9h0M851.5 182.0h0M889.3 186.2h0M893.5 203.0h0M889.3 215.6h0M862.0 209.3h0M903.0 206.1h0M913.5 175.7h0M847.2 120.9h0M858.8 132.0h0M838.3 145.6h0M850.4 149.8h0M872.0 195.0h0M880.0 200.0h0M900.0 215.0h0M905.0 190.0h0M878.0 212.0h0M866.0 190.0h0" stroke="#137e96" stroke-width="6" stroke-linecap="round" fill="none"/><path d="M947.8 188.4h0M930.1 202.0h0M931.8 212.0h0M924.2 228.0h0M870.9 225.5h0M852.6 241.2h0M845.7 243.9h0M870.4 249.6h0M882.5 267.0h0M924.1 228.3h0M882.8 267.4h0M828.0 221.3h0M849.4 141.0h0M861.0 143.1h0M864.1 144.2h0M871.5 151.5h0M857.8 153.6h0M861.0 155.7h0M879.9 161.0h0M873.6 164.7h0M890.4 163.6h0M896.7 170.4h0M844.2 169.4h0M845.2 172.5h0M861.0 174.6h0M867.3 177.8h0M878.8 180.9h0M850.5 177.8h0M843.1 179.9h0M864.1 182.0h0M862.0 184.1h0M871.5 185.1h0M849.4 195.6h0M854.7 197.2h0M866.2 189.3h0M898.8 199.8h0M888.3 193.0h0M844.2 211.4h0M849.3 140.7h0M857.2 143.0h0M863.0 143.0h0M871.4 151.4h0M832.4 196.8h0M833.3 202.4h0M846.1 171.1h0M848.0 186.7h0M844.3 209.7h0M827.8 218.0h0" stroke="#b3d8dc" stroke-width="6" stroke-linecap="round" fill="none"/>
<g><rect x="41.8" y="499.3" width="123.7" height="77.3" fill="#1a4e97"/><rect x="165.5" y="499.3" width="79.3" height="77.3" fill="#3a7cb9"/><rect x="247.1" y="499.3" width="30.6" height="77.3" fill="#784f87"/><rect x="277.7" y="499.3" width="84.5" height="77.3" fill="#9a72a2"/><rect x="364.4" y="499.3" width="59.2" height="77.3" fill="#784f87"/><rect x="423.6" y="499.3" width="39.5" height="77.3" fill="#9a72a2"/><rect x="465" y="499.3" width="69" height="77.3" fill="#d7652a"/><rect x="536" y="499.3" width="42.9" height="77.3" fill="#d7652a"/><rect x="580.5" y="499.3" width="48.8" height="77.3" fill="#b3d2d6"/><rect x="629.3" y="499.3" width="60.2" height="77.3" fill="#127b8f"/><rect x="689.5" y="499.3" width="180" height="77.3" fill="#1a9ca6"/><rect x="870.8" y="499.3" width="23.2" height="77.3" fill="#b3d2d6"/><rect x="894" y="499.3" width="19.8" height="77.3" fill="#127b8f"/><rect x="913.8" y="499.3" width="57.3" height="77.3" fill="#1a9ca6"/><rect x="973.3" y="499.3" width="93" height="77.3" fill="#3f9a4e"/><rect x="1068.3" y="499.3" width="75.3" height="77.3" fill="#e39c86"/><rect x="1143.6" y="499.3" width="34.3" height="77.3" fill="#dd7b60"/><path d="M45.6 499.3h0.94v0.3h-0.94zM48.4 499.3h0.94v1.3h-0.94zM62.5 499.3h0.94v6.0h-0.94zM67.2 499.3h0.94v10.4h-0.94zM71.9 508.5h0.94v3.5h-0.94zM73.8 509.4h0.94v2.8h-0.94zM77.5 510.6h0.94v2.7h-0.94zM79.4 499.3h0.94v15.2h-0.94zM81.3 499.3h0.94v14.7h-0.94zM86.9 512.4h0.94v5.7h-0.94zM90.7 518.1h0.94v0.5h-0.94zM97.3 511.9h0.94v14.8h-0.94zM102.9 508.7h0.94v13.7h-0.94zM104.8 499.3h0.94v26.4h-0.94zM105.7 499.3h0.94v15.7h-0.94zM108.5 499.3h0.94v23.7h-0.94zM109.5 514.5h0.94v9.6h-0.94zM112.3 509.8h0.94v20.8h-0.94zM117.9 499.3h0.94v27.9h-0.94zM125.5 499.3h0.94v27.8h-0.94zM126.4 525.7h0.94v11.5h-0.94zM132.0 504.8h0.94v23.0h-0.94zM133.0 537.6h0.94v4.8h-0.94zM134.9 518.1h0.94v18.9h-0.94zM135.8 521.1h0.94v11.5h-0.94zM136.7 514.1h0.94v6.4h-0.94zM137.7 499.3h0.94v25.0h-0.94zM137.7 524.3h0.94v11.9h-0.94zM139.6 499.3h0.94v25.2h-0.94zM141.4 537.0h0.94v3.8h-0.94zM145.2 499.3h0.94v5.9h-0.94zM150.8 506.6h0.94v25.0h-0.94zM150.8 531.6h0.94v6.5h-0.94zM152.7 499.3h0.94v15.5h-0.94zM155.5 504.5h0.94v23.1h-0.94zM156.5 525.1h0.94v7.3h-0.94zM159.3 525.9h0.94v6.1h-0.94zM159.3 532.0h0.94v13.5h-0.94zM161.2 530.2h0.94v13.5h-0.94zM162.1 542.4h0.94v2.9h-0.94zM163.1 530.6h0.94v15.6h-0.94zM164.9 525.1h0.56v10.0h-0.56zM187.1 575.9h0.94v0.7h-0.94zM189.9 499.3h0.94v4.6h-0.94zM192.8 571.8h0.94v4.8h-0.94zM198.4 499.3h0.94v16.3h-0.94zM209.7 499.3h0.94v18.5h-0.94zM214.4 505.3h0.94v14.9h-0.94zM215.3 555.4h0.94v18.1h-0.94zM215.3 573.5h0.94v3.1h-0.94zM221.0 567.9h0.94v6.4h-0.94zM222.8 555.9h0.94v20.7h-0.94zM224.7 499.3h0.94v19.8h-0.94zM225.7 569.4h0.94v7.2h-0.94zM228.5 504.9h0.94v27.7h-0.94zM229.4 554.8h0.94v21.8h-0.94zM231.3 545.8h0.94v15.1h-0.94zM233.2 499.3h0.94v24.3h-0.94zM234.1 546.1h0.94v19.1h-0.94zM236.0 565.7h0.94v5.8h-0.94zM239.8 510.1h0.94v8.9h-0.94zM242.6 524.7h0.94v12.9h-0.94zM247.1 515.9h1.10v3.7h-1.10zM248.2 499.3h1.10v17.4h-1.10zM251.5 499.3h1.10v22.5h-1.10zM252.6 517.5h1.10v5.5h-1.10zM252.6 523.0h1.10v6.3h-1.10zM253.7 514.7h1.10v7.7h-1.10zM257.0 511.3h1.10v15.5h-1.10zM258.1 499.3h1.10v17.3h-1.10zM259.2 515.0h1.10v17.0h-1.10zM260.3 521.9h1.10v7.0h-1.10zM261.4 518.7h1.10v13.7h-1.10zM261.4 532.3h1.10v7.5h-1.10zM262.5 516.7h1.10v11.1h-1.10zM264.7 526.4h1.10v11.3h-1.10zM266.9 499.3h1.10v14.3h-1.10zM269.1 499.3h1.10v20.0h-1.10zM270.2 499.3h1.10v6.4h-1.10zM270.2 527.6h1.10v17.4h-1.10zM271.3 499.3h1.10v20.3h-1.10zM284.3 575.2h1.10v1.4h-1.10zM292.0 561.4h1.10v15.2h-1.10zM294.2 576.2h1.10v0.4h-1.10zM296.4 571.4h1.10v5.2h-1.10zM300.8 553.4h1.10v23.1h-1.10zM304.1 499.3h1.10v1.0h-1.10zM305.2 499.3h1.10v1.4h-1.10zM306.3 563.7h1.10v11.6h-1.10zM307.4 499.3h1.10v18.1h-1.10zM308.5 499.3h1.10v7.6h-1.10zM312.9 499.3h1.10v0.6h-1.10zM312.9 571.5h1.10v5.1h-1.10zM314.0 499.3h1.10v1.6h-1.10zM317.3 499.3h1.10v0.7h-1.10zM317.3 576.0h1.10v0.6h-1.10zM319.5 499.3h1.10v1.9h-1.10zM319.5 568.3h1.10v8.3h-1.10zM322.8 544.5h1.10v12.4h-1.10zM323.9 574.5h1.10v2.1h-1.10zM329.4 499.3h1.10v1.1h-1.10zM330.5 541.7h1.10v5.2h-1.10zM331.6 567.9h1.10v8.7h-1.10zM333.8 560.5h1.10v16.1h-1.10zM334.9 499.3h1.10v1.1h-1.10zM334.9 538.4h1.10v21.3h-1.10zM334.9 559.7h1.10v16.9h-1.10zM336.0 499.3h1.10v0.6h-1.10zM336.0 539.3h1.10v11.2h-1.10zM337.1 499.3h1.10v3.6h-1.10zM337.1 553.3h1.10v5.3h-1.10zM338.2 499.3h1.10v1.8h-1.10zM339.3 561.3h1.10v13.4h-1.10zM339.3 574.7h1.10v1.9h-1.10zM340.4 573.0h1.10v3.6h-1.10zM341.5 535.2h1.10v18.0h-1.10zM341.5 553.2h1.10v22.8h-1.10zM345.9 499.3h1.10v3.6h-1.10zM345.9 571.7h1.10v4.9h-1.10zM347.0 499.3h1.10v4.5h-1.10zM348.1 499.3h1.10v18.1h-1.10zM348.1 564.0h1.10v12.6h-1.10zM351.4 561.9h1.10v13.0h-1.10zM352.5 558.2h1.10v18.4h-1.10zM355.8 555.6h1.10v11.3h-1.10zM358.0 553.5h1.10v11.6h-1.10zM386.0 499.3h0.77v1.7h-0.77zM386.7 499.3h0.77v1.2h-0.77zM391.3 499.3h0.77v7.9h-0.77zM392.1 499.3h0.77v7.4h-0.77zM393.7 499.3h0.77v7.8h-0.77zM395.2 499.3h0.77v9.7h-0.77zM400.6 499.3h0.77v10.1h-0.77zM404.4 507.5h0.77v13.2h-0.77zM406.0 512.2h0.77v7.8h-0.77zM406.7 499.3h0.77v5.3h-0.77zM408.3 499.3h0.77v9.3h-0.77zM411.4 499.3h0.77v16.1h-0.77zM411.4 524.4h0.77v4.4h-0.77zM412.9 499.3h0.77v19.9h-0.77zM416.0 510.4h0.77v20.0h-0.77zM416.8 504.7h0.77v27.6h-0.77zM417.5 512.0h0.77v10.3h-0.77zM417.5 522.3h0.77v8.1h-0.77zM418.3 504.5h0.77v11.7h-0.77zM420.6 499.3h0.77v19.2h-0.77zM422.9 499.3h0.68v16.4h-0.68zM422.9 515.7h0.68v25.1h-0.68zM434.4 575.4h0.77v1.2h-0.77zM437.5 558.5h0.77v18.1h-0.77zM441.3 499.3h0.77v1.3h-0.77zM441.3 553.3h0.77v12.3h-0.77zM442.1 499.3h0.77v1.0h-0.77zM443.6 499.3h0.77v4.5h-0.77zM443.6 552.5h0.77v5.9h-0.77zM445.2 565.2h0.77v11.4h-0.77zM445.9 499.3h0.77v1.0h-0.77zM449.0 548.9h0.77v17.5h-0.77zM449.8 499.3h0.77v9.9h-0.77zM449.8 553.1h0.77v17.3h-0.77zM450.5 543.3h0.77v11.0h-0.77zM450.5 573.9h0.77v2.7h-0.77zM452.1 541.7h0.77v14.7h-0.77zM452.9 499.3h0.77v1.2h-0.77zM453.6 543.1h0.77v8.7h-0.77zM453.6 551.8h0.77v24.1h-0.77zM453.6 575.9h0.77v0.7h-0.77zM454.4 539.7h0.77v15.2h-0.77zM454.4 566.4h0.77v10.2h-0.77zM455.2 499.3h0.77v1.4h-0.77zM455.2 553.5h0.77v5.1h-0.77zM455.9 499.3h0.77v0.5h-0.77zM456.7 499.3h0.77v0.8h-0.77zM457.5 499.3h0.77v8.3h-0.77zM458.2 499.3h0.77v2.6h-0.77zM458.2 554.4h0.77v14.5h-0.77zM459.8 499.3h0.77v15.9h-0.77zM459.8 537.0h0.77v5.9h-0.77zM460.6 499.3h0.77v11.8h-0.77zM460.6 539.2h0.77v15.5h-0.77zM471.6 574.5h1.10v2.1h-1.10zM477.1 514.0h1.10v6.7h-1.10zM479.3 575.4h1.10v1.2h-1.10zM481.5 562.4h1.10v14.2h-1.10zM484.8 564.5h1.10v10.5h-1.10zM495.8 565.1h1.10v11.5h-1.10zM496.9 544.3h1.10v11.5h-1.10zM504.6 559.6h1.10v11.8h-1.10zM505.7 522.1h1.10v11.4h-1.10zM506.8 499.3h1.10v12.7h-1.10zM511.2 504.5h1.10v23.7h-1.10zM520.0 499.3h1.10v23.6h-1.10zM521.1 567.8h1.10v8.8h-1.10zM524.4 558.1h1.10v18.5h-1.10zM525.5 566.5h1.10v10.1h-1.10zM529.9 558.5h1.10v17.9h-1.10zM531.0 519.2h1.10v12.9h-1.10zM533.2 563.2h0.80v13.4h-0.80zM554.7 576.2h0.78v0.4h-0.78zM557.8 499.3h0.78v7.0h-0.78zM558.6 567.0h0.78v9.6h-0.78zM560.2 499.3h0.78v11.1h-0.78zM563.3 499.3h0.78v19.7h-0.78zM564.1 514.1h0.78v2.2h-0.78zM569.5 499.3h0.78v9.9h-0.78zM572.7 499.3h0.78v20.9h-0.78zM572.7 576.2h0.78v0.4h-0.78zM573.4 563.3h0.78v11.0h-0.78zM576.6 499.3h0.78v6.0h-0.78zM586.3 499.3h0.96v5.9h-0.96zM587.2 499.3h0.96v7.4h-0.96zM594.9 499.3h0.96v22.9h-0.96zM595.9 518.8h0.96v3.0h-0.96zM597.8 499.3h0.96v23.9h-0.96zM598.7 511.9h0.96v16.6h-0.96zM599.7 525.8h0.96v2.1h-0.96zM601.6 499.3h0.96v26.3h-0.96zM606.4 499.3h0.96v9.7h-0.96zM608.3 504.6h0.96v9.2h-0.96zM609.3 499.3h0.96v10.4h-0.96zM609.3 509.7h0.96v11.7h-0.96zM609.3 521.4h0.96v14.7h-0.96zM612.2 499.3h0.96v22.8h-0.96zM614.1 525.9h0.96v11.0h-0.96zM617.9 537.0h0.96v3.2h-0.96zM620.8 499.3h0.96v18.5h-0.96zM622.7 499.3h0.96v22.1h-0.96zM625.6 499.3h0.96v9.5h-0.96zM625.6 534.8h0.96v11.8h-0.96zM628.5 520.7h0.80v23.4h-0.80zM637.9 568.6h0.96v8.0h-0.96zM639.9 550.4h0.96v20.0h-0.96zM640.8 550.2h0.96v11.6h-0.96zM643.7 551.2h0.96v25.4h-0.96zM645.6 548.1h0.96v7.1h-0.96zM647.5 571.9h0.96v4.7h-0.96zM649.5 549.1h0.96v6.5h-0.96zM655.2 545.4h0.96v5.6h-0.96zM655.2 557.6h0.96v19.0h-0.96zM660.0 566.0h0.96v10.6h-0.96zM663.9 548.6h0.96v7.3h-0.96zM670.6 576.1h0.96v0.5h-0.96zM673.5 565.9h0.96v10.7h-0.96zM678.3 537.3h0.96v7.7h-0.96zM679.2 545.8h0.96v5.7h-0.96zM683.1 524.5h0.96v12.8h-0.96zM683.1 537.3h0.96v22.7h-0.96zM686.9 558.6h0.96v18.0h-0.96zM912.5 556.9h0.88v19.7h-0.88zM997.5 574.6h1.10v2.0h-1.10zM1004.1 564.6h1.10v12.0h-1.10zM1005.2 563.1h1.10v13.5h-1.10zM1009.6 499.3h1.10v14.3h-1.10zM1009.6 556.2h1.10v13.7h-1.10zM1009.6 569.9h1.10v6.7h-1.10zM1012.9 573.2h1.10v3.4h-1.10zM1015.1 499.3h1.10v1.6h-1.10zM1016.2 550.6h1.10v13.8h-1.10zM1017.3 549.7h1.10v26.7h-1.10zM1018.4 567.3h1.10v9.3h-1.10zM1022.8 569.8h1.10v6.8h-1.10zM1023.9 560.9h1.10v15.7h-1.10zM1030.5 499.3h1.10v8.1h-1.10zM1031.6 542.4h1.10v18.1h-1.10zM1032.7 545.5h1.10v8.0h-1.10zM1032.7 553.4h1.10v23.2h-1.10zM1033.8 539.2h1.10v19.6h-1.10zM1034.9 540.7h1.10v15.9h-1.10zM1037.1 567.6h1.10v9.0h-1.10zM1038.2 538.2h1.10v20.1h-1.10zM1041.5 553.2h1.10v13.5h-1.10zM1043.7 536.6h1.10v18.8h-1.10zM1044.8 499.3h1.10v4.9h-1.10zM1049.2 538.1h1.10v13.9h-1.10zM1051.4 532.1h1.10v10.8h-1.10zM1053.6 554.0h1.10v20.8h-1.10zM1054.7 509.6h1.10v5.1h-1.10zM1055.8 522.3h1.10v7.5h-1.10zM1055.8 547.1h1.10v18.7h-1.10zM1059.1 567.4h1.10v9.2h-1.10zM1060.2 510.2h1.10v17.0h-1.10zM1062.4 519.6h1.10v8.1h-1.10zM1063.5 548.6h1.10v15.4h-1.10zM1064.6 555.0h1.10v9.0h-1.10zM1080.2 575.3h0.85v1.3h-0.85zM1081.0 574.8h0.85v1.8h-0.85zM1083.6 572.7h0.85v3.9h-0.85zM1086.1 570.7h0.85v5.9h-0.85zM1093.8 565.8h0.85v10.8h-0.85zM1094.6 571.8h0.85v4.8h-0.85zM1098.0 563.1h0.85v13.5h-0.85zM1098.9 563.4h0.85v11.4h-0.85zM1100.6 568.7h0.85v7.9h-0.85zM1102.3 561.8h0.85v13.5h-0.85zM1104.0 558.8h0.85v17.8h-0.85zM1104.8 558.6h0.85v6.8h-0.85zM1107.4 557.2h0.85v6.0h-0.85zM1109.1 555.7h0.85v6.2h-0.85zM1109.9 566.5h0.85v10.1h-0.85zM1119.3 572.5h0.85v4.1h-0.85zM1122.7 548.2h0.85v20.3h-0.85zM1124.4 561.8h0.85v14.8h-0.85zM1126.1 545.7h0.85v20.1h-0.85zM1127.8 542.0h0.85v20.2h-0.85zM1135.4 541.4h0.85v25.8h-0.85zM1137.1 533.5h0.85v27.6h-0.85zM1138.0 550.1h0.85v23.2h-0.85zM1138.8 557.6h0.85v18.9h-0.85zM1142.2 532.3h0.85v11.2h-0.85zM1142.2 543.5h0.85v5.9h-0.85zM1156.3 574.4h0.85v2.2h-0.85zM1166.5 512.8h0.85v1.2h-0.85zM1169.9 499.3h0.85v21.1h-0.85zM1170.8 514.9h0.85v5.1h-0.85zM1171.6 504.8h0.85v12.6h-0.85zM1172.5 547.6h0.85v27.3h-0.85zM1174.2 499.3h0.85v14.4h-0.85zM1175.0 524.4h0.85v2.5h-0.85zM1175.9 552.4h0.85v14.5h-0.85zM1131.0 499.3h0.85v14.9h-0.85zM1102.1 499.3h0.85v14.7h-0.85zM1097.8 499.3h0.85v9.5h-0.85zM1114.9 499.3h0.85v15.2h-0.85zM1082.2 499.3h0.85v3.6h-0.85zM1087.3 499.3h0.85v11.0h-0.85zM1085.2 499.3h0.85v7.4h-0.85zM1118.5 499.3h0.85v9.8h-0.85zM1114.6 499.3h0.85v14.4h-0.85zM1116.2 499.3h0.85v3.8h-0.85z" fill="#1a9ca6"/><path d="M46.5 499.3h0.94v0.4h-0.94zM47.4 499.3h0.94v0.5h-0.94zM61.5 499.3h0.94v5.4h-0.94zM66.2 499.3h0.94v7.9h-0.94zM68.1 499.3h0.94v8.5h-0.94zM70.9 499.3h0.94v11.4h-0.94zM77.5 504.5h0.94v6.1h-0.94zM78.5 499.3h0.94v14.7h-0.94zM82.2 499.3h0.94v11.0h-0.94zM86.9 499.3h0.94v13.1h-0.94zM88.8 499.3h0.94v15.2h-0.94zM92.6 499.3h0.94v9.4h-0.94zM94.4 499.3h0.94v11.3h-0.94zM94.4 510.6h0.94v11.1h-0.94zM95.4 499.3h0.94v20.0h-0.94zM96.3 517.3h0.94v2.7h-0.94zM98.2 499.3h0.94v22.0h-0.94zM98.2 521.3h0.94v5.8h-0.94zM102.9 499.3h0.94v9.4h-0.94zM103.8 499.3h0.94v6.2h-0.94zM104.8 525.7h0.94v0.6h-0.94zM107.6 499.3h0.94v5.6h-0.94zM107.6 504.9h0.94v7.2h-0.94zM107.6 512.1h0.94v18.0h-0.94zM111.4 520.9h0.94v7.9h-0.94zM113.2 512.8h0.94v14.2h-0.94zM115.1 523.3h0.94v5.6h-0.94zM117.0 521.0h0.94v9.3h-0.94zM120.8 510.9h0.94v11.9h-0.94zM121.7 510.9h0.94v21.2h-0.94zM122.6 528.2h0.94v5.8h-0.94zM123.6 499.3h0.94v23.4h-0.94zM124.5 499.3h0.94v17.7h-0.94zM126.4 499.3h0.94v26.4h-0.94zM127.3 499.3h0.94v27.1h-0.94zM129.2 499.3h0.94v11.2h-0.94zM129.2 510.5h0.94v10.4h-0.94zM133.0 499.3h0.94v27.2h-0.94zM133.9 522.6h0.94v13.7h-0.94zM136.7 520.5h0.94v15.4h-0.94zM139.6 524.5h0.94v16.3h-0.94zM140.5 499.3h0.94v5.2h-0.94zM144.3 499.3h0.94v15.0h-0.94zM144.3 539.3h0.94v1.9h-0.94zM145.2 505.2h0.94v24.6h-0.94zM145.2 529.8h0.94v10.1h-0.94zM146.1 520.4h0.94v18.4h-0.94zM147.1 499.3h0.94v19.4h-0.94zM149.9 499.3h0.94v17.9h-0.94zM149.9 535.0h0.94v6.1h-0.94zM151.8 499.3h0.94v18.1h-0.94zM151.8 527.6h0.94v15.3h-0.94zM153.7 524.1h0.94v8.9h-0.94zM154.6 534.1h0.94v7.6h-0.94zM155.5 527.5h0.94v13.2h-0.94zM157.4 529.1h0.94v5.6h-0.94zM158.4 511.4h0.94v23.3h-0.94zM159.3 499.3h0.94v5.3h-0.94zM161.2 518.1h0.94v12.0h-0.94zM162.1 505.6h0.94v18.4h-0.94zM162.1 533.3h0.94v9.1h-0.94zM164.9 499.3h0.56v25.8h-0.56zM194.6 499.3h0.94v8.0h-0.94zM201.2 499.3h0.94v9.9h-0.94zM201.2 509.2h0.94v5.1h-0.94zM205.0 499.3h0.94v7.3h-0.94zM205.0 506.6h0.94v10.4h-0.94zM206.9 499.3h0.94v15.2h-0.94zM214.4 520.2h0.94v2.2h-0.94zM216.3 499.3h0.94v24.2h-0.94zM217.2 499.3h0.94v12.0h-0.94zM218.1 510.7h0.94v19.6h-0.94zM221.0 516.3h0.94v8.8h-0.94zM224.7 519.1h0.94v6.4h-0.94zM226.6 510.5h0.94v18.8h-0.94zM227.5 499.3h0.94v27.0h-0.94zM228.5 499.3h0.94v5.6h-0.94zM232.2 499.3h0.94v21.4h-0.94zM235.1 522.0h0.94v14.0h-0.94zM254.8 518.1h1.10v8.1h-1.10zM255.9 506.9h1.10v23.0h-1.10zM262.5 499.3h1.10v9.4h-1.10zM262.5 508.7h1.10v8.0h-1.10zM263.6 521.4h1.10v8.1h-1.10zM268.0 499.3h1.10v12.0h-1.10zM272.4 525.0h1.10v23.0h-1.10zM274.6 535.2h1.10v17.1h-1.10zM276.8 499.3h0.90v7.5h-0.90zM285.4 573.3h1.10v3.3h-1.10zM299.7 568.5h1.10v8.1h-1.10zM303.0 565.9h1.10v10.7h-1.10zM307.4 550.5h1.10v14.2h-1.10zM317.3 553.5h1.10v7.0h-1.10zM322.8 556.8h1.10v19.8h-1.10zM330.5 546.8h1.10v7.6h-1.10zM331.6 541.2h1.10v15.3h-1.10zM347.0 535.0h1.10v25.3h-1.10zM356.9 532.7h1.10v7.7h-1.10zM440.5 570.6h0.77v6.0h-0.77zM450.5 554.4h0.77v19.6h-0.77zM456.7 539.7h0.77v7.5h-0.77zM456.7 547.2h0.77v24.3h-0.77zM458.2 539.5h0.77v14.9h-0.77zM458.2 568.9h0.77v7.7h-0.77zM459.8 542.9h0.77v20.6h-0.77zM460.6 533.4h0.77v5.8h-0.77zM462.9 529.2h0.23v9.9h-0.23zM600.7 517.7h0.96v9.7h-0.96zM602.6 512.8h0.96v15.2h-0.96zM607.4 520.2h0.96v12.8h-0.96zM610.3 514.6h0.96v21.0h-0.96zM614.1 499.3h0.96v26.6h-0.96zM615.1 516.1h0.96v20.3h-0.96zM621.8 499.3h0.96v17.8h-0.96zM626.6 499.3h0.96v18.1h-0.96zM634.1 556.4h0.96v20.2h-0.96zM640.8 561.8h0.96v6.7h-0.96zM647.5 556.3h0.96v15.5h-0.96zM648.5 558.3h0.96v13.0h-0.96zM654.3 567.8h0.96v8.8h-0.96zM661.0 547.5h0.96v17.1h-0.96zM668.7 557.4h0.96v19.2h-0.96zM671.5 532.8h0.96v21.4h-0.96zM672.5 552.3h0.96v15.8h-0.96zM672.5 568.0h0.96v8.6h-0.96zM679.2 528.8h0.96v17.0h-0.96zM679.2 551.5h0.96v25.1h-0.96zM696.2 499.3h0.96v2.5h-0.96zM706.8 499.3h0.96v3.1h-0.96zM722.1 499.3h0.96v11.3h-0.96zM734.6 499.3h0.96v13.8h-0.96zM736.5 499.3h0.96v7.8h-0.96zM740.4 499.3h0.96v5.6h-0.96zM745.2 505.0h0.96v10.5h-0.96zM757.7 520.5h0.96v0.3h-0.96zM758.6 499.3h0.96v9.9h-0.96zM760.5 523.3h0.96v1.4h-0.96zM774.9 519.0h0.96v3.7h-0.96zM782.6 499.3h0.96v16.6h-0.96zM785.5 499.3h0.96v24.4h-0.96zM786.5 522.1h0.96v9.4h-0.96zM791.3 499.3h0.96v26.5h-0.96zM791.3 525.8h0.96v2.6h-0.96zM797.0 499.3h0.96v20.8h-0.96zM800.9 510.6h0.96v8.0h-0.96zM803.7 499.3h0.96v26.0h-0.96zM806.6 499.3h0.96v9.4h-0.96zM807.6 532.6h0.96v5.1h-0.96zM810.5 516.8h0.96v9.0h-0.96zM812.4 505.5h0.96v10.9h-0.96zM816.2 499.3h0.96v22.2h-0.96zM819.1 499.3h0.96v13.5h-0.96zM821.0 499.3h0.96v27.4h-0.96zM824.9 499.3h0.96v23.9h-0.96zM825.8 499.3h0.96v24.2h-0.96zM843.1 499.3h0.96v10.9h-0.96zM846.9 512.4h0.96v25.0h-0.96zM847.9 526.4h0.96v10.6h-0.96zM850.8 499.3h0.96v25.7h-0.96zM852.7 499.3h0.96v18.7h-0.96zM853.7 499.3h0.96v14.2h-0.96zM853.7 513.5h0.96v10.9h-0.96zM853.7 531.9h0.96v5.4h-0.96zM859.4 526.8h0.96v17.9h-0.96zM861.3 539.0h0.96v1.2h-0.96zM862.3 524.7h0.96v14.7h-0.96zM864.2 534.8h0.96v8.8h-0.96zM866.1 522.5h0.96v13.0h-0.96zM867.1 504.5h0.96v9.2h-0.96zM1081.9 573.9h0.85v2.7h-0.85zM1090.4 574.5h0.85v2.1h-0.85zM1097.2 563.9h0.85v12.7h-0.85zM1102.3 575.3h0.85v1.3h-0.85zM1103.1 559.9h0.85v16.7h-0.85zM1104.8 565.4h0.85v11.2h-0.85zM1110.8 552.8h0.85v17.6h-0.85zM1117.6 552.0h0.85v15.0h-0.85zM1118.4 573.0h0.85v3.6h-0.85zM1132.0 537.1h0.85v20.4h-0.85zM1143.1 530.0h0.50v8.0h-0.50zM1161.4 499.3h0.85v1.7h-0.85zM1164.8 499.3h0.85v6.0h-0.85z" fill="#3f9a4e"/><path d="M54.0 499.3h0.94v2.1h-0.94zM55.0 499.3h0.94v3.4h-0.94zM56.8 499.3h0.94v10.0h-0.94zM74.7 499.3h0.94v17.3h-0.94zM82.2 510.3h0.94v0.8h-0.94zM87.9 499.3h0.94v16.1h-0.94zM92.6 508.7h0.94v13.9h-0.94zM101.0 499.3h0.94v5.7h-0.94zM103.8 505.5h0.94v6.8h-0.94zM109.5 508.2h0.94v6.2h-0.94zM109.5 524.1h0.94v6.6h-0.94zM110.4 499.3h0.94v12.7h-0.94zM110.4 521.0h0.94v9.1h-0.94zM118.9 518.4h0.94v14.0h-0.94zM120.8 531.3h0.94v1.7h-0.94zM121.7 499.3h0.94v11.6h-0.94zM124.5 517.0h0.94v5.4h-0.94zM130.2 530.0h0.94v7.8h-0.94zM131.1 499.3h0.94v7.9h-0.94zM134.9 499.3h0.94v18.8h-0.94zM135.8 532.6h0.94v7.7h-0.94zM137.7 536.2h0.94v4.5h-0.94zM141.4 521.0h0.94v16.0h-0.94zM143.3 526.9h0.94v9.7h-0.94zM147.1 541.8h0.94v1.4h-0.94zM150.8 499.3h0.94v7.3h-0.94zM159.3 504.6h0.94v21.3h-0.94zM164.9 535.1h0.56v12.3h-0.56zM308.5 506.9h1.10v8.2h-1.10zM309.6 499.3h1.10v3.6h-1.10zM316.2 499.3h1.10v1.4h-1.10zM322.8 499.3h1.10v0.7h-1.10zM323.9 499.3h1.10v2.2h-1.10zM330.5 499.3h1.10v8.1h-1.10zM333.8 499.3h1.10v3.5h-1.10zM339.3 505.5h1.10v9.4h-1.10zM342.6 499.3h1.10v5.3h-1.10zM343.7 499.3h1.10v2.0h-1.10zM348.1 517.4h1.10v3.2h-1.10zM349.2 499.3h1.10v5.1h-1.10zM351.4 499.3h1.10v1.8h-1.10zM352.5 499.3h1.10v2.7h-1.10zM354.7 499.3h1.10v5.8h-1.10zM356.9 499.3h1.10v22.8h-1.10zM356.9 522.1h1.10v2.9h-1.10zM392.9 499.3h0.77v5.3h-0.77zM396.0 499.3h0.77v8.4h-0.77zM402.1 499.3h0.77v18.3h-0.77zM409.8 499.3h0.77v27.3h-0.77zM412.1 499.3h0.77v22.4h-0.77zM413.7 517.7h0.77v5.6h-0.77zM414.4 499.3h0.77v19.9h-0.77zM416.0 499.3h0.77v11.1h-0.77zM418.3 499.3h0.77v5.2h-0.77zM418.3 529.5h0.77v6.5h-0.77zM422.1 499.3h0.77v15.0h-0.77zM422.1 531.5h0.77v4.5h-0.77zM467.2 507.3h1.10v0.1h-1.10zM470.5 499.3h1.10v6.4h-1.10zM472.7 499.3h1.10v12.6h-1.10zM477.1 499.3h1.10v14.7h-1.10zM491.4 524.2h1.10v4.5h-1.10zM492.5 499.3h1.10v14.5h-1.10zM496.9 499.3h1.10v17.4h-1.10zM498.0 526.4h1.10v8.5h-1.10zM499.1 505.3h1.10v18.9h-1.10zM501.3 504.4h1.10v13.4h-1.10zM505.7 499.3h1.10v22.8h-1.10zM506.8 523.4h1.10v16.8h-1.10zM507.9 525.0h1.10v13.8h-1.10zM509.0 505.5h1.10v26.5h-1.10zM513.4 499.3h1.10v6.3h-1.10zM513.4 534.9h1.10v1.1h-1.10zM516.7 525.4h1.10v11.2h-1.10zM523.3 508.9h1.10v8.7h-1.10zM524.4 499.3h1.10v8.3h-1.10zM526.6 518.4h1.10v9.7h-1.10zM528.8 515.8h1.10v15.4h-1.10zM529.9 499.3h1.10v12.8h-1.10zM531.0 504.7h1.10v7.7h-1.10zM531.0 512.4h1.10v6.8h-1.10zM531.0 532.2h1.10v10.1h-1.10zM532.1 520.8h1.10v16.3h-1.10zM533.2 499.3h0.80v25.1h-0.80zM533.2 538.1h0.80v0.5h-0.80zM555.5 499.3h0.78v5.7h-0.78zM558.6 499.3h0.78v13.1h-0.78zM561.0 499.3h0.78v6.5h-0.78zM562.5 499.3h0.78v14.0h-0.78zM562.5 513.3h0.78v2.2h-0.78zM563.3 519.0h0.78v1.7h-0.78zM564.1 499.3h0.78v5.4h-0.78zM564.1 504.7h0.78v9.5h-0.78zM564.9 508.6h0.78v9.4h-0.78zM565.6 499.3h0.78v17.6h-0.78zM566.4 517.0h0.78v7.0h-0.78zM571.1 499.3h0.78v14.9h-0.78zM571.1 514.2h0.78v14.0h-0.78zM573.4 524.9h0.78v10.9h-0.78zM575.8 533.5h0.78v3.2h-0.78zM576.6 505.3h0.78v25.0h-0.78zM578.1 499.3h0.78v27.8h-0.78zM591.1 499.3h0.96v6.0h-0.96zM601.6 525.6h0.96v2.6h-0.96zM604.5 506.0h0.96v22.8h-0.96zM611.2 526.8h0.96v5.5h-0.96zM617.9 499.3h0.96v20.3h-0.96zM618.9 499.3h0.96v11.5h-0.96zM622.7 521.4h0.96v19.8h-0.96zM623.7 499.3h0.96v17.8h-0.96zM623.7 530.6h0.96v12.1h-0.96zM625.6 520.9h0.96v13.9h-0.96zM626.6 526.0h0.96v12.1h-0.96zM627.5 499.3h0.96v11.3h-0.96zM627.5 510.6h0.96v27.8h-0.96zM691.4 499.3h0.96v3.2h-0.96zM695.3 499.3h0.96v0.5h-0.96zM697.2 499.3h0.96v2.8h-0.96zM701.0 499.3h0.96v3.7h-0.96zM702.0 499.3h0.96v6.8h-0.96zM720.2 499.3h0.96v10.3h-0.96zM728.9 511.1h0.96v2.2h-0.96zM730.8 499.3h0.96v6.2h-0.96zM749.0 499.3h0.96v16.3h-0.96zM751.9 499.3h0.96v13.2h-0.96zM751.9 512.5h0.96v3.5h-0.96zM754.8 499.3h0.96v14.8h-0.96zM769.2 499.3h0.96v22.4h-0.96zM769.2 521.7h0.96v1.3h-0.96zM780.7 511.7h0.96v12.0h-0.96zM788.4 521.8h0.96v3.2h-0.96zM790.3 499.3h0.96v23.4h-0.96zM794.1 499.3h0.96v22.8h-0.96zM798.0 511.9h0.96v16.4h-0.96zM806.6 508.7h0.96v12.4h-0.96zM807.6 516.0h0.96v16.7h-0.96zM811.4 518.7h0.96v10.8h-0.96zM815.3 523.5h0.96v8.8h-0.96zM821.0 526.7h0.96v6.5h-0.96zM823.9 499.3h0.96v13.9h-0.96zM824.9 523.2h0.96v18.8h-0.96zM828.7 521.4h0.96v18.7h-0.96zM830.6 499.3h0.96v23.1h-0.96zM833.5 533.6h0.96v3.3h-0.96zM836.4 499.3h0.96v5.5h-0.96zM839.3 508.6h0.96v27.2h-0.96zM840.2 510.5h0.96v10.2h-0.96zM841.2 533.9h0.96v1.4h-0.96zM842.1 513.8h0.96v10.6h-0.96zM844.1 507.6h0.96v15.5h-0.96zM846.0 499.3h0.96v10.1h-0.96zM846.0 534.8h0.96v7.9h-0.96zM846.9 499.3h0.96v13.1h-0.96zM849.8 506.9h0.96v20.4h-0.96zM855.6 499.3h0.96v5.1h-0.96zM856.5 499.3h0.96v9.2h-0.96zM856.5 508.5h0.96v7.0h-0.96zM856.5 538.6h0.96v5.5h-0.96zM857.5 538.2h0.96v2.1h-0.96zM859.4 499.3h0.96v27.5h-0.96zM860.4 520.3h0.96v27.1h-0.96zM861.3 531.7h0.96v7.3h-0.96zM863.3 516.5h0.96v16.5h-0.96zM864.2 499.3h0.96v6.4h-0.96zM864.2 519.4h0.96v15.3h-0.96zM867.1 513.7h0.96v13.1h-0.96zM867.1 526.8h0.96v13.5h-0.96zM869.0 521.6h0.48v7.7h-0.48zM869.0 529.3h0.48v17.8h-0.48zM872.6 499.3h0.88v3.1h-0.88zM873.4 499.3h0.88v1.6h-0.88zM875.2 499.3h0.88v5.0h-0.88zM876.1 499.3h0.88v6.5h-0.88zM878.7 507.5h0.88v7.5h-0.88zM879.6 499.3h0.88v17.3h-0.88zM880.5 509.1h0.88v1.8h-0.88zM881.4 499.3h0.88v17.4h-0.88zM881.4 516.7h0.88v2.7h-0.88zM882.2 499.3h0.88v13.9h-0.88zM882.2 513.2h0.88v5.1h-0.88zM883.1 499.3h0.88v16.9h-0.88zM883.1 516.2h0.88v2.7h-0.88zM884.9 499.3h0.88v17.6h-0.88zM885.8 526.8h0.88v2.2h-0.88zM886.6 526.0h0.88v5.9h-0.88zM887.5 499.3h0.88v8.6h-0.88zM887.5 519.5h0.88v14.1h-0.88zM887.5 533.7h0.88v2.1h-0.88zM888.4 499.3h0.88v11.0h-0.88zM888.4 510.3h0.88v13.8h-0.88zM888.4 524.1h0.88v7.9h-0.88zM889.3 524.7h0.88v7.1h-0.88zM890.2 499.3h0.88v24.9h-0.88zM890.2 524.2h0.88v12.4h-0.88zM891.0 515.3h0.88v12.6h-0.88zM891.0 527.9h0.88v13.6h-0.88zM891.9 499.3h0.88v20.2h-0.88zM891.9 519.5h0.88v12.1h-0.88zM891.9 531.6h0.88v11.2h-0.88zM891.9 542.8h0.88v3.4h-0.88zM892.8 519.4h0.88v18.2h-0.88zM892.8 537.6h0.88v5.8h-0.88zM893.7 499.3h0.32v24.0h-0.32zM893.7 538.1h0.32v9.4h-0.32zM918.2 499.3h0.88v0.3h-0.88zM919.1 499.3h0.88v0.4h-0.88zM926.1 499.3h0.88v3.3h-0.88zM935.8 506.6h0.88v1.0h-0.88zM937.6 499.3h0.88v11.2h-0.88zM938.4 499.3h0.88v10.7h-0.88zM944.6 499.3h0.88v10.7h-0.88zM948.1 510.0h0.88v5.6h-0.88zM949.9 499.3h0.88v12.1h-0.88zM952.5 499.3h0.88v9.7h-0.88zM954.3 512.5h0.88v6.2h-0.88zM955.2 507.8h0.88v6.9h-0.88zM960.4 519.2h0.88v0.7h-0.88zM962.2 499.3h0.88v12.7h-0.88zM962.2 522.1h0.88v3.0h-0.88zM966.6 522.0h0.88v5.7h-0.88zM967.5 519.1h0.88v4.1h-0.88zM968.4 513.5h0.88v5.9h-0.88zM1014.0 558.0h1.10v16.7h-1.10zM1025.0 499.3h1.10v18.2h-1.10zM1032.7 499.3h1.10v16.8h-1.10zM1034.9 556.6h1.10v10.9h-1.10zM1034.9 567.6h1.10v9.0h-1.10zM1038.2 558.3h1.10v18.3h-1.10zM1040.4 499.3h1.10v14.4h-1.10zM1043.7 499.3h1.10v19.9h-1.10zM1049.2 575.7h1.10v0.9h-1.10zM1055.8 499.3h1.10v23.0h-1.10zM1055.8 565.8h1.10v10.8h-1.10zM1060.2 546.2h1.10v8.6h-1.10zM1062.4 499.3h1.10v20.3h-1.10zM1062.4 534.4h1.10v27.8h-1.10zM1064.6 563.9h1.10v12.7h-1.10z" fill="#127b8f"/><path d="M55.0 575.6h0.94v1.0h-0.94zM60.6 573.4h0.94v3.2h-0.94zM73.8 563.3h0.94v12.8h-0.94zM77.5 561.9h0.94v14.7h-0.94zM78.5 569.0h0.94v7.6h-0.94zM79.4 565.7h0.94v9.4h-0.94zM81.3 514.0h0.94v1.2h-0.94zM83.2 568.0h0.94v6.0h-0.94zM83.2 574.0h0.94v2.6h-0.94zM86.0 569.5h0.94v7.1h-0.94zM89.7 556.5h0.94v5.5h-0.94zM89.7 562.0h0.94v9.0h-0.94zM91.6 515.1h0.94v1.3h-0.94zM95.4 519.3h0.94v2.3h-0.94zM97.3 562.2h0.94v12.2h-0.94zM99.1 557.7h0.94v11.2h-0.94zM100.1 560.4h0.94v8.4h-0.94zM103.8 512.3h0.94v12.4h-0.94zM104.8 548.2h0.94v6.0h-0.94zM105.7 515.0h0.94v9.2h-0.94zM105.7 557.6h0.94v18.7h-0.94zM106.7 559.7h0.94v8.9h-0.94zM108.5 558.2h0.94v18.4h-0.94zM109.5 567.3h0.94v9.3h-0.94zM110.4 512.0h0.94v9.0h-0.94zM110.4 555.6h0.94v13.3h-0.94zM110.4 569.0h0.94v7.6h-0.94zM111.4 499.3h0.94v21.6h-0.94zM112.3 499.3h0.94v10.5h-0.94zM113.2 556.5h0.94v18.1h-0.94zM113.2 574.6h0.94v2.0h-0.94zM114.2 570.3h0.94v6.3h-0.94zM120.8 522.8h0.94v8.5h-0.94zM120.8 547.5h0.94v13.6h-0.94zM121.7 545.2h0.94v23.6h-0.94zM124.5 522.4h0.94v14.0h-0.94zM127.3 569.7h0.94v6.9h-0.94zM130.2 554.6h0.94v17.3h-0.94zM133.0 558.1h0.94v18.5h-0.94zM133.9 499.3h0.94v23.3h-0.94zM133.9 543.4h0.94v17.4h-0.94zM134.9 554.2h0.94v22.4h-0.94zM135.8 499.3h0.94v21.8h-0.94zM137.7 552.4h0.94v18.4h-0.94zM140.5 515.8h0.94v14.9h-0.94zM144.3 560.0h0.94v16.6h-0.94zM145.2 567.9h0.94v8.7h-0.94zM148.0 545.0h0.94v23.9h-0.94zM149.9 517.2h0.94v17.7h-0.94zM154.6 561.1h0.94v15.5h-0.94zM155.5 557.5h0.94v19.1h-0.94zM156.5 532.5h0.94v8.5h-0.94zM156.5 557.0h0.94v19.6h-0.94zM160.2 499.3h0.94v22.7h-0.94zM161.2 569.4h0.94v7.2h-0.94zM163.1 499.3h0.94v9.5h-0.94zM163.1 554.8h0.94v16.6h-0.94zM164.0 525.3h0.94v23.1h-0.94zM164.9 539.8h0.56v26.8h-0.56zM164.9 566.6h0.56v10.0h-0.56zM190.9 499.3h0.94v4.5h-0.94zM192.8 499.3h0.94v10.6h-0.94zM200.3 499.3h0.94v6.9h-0.94zM200.3 506.2h0.94v7.0h-0.94zM201.2 568.4h0.94v8.2h-0.94zM202.2 569.3h0.94v7.3h-0.94zM204.0 499.3h0.94v9.7h-0.94zM205.0 567.1h0.94v9.5h-0.94zM209.7 517.8h0.94v4.1h-0.94zM210.6 507.9h0.94v11.0h-0.94zM211.6 499.3h0.94v10.3h-0.94zM213.4 520.4h0.94v0.3h-0.94zM214.4 552.5h0.94v13.2h-0.94zM215.3 499.3h0.94v10.3h-0.94zM215.3 509.6h0.94v9.5h-0.94zM216.3 551.2h0.94v20.0h-0.94zM218.1 560.7h0.94v15.9h-0.94zM220.0 557.7h0.94v18.9h-0.94zM221.9 499.3h0.94v6.8h-0.94zM221.9 506.1h0.94v10.8h-0.94zM221.9 567.9h0.94v8.7h-0.94zM222.8 518.7h0.94v10.2h-0.94zM222.8 528.9h0.94v4.3h-0.94zM223.8 519.9h0.94v10.6h-0.94zM224.7 525.5h0.94v3.5h-0.94zM225.7 525.9h0.94v7.0h-0.94zM225.7 542.1h0.94v27.3h-0.94zM226.6 553.9h0.94v10.4h-0.94zM227.5 526.3h0.94v6.3h-0.94zM230.4 499.3h0.94v22.3h-0.94zM233.2 554.7h0.94v13.7h-0.94zM234.1 499.3h0.94v11.6h-0.94zM235.1 499.3h0.94v9.1h-0.94zM236.9 499.3h0.94v5.2h-0.94zM236.9 504.5h0.94v26.3h-0.94zM237.9 513.8h0.94v15.9h-0.94zM237.9 529.7h0.94v3.7h-0.94zM239.8 499.3h0.94v10.8h-0.94zM240.7 513.5h0.94v20.9h-0.94zM241.6 499.3h0.94v24.7h-0.94zM242.6 512.1h0.94v12.6h-0.94zM244.5 557.1h0.34v15.4h-0.34zM249.3 569.0h1.10v7.6h-1.10zM388.3 499.3h0.77v0.9h-0.77zM400.6 509.4h0.77v4.1h-0.77zM402.9 499.3h0.77v12.5h-0.77zM408.3 508.6h0.77v16.0h-0.77zM410.6 516.9h0.77v5.3h-0.77zM415.2 499.3h0.77v12.2h-0.77zM415.2 511.5h0.77v21.6h-0.77zM417.5 530.4h0.77v6.0h-0.77zM419.1 522.0h0.77v13.0h-0.77zM419.8 517.6h0.77v6.5h-0.77zM420.6 525.7h0.77v9.6h-0.77zM421.4 499.3h0.77v27.1h-0.77zM421.4 531.6h0.77v11.6h-0.77zM422.1 514.3h0.77v17.2h-0.77zM465.0 499.3h1.10v2.9h-1.10zM467.2 499.3h1.10v8.0h-1.10zM474.9 499.3h1.10v19.0h-1.10zM476.0 499.3h1.10v6.0h-1.10zM480.4 499.3h1.10v13.8h-1.10zM480.4 553.6h1.10v15.2h-1.10zM484.8 499.3h1.10v12.3h-1.10zM484.8 511.6h1.10v11.5h-1.10zM485.9 558.8h1.10v8.0h-1.10zM487.0 525.4h1.10v1.0h-1.10zM488.1 499.3h1.10v23.6h-1.10zM489.2 519.7h1.10v6.4h-1.10zM489.2 526.1h1.10v4.1h-1.10zM491.4 556.6h1.10v16.5h-1.10zM493.6 499.3h1.10v10.6h-1.10zM493.6 509.9h1.10v15.8h-1.10zM496.9 516.7h1.10v7.2h-1.10zM501.3 499.3h1.10v5.1h-1.10zM503.5 499.3h1.10v18.6h-1.10zM503.5 517.9h1.10v11.3h-1.10zM509.0 532.0h1.10v7.2h-1.10zM510.1 499.3h1.10v25.9h-1.10zM511.2 538.3h1.10v16.3h-1.10zM511.2 576.0h1.10v0.6h-1.10zM512.3 539.4h1.10v8.9h-1.10zM515.6 499.3h1.10v12.6h-1.10zM516.7 499.3h1.10v7.8h-1.10zM516.7 542.2h1.10v19.4h-1.10zM517.8 520.2h1.10v17.1h-1.10zM518.9 499.3h1.10v15.5h-1.10zM522.2 527.0h1.10v11.7h-1.10zM523.3 524.0h1.10v14.9h-1.10zM524.4 522.2h1.10v7.4h-1.10zM526.6 564.8h1.10v11.8h-1.10zM527.7 563.1h1.10v13.5h-1.10zM528.8 538.5h1.10v24.1h-1.10zM528.8 562.7h1.10v10.3h-1.10zM531.0 499.3h1.10v5.4h-1.10zM553.2 499.3h0.78v2.8h-0.78zM553.9 499.3h0.78v4.3h-0.78zM556.3 570.9h0.78v5.7h-0.78zM564.9 499.3h0.78v9.3h-0.78zM564.9 557.0h0.78v13.0h-0.78zM568.8 557.1h0.78v19.4h-0.78zM569.5 509.2h0.78v16.5h-0.78zM569.5 548.9h0.78v18.1h-0.78zM572.7 520.2h0.78v10.7h-0.78zM575.0 499.3h0.78v19.8h-0.78zM577.3 547.7h0.78v25.1h-0.78zM578.1 569.1h0.78v7.5h-0.78zM583.4 499.3h0.96v4.7h-0.96zM585.3 499.3h0.96v6.2h-0.96zM588.2 499.3h0.96v7.5h-0.96zM590.1 499.3h0.96v9.5h-0.96zM590.1 508.8h0.96v1.4h-0.96zM591.1 505.3h0.96v7.1h-0.96zM597.8 523.2h0.96v2.9h-0.96zM600.7 499.3h0.96v18.4h-0.96zM603.5 499.3h0.96v10.3h-0.96zM604.5 528.8h0.96v0.4h-0.96zM607.4 499.3h0.96v12.4h-0.96zM611.2 499.3h0.96v27.5h-0.96zM612.2 522.1h0.96v12.5h-0.96zM618.9 510.8h0.96v7.6h-0.96zM618.9 531.9h0.96v5.1h-0.96zM620.8 517.8h0.96v10.5h-0.96zM623.7 517.1h0.96v13.5h-0.96zM624.7 516.9h0.96v14.6h-0.96zM624.7 531.5h0.96v13.2h-0.96zM626.6 538.1h0.96v7.9h-0.96zM626.6 546.0h0.96v1.0h-0.96zM627.5 538.4h0.96v10.1h-0.96zM632.2 559.1h0.96v8.1h-0.96zM635.1 572.0h0.96v4.6h-0.96zM646.6 559.6h0.96v6.2h-0.96zM650.4 561.3h0.96v10.6h-0.96zM651.4 547.7h0.96v6.0h-0.96zM651.4 565.4h0.96v11.2h-0.96zM652.3 550.1h0.96v7.4h-0.96zM652.3 557.5h0.96v19.1h-0.96zM653.3 560.4h0.96v13.2h-0.96zM656.2 572.5h0.96v4.1h-0.96zM661.9 569.1h0.96v7.5h-0.96zM662.9 559.0h0.96v17.6h-0.96zM667.7 541.5h0.96v25.9h-0.96zM677.3 563.3h0.96v13.3h-0.96zM683.1 560.0h0.96v16.6h-0.96zM684.0 547.3h0.96v14.8h-0.96zM684.0 562.2h0.96v14.4h-0.96zM685.9 521.2h0.96v18.0h-0.96zM685.9 551.3h0.96v16.4h-0.96zM694.3 499.3h0.96v2.7h-0.96zM694.3 576.3h0.96v0.3h-0.96zM696.2 576.2h0.96v0.4h-0.96zM700.1 499.3h0.96v2.5h-0.96zM723.1 499.3h0.96v14.3h-0.96zM726.0 570.8h0.96v5.8h-0.96zM729.8 499.3h0.96v6.7h-0.96zM732.7 507.2h0.96v1.8h-0.96zM743.3 516.1h0.96v3.1h-0.96zM743.3 566.1h0.96v10.5h-0.96zM745.2 562.8h0.96v13.8h-0.96zM748.1 561.1h0.96v5.2h-0.96zM748.1 566.3h0.96v10.3h-0.96zM750.0 499.3h0.96v17.6h-0.96zM750.0 574.0h0.96v2.6h-0.96zM750.9 499.3h0.96v10.0h-0.96zM757.7 566.3h0.96v10.3h-0.96zM758.6 509.2h0.96v14.4h-0.96zM758.6 560.3h0.96v7.9h-0.96zM760.5 571.2h0.96v5.4h-0.96zM763.4 561.6h0.96v15.0h-0.96zM765.3 499.3h0.96v13.2h-0.96zM770.1 499.3h0.96v5.2h-0.96zM770.1 573.7h0.96v2.9h-0.96zM771.1 499.3h0.96v5.1h-0.96zM771.1 570.4h0.96v6.2h-0.96zM774.0 520.3h0.96v3.9h-0.96zM774.0 553.1h0.96v14.4h-0.96zM775.9 526.1h0.96v0.8h-0.96zM776.9 558.6h0.96v8.5h-0.96zM782.6 550.2h0.96v6.6h-0.96zM788.4 499.3h0.96v5.4h-0.96zM788.4 549.7h0.96v12.1h-0.96zM789.3 571.5h0.96v5.1h-0.96zM792.2 512.8h0.96v12.1h-0.96zM795.1 526.8h0.96v4.8h-0.96zM796.1 513.6h0.96v17.5h-0.96zM799.9 499.3h0.96v27.9h-0.96zM801.8 544.2h0.96v15.6h-0.96zM816.2 521.5h0.96v17.7h-0.96zM818.1 499.3h0.96v23.1h-0.96zM820.1 525.6h0.96v8.0h-0.96zM822.0 499.3h0.96v26.3h-0.96zM822.0 525.6h0.96v11.1h-0.96zM824.9 568.4h0.96v6.5h-0.96zM825.8 523.5h0.96v12.0h-0.96zM829.7 499.3h0.96v23.6h-0.96zM829.7 522.9h0.96v5.5h-0.96zM831.6 499.3h0.96v12.1h-0.96zM832.5 499.3h0.96v6.9h-0.96zM833.5 515.6h0.96v18.0h-0.96zM834.5 565.0h0.96v11.6h-0.96zM835.4 499.3h0.96v13.0h-0.96zM838.3 499.3h0.96v24.1h-0.96zM838.3 523.4h0.96v17.5h-0.96zM844.1 534.5h0.96v10.1h-0.96zM845.0 542.9h0.96v1.5h-0.96zM848.9 499.3h0.96v27.1h-0.96zM853.7 524.4h0.96v7.6h-0.96zM853.7 567.9h0.96v8.7h-0.96zM862.3 499.3h0.96v19.2h-0.96zM863.3 499.3h0.96v17.2h-0.96zM863.3 558.9h0.96v17.1h-0.96zM863.3 576.0h0.96v0.6h-0.96zM920.0 499.3h0.88v0.4h-0.88zM929.6 499.3h0.88v5.6h-0.88zM933.2 499.3h0.88v7.3h-0.88zM940.2 499.3h0.88v7.8h-0.88zM942.8 499.3h0.88v11.6h-0.88zM945.5 499.3h0.88v10.0h-0.88zM950.8 515.0h0.88v2.6h-0.88zM956.9 507.6h0.88v9.0h-0.88zM958.7 565.6h0.88v10.4h-0.88zM960.4 499.3h0.88v19.9h-0.88zM960.4 552.8h0.88v13.8h-0.88zM961.3 499.3h0.88v16.8h-0.88zM963.1 520.7h0.88v2.6h-0.88zM964.0 514.5h0.88v11.1h-0.88zM966.6 550.7h0.88v23.9h-0.88zM966.6 574.6h0.88v2.0h-0.88zM970.1 499.3h0.88v6.1h-0.88zM970.1 552.0h0.88v15.8h-0.88zM971.0 524.0h0.10v7.1h-0.10zM997.5 499.3h1.10v5.3h-1.10zM1005.2 499.3h1.10v6.1h-1.10zM1007.4 499.3h1.10v2.1h-1.10zM1011.8 555.8h1.10v20.8h-1.10zM1018.4 548.9h1.10v18.3h-1.10zM1023.9 547.9h1.10v13.0h-1.10zM1027.2 499.3h1.10v1.7h-1.10zM1028.3 542.7h1.10v20.9h-1.10zM1030.5 573.2h1.10v3.4h-1.10zM1032.7 516.1h1.10v14.6h-1.10zM1033.8 499.3h1.10v1.5h-1.10zM1033.8 565.0h1.10v11.6h-1.10zM1038.2 499.3h1.10v8.2h-1.10zM1039.3 540.6h1.10v15.0h-1.10zM1045.9 534.2h1.10v17.2h-1.10zM1045.9 551.4h1.10v11.5h-1.10zM1051.4 554.4h1.10v8.9h-1.10zM1051.4 563.3h1.10v5.1h-1.10zM1052.5 513.6h1.10v14.1h-1.10zM1052.5 551.1h1.10v12.7h-1.10zM1053.6 574.7h1.10v1.9h-1.10zM1055.8 538.4h1.10v8.7h-1.10zM1058.0 524.2h1.10v7.1h-1.10zM1058.0 531.2h1.10v15.3h-1.10zM1059.1 551.3h1.10v16.1h-1.10zM1060.2 534.8h1.10v11.4h-1.10zM1065.7 523.4h0.60v8.1h-0.60zM1065.7 531.5h0.60v0.5h-0.60zM1088.7 570.0h0.85v6.6h-0.85zM1092.9 566.0h0.85v10.6h-0.85zM1101.4 571.0h0.85v5.6h-0.85zM1108.2 557.4h0.85v7.7h-0.85zM1110.8 570.3h0.85v6.3h-0.85zM1111.6 553.2h0.85v23.4h-0.85zM1112.5 551.9h0.85v24.7h-0.85zM1113.3 554.4h0.85v22.2h-0.85zM1116.7 552.8h0.85v11.7h-0.85zM1116.7 571.1h0.85v5.5h-0.85zM1119.3 549.3h0.85v7.9h-0.85zM1121.8 549.5h0.85v27.1h-0.85zM1123.5 555.6h0.85v10.8h-0.85zM1125.2 570.4h0.85v6.2h-0.85zM1127.8 562.2h0.85v14.4h-0.85zM1128.6 557.1h0.85v19.0h-0.85zM1135.4 567.3h0.85v9.3h-0.85zM1136.3 533.8h0.85v17.4h-0.85zM1138.0 536.2h0.85v13.9h-0.85zM1138.8 576.5h0.85v0.1h-0.85zM1158.0 569.6h0.85v7.0h-0.85zM1161.4 568.8h0.85v7.8h-0.85zM1164.8 505.3h0.85v5.6h-0.85zM1166.5 561.1h0.85v8.3h-0.85zM1167.4 556.8h0.85v19.8h-0.85zM1171.6 554.9h0.85v21.7h-0.85zM1173.3 499.3h0.85v25.0h-0.85zM1177.6 526.2h0.30v4.5h-0.30z" fill="#9a72a2"/><path d="M55.9 499.3h0.94v4.6h-0.94zM57.8 499.3h0.94v3.4h-0.94zM60.6 499.3h0.94v7.8h-0.94zM63.4 499.3h0.94v4.7h-0.94zM64.4 499.3h0.94v4.6h-0.94zM75.6 499.3h0.94v11.9h-0.94zM75.6 511.2h0.94v2.1h-0.94zM80.3 512.9h0.94v0.4h-0.94zM89.7 499.3h0.94v14.5h-0.94zM89.7 571.0h0.94v5.6h-0.94zM93.5 499.3h0.94v11.7h-0.94zM97.3 499.3h0.94v12.6h-0.94zM100.1 508.7h0.94v14.3h-0.94zM101.0 505.0h0.94v20.1h-0.94zM102.0 499.3h0.94v24.8h-0.94zM103.8 524.7h0.94v1.4h-0.94zM105.7 524.1h0.94v0.5h-0.94zM116.1 499.3h0.94v25.0h-0.94zM118.9 499.3h0.94v19.1h-0.94zM119.8 508.5h0.94v21.6h-0.94zM123.6 522.7h0.94v6.0h-0.94zM127.3 557.5h0.94v12.3h-0.94zM128.3 575.8h0.94v0.8h-0.94zM131.1 559.0h0.94v10.7h-0.94zM132.0 527.8h0.94v11.1h-0.94zM138.6 510.8h0.94v17.4h-0.94zM140.5 504.5h0.94v11.3h-0.94zM142.4 519.0h0.94v22.5h-0.94zM143.3 499.3h0.94v27.6h-0.94zM143.3 536.5h0.94v6.9h-0.94zM147.1 518.7h0.94v23.1h-0.94zM147.1 568.5h0.94v8.1h-0.94zM148.0 499.3h0.94v12.8h-0.94zM148.0 535.6h0.94v5.2h-0.94zM149.0 499.3h0.94v25.5h-0.94zM152.7 537.3h0.94v12.7h-0.94zM153.7 499.3h0.94v10.9h-0.94zM157.4 499.3h0.94v18.2h-0.94zM158.4 534.7h0.94v11.1h-0.94zM158.4 550.6h0.94v15.1h-0.94zM158.4 565.7h0.94v8.9h-0.94zM160.2 522.0h0.94v6.9h-0.94zM193.7 499.3h0.94v5.1h-0.94zM195.6 499.3h0.94v9.2h-0.94zM196.5 499.3h0.94v6.0h-0.94zM202.2 499.3h0.94v13.6h-0.94zM203.1 509.7h0.94v4.8h-0.94zM205.9 499.3h0.94v15.3h-0.94zM214.4 499.3h0.94v6.0h-0.94zM217.2 511.3h0.94v12.1h-0.94zM221.9 516.9h0.94v8.0h-0.94zM223.8 513.8h0.94v6.1h-0.94zM225.7 499.3h0.94v21.0h-0.94zM228.5 532.7h0.94v4.3h-0.94zM229.4 520.1h0.94v11.3h-0.94zM230.4 521.6h0.94v10.0h-0.94zM231.3 525.9h0.94v9.0h-0.94zM231.3 534.8h0.94v0.4h-0.94zM234.1 529.6h0.94v4.0h-0.94zM235.1 508.4h0.94v13.6h-0.94zM236.0 499.3h0.94v19.9h-0.94zM237.9 499.3h0.94v14.5h-0.94zM238.8 533.5h0.94v2.5h-0.94zM241.6 524.0h0.94v9.5h-0.94zM243.5 525.0h0.94v9.5h-0.94zM255.9 499.3h1.10v7.6h-1.10zM263.6 529.5h1.10v9.8h-1.10zM268.0 528.5h1.10v7.0h-1.10zM269.1 519.3h1.10v21.9h-1.10zM273.5 526.8h1.10v17.5h-1.10zM273.5 544.3h1.10v6.2h-1.10zM276.8 506.8h0.90v12.7h-0.90zM328.3 499.3h1.10v1.2h-1.10zM360.2 499.3h1.10v0.4h-1.10zM466.1 499.3h1.10v8.8h-1.10zM473.8 571.9h1.10v4.7h-1.10zM474.9 565.9h1.10v10.7h-1.10zM476.0 514.7h1.10v4.8h-1.10zM478.2 499.3h1.10v15.8h-1.10zM478.2 563.7h1.10v12.9h-1.10zM481.5 499.3h1.10v17.4h-1.10zM485.9 566.7h1.10v9.9h-1.10zM487.0 551.3h1.10v20.7h-1.10zM489.2 499.3h1.10v20.4h-1.10zM489.2 555.3h1.10v13.3h-1.10zM489.2 568.5h1.10v8.1h-1.10zM490.3 499.3h1.10v6.4h-1.10zM490.3 505.7h1.10v19.1h-1.10zM490.3 524.9h1.10v3.8h-1.10zM491.4 573.1h1.10v3.5h-1.10zM493.6 544.8h1.10v6.3h-1.10zM494.7 525.7h1.10v5.6h-1.10zM494.7 564.5h1.10v12.1h-1.10zM498.0 499.3h1.10v11.7h-1.10zM499.1 499.3h1.10v6.0h-1.10zM499.1 563.3h1.10v9.8h-1.10zM500.2 499.3h1.10v20.9h-1.10zM502.4 567.5h1.10v9.1h-1.10zM503.5 529.3h1.10v6.2h-1.10zM504.6 521.1h1.10v15.2h-1.10zM506.8 512.0h1.10v11.3h-1.10zM506.8 553.3h1.10v23.3h-1.10zM507.9 564.1h1.10v8.2h-1.10zM510.1 532.3h1.10v8.5h-1.10zM513.4 556.4h1.10v13.8h-1.10zM515.6 511.9h1.10v10.8h-1.10zM515.6 534.1h1.10v3.1h-1.10zM517.8 572.1h1.10v4.5h-1.10zM518.9 544.9h1.10v9.5h-1.10zM521.1 555.6h1.10v12.2h-1.10zM522.2 543.7h1.10v21.1h-1.10zM523.3 517.6h1.10v6.4h-1.10zM523.3 554.3h1.10v22.3h-1.10zM524.4 507.6h1.10v14.6h-1.10zM524.4 529.5h1.10v9.1h-1.10zM525.5 524.8h1.10v14.8h-1.10zM526.6 499.3h1.10v19.1h-1.10zM526.6 528.1h1.10v7.6h-1.10zM527.7 534.2h1.10v1.6h-1.10zM527.7 549.5h1.10v13.6h-1.10zM529.9 550.6h1.10v7.9h-1.10zM556.3 499.3h0.78v6.1h-0.78zM557.1 499.3h0.78v6.6h-0.78zM559.4 499.3h0.78v12.7h-0.78zM560.2 510.4h0.78v1.0h-0.78zM565.6 516.9h0.78v7.0h-0.78zM568.0 499.3h0.78v26.3h-0.78zM568.0 525.6h0.78v1.2h-0.78zM568.8 499.3h0.78v22.5h-0.78zM570.3 499.3h0.78v17.6h-0.78zM575.0 532.7h0.78v1.3h-0.78zM576.6 530.3h0.78v9.9h-0.78zM584.3 499.3h0.96v2.1h-0.96zM595.9 499.3h0.96v19.5h-0.96zM596.8 499.3h0.96v12.0h-0.96zM598.7 499.3h0.96v12.6h-0.96zM606.4 509.0h0.96v13.1h-0.96zM608.3 499.3h0.96v5.3h-0.96zM608.3 513.8h0.96v17.7h-0.96zM610.3 499.3h0.96v15.3h-0.96zM616.0 499.3h0.96v14.8h-0.96zM616.0 527.3h0.96v10.7h-0.96zM617.0 517.0h0.96v19.3h-0.96zM617.9 519.6h0.96v17.5h-0.96zM625.6 508.8h0.96v12.0h-0.96zM629.3 564.0h0.96v12.6h-0.96zM632.2 567.2h0.96v9.4h-0.96zM635.1 557.5h0.96v14.5h-0.96zM636.0 553.6h0.96v16.3h-0.96zM646.6 565.8h0.96v10.8h-0.96zM648.5 546.4h0.96v11.9h-0.96zM650.4 571.9h0.96v4.7h-0.96zM652.3 544.1h0.96v6.1h-0.96zM655.2 551.1h0.96v6.6h-0.96zM657.1 550.1h0.96v14.6h-0.96zM659.1 543.6h0.96v12.1h-0.96zM659.1 555.8h0.96v8.0h-0.96zM659.1 563.7h0.96v12.9h-0.96zM660.0 542.4h0.96v23.7h-0.96zM665.8 553.9h0.96v7.1h-0.96zM666.7 538.2h0.96v20.8h-0.96zM667.7 536.1h0.96v5.4h-0.96zM669.6 548.6h0.96v7.0h-0.96zM669.6 555.6h0.96v11.6h-0.96zM669.6 567.2h0.96v9.4h-0.96zM671.5 572.8h0.96v3.8h-0.96zM672.5 532.3h0.96v20.0h-0.96zM673.5 553.5h0.96v12.3h-0.96zM675.4 554.7h0.96v16.4h-0.96zM677.3 531.2h0.96v16.9h-0.96zM678.3 545.0h0.96v15.6h-0.96zM680.2 531.9h0.96v13.1h-0.96zM680.2 571.7h0.96v4.9h-0.96zM681.1 554.5h0.96v19.8h-0.96zM682.1 557.6h0.96v16.7h-0.96zM686.9 524.8h0.96v14.1h-0.96zM686.9 538.8h0.96v19.7h-0.96zM688.8 543.6h0.68v24.1h-0.68zM702.9 499.3h0.96v1.5h-0.96zM703.9 499.3h0.96v6.8h-0.96zM704.9 499.3h0.96v6.3h-0.96zM705.8 499.3h0.96v7.7h-0.96zM708.7 499.3h0.96v4.1h-0.96zM711.6 499.3h0.96v0.8h-0.96zM712.5 499.3h0.96v4.5h-0.96zM714.5 499.3h0.96v4.6h-0.96zM716.4 505.2h0.96v1.4h-0.96zM718.3 499.3h0.96v12.0h-0.96zM719.3 499.3h0.96v6.0h-0.96zM726.0 504.5h0.96v5.0h-0.96zM727.9 499.3h0.96v7.0h-0.96zM729.8 506.0h0.96v8.1h-0.96zM731.7 512.3h0.96v1.7h-0.96zM735.6 511.1h0.96v1.6h-0.96zM736.5 507.1h0.96v9.5h-0.96zM741.3 513.7h0.96v3.5h-0.96zM742.3 499.3h0.96v17.0h-0.96zM743.3 499.3h0.96v16.8h-0.96zM752.9 499.3h0.96v19.9h-0.96zM761.5 499.3h0.96v16.1h-0.96zM761.5 515.4h0.96v6.0h-0.96zM763.4 499.3h0.96v19.3h-0.96zM767.3 499.3h0.96v9.9h-0.96zM767.3 509.2h0.96v15.2h-0.96zM771.1 504.4h0.96v22.6h-0.96zM776.9 499.3h0.96v27.5h-0.96zM776.9 526.8h0.96v3.0h-0.96zM778.8 519.2h0.96v7.4h-0.96zM781.7 499.3h0.96v9.1h-0.96zM782.6 515.9h0.96v12.3h-0.96zM784.5 514.1h0.96v12.0h-0.96zM789.3 531.8h0.96v2.0h-0.96zM793.2 516.9h0.96v10.3h-0.96zM794.1 522.1h0.96v7.7h-0.96zM797.0 520.1h0.96v12.3h-0.96zM798.0 499.3h0.96v12.6h-0.96zM805.7 499.3h0.96v6.3h-0.96zM806.6 521.1h0.96v11.5h-0.96zM808.5 499.3h0.96v28.0h-0.96zM809.5 499.3h0.96v18.0h-0.96zM810.5 525.7h0.96v6.4h-0.96zM814.3 499.3h0.96v21.4h-0.96zM814.3 520.7h0.96v13.3h-0.96zM815.3 510.5h0.96v13.0h-0.96zM819.1 532.9h0.96v3.4h-0.96zM822.9 521.8h0.96v11.7h-0.96zM823.9 531.9h0.96v6.8h-0.96zM827.7 499.3h0.96v23.5h-0.96zM827.7 522.8h0.96v14.3h-0.96zM827.7 537.1h0.96v0.4h-0.96zM828.7 499.3h0.96v6.4h-0.96zM833.5 499.3h0.96v16.3h-0.96zM837.3 511.0h0.96v24.9h-0.96zM839.3 499.3h0.96v9.3h-0.96zM840.2 520.7h0.96v13.0h-0.96zM842.1 499.3h0.96v14.5h-0.96zM842.1 524.4h0.96v11.6h-0.96zM843.1 510.2h0.96v27.9h-0.96zM843.1 538.1h0.96v4.4h-0.96zM844.1 523.1h0.96v11.4h-0.96zM846.9 537.3h0.96v3.4h-0.96zM852.7 518.0h0.96v6.7h-0.96zM854.6 499.3h0.96v27.0h-0.96zM856.5 515.5h0.96v23.1h-0.96zM857.5 514.1h0.96v24.1h-0.96zM858.5 499.3h0.96v10.8h-0.96zM861.3 509.7h0.96v22.1h-0.96zM862.3 518.5h0.96v6.2h-0.96zM864.2 505.7h0.96v13.8h-0.96zM865.2 499.3h0.96v24.0h-0.96zM865.2 539.8h0.96v4.4h-0.96zM866.1 535.5h0.96v7.7h-0.96zM867.1 499.3h0.96v5.2h-0.96zM868.1 499.3h0.96v7.6h-0.96zM920.8 499.3h0.88v0.5h-0.88zM934.0 499.3h0.88v7.6h-0.88zM936.7 499.3h0.88v8.0h-0.88zM939.3 499.3h0.88v7.2h-0.88zM941.1 499.3h0.88v9.9h-0.88zM943.7 499.3h0.88v11.3h-0.88zM946.4 499.3h0.88v10.5h-0.88zM947.2 499.3h0.88v11.3h-0.88zM953.4 514.3h0.88v0.5h-0.88zM955.2 499.3h0.88v8.5h-0.88zM956.9 499.3h0.88v8.3h-0.88zM958.7 499.3h0.88v10.7h-0.88zM959.6 518.6h0.88v0.5h-0.88zM961.3 516.1h0.88v7.4h-0.88zM963.1 499.3h0.88v13.0h-0.88zM965.7 499.3h0.88v12.0h-0.88zM966.6 499.3h0.88v14.6h-0.88zM966.6 527.7h0.88v0.2h-0.88zM969.2 529.0h0.88v4.1h-0.88zM996.4 499.3h1.10v0.4h-1.10zM1000.8 499.3h1.10v5.6h-1.10zM1016.2 499.3h1.10v19.2h-1.10zM1018.4 499.3h1.10v16.5h-1.10zM1028.3 499.3h1.10v22.0h-1.10zM1034.9 499.3h1.10v12.3h-1.10zM1042.6 524.9h1.10v2.6h-1.10zM1054.7 519.8h1.10v12.1h-1.10zM1056.9 499.3h1.10v9.2h-1.10zM1158.0 499.3h0.85v0.4h-0.85zM1160.6 499.3h0.85v6.7h-0.85zM1166.5 499.3h0.85v13.5h-0.85zM1174.2 524.5h0.85v1.4h-0.85zM1175.0 499.3h0.85v25.1h-0.85zM1175.9 499.3h0.85v26.7h-0.85zM1175.9 526.0h0.85v2.2h-0.85z" fill="#e39c86"/><path d="M55.9 575.1h0.94v1.5h-0.94zM59.7 573.6h0.94v3.0h-0.94zM64.4 572.3h0.94v4.3h-0.94zM65.3 570.1h0.94v6.5h-0.94zM67.2 570.1h0.94v6.5h-0.94zM71.9 565.1h0.94v8.0h-0.94zM71.9 573.1h0.94v3.5h-0.94zM74.7 564.7h0.94v11.9h-0.94zM80.3 567.2h0.94v9.4h-0.94zM81.3 561.1h0.94v6.6h-0.94zM86.0 560.3h0.94v9.1h-0.94zM86.9 562.1h0.94v14.5h-0.94zM88.8 559.6h0.94v11.1h-0.94zM88.8 570.8h0.94v5.8h-0.94zM92.6 573.0h0.94v3.6h-0.94zM93.5 552.4h0.94v12.7h-0.94zM93.5 574.9h0.94v1.7h-0.94zM94.4 563.4h0.94v13.2h-0.94zM95.4 553.9h0.94v17.3h-0.94zM98.2 554.7h0.94v16.6h-0.94zM98.2 571.4h0.94v5.2h-0.94zM102.9 573.0h0.94v3.6h-0.94zM104.8 554.2h0.94v8.7h-0.94zM104.8 562.9h0.94v13.7h-0.94zM106.7 568.5h0.94v5.5h-0.94zM106.7 574.0h0.94v2.6h-0.94zM109.5 561.5h0.94v5.8h-0.94zM111.4 559.8h0.94v16.8h-0.94zM116.1 572.0h0.94v4.6h-0.94zM118.9 542.9h0.94v26.8h-0.94zM119.8 543.8h0.94v22.1h-0.94zM122.6 559.1h0.94v9.3h-0.94zM122.6 568.4h0.94v8.2h-0.94zM123.6 557.4h0.94v10.7h-0.94zM124.5 571.7h0.94v4.9h-0.94zM125.5 563.7h0.94v8.6h-0.94zM126.4 556.6h0.94v20.0h-0.94zM132.0 555.4h0.94v21.2h-0.94zM133.9 560.8h0.94v15.8h-0.94zM138.6 554.7h0.94v21.9h-0.94zM142.4 559.5h0.94v7.0h-0.94zM145.2 557.1h0.94v10.8h-0.94zM146.1 555.7h0.94v20.9h-0.94zM149.0 554.2h0.94v11.7h-0.94zM149.0 565.9h0.94v10.7h-0.94zM149.9 559.6h0.94v7.5h-0.94zM150.8 557.1h0.94v19.5h-0.94zM153.7 566.9h0.94v9.7h-0.94zM156.5 544.5h0.94v12.5h-0.94zM158.4 574.5h0.94v2.1h-0.94zM159.3 571.9h0.94v4.7h-0.94zM160.2 554.5h0.94v22.1h-0.94zM162.1 552.4h0.94v14.9h-0.94zM162.1 567.3h0.94v9.3h-0.94zM164.0 543.2h0.94v27.5h-0.94zM164.0 570.8h0.94v5.8h-0.94zM205.9 562.2h0.94v14.4h-0.94zM219.1 555.7h0.94v20.1h-0.94zM221.0 574.3h0.94v2.3h-0.94zM240.7 553.3h0.94v12.6h-0.94zM247.1 566.3h1.10v10.1h-1.10zM250.4 571.7h1.10v4.9h-1.10zM251.5 568.3h1.10v8.3h-1.10zM252.6 561.7h1.10v14.9h-1.10zM254.8 564.2h1.10v12.4h-1.10zM262.5 576.4h1.10v0.2h-1.10zM268.0 566.9h1.10v9.7h-1.10zM269.1 572.1h1.10v4.5h-1.10zM272.4 563.5h1.10v13.1h-1.10zM274.6 561.8h1.10v14.8h-1.10zM276.8 563.5h0.90v9.6h-0.90zM276.8 573.1h0.90v3.5h-0.90zM289.8 565.7h1.10v10.9h-1.10zM294.2 557.5h1.10v18.7h-1.10zM303.0 552.0h1.10v13.9h-1.10zM315.1 569.6h1.10v7.0h-1.10zM321.7 573.3h1.10v3.3h-1.10zM328.3 563.6h1.10v9.8h-1.10zM332.7 547.0h1.10v7.3h-1.10zM332.7 554.3h1.10v10.9h-1.10zM338.2 540.3h1.10v11.4h-1.10zM339.3 537.6h1.10v23.7h-1.10zM341.5 576.0h1.10v0.6h-1.10zM348.1 536.4h1.10v27.7h-1.10zM349.2 558.2h1.10v18.4h-1.10zM351.4 555.1h1.10v6.8h-1.10zM360.2 551.4h1.10v19.3h-1.10zM360.2 570.8h1.10v5.8h-1.10zM361.3 544.3h0.90v24.2h-0.90zM428.2 573.8h0.77v2.8h-0.77zM455.2 558.6h0.77v18.0h-0.77zM459.0 536.8h0.77v23.1h-0.77zM459.8 563.5h0.77v13.1h-0.77zM462.1 574.2h0.77v2.4h-0.77zM462.9 566.8h0.23v9.8h-0.23zM470.5 574.9h1.10v1.7h-1.10zM476.0 567.1h1.10v9.5h-1.10zM479.3 557.5h1.10v8.8h-1.10zM479.3 566.3h1.10v9.2h-1.10zM482.6 552.7h1.10v22.5h-1.10zM482.6 575.1h1.10v1.5h-1.10zM488.1 558.9h1.10v6.4h-1.10zM496.9 555.8h1.10v17.6h-1.10zM498.0 558.0h1.10v14.1h-1.10zM499.1 552.3h1.10v11.0h-1.10zM499.1 573.1h1.10v3.5h-1.10zM500.2 556.7h1.10v19.9h-1.10zM502.4 554.9h1.10v12.6h-1.10zM503.5 545.1h1.10v11.1h-1.10zM503.5 574.0h1.10v2.6h-1.10zM505.7 558.6h1.10v18.0h-1.10zM509.0 556.7h1.10v19.9h-1.10zM511.2 554.6h1.10v21.4h-1.10zM512.3 563.5h1.10v6.7h-1.10zM512.3 570.1h1.10v6.5h-1.10zM513.4 570.2h1.10v6.4h-1.10zM514.5 547.9h1.10v17.3h-1.10zM514.5 565.2h1.10v11.4h-1.10zM518.9 554.4h1.10v22.2h-1.10zM520.0 558.0h1.10v18.6h-1.10zM522.2 564.8h1.10v11.8h-1.10zM525.5 541.0h1.10v25.6h-1.10zM529.9 576.4h1.10v0.2h-1.10zM533.2 549.3h0.80v13.9h-0.80zM549.3 576.1h0.78v0.5h-0.78zM550.0 575.6h0.78v1.0h-0.78zM552.4 572.5h0.78v4.1h-0.78zM553.2 571.3h0.78v5.3h-0.78zM554.7 570.7h0.78v5.5h-0.78zM559.4 568.6h0.78v8.0h-0.78zM560.2 567.0h0.78v9.6h-0.78zM561.0 562.1h0.78v14.5h-0.78zM561.7 565.6h0.78v10.2h-0.78zM564.9 570.0h0.78v5.9h-0.78zM564.9 575.9h0.78v0.7h-0.78zM567.2 552.6h0.78v15.2h-0.78zM567.2 567.8h0.78v8.8h-0.78zM568.0 570.1h0.78v6.5h-0.78zM571.9 559.3h0.78v17.3h-0.78zM572.7 552.9h0.78v23.3h-0.78zM574.2 553.6h0.78v8.7h-0.78zM575.8 546.0h0.78v26.7h-0.78zM577.3 572.8h0.78v3.8h-0.78zM633.1 558.2h0.96v18.4h-0.96zM637.0 552.3h0.96v10.7h-0.96zM637.0 563.0h0.96v13.6h-0.96zM638.9 571.6h0.96v5.0h-0.96zM639.9 570.4h0.96v6.2h-0.96zM644.7 576.2h0.96v0.4h-0.96zM649.5 555.6h0.96v21.0h-0.96zM651.4 553.7h0.96v11.8h-0.96zM653.3 545.1h0.96v15.3h-0.96zM654.3 545.3h0.96v22.4h-0.96zM661.0 564.6h0.96v12.0h-0.96zM662.9 540.6h0.96v18.4h-0.96zM663.9 536.6h0.96v12.1h-0.96zM663.9 555.9h0.96v19.8h-0.96zM663.9 575.7h0.96v0.9h-0.96zM667.7 567.4h0.96v9.2h-0.96zM668.7 546.5h0.96v10.9h-0.96zM669.6 537.7h0.96v10.9h-0.96zM676.3 530.7h0.96v14.3h-0.96zM677.3 548.1h0.96v15.2h-0.96zM678.3 560.6h0.96v16.0h-0.96zM681.1 574.3h0.96v2.3h-0.96zM685.0 535.6h0.96v5.6h-0.96zM685.0 562.0h0.96v6.3h-0.96zM685.9 539.2h0.96v12.1h-0.96zM695.3 576.2h0.96v0.4h-0.96zM699.1 576.2h0.96v0.4h-0.96zM702.9 575.4h0.96v1.2h-0.96zM704.9 575.1h0.96v1.5h-0.96zM709.7 574.0h0.96v2.6h-0.96zM713.5 571.1h0.96v5.5h-0.96zM717.3 570.1h0.96v6.5h-0.96zM721.2 572.8h0.96v3.8h-0.96zM722.1 570.7h0.96v5.9h-0.96zM723.1 567.7h0.96v8.9h-0.96zM728.9 570.0h0.96v6.6h-0.96zM736.5 570.8h0.96v5.8h-0.96zM738.5 563.3h0.96v9.1h-0.96zM738.5 572.4h0.96v4.2h-0.96zM739.4 566.0h0.96v7.2h-0.96zM747.1 562.8h0.96v13.8h-0.96zM758.6 568.2h0.96v8.4h-0.96zM766.3 553.9h0.96v22.7h-0.96zM769.2 561.2h0.96v15.4h-0.96zM774.9 561.4h0.96v15.2h-0.96zM777.8 561.7h0.96v14.9h-0.96zM779.7 548.6h0.96v27.3h-0.96zM780.7 556.2h0.96v20.2h-0.96zM783.6 563.1h0.96v11.6h-0.96zM786.5 558.4h0.96v18.2h-0.96zM788.4 561.8h0.96v5.4h-0.96zM792.2 560.5h0.96v16.1h-0.96zM794.1 559.6h0.96v17.0h-0.96zM796.1 563.0h0.96v13.6h-0.96zM798.0 555.5h0.96v21.1h-0.96zM799.9 559.0h0.96v17.6h-0.96zM800.9 543.5h0.96v25.8h-0.96zM804.7 573.9h0.96v2.7h-0.96zM806.6 573.1h0.96v3.5h-0.96zM807.6 574.0h0.96v2.6h-0.96zM808.5 560.3h0.96v11.6h-0.96zM812.4 559.8h0.96v16.8h-0.96zM815.3 546.2h0.96v15.5h-0.96zM817.2 565.3h0.96v11.3h-0.96zM819.1 570.1h0.96v6.5h-0.96zM821.0 568.1h0.96v8.5h-0.96zM822.9 567.3h0.96v9.3h-0.96zM828.7 559.6h0.96v12.8h-0.96zM828.7 572.4h0.96v4.2h-0.96zM831.6 558.8h0.96v17.8h-0.96zM832.5 559.2h0.96v8.9h-0.96zM833.5 549.6h0.96v18.8h-0.96zM836.4 559.2h0.96v5.5h-0.96zM837.3 546.4h0.96v13.1h-0.96zM839.3 564.0h0.96v6.2h-0.96zM841.2 559.8h0.96v9.4h-0.96zM841.2 569.2h0.96v7.4h-0.96zM842.1 548.4h0.96v7.4h-0.96zM843.1 554.5h0.96v15.3h-0.96zM847.9 555.8h0.96v20.8h-0.96zM852.7 556.2h0.96v20.4h-0.96zM854.6 560.5h0.96v16.1h-0.96zM859.4 549.4h0.96v5.9h-0.96zM861.3 563.4h0.96v13.2h-0.96zM865.2 559.5h0.96v12.2h-0.96zM869.0 570.7h0.48v5.9h-0.48zM894.0 575.9h0.88v0.7h-0.88zM896.6 568.9h0.88v7.7h-0.88zM897.5 570.3h0.88v6.3h-0.88zM899.3 565.5h0.88v7.4h-0.88zM899.3 572.9h0.88v3.7h-0.88zM900.2 563.3h0.88v6.5h-0.88zM900.2 569.8h0.88v6.8h-0.88zM901.0 559.7h0.88v9.2h-0.88zM901.0 568.8h0.88v7.8h-0.88zM901.9 553.7h0.88v16.3h-0.88zM901.9 570.0h0.88v6.6h-0.88zM907.2 563.7h0.88v11.4h-0.88zM908.1 557.1h0.88v11.1h-0.88zM908.1 575.0h0.88v1.6h-0.88zM910.7 538.0h0.88v17.2h-0.88zM910.7 567.2h0.88v9.4h-0.88zM945.5 575.8h0.88v0.8h-0.88zM949.9 571.0h0.88v5.6h-0.88zM952.5 566.9h0.88v8.7h-0.88zM953.4 562.8h0.88v13.8h-0.88zM955.2 562.4h0.88v6.9h-0.88zM956.0 558.2h0.88v18.4h-0.88zM960.4 566.7h0.88v9.9h-0.88zM962.2 575.1h0.88v1.5h-0.88zM965.7 558.2h0.88v16.6h-0.88zM969.2 557.0h0.88v16.3h-0.88zM970.1 567.8h0.88v8.8h-0.88zM998.6 573.0h1.10v3.6h-1.10zM999.7 570.9h1.10v5.7h-1.10zM1001.9 567.4h1.10v9.2h-1.10zM1016.2 564.4h1.10v12.2h-1.10zM1022.8 546.2h1.10v23.6h-1.10zM1028.3 573.5h1.10v3.1h-1.10zM1036.0 557.0h1.10v7.1h-1.10zM1040.4 537.6h1.10v11.6h-1.10zM1047.0 558.7h1.10v17.9h-1.10zM1048.1 559.6h1.10v17.0h-1.10zM1049.2 552.0h1.10v23.7h-1.10zM1056.9 537.7h1.10v23.6h-1.10zM1056.9 568.7h1.10v7.9h-1.10zM1058.0 556.1h1.10v20.5h-1.10zM1082.7 573.3h0.85v3.3h-0.85zM1087.8 569.9h0.85v6.7h-0.85zM1091.2 567.0h0.85v5.0h-0.85zM1096.3 564.1h0.85v12.5h-0.85zM1100.6 561.3h0.85v7.3h-0.85zM1101.4 561.8h0.85v9.2h-0.85zM1106.5 555.9h0.85v11.5h-0.85zM1115.9 549.0h0.85v11.9h-0.85zM1117.6 567.0h0.85v9.6h-0.85zM1121.0 568.6h0.85v8.0h-0.85zM1123.5 566.4h0.85v6.6h-0.85zM1123.5 573.0h0.85v3.6h-0.85zM1129.5 544.1h0.85v27.9h-0.85zM1132.0 557.5h0.85v19.1h-0.85zM1133.7 553.4h0.85v10.6h-0.85zM1138.0 573.3h0.85v3.3h-0.85zM1138.8 539.2h0.85v10.5h-0.85zM1141.4 532.5h0.85v23.8h-0.85zM1141.4 556.3h0.85v20.3h-0.85zM1143.1 572.2h0.50v4.4h-0.50z" fill="#b3d2d6"/><path d="M57.8 573.4h0.94v3.2h-0.94zM59.7 499.3h0.94v8.5h-0.94zM70.0 499.3h0.94v11.5h-0.94zM71.9 499.3h0.94v9.2h-0.94zM73.8 499.3h0.94v10.1h-0.94zM73.8 576.1h0.94v0.5h-0.94zM75.6 568.9h0.94v7.7h-0.94zM76.6 499.3h0.94v8.6h-0.94zM77.5 499.3h0.94v5.2h-0.94zM80.3 499.3h0.94v13.6h-0.94zM90.7 499.3h0.94v18.8h-0.94zM100.1 499.3h0.94v9.4h-0.94zM114.2 531.8h0.94v1.5h-0.94zM115.1 561.4h0.94v15.2h-0.94zM123.6 528.8h0.94v8.0h-0.94zM125.5 527.1h0.94v9.2h-0.94zM128.3 523.7h0.94v14.8h-0.94zM132.0 499.3h0.94v5.5h-0.94zM136.7 499.3h0.94v14.8h-0.94zM138.6 528.2h0.94v12.2h-0.94zM147.1 547.8h0.94v20.8h-0.94zM148.0 512.1h0.94v7.5h-0.94zM148.0 519.6h0.94v16.0h-0.94zM149.0 524.8h0.94v17.9h-0.94zM151.8 517.4h0.94v10.1h-0.94zM154.6 525.5h0.94v8.6h-0.94zM157.4 534.8h0.94v9.2h-0.94zM247.1 499.3h1.10v16.6h-1.10zM252.6 507.8h1.10v9.7h-1.10zM260.3 528.9h1.10v6.3h-1.10zM261.4 499.3h1.10v19.4h-1.10zM263.6 499.3h1.10v22.1h-1.10zM265.8 499.3h1.10v26.4h-1.10zM269.1 541.1h1.10v0.2h-1.10zM274.6 499.3h1.10v14.8h-1.10zM275.7 499.3h1.10v21.8h-1.10zM275.7 545.2h1.10v7.2h-1.10zM288.7 567.0h1.10v6.2h-1.10zM296.4 554.5h1.10v10.0h-1.10zM303.0 499.3h1.10v0.3h-1.10zM306.3 575.3h1.10v1.3h-1.10zM310.7 499.3h1.10v2.7h-1.10zM311.8 499.3h1.10v1.3h-1.10zM311.8 570.3h1.10v6.3h-1.10zM316.2 553.4h1.10v17.4h-1.10zM325.0 563.6h1.10v13.0h-1.10zM326.1 499.3h1.10v1.3h-1.10zM332.7 499.3h1.10v0.8h-1.10zM336.0 550.6h1.10v7.4h-1.10zM337.1 541.3h1.10v12.0h-1.10zM338.2 561.9h1.10v11.6h-1.10zM344.8 554.9h1.10v9.2h-1.10zM350.3 499.3h1.10v5.2h-1.10zM353.6 547.8h1.10v21.2h-1.10zM353.6 569.1h1.10v7.5h-1.10zM355.8 511.1h1.10v10.1h-1.10zM360.2 527.6h1.10v23.8h-1.10zM387.5 499.3h0.77v5.1h-0.77zM389.0 499.3h0.77v6.1h-0.77zM398.3 499.3h0.77v10.1h-0.77zM399.8 499.3h0.77v14.1h-0.77zM402.9 511.8h0.77v5.8h-0.77zM403.7 499.3h0.77v17.9h-0.77zM404.4 499.3h0.77v8.2h-0.77zM406.7 504.6h0.77v18.2h-0.77zM407.5 499.3h0.77v24.4h-0.77zM409.1 499.3h0.77v21.0h-0.77zM409.1 520.3h0.77v0.8h-0.77zM413.7 499.3h0.77v18.4h-0.77zM418.3 516.3h0.77v7.5h-0.77zM418.3 523.7h0.77v5.8h-0.77zM419.1 499.3h0.77v22.7h-0.77zM419.8 499.3h0.77v18.3h-0.77zM421.4 526.4h0.77v5.2h-0.77zM442.8 499.3h0.77v2.1h-0.77zM444.4 499.3h0.77v0.6h-0.77zM445.2 499.3h0.77v0.8h-0.77zM446.7 499.3h0.77v0.9h-0.77zM448.2 499.3h0.77v5.3h-0.77zM453.6 499.3h0.77v2.0h-0.77zM461.3 499.3h0.77v9.6h-0.77zM462.1 508.9h0.77v4.5h-0.77zM462.9 499.3h0.23v11.9h-0.23zM482.6 499.3h1.10v8.9h-1.10zM485.9 499.3h1.10v9.8h-1.10zM498.0 511.0h1.10v15.5h-1.10zM504.6 499.3h1.10v21.8h-1.10zM510.1 525.2h1.10v7.0h-1.10zM513.4 520.3h1.10v14.6h-1.10zM514.5 522.4h1.10v15.8h-1.10zM514.5 538.1h1.10v1.2h-1.10zM523.3 499.3h1.10v9.6h-1.10zM528.8 531.2h1.10v8.2h-1.10zM533.2 524.4h0.80v8.2h-0.80zM552.4 499.3h0.78v0.4h-0.78zM567.2 499.3h0.78v8.0h-0.78zM567.2 520.3h0.78v2.5h-0.78zM568.8 521.8h0.78v0.2h-0.78zM571.9 499.3h0.78v25.3h-0.78zM571.9 524.6h0.78v5.9h-0.78zM574.2 499.3h0.78v23.0h-0.78zM574.2 522.3h0.78v10.3h-0.78zM575.0 519.1h0.78v13.6h-0.78zM575.8 499.3h0.78v19.5h-0.78zM577.3 537.8h0.78v4.5h-0.78zM589.1 499.3h0.96v8.8h-0.96zM593.0 499.3h0.96v19.7h-0.96zM599.7 499.3h0.96v26.5h-0.96zM602.6 499.3h0.96v13.5h-0.96zM605.5 505.8h0.96v21.9h-0.96zM606.4 522.1h0.96v8.4h-0.96zM613.1 499.3h0.96v17.0h-0.96zM613.1 516.3h0.96v19.4h-0.96zM616.0 514.1h0.96v13.3h-0.96zM617.0 499.3h0.96v17.7h-0.96zM618.9 518.4h0.96v13.5h-0.96zM619.9 499.3h0.96v25.5h-0.96zM619.9 524.8h0.96v14.6h-0.96zM621.8 517.1h0.96v20.3h-0.96zM624.7 499.3h0.96v17.6h-0.96zM628.5 544.2h0.80v5.4h-0.80zM630.3 563.6h0.96v13.0h-0.96zM637.9 553.3h0.96v15.3h-0.96zM638.9 552.7h0.96v18.9h-0.96zM640.8 568.5h0.96v8.1h-0.96zM641.8 554.9h0.96v13.9h-0.96zM642.7 570.4h0.96v6.2h-0.96zM644.7 550.1h0.96v26.2h-0.96zM645.6 555.2h0.96v21.4h-0.96zM646.6 549.0h0.96v10.6h-0.96zM650.4 547.3h0.96v14.0h-0.96zM656.2 543.6h0.96v13.5h-0.96zM656.2 557.1h0.96v15.4h-0.96zM658.1 552.8h0.96v23.8h-0.96zM661.0 541.4h0.96v6.1h-0.96zM661.9 541.7h0.96v27.4h-0.96zM664.8 540.9h0.96v26.3h-0.96zM664.8 567.2h0.96v9.4h-0.96zM665.8 561.0h0.96v15.6h-0.96zM673.5 534.1h0.96v19.5h-0.96zM674.4 534.0h0.96v12.5h-0.96zM675.4 571.1h0.96v5.5h-0.96zM676.3 571.2h0.96v5.4h-0.96zM680.2 545.1h0.96v13.0h-0.96zM680.2 558.0h0.96v13.7h-0.96zM682.1 574.4h0.96v2.2h-0.96zM685.9 567.7h0.96v8.9h-0.96zM687.9 524.2h0.96v27.0h-0.96zM687.9 551.2h0.96v17.3h-0.96zM688.8 526.2h0.68v17.4h-0.68zM698.1 499.3h0.96v5.5h-0.96zM699.1 499.3h0.96v4.6h-0.96zM711.6 573.7h0.96v2.9h-0.96zM726.0 509.6h0.96v1.4h-0.96zM738.5 499.3h0.96v17.0h-0.96zM741.3 499.3h0.96v14.4h-0.96zM751.9 564.7h0.96v11.9h-0.96zM762.5 499.3h0.96v15.6h-0.96zM762.5 560.7h0.96v15.9h-0.96zM764.4 499.3h0.96v11.6h-0.96zM764.4 558.6h0.96v18.0h-0.96zM773.0 499.3h0.96v17.0h-0.96zM773.0 516.3h0.96v6.5h-0.96zM774.0 567.6h0.96v6.1h-0.96zM777.8 523.2h0.96v3.4h-0.96zM781.7 508.4h0.96v14.0h-0.96zM781.7 522.4h0.96v2.2h-0.96zM784.5 499.3h0.96v14.8h-0.96zM790.3 522.7h0.96v5.5h-0.96zM790.3 575.4h0.96v1.2h-0.96zM792.2 524.8h0.96v1.6h-0.96zM803.7 570.6h0.96v6.0h-0.96zM804.7 523.9h0.96v5.9h-0.96zM811.4 554.5h0.96v22.1h-0.96zM812.4 499.3h0.96v6.2h-0.96zM820.1 557.4h0.96v6.3h-0.96zM822.0 553.8h0.96v11.8h-0.96zM829.7 528.3h0.96v7.5h-0.96zM835.4 512.3h0.96v16.6h-0.96zM845.0 524.5h0.96v18.4h-0.96zM846.0 509.4h0.96v14.0h-0.96zM847.9 499.3h0.96v7.0h-0.96zM847.9 506.3h0.96v20.1h-0.96zM856.5 553.9h0.96v12.3h-0.96zM860.4 576.5h0.96v0.1h-0.96zM863.3 533.0h0.96v7.7h-0.96zM870.8 499.3h0.88v2.2h-0.88zM877.8 499.3h0.88v14.0h-0.88zM884.0 522.2h0.88v0.5h-0.88zM887.5 507.9h0.88v11.6h-0.88zM892.8 499.3h0.88v20.1h-0.88zM927.0 499.3h0.88v3.8h-0.88zM927.9 499.3h0.88v3.9h-0.88zM928.8 499.3h0.88v1.8h-0.88zM931.4 499.3h0.88v0.8h-0.88zM934.9 499.3h0.88v5.3h-0.88zM949.9 511.4h0.88v1.5h-0.88zM950.8 499.3h0.88v15.7h-0.88zM953.4 499.3h0.88v15.0h-0.88zM954.3 499.3h0.88v13.2h-0.88zM956.0 499.3h0.88v5.2h-0.88zM957.8 499.3h0.88v6.1h-0.88zM957.8 505.4h0.88v8.5h-0.88zM958.7 519.8h0.88v1.9h-0.88zM959.6 499.3h0.88v19.3h-0.88zM964.8 499.3h0.88v27.7h-0.88zM967.5 511.1h0.88v8.0h-0.88zM968.4 519.4h0.88v4.5h-0.88zM969.2 499.3h0.88v7.6h-0.88zM969.2 506.9h0.88v22.1h-0.88zM996.4 575.9h1.10v0.7h-1.10zM1003.0 574.8h1.10v1.8h-1.10zM1006.3 499.3h1.10v9.6h-1.10zM1008.5 559.7h1.10v16.9h-1.10zM1014.0 574.6h1.10v2.0h-1.10zM1019.5 571.8h1.10v4.8h-1.10zM1020.6 499.3h1.10v18.4h-1.10zM1020.6 561.8h1.10v14.8h-1.10zM1021.7 549.0h1.10v18.1h-1.10zM1021.7 567.1h1.10v9.5h-1.10zM1028.3 563.6h1.10v9.9h-1.10zM1029.4 544.6h1.10v24.9h-1.10zM1029.4 569.5h1.10v7.1h-1.10zM1030.5 547.0h1.10v10.9h-1.10zM1030.5 557.9h1.10v15.2h-1.10zM1031.6 499.3h1.10v5.4h-1.10zM1031.6 573.1h1.10v3.5h-1.10zM1036.0 537.7h1.10v19.3h-1.10zM1036.0 564.1h1.10v12.5h-1.10zM1037.1 538.4h1.10v15.4h-1.10zM1039.3 499.3h1.10v0.5h-1.10zM1041.5 540.6h1.10v12.6h-1.10zM1041.5 566.7h1.10v9.9h-1.10zM1042.6 536.5h1.10v23.2h-1.10zM1042.6 564.8h1.10v11.8h-1.10zM1044.8 541.5h1.10v6.1h-1.10zM1044.8 547.5h1.10v9.2h-1.10zM1045.9 499.3h1.10v16.8h-1.10zM1047.0 553.3h1.10v5.3h-1.10zM1049.2 499.3h1.10v1.8h-1.10zM1050.3 538.8h1.10v23.0h-1.10zM1052.5 563.8h1.10v7.5h-1.10zM1053.6 499.3h1.10v6.9h-1.10zM1053.6 513.3h1.10v14.5h-1.10zM1060.2 554.8h1.10v21.8h-1.10zM1061.3 567.2h1.10v6.1h-1.10zM1061.3 573.3h1.10v3.3h-1.10zM1062.4 573.8h1.10v2.8h-1.10zM1063.5 532.2h1.10v5.2h-1.10zM1065.7 499.3h0.60v24.1h-0.60zM1065.7 538.8h0.60v16.5h-0.60zM1084.4 572.1h0.85v4.5h-0.85zM1092.1 568.1h0.85v8.5h-0.85zM1109.1 573.9h0.85v2.7h-0.85zM1114.2 563.7h0.85v12.9h-0.85zM1115.9 560.9h0.85v15.7h-0.85zM1118.4 565.7h0.85v7.3h-0.85zM1119.3 557.2h0.85v15.2h-0.85zM1120.1 547.9h0.85v20.8h-0.85zM1122.7 568.5h0.85v8.1h-0.85zM1128.6 541.4h0.85v15.8h-0.85zM1131.2 542.3h0.85v20.6h-0.85zM1132.9 539.8h0.85v9.5h-0.85zM1132.9 549.2h0.85v26.8h-0.85zM1133.7 540.9h0.85v12.5h-0.85zM1133.7 564.0h0.85v12.6h-0.85zM1134.6 539.6h0.85v27.4h-0.85zM1143.1 550.8h0.50v21.4h-0.50zM1164.0 499.3h0.85v10.6h-0.85zM1164.0 565.4h0.85v11.2h-0.85zM1165.7 499.3h0.85v15.6h-0.85zM1170.8 499.3h0.85v15.6h-0.85zM1172.5 499.3h0.85v21.2h-0.85zM1176.7 499.3h0.85v28.0h-0.85zM1124.7 499.3h0.85v4.8h-0.85zM1105.3 499.3h0.85v10.7h-0.85zM1096.5 499.3h0.85v14.6h-0.85zM1114.4 499.3h0.85v6.1h-0.85zM1116.9 499.3h0.85v6.1h-0.85z" fill="#3a7cb9"/><path d="M72.8 507.9h0.94v0.4h-0.94zM84.1 499.3h0.94v17.2h-0.94zM108.5 523.0h0.94v4.7h-0.94zM122.6 505.5h0.94v22.7h-0.94zM128.3 499.3h0.94v8.0h-0.94zM131.1 514.0h0.94v23.1h-0.94zM141.4 499.3h0.94v15.2h-0.94zM153.7 533.1h0.94v9.8h-0.94zM156.5 508.2h0.94v16.9h-0.94zM188.1 575.6h0.94v1.0h-0.94zM189.0 499.3h0.94v7.5h-0.94zM199.3 499.3h0.94v13.9h-0.94zM201.2 563.0h0.94v5.3h-0.94zM204.0 573.1h0.94v3.5h-0.94zM207.8 561.5h0.94v15.1h-0.94zM209.7 559.4h0.94v17.2h-0.94zM213.4 499.3h0.94v21.1h-0.94zM219.1 499.3h0.94v19.9h-0.94zM219.1 519.2h0.94v6.1h-0.94zM220.0 518.5h0.94v5.8h-0.94zM221.0 562.6h0.94v5.3h-0.94zM222.8 499.3h0.94v14.4h-0.94zM228.5 554.9h0.94v10.8h-0.94zM228.5 575.4h0.94v1.2h-0.94zM236.9 574.5h0.94v2.1h-0.94zM249.3 499.3h1.10v10.5h-1.10zM249.3 509.8h1.10v11.8h-1.10zM253.7 499.3h1.10v6.2h-1.10zM262.5 527.7h1.10v8.6h-1.10zM268.0 535.4h1.10v9.5h-1.10zM271.3 519.6h1.10v23.2h-1.10zM273.5 499.3h1.10v27.5h-1.10zM274.6 552.2h1.10v0.3h-1.10zM276.8 519.5h0.90v20.8h-0.90zM286.5 571.2h1.10v5.4h-1.10zM288.7 573.2h1.10v3.4h-1.10zM290.9 563.8h1.10v12.8h-1.10zM293.1 559.2h1.10v17.4h-1.10zM295.3 557.2h1.10v15.5h-1.10zM296.4 564.5h1.10v6.9h-1.10zM298.6 554.1h1.10v22.5h-1.10zM299.7 555.1h1.10v13.5h-1.10zM304.1 551.2h1.10v15.6h-1.10zM306.3 552.3h1.10v11.4h-1.10zM309.6 547.5h1.10v15.1h-1.10zM309.6 562.6h1.10v14.0h-1.10zM310.7 547.9h1.10v22.2h-1.10zM311.8 547.7h1.10v22.7h-1.10zM312.9 545.6h1.10v13.3h-1.10zM314.0 547.0h1.10v7.5h-1.10zM315.1 547.2h1.10v14.0h-1.10zM315.1 561.2h1.10v8.4h-1.10zM316.2 570.8h1.10v5.8h-1.10zM317.3 560.5h1.10v15.5h-1.10zM318.4 546.8h1.10v10.6h-1.10zM318.4 557.4h1.10v11.5h-1.10zM319.5 545.5h1.10v22.9h-1.10zM321.7 543.9h1.10v23.2h-1.10zM321.7 567.1h1.10v6.1h-1.10zM323.9 540.9h1.10v24.7h-1.10zM325.0 544.6h1.10v13.6h-1.10zM325.0 558.2h1.10v5.4h-1.10zM326.1 548.4h1.10v10.7h-1.10zM326.1 559.1h1.10v17.5h-1.10zM327.2 541.5h1.10v21.4h-1.10zM327.2 562.8h1.10v13.8h-1.10zM328.3 539.4h1.10v24.2h-1.10zM328.3 573.4h1.10v3.2h-1.10zM329.4 540.1h1.10v25.0h-1.10zM329.4 565.1h1.10v11.5h-1.10zM332.7 541.4h1.10v5.6h-1.10zM332.7 565.1h1.10v11.5h-1.10zM336.0 558.0h1.10v17.9h-1.10zM336.0 575.8h1.10v0.8h-1.10zM337.1 558.5h1.10v18.1h-1.10zM342.6 536.6h1.10v27.7h-1.10zM343.7 534.0h1.10v26.0h-1.10zM343.7 560.0h1.10v14.7h-1.10zM343.7 574.7h1.10v1.9h-1.10zM345.9 536.2h1.10v24.8h-1.10zM345.9 560.9h1.10v10.8h-1.10zM347.0 560.3h1.10v16.3h-1.10zM349.2 533.6h1.10v24.6h-1.10zM350.3 533.6h1.10v18.6h-1.10zM350.3 552.2h1.10v23.4h-1.10zM351.4 533.3h1.10v14.0h-1.10zM351.4 547.3h1.10v7.8h-1.10zM351.4 575.0h1.10v1.6h-1.10zM352.5 532.3h1.10v25.9h-1.10zM354.7 533.0h1.10v13.1h-1.10zM354.7 557.0h1.10v10.7h-1.10zM354.7 567.8h1.10v8.8h-1.10zM355.8 534.8h1.10v20.8h-1.10zM355.8 566.9h1.10v9.7h-1.10zM356.9 540.5h1.10v13.7h-1.10zM356.9 554.2h1.10v16.9h-1.10zM356.9 571.1h1.10v5.5h-1.10zM358.0 533.3h1.10v20.2h-1.10zM358.0 565.1h1.10v6.1h-1.10zM359.1 527.4h1.10v22.3h-1.10zM359.1 549.7h1.10v23.3h-1.10zM359.1 573.0h1.10v3.6h-1.10zM412.9 519.2h0.77v8.3h-0.77zM413.7 523.3h0.77v11.5h-0.77zM419.8 524.1h0.77v14.7h-0.77zM427.4 575.3h0.77v1.3h-0.77zM435.9 560.9h0.77v15.7h-0.77zM440.5 555.9h0.77v14.7h-0.77zM443.6 573.6h0.77v3.0h-0.77zM454.4 554.9h0.77v11.5h-0.77zM455.2 537.3h0.77v16.2h-0.77zM582.4 499.3h0.96v0.4h-0.96zM592.0 499.3h0.96v6.3h-0.96zM592.0 505.6h0.96v11.1h-0.96zM596.8 511.3h0.96v11.4h-0.96zM603.5 509.6h0.96v19.4h-0.96zM604.5 499.3h0.96v6.7h-0.96zM605.5 499.3h0.96v6.5h-0.96zM607.4 511.7h0.96v8.5h-0.96zM615.1 499.3h0.96v16.8h-0.96zM617.0 536.3h0.96v2.3h-0.96zM620.8 528.3h0.96v14.0h-0.96zM621.8 537.3h0.96v5.0h-0.96zM626.6 517.4h0.96v8.6h-0.96zM627.5 548.5h0.96v2.6h-0.96zM628.5 499.3h0.80v21.4h-0.80zM641.8 549.6h0.96v5.3h-0.96zM641.8 568.9h0.96v7.7h-0.96zM647.5 549.9h0.96v6.4h-0.96zM648.5 571.3h0.96v5.3h-0.96zM657.1 542.3h0.96v7.8h-0.96zM658.1 542.3h0.96v10.5h-0.96zM665.8 536.7h0.96v17.2h-0.96zM666.7 558.9h0.96v17.7h-0.96zM670.6 548.7h0.96v27.4h-0.96zM671.5 554.2h0.96v18.6h-0.96zM674.4 546.5h0.96v9.8h-0.96zM674.4 556.3h0.96v20.3h-0.96zM675.4 530.1h0.96v24.6h-0.96zM676.3 545.0h0.96v26.2h-0.96zM678.3 530.1h0.96v7.2h-0.96zM681.1 531.7h0.96v22.8h-0.96zM682.1 536.6h0.96v21.0h-0.96zM684.0 528.3h0.96v19.0h-0.96zM685.0 525.5h0.96v10.1h-0.96zM685.0 555.5h0.96v6.5h-0.96zM685.0 568.3h0.96v8.3h-0.96zM687.9 568.5h0.96v8.1h-0.96zM688.8 567.6h0.68v9.0h-0.68zM692.4 499.3h0.96v0.8h-0.96zM716.4 499.3h0.96v5.9h-0.96zM721.2 499.3h0.96v10.7h-0.96zM724.1 499.3h0.96v11.0h-0.96zM730.8 505.5h0.96v7.4h-0.96zM735.6 499.3h0.96v11.8h-0.96zM744.2 499.3h0.96v16.3h-0.96zM746.1 504.8h0.96v12.5h-0.96zM747.1 499.3h0.96v19.8h-0.96zM748.1 499.3h0.96v16.5h-0.96zM748.1 515.8h0.96v3.4h-0.96zM756.7 499.3h0.96v12.6h-0.96zM756.7 511.9h0.96v8.7h-0.96zM759.6 499.3h0.96v19.2h-0.96zM760.5 499.3h0.96v24.0h-0.96zM764.4 510.9h0.96v6.2h-0.96zM766.3 499.3h0.96v16.0h-0.96zM768.2 499.3h0.96v19.0h-0.96zM770.1 504.5h0.96v21.1h-0.96zM772.1 499.3h0.96v8.6h-0.96zM772.1 507.9h0.96v12.1h-0.96zM774.0 499.3h0.96v21.0h-0.96zM775.9 499.3h0.96v26.8h-0.96zM779.7 499.3h0.96v9.1h-0.96zM779.7 508.4h0.96v14.6h-0.96zM783.6 509.4h0.96v20.8h-0.96zM787.4 499.3h0.96v21.8h-0.96zM789.3 524.8h0.96v7.0h-0.96zM793.2 499.3h0.96v17.6h-0.96zM796.1 499.3h0.96v14.3h-0.96zM798.0 528.2h0.96v6.5h-0.96zM798.9 517.3h0.96v13.4h-0.96zM800.9 518.5h0.96v15.4h-0.96zM805.7 520.0h0.96v5.1h-0.96zM807.6 499.3h0.96v16.7h-0.96zM809.5 517.3h0.96v17.2h-0.96zM813.3 516.5h0.96v15.5h-0.96zM815.3 499.3h0.96v11.2h-0.96zM818.1 522.4h0.96v10.3h-0.96zM819.1 512.8h0.96v20.1h-0.96zM822.9 499.3h0.96v22.5h-0.96zM826.8 499.3h0.96v14.4h-0.96zM828.7 540.2h0.96v1.4h-0.96zM831.6 516.9h0.96v20.2h-0.96zM832.5 524.0h0.96v12.9h-0.96zM836.4 504.8h0.96v13.0h-0.96zM840.2 499.3h0.96v11.2h-0.96zM841.2 499.3h0.96v22.2h-0.96zM844.1 499.3h0.96v8.3h-0.96zM845.0 499.3h0.96v25.2h-0.96zM849.8 527.3h0.96v12.8h-0.96zM851.7 544.3h0.96v1.0h-0.96zM855.6 504.4h0.96v21.2h-0.96zM857.5 499.3h0.96v14.8h-0.96zM860.4 499.3h0.96v21.0h-0.96zM861.3 499.3h0.96v10.4h-0.96zM867.1 540.3h0.96v2.5h-0.96zM868.1 506.9h0.96v12.4h-0.96zM868.1 526.4h0.96v18.1h-0.96zM907.2 550.4h0.88v13.3h-0.88zM908.1 568.2h0.88v6.8h-0.88zM909.8 572.2h0.88v4.4h-0.88zM913.4 545.4h0.44v10.8h-0.44zM913.4 575.4h0.44v1.2h-0.44zM930.5 499.3h0.88v4.2h-0.88zM932.3 499.3h0.88v5.2h-0.88zM934.9 504.6h0.88v5.0h-0.88zM952.5 509.0h0.88v6.6h-0.88zM965.7 511.3h0.88v7.5h-0.88zM967.5 499.3h0.88v11.8h-0.88zM1011.8 499.3h1.10v13.2h-1.10zM1012.9 499.3h1.10v3.3h-1.10zM1037.1 499.3h1.10v5.2h-1.10zM1050.3 499.3h1.10v25.5h-1.10z" fill="#d7652a"/><path d="M189.9 574.8h0.94v1.8h-0.94zM191.8 573.5h0.94v3.1h-0.94zM193.7 572.4h0.94v4.2h-0.94zM194.6 571.1h0.94v5.5h-0.94zM195.6 571.0h0.94v5.6h-0.94zM197.5 571.6h0.94v5.0h-0.94zM198.4 568.3h0.94v8.3h-0.94zM203.1 567.5h0.94v9.1h-0.94zM206.9 567.8h0.94v8.8h-0.94zM208.7 557.7h0.94v15.1h-0.94zM208.7 572.8h0.94v3.8h-0.94zM210.6 566.7h0.94v9.9h-0.94zM214.4 565.7h0.94v10.9h-0.94zM217.2 558.5h0.94v18.1h-0.94zM223.8 545.6h0.94v15.2h-0.94zM223.8 560.9h0.94v15.7h-0.94zM224.7 556.7h0.94v9.0h-0.94zM226.6 539.5h0.94v14.4h-0.94zM227.5 542.4h0.94v25.3h-0.94zM227.5 567.7h0.94v8.9h-0.94zM232.2 553.2h0.94v23.4h-0.94zM234.1 565.2h0.94v11.4h-0.94zM235.1 557.4h0.94v19.2h-0.94zM236.9 544.4h0.94v22.4h-0.94zM237.9 571.6h0.94v5.0h-0.94zM238.8 551.0h0.94v16.6h-0.94zM239.8 545.3h0.94v27.5h-0.94zM241.6 537.5h0.94v18.0h-0.94zM241.6 555.5h0.94v21.1h-0.94zM242.6 541.8h0.94v9.1h-0.94zM242.6 550.9h0.94v8.4h-0.94zM242.6 559.4h0.94v17.2h-0.94zM243.5 561.5h0.94v7.5h-0.94zM244.5 572.5h0.34v4.1h-0.34zM250.4 499.3h1.10v20.1h-1.10zM251.5 521.8h1.10v1.7h-1.10zM259.2 499.3h1.10v15.7h-1.10zM260.3 499.3h1.10v11.7h-1.10zM260.3 511.0h1.10v10.9h-1.10zM266.9 525.0h1.10v17.5h-1.10zM275.7 521.1h1.10v24.0h-1.10zM301.9 553.3h1.10v23.3h-1.10zM304.1 566.8h1.10v9.8h-1.10zM307.4 564.7h1.10v11.9h-1.10zM308.5 547.8h1.10v11.5h-1.10zM310.7 570.0h1.10v6.6h-1.10zM312.9 558.9h1.10v12.6h-1.10zM314.0 554.5h1.10v14.5h-1.10zM317.3 545.0h1.10v8.5h-1.10zM320.6 542.7h1.10v21.0h-1.10zM320.6 563.7h1.10v12.9h-1.10zM323.9 565.7h1.10v8.9h-1.10zM331.6 556.5h1.10v11.4h-1.10zM333.8 538.3h1.10v22.2h-1.10zM340.4 544.4h1.10v22.6h-1.10zM340.4 567.1h1.10v5.9h-1.10zM342.6 564.3h1.10v12.3h-1.10zM344.8 534.8h1.10v20.1h-1.10zM344.8 564.1h1.10v12.5h-1.10zM353.6 531.8h1.10v16.1h-1.10zM355.8 528.5h1.10v6.3h-1.10zM358.0 571.1h1.10v5.5h-1.10zM361.3 530.2h0.90v14.1h-0.90zM361.3 568.5h0.90v8.1h-0.90zM431.3 568.6h0.77v8.0h-0.77zM433.6 563.1h0.77v13.5h-0.77zM439.0 554.3h0.77v22.3h-0.77zM439.8 567.1h0.77v9.5h-0.77zM443.6 558.4h0.77v15.2h-0.77zM444.4 570.9h0.77v5.7h-0.77zM445.2 556.2h0.77v9.0h-0.77zM445.9 561.4h0.77v15.2h-0.77zM446.7 568.1h0.77v8.5h-0.77zM448.2 550.2h0.77v21.4h-0.77zM449.0 566.4h0.77v10.2h-0.77zM449.8 545.9h0.77v7.2h-0.77zM452.9 573.9h0.77v2.7h-0.77zM457.5 562.9h0.77v13.7h-0.77zM461.3 535.5h0.77v8.3h-0.77zM462.1 558.7h0.77v15.5h-0.77zM472.7 572.6h1.10v4.0h-1.10zM483.7 549.7h1.10v26.9h-1.10zM484.8 557.6h1.10v6.9h-1.10zM492.5 544.1h1.10v25.0h-1.10zM492.5 569.0h1.10v7.6h-1.10zM493.6 551.1h1.10v25.5h-1.10zM496.9 573.3h1.10v3.3h-1.10zM498.0 572.1h1.10v4.5h-1.10zM502.4 539.7h1.10v15.2h-1.10zM503.5 556.2h1.10v17.8h-1.10zM504.6 544.3h1.10v15.3h-1.10zM504.6 571.4h1.10v5.2h-1.10zM513.4 551.2h1.10v5.2h-1.10zM531.0 554.9h1.10v15.6h-1.10zM557.1 568.2h0.78v8.4h-0.78zM561.7 575.8h0.78v0.8h-0.78zM564.1 560.3h0.78v16.3h-0.78zM568.0 553.9h0.78v16.2h-0.78zM570.3 561.0h0.78v15.6h-0.78zM571.1 558.8h0.78v10.3h-0.78zM574.2 544.0h0.78v9.6h-0.78zM575.0 556.1h0.78v20.5h-0.78zM575.8 572.7h0.78v3.9h-0.78zM576.6 563.4h0.78v12.1h-0.78zM576.6 575.5h0.78v1.1h-0.78zM700.1 576.1h0.96v0.5h-0.96zM708.7 572.6h0.96v4.0h-0.96zM712.5 574.3h0.96v2.3h-0.96zM714.5 570.6h0.96v6.0h-0.96zM715.4 499.3h0.96v9.7h-0.96zM724.1 568.4h0.96v8.2h-0.96zM725.0 569.8h0.96v6.8h-0.96zM727.9 566.2h0.96v9.6h-0.96zM731.7 570.6h0.96v6.0h-0.96zM733.7 499.3h0.96v15.1h-0.96zM739.4 499.3h0.96v12.7h-0.96zM745.2 499.3h0.96v5.7h-0.96zM750.9 509.3h0.96v7.7h-0.96zM752.9 570.9h0.96v5.7h-0.96zM753.8 499.3h0.96v19.2h-0.96zM754.8 565.3h0.96v11.3h-0.96zM759.6 518.5h0.96v3.1h-0.96zM762.5 514.9h0.96v6.5h-0.96zM778.8 499.3h0.96v19.9h-0.96zM783.6 574.8h0.96v1.8h-0.96zM785.5 572.5h0.96v4.1h-0.96zM788.4 504.7h0.96v17.2h-0.96zM791.3 550.5h0.96v26.1h-0.96zM797.0 549.0h0.96v17.0h-0.96zM801.8 565.5h0.96v11.1h-0.96zM804.7 552.4h0.96v21.6h-0.96zM805.7 548.0h0.96v8.4h-0.96zM807.6 550.5h0.96v23.5h-0.96zM808.5 545.4h0.96v14.9h-0.96zM810.5 499.3h0.96v17.5h-0.96zM812.4 516.4h0.96v18.1h-0.96zM813.3 499.3h0.96v17.2h-0.96zM814.3 575.6h0.96v1.0h-0.96zM816.2 570.0h0.96v6.6h-0.96zM822.0 565.5h0.96v10.3h-0.96zM822.9 559.3h0.96v8.0h-0.96zM825.8 545.0h0.96v8.7h-0.96zM825.8 563.1h0.96v13.5h-0.96zM826.8 513.7h0.96v8.5h-0.96zM827.7 559.3h0.96v17.3h-0.96zM829.7 547.1h0.96v18.8h-0.96zM831.6 511.4h0.96v5.5h-0.96zM837.3 499.3h0.96v11.7h-0.96zM839.3 570.1h0.96v6.5h-0.96zM846.0 555.8h0.96v20.8h-0.96zM851.7 499.3h0.96v26.1h-0.96zM855.6 525.7h0.96v12.0h-0.96zM855.6 558.6h0.96v16.6h-0.96zM862.3 558.4h0.96v17.2h-0.96zM862.3 575.6h0.96v1.0h-0.96zM868.1 519.4h0.96v7.1h-0.96zM869.0 499.3h0.48v22.3h-0.48zM946.4 575.4h0.88v1.2h-0.88zM956.9 562.3h0.88v14.3h-0.88zM962.2 563.6h0.88v11.5h-0.88zM963.1 571.8h0.88v4.8h-0.88zM964.0 567.3h0.88v9.3h-0.88zM964.8 558.7h0.88v5.0h-0.88zM967.5 547.8h0.88v12.0h-0.88zM967.5 567.9h0.88v8.7h-0.88zM968.4 572.9h0.88v3.7h-0.88zM969.2 573.3h0.88v3.3h-0.88zM971.0 566.3h0.10v10.3h-0.10zM1003.0 566.9h1.10v7.8h-1.10zM1006.3 562.4h1.10v14.2h-1.10zM1007.4 559.8h1.10v16.8h-1.10zM1010.7 554.9h1.10v21.7h-1.10zM1012.9 552.1h1.10v21.1h-1.10zM1015.1 552.5h1.10v23.0h-1.10zM1015.1 575.5h1.10v1.1h-1.10zM1019.5 546.9h1.10v24.8h-1.10zM1025.0 546.1h1.10v11.9h-1.10zM1025.0 558.0h1.10v18.6h-1.10zM1026.1 544.7h1.10v24.4h-1.10zM1026.1 574.2h1.10v2.4h-1.10zM1027.2 542.9h1.10v10.4h-1.10zM1027.2 575.1h1.10v1.5h-1.10zM1030.5 541.3h1.10v5.7h-1.10zM1031.6 560.5h1.10v12.6h-1.10zM1037.1 553.8h1.10v13.8h-1.10zM1039.3 555.6h1.10v21.0h-1.10zM1040.4 549.2h1.10v14.1h-1.10zM1040.4 563.4h1.10v13.2h-1.10zM1042.6 559.8h1.10v5.0h-1.10zM1043.7 555.4h1.10v12.6h-1.10zM1043.7 568.0h1.10v8.6h-1.10zM1045.9 562.9h1.10v9.7h-1.10zM1045.9 572.6h1.10v4.0h-1.10zM1048.1 535.2h1.10v24.4h-1.10zM1050.3 561.8h1.10v14.8h-1.10zM1051.4 542.9h1.10v11.5h-1.10zM1051.4 568.4h1.10v8.2h-1.10zM1052.5 539.3h1.10v11.8h-1.10zM1052.5 571.4h1.10v5.2h-1.10zM1053.6 537.8h1.10v16.2h-1.10zM1054.7 531.8h1.10v22.9h-1.10zM1054.7 554.7h1.10v12.7h-1.10zM1054.7 567.4h1.10v9.2h-1.10zM1056.9 561.3h1.10v7.4h-1.10zM1059.1 534.6h1.10v16.7h-1.10zM1061.3 537.3h1.10v18.5h-1.10zM1062.4 562.2h1.10v11.6h-1.10zM1063.5 537.4h1.10v11.3h-1.10zM1064.6 528.5h1.10v26.4h-1.10zM1065.7 555.3h0.60v5.7h-0.60zM1065.7 560.9h0.60v15.7h-0.60zM1079.3 575.9h0.85v0.7h-0.85zM1085.3 571.8h0.85v4.8h-0.85zM1087.0 570.5h0.85v6.1h-0.85zM1089.5 569.3h0.85v7.3h-0.85zM1090.4 568.3h0.85v6.1h-0.85zM1091.2 572.0h0.85v4.6h-0.85zM1095.5 564.3h0.85v12.3h-0.85zM1099.7 561.5h0.85v15.1h-0.85zM1106.5 567.3h0.85v9.3h-0.85zM1107.4 563.2h0.85v9.8h-0.85zM1107.4 573.0h0.85v3.6h-0.85zM1108.2 573.4h0.85v3.2h-0.85zM1109.1 561.9h0.85v11.9h-0.85zM1109.9 553.3h0.85v13.2h-0.85zM1115.0 549.8h0.85v26.8h-0.85zM1118.4 548.6h0.85v17.1h-0.85zM1120.1 568.7h0.85v7.9h-0.85zM1121.0 547.0h0.85v6.3h-0.85zM1121.0 553.3h0.85v15.3h-0.85zM1123.5 547.1h0.85v8.5h-0.85zM1124.4 544.6h0.85v17.3h-0.85zM1125.2 544.1h0.85v26.3h-0.85zM1126.1 565.8h0.85v10.8h-0.85zM1126.9 541.7h0.85v22.5h-0.85zM1126.9 564.3h0.85v12.3h-0.85zM1129.5 572.0h0.85v4.6h-0.85zM1130.3 569.8h0.85v6.8h-0.85zM1132.9 576.1h0.85v0.5h-0.85zM1134.6 567.0h0.85v9.6h-0.85zM1139.7 558.9h0.85v17.7h-0.85zM1140.5 558.0h0.85v18.6h-0.85zM1142.2 549.5h0.85v27.1h-0.85zM1143.1 538.0h0.50v12.8h-0.50zM1153.8 575.8h0.85v0.8h-0.85zM1157.2 571.7h0.85v4.9h-0.85zM1168.2 564.1h0.85v12.5h-0.85zM1174.2 572.8h0.85v3.8h-0.85zM1176.7 548.8h0.85v24.7h-0.85z" fill="#1a4e97"/><path d="M429.0 572.3h0.77v4.3h-0.77zM430.5 569.8h0.77v6.8h-0.77zM432.1 566.3h0.77v10.3h-0.77zM432.8 566.1h0.77v10.5h-0.77zM434.4 561.9h0.77v13.5h-0.77zM435.1 563.0h0.77v6.6h-0.77zM436.7 557.9h0.77v16.1h-0.77zM436.7 574.1h0.77v2.5h-0.77zM438.2 556.7h0.77v19.9h-0.77zM441.3 565.6h0.77v11.0h-0.77zM442.1 554.5h0.77v22.1h-0.77zM446.7 561.2h0.77v7.0h-0.77zM447.5 564.6h0.77v12.0h-0.77zM448.2 571.6h0.77v5.0h-0.77zM449.8 570.4h0.77v6.2h-0.77zM452.1 556.5h0.77v20.1h-0.77zM452.9 543.9h0.77v24.7h-0.77zM452.9 568.7h0.77v5.2h-0.77zM455.9 568.2h0.77v8.4h-0.77zM456.7 571.5h0.77v5.1h-0.77zM457.5 540.2h0.77v22.6h-0.77zM459.0 559.9h0.77v16.7h-0.77zM460.6 554.7h0.77v21.7h-0.77zM460.6 576.4h0.77v0.2h-0.77zM461.3 543.9h0.77v14.4h-0.77zM461.3 558.3h0.77v18.3h-0.77zM462.1 534.9h0.77v23.7h-0.77z" fill="#784f87"/><path d="M1133.5 499.3h0.85v8.8h-0.85zM1115.2 499.3h0.85v12.1h-0.85zM1134.2 499.3h0.85v7.0h-0.85z" fill="#dd7b60"/><rect x="244.8" y="498.3" width="2.3" height="79.3" fill="#fff"/><rect x="362.2" y="498.3" width="2.2" height="79.3" fill="#fff"/><rect x="463.1" y="498.3" width="1.9" height="79.3" fill="#fff"/><rect x="534" y="498.3" width="2" height="79.3" fill="#fff"/><rect x="578.9" y="498.3" width="1.6" height="79.3" fill="#fff"/><rect x="869.5" y="498.3" width="1.3" height="79.3" fill="#fff"/><rect x="971.1" y="498.3" width="2.2" height="79.3" fill="#fff"/><rect x="1066.3" y="498.3" width="2" height="79.3" fill="#fff"/></g>
<g stroke="#6d6e71" stroke-width="1" fill="none">
<path d="M37.3 499.4V576.6"/>
<path d="M32 499.4H37.3"/>
<path d="M32 530.2H37.3"/>
<path d="M32 561.1H37.3"/>
</g>
<g font-size="15" fill="#231f20">
<text x="25.6" y="504.9" text-anchor="end">1.0</text>
<text x="25.6" y="535.7" text-anchor="end">0.6</text>
<text x="25.6" y="566.6" text-anchor="end">0.2</text>
</g>
<text transform="translate(1188.5 539.8) rotate(90)" font-size="15" fill="#231f20" text-anchor="middle"><tspan font-style="italic">K</tspan> = 11</text>
<g stroke="#9a9a9a" stroke-width="0.9" stroke-dasharray="4 2.2" fill="none">
<path d="M41.5 578V722.5"/>
<path d="M244.6 578V722.5"/>
<path d="M363.2 604V722.5"/>
<path d="M464.4 578V722.5"/>
<path d="M535.2 604V722.5"/>
<path d="M579.4 578V722.5"/>
<path d="M869.8 604V722.5"/>
<path d="M972.6 578V722.5"/>
<path d="M1066.6 578V722.5"/>
<path d="M1178.8 578V722.5"/>
</g>
<text x="141.2" y="594.8" font-size="15" fill="#2c5fa6" text-anchor="middle">PA</text>
<path d="M48 602.3H234.5" stroke="#2c5fa6" stroke-width="2.2"/>
<text x="354.8" y="594.8" font-size="15" fill="#8a5b9a" text-anchor="middle">SS</text>
<path d="M256.5 602.3H453.6" stroke="#8a5b9a" stroke-width="2.2"/>
<text x="524" y="594.8" font-size="15" fill="#d9692e" text-anchor="middle">Iodent</text>
<path d="M475 602.3H572.4" stroke="#d9692e" stroke-width="2.2"/>
<text x="777.6" y="594.8" font-size="15" fill="#1fa0a8" text-anchor="middle">NSS</text>
<path d="M596.5 602.3H958.6" stroke="#1fa0a8" stroke-width="2.2"/>
<text x="1019.6" y="594.8" font-size="15" fill="#3e9e4c" text-anchor="middle">PB</text>
<path d="M980.4 602.3H1058.4" stroke="#3e9e4c" stroke-width="2.2"/>
<text x="1125.1" y="594.8" font-size="15" fill="#e59a84" text-anchor="middle">SPT</text>
<path d="M1078.2 602.3H1171.7" stroke="#e59a84" stroke-width="2.2"/>
<path d="M147.5 682.6L147.5 661.4A21.2 21.2 0 0 1 168.07 677.47Z" fill="#c2662b"/><path d="M147.5 682.6L168.07 677.47A21.2 21.2 0 1 1 141.3 662.33Z" fill="#0b5d97"/><path d="M147.5 682.6L141.3 662.33A21.2 21.2 0 0 1 147.5 661.4Z" fill="#d0d2d3"/>
<text x="147.3" y="652.3" font-size="15" fill="#231f20" text-anchor="middle">PA</text>
<text x="151" y="720.5" font-size="15" fill="#231f20" text-anchor="middle"><tspan font-style="italic">n</tspan> = 217</text>
<path d="M306 682.6L306 661.4A21.2 21.2 0 0 1 314.28 663.09Z" fill="#c2662b"/><path d="M306 682.6L314.28 663.09A21.2 21.2 0 1 1 304.15 661.48Z" fill="#0b5d97"/><path d="M306 682.6L304.15 661.48A21.2 21.2 0 0 1 306 661.4Z" fill="#d0d2d3"/>
<text x="306" y="652.3" font-size="15" fill="#231f20" text-anchor="middle">CN_SS</text>
<text x="310.4" y="720.5" font-size="15" fill="#231f20" text-anchor="middle"><tspan font-style="italic">n</tspan> = 103</text>
<path d="M415.5 682.6L415.5 661.4A21.2 21.2 0 0 1 436.07 677.47Z" fill="#c2662b"/><path d="M415.5 682.6L436.07 677.47A21.2 21.2 0 1 1 404.11 664.72Z" fill="#0b5d97"/><path d="M415.5 682.6L404.11 664.72A21.2 21.2 0 0 1 415.5 661.4Z" fill="#d0d2d3"/>
<text x="415.5" y="652.3" font-size="15" fill="#231f20" text-anchor="middle">US_SS</text>
<text x="419.2" y="720.5" font-size="15" fill="#231f20" text-anchor="middle"><tspan font-style="italic">n</tspan> = 129</text>
<path d="M501.6 682.6L501.6 661.4A21.2 21.2 0 0 1 509.88 663.09Z" fill="#c2662b"/><path d="M501.6 682.6L509.88 663.09A21.2 21.2 0 1 1 500.12 661.45Z" fill="#0b5d97"/><path d="M501.6 682.6L500.12 661.45A21.2 21.2 0 0 1 501.6 661.4Z" fill="#d0d2d3"/>
<text x="480" y="637" font-size="15" fill="#231f20">CN_</text>
<text x="479.8" y="655.7" font-size="15" fill="#231f20">Iodent</text>
<text x="503.3" y="720.5" font-size="15" fill="#231f20" text-anchor="middle"><tspan font-style="italic">n</tspan> = 63</text>
<path d="M556.5 682.6L556.5 661.4A21.2 21.2 0 0 1 558.35 661.48Z" fill="#c2662b"/><path d="M556.5 682.6L558.35 661.48A21.2 21.2 0 1 1 556.5 661.4Z" fill="#0b5d97"/><path d="M556.5 682.6L556.5 661.4A21.2 21.2 0 0 1 556.5 661.4Z" fill="#d0d2d3"/>
<text x="556.5" y="637.4" font-size="15" fill="#231f20" text-anchor="middle">US_</text>
<text x="556.5" y="656" font-size="15" fill="#231f20" text-anchor="middle">Iodent</text>
<text x="557.8" y="720.5" font-size="15" fill="#231f20" text-anchor="middle"><tspan font-style="italic">n</tspan> = 55</text>
<path d="M719.4 682.6L719.4 661.4A21.2 21.2 0 1 1 700.31 691.83Z" fill="#c2662b"/><path d="M719.4 682.6L700.31 691.83A21.2 21.2 0 0 1 714.74 661.92Z" fill="#0b5d97"/><path d="M719.4 682.6L714.74 661.92A21.2 21.2 0 0 1 719.4 661.4Z" fill="#d0d2d3"/>
<text x="719.4" y="652.3" font-size="15" fill="#231f20" text-anchor="middle">CN_NSS</text>
<text x="725" y="720.5" font-size="15" fill="#231f20" text-anchor="middle"><tspan font-style="italic">n</tspan> = 301</text>
<path d="M920.1 682.6L920.1 661.4A21.2 21.2 0 0 1 930.31 701.18Z" fill="#c2662b"/><path d="M920.1 682.6L930.31 701.18A21.2 21.2 0 1 1 914.54 662.14Z" fill="#0b5d97"/><path d="M920.1 682.6L914.54 662.14A21.2 21.2 0 0 1 920.1 661.4Z" fill="#d0d2d3"/>
<text x="920.1" y="652.3" font-size="15" fill="#231f20" text-anchor="middle">US_NSS</text>
<text x="926.2" y="720.5" font-size="15" fill="#231f20" text-anchor="middle"><tspan font-style="italic">n</tspan> = 114</text>
<path d="M1021 682.6L1021 661.4A21.2 21.2 0 0 1 1035.7 697.88Z" fill="#c2662b"/><path d="M1021 682.6L1035.7 697.88A21.2 21.2 0 0 1 1006.01 667.61Z" fill="#0b5d97"/><path d="M1021 682.6L1006.01 667.61A21.2 21.2 0 0 1 1021 661.4Z" fill="#d0d2d3"/>
<text x="1021" y="652.3" font-size="15" fill="#231f20" text-anchor="middle">PB</text>
<text x="1022.6" y="720.5" font-size="15" fill="#231f20" text-anchor="middle"><tspan font-style="italic">n</tspan> = 84</text>
<path d="M1122.1 682.6L1122.1 661.4A21.2 21.2 0 0 1 1139.03 695.36Z" fill="#c2662b"/><path d="M1122.1 682.6L1139.03 695.36A21.2 21.2 0 1 1 1117.29 661.95Z" fill="#0b5d97"/><path d="M1122.1 682.6L1117.29 661.95A21.2 21.2 0 0 1 1122.1 661.4Z" fill="#d0d2d3"/>
<text x="1122.1" y="652.3" font-size="15" fill="#231f20" text-anchor="middle">SPT</text>
<text x="1126" y="720.5" font-size="15" fill="#231f20" text-anchor="middle"><tspan font-style="italic">n</tspan> = 129</text>
<path d="M57 736.3H444.3" stroke="#231f20" stroke-width="2"/>
<path d="M487.3 737.3H1152" stroke="#231f20" stroke-width="2"/>
<text x="251.3" y="757" font-size="15" fill="#231f20" text-anchor="middle">FHGs</text>
<text x="749.5" y="757" font-size="15" fill="#231f20" text-anchor="middle">MHGs</text>
<rect x="927.2" y="746.8" width="17.5" height="17" fill="#c56b2e"/>
<text x="951.5" y="759.9" font-size="15" fill="#231f20">Era I</text>
<rect x="1001.3" y="746.8" width="17.5" height="17" fill="#226ba4"/>
<text x="1025.6" y="759.9" font-size="15" fill="#231f20">Era II</text>
<rect x="1080.5" y="746.8" width="17.5" height="17" fill="#d0d2d3"/>
<text x="1104.8" y="759.9" font-size="15" fill="#231f20">Unknown</text>
</svg></body></html>
